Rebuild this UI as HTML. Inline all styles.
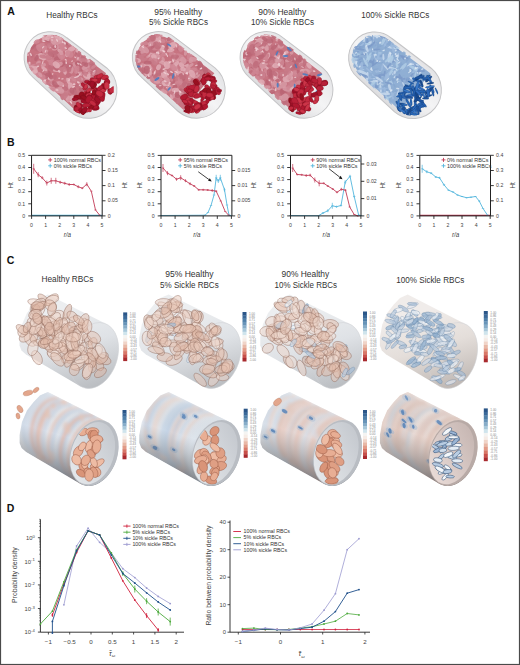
<!DOCTYPE html>
<html><head><meta charset="utf-8"><style>
html,body{margin:0;padding:0;background:#fff;}
body{width:520px;height:665px;overflow:hidden;}
svg{display:block;} text{font-family:'Liberation Sans',sans-serif;}
.k0{fill:#c57482;opacity:0.85}
.k1{fill:#d594a0;opacity:0.85}
.k2{fill:#cd808e;opacity:0.85}
.k3{fill:#b65c6c;opacity:0.85}
.k4{fill:#bd6676;opacity:0.85}
.k5{fill:#dea8b2;opacity:0.85}
.k6{fill:#f0d0d6;opacity:0.8}
.k7{fill:#b01830;stroke:#70101c;stroke-width:0.25}
.k8{fill:#981020;stroke:#70101c;stroke-width:0.25}
.k9{fill:#a01028;stroke:#70101c;stroke-width:0.25}
.ka{fill:#b82038;stroke:#70101c;stroke-width:0.25}
.kb{fill:#cc3448;stroke:#70101c;stroke-width:0.25}
.kc{fill:#c42a40;stroke:#70101c;stroke-width:0.25}
.kd{fill:#4a7cc0;opacity:0.9}
.ke{fill:#98b6da;opacity:0.85}
.kf{fill:#86a8d0;opacity:0.85}
.k10{fill:#7494c6;opacity:0.85}
.k11{fill:#c6d8ec;opacity:0.85}
.k12{fill:#80a2ce;opacity:0.85}
.k13{fill:#accae4;opacity:0.85}
.k14{fill:#dce8f4;opacity:0.8}
.k15{fill:#2660b0;stroke:#103a70;stroke-width:0.25}
.k16{fill:#2a68b8;stroke:#103a70;stroke-width:0.25}
.k17{fill:#3a78c8;stroke:#103a70;stroke-width:0.25}
.k18{fill:#1f54a0;stroke:#103a70;stroke-width:0.25}
.k19{fill:#2f6cc0;stroke:#103a70;stroke-width:0.25}
.k1a{fill:#1a4a90;stroke:#103a70;stroke-width:0.25}
.k1b{fill:#dcb4a2;fill-opacity:0.5;stroke:#8a6254;stroke-width:0.55;stroke-opacity:0.7}
.k1c{fill:#e4c2b2;fill-opacity:0.5;stroke:#8a6254;stroke-width:0.55;stroke-opacity:0.7}
.k1d{fill:#e9c8b8;fill-opacity:0.5;stroke:#8a6254;stroke-width:0.55;stroke-opacity:0.7}
.k1e{fill:#e2bcaa;fill-opacity:0.5;stroke:#8a6254;stroke-width:0.55;stroke-opacity:0.7}
.k1f{fill:#f0dcd2;fill-opacity:0.5;stroke:#8a6254;stroke-width:0.55;stroke-opacity:0.7}
.k20{fill:#eed4c8;fill-opacity:0.5;stroke:#8a6254;stroke-width:0.55;stroke-opacity:0.7}
.k21{fill:#dfe6ee;fill-opacity:0.7;stroke:#56789c;stroke-width:0.45;stroke-opacity:0.6}
.k22{fill:#a6bed6;fill-opacity:0.7;stroke:#56789c;stroke-width:0.45;stroke-opacity:0.6}
.k23{fill:#cdd9e6;fill-opacity:0.7;stroke:#56789c;stroke-width:0.45;stroke-opacity:0.6}
.k24{fill:#eef2f6;fill-opacity:0.7;stroke:#56789c;stroke-width:0.45;stroke-opacity:0.6}
.k25{fill:#b8cade;fill-opacity:0.7;stroke:#56789c;stroke-width:0.45;stroke-opacity:0.6}
.k26{fill:#94b2d0;fill-opacity:0.7;stroke:#56789c;stroke-width:0.45;stroke-opacity:0.6}
.k27{fill:#e9c6b8;opacity:0.6}
.k28{fill:#ecd0c4;opacity:0.6}
.k29{fill:#d2dcea;opacity:0.6}
.k2a{fill:#c6d3e4;opacity:0.6}
.k2b{fill:#e4bcae;opacity:0.6}
.k2c{fill:#df9f84;stroke:#9a5a44;stroke-width:0.45}
.k2d{fill:#e8ae94;stroke:#9a5a44;stroke-width:0.45}
.k2e{fill:#d99478;stroke:#9a5a44;stroke-width:0.45}
.k2f{fill:#eebca4;stroke:#9a5a44;stroke-width:0.45}
.k30{fill:#e3a68c;stroke:#b07860;stroke-width:0.3}
.k31{fill:#e8d4cc;opacity:0.6}
.k32{fill:#c4d4e6;opacity:0.6}
.k33{fill:#e4cfc8;opacity:0.6}
.k34{fill:#bccde2;opacity:0.6}
.k35{fill:#dfe6ee;opacity:0.6}
.k36{fill:#2f65a8;opacity:0.85}
.k37{fill:#8fb2d8;opacity:0.35}
.k38{fill:#e2c4b8;opacity:0.6}
.k39{fill:#e8cbc0;opacity:0.6}
.k3a{fill:#d8e0ea;opacity:0.6}
.k3b{fill:#cfd9e6;opacity:0.6}
.k3c{fill:#e6d2ca;opacity:0.6}
.k3d{fill:#e2ccc4;opacity:0.6}
.k3e{fill:#dec4ba;opacity:0.6}
.k3f{fill:#dcc6be;opacity:0.6}
.k40{fill:#f4f7fa;stroke:#2e4e74;stroke-width:0.5}
.k41{fill:#b8cce2;stroke:#2e4e74;stroke-width:0.5}
.k42{fill:#e4ecf4;stroke:#2e4e74;stroke-width:0.5}
.k43{fill:#9ab4d4;stroke:#2e4e74;stroke-width:0.5}
.k44{fill:#d0deec;stroke:#2e4e74;stroke-width:0.5}
</style></head><body>
<svg width="520" height="665" viewBox="0 0 520 665">
<defs><filter id="bl" x="-10%" y="-10%" width="120%" height="120%"><feGaussianBlur stdDeviation="1.6"/></filter></defs>
<rect x="0" y="0" width="520" height="665" fill="#fff"/>
<defs><clipPath id="capA1"><path d="M-25,-23 L25,-25.5 A25.5,25.5 0 0 1 25,25.5 L-25,23 A23,23 0 0 1 -25,-23 Z"/></clipPath><linearGradient id="capg1" x1="0" y1="0" x2="0" y2="1"><stop offset="0" stop-color="#e4e4e6"/><stop offset="0.5" stop-color="#f4f4f5"/><stop offset="1" stop-color="#dcdcde"/></linearGradient></defs>
<g transform="translate(69.25,73.75) rotate(40)">
<path d="M-25,-26 L25,-28.5 A28.5,28.5 0 0 1 25,28.5 L-25,26 A26,26 0 0 1 -25,-26 Z" fill="url(#capg1)" stroke="#c4c4c6" stroke-width="1"/>
<g clip-path="url(#capA1)">
<path d="M-25,-21.5 L28,-24.0 L28,24.0 L-25,21.5 A21.5,21.5 0 0 1 -25,-21.5 Z" fill="#c46c7a"/>
<ellipse class="k0" rx="3.8" ry="1.8" transform="translate(-24.6,-16.1)rotate(17)"/>
<ellipse class="k1" rx="2.9" ry="1.4" transform="translate(-7.5,18.8)rotate(13)"/>
<ellipse class="k2" rx="4.2" ry="2.0" transform="translate(-40.0,-3.5)rotate(114)"/>
<ellipse class="k2" rx="3.7" ry="1.7" transform="translate(-7.5,-20.2)rotate(8)"/>
<ellipse class="k3" rx="2.8" ry="1.4" transform="translate(10.7,-9.7)rotate(101)"/>
<ellipse class="k4" rx="3.6" ry="1.9" transform="translate(-1.0,-18.3)rotate(99)"/>
<ellipse class="k1" rx="2.9" ry="2.0" transform="translate(-41.9,-20.3)rotate(140)"/>
<ellipse class="k2" rx="3.2" ry="1.7" transform="translate(-15.3,19.5)rotate(126)"/>
<ellipse class="k5" rx="3.6" ry="2.7" transform="translate(-29.9,3.4)rotate(81)"/>
<ellipse class="k3" rx="3.5" ry="1.8" transform="translate(-5.8,-19.6)rotate(27)"/>
<ellipse class="k0" rx="3.8" ry="2.8" transform="translate(-13.7,-21.2)rotate(142)"/>
<ellipse class="k1" rx="3.2" ry="2.0" transform="translate(8.0,-7.4)rotate(12)"/>
<ellipse class="k5" rx="3.9" ry="1.8" transform="translate(-39.8,-10.6)rotate(126)"/>
<ellipse class="k1" rx="4.1" ry="2.3" transform="translate(-3.3,22.7)rotate(160)"/>
<ellipse class="k1" rx="3.2" ry="2.1" transform="translate(-23.1,20.3)rotate(11)"/>
<ellipse class="k1" rx="3.0" ry="1.8" transform="translate(4.7,-17.1)rotate(15)"/>
<ellipse class="k0" rx="4.3" ry="3.1" transform="translate(-16.4,2.3)rotate(50)"/>
<ellipse class="k2" rx="4.3" ry="3.4" transform="translate(-18.6,-6.5)rotate(15)"/>
<ellipse class="k2" rx="2.5" ry="1.9" transform="translate(-36.0,7.3)rotate(47)"/>
<ellipse class="k2" rx="3.2" ry="2.1" transform="translate(-45.7,-3.7)rotate(124)"/>
<ellipse class="k5" rx="3.9" ry="1.8" transform="translate(-12.0,5.4)rotate(144)"/>
<ellipse class="k4" rx="2.7" ry="1.8" transform="translate(-20.1,-4.6)rotate(34)"/>
<ellipse class="k4" rx="2.7" ry="1.8" transform="translate(19.0,-2.7)rotate(0)"/>
<ellipse class="k2" rx="3.2" ry="1.5" transform="translate(-36.0,-18.3)rotate(111)"/>
<ellipse class="k4" rx="3.2" ry="1.8" transform="translate(-36.2,-11.4)rotate(21)"/>
<ellipse class="k2" rx="3.5" ry="1.9" transform="translate(-13.8,22.0)rotate(18)"/>
<ellipse class="k4" rx="4.2" ry="2.1" transform="translate(-23.4,-10.8)rotate(37)"/>
<ellipse class="k0" rx="3.9" ry="3.0" transform="translate(16.8,-6.4)rotate(54)"/>
<ellipse class="k2" rx="4.2" ry="2.6" transform="translate(-3.6,-18.8)rotate(64)"/>
<ellipse class="k0" rx="3.5" ry="2.4" transform="translate(-31.3,1.9)rotate(146)"/>
<ellipse class="k5" rx="4.1" ry="3.0" transform="translate(19.0,16.2)rotate(145)"/>
<ellipse class="k3" rx="4.0" ry="3.2" transform="translate(-32.8,-0.3)rotate(85)"/>
<ellipse class="k5" rx="3.2" ry="2.3" transform="translate(-33.2,4.8)rotate(178)"/>
<ellipse class="k2" rx="2.9" ry="1.6" transform="translate(17.0,-6.2)rotate(61)"/>
<ellipse class="k5" rx="3.7" ry="1.7" transform="translate(-14.1,22.3)rotate(62)"/>
<ellipse class="k5" rx="2.7" ry="1.6" transform="translate(-3.6,15.4)rotate(135)"/>
<ellipse class="k5" rx="4.1" ry="2.3" transform="translate(-14.4,-14.8)rotate(71)"/>
<ellipse class="k2" rx="3.9" ry="2.0" transform="translate(-19.5,20.6)rotate(5)"/>
<ellipse class="k0" rx="3.8" ry="2.5" transform="translate(-7.0,-1.6)rotate(176)"/>
<ellipse class="k4" rx="3.6" ry="1.8" transform="translate(-2.6,-6.9)rotate(144)"/>
<ellipse class="k2" rx="4.0" ry="2.0" transform="translate(1.9,-18.3)rotate(149)"/>
<ellipse class="k0" rx="3.1" ry="1.6" transform="translate(-32.1,-11.4)rotate(59)"/>
<ellipse class="k1" rx="2.6" ry="1.9" transform="translate(-10.1,15.4)rotate(119)"/>
<ellipse class="k2" rx="4.2" ry="3.1" transform="translate(7.8,0.8)rotate(96)"/>
<ellipse class="k4" rx="3.4" ry="1.7" transform="translate(-11.4,-22.1)rotate(140)"/>
<ellipse class="k4" rx="3.7" ry="1.8" transform="translate(-36.1,-16.5)rotate(59)"/>
<ellipse class="k0" rx="4.1" ry="2.0" transform="translate(-11.8,2.6)rotate(10)"/>
<ellipse class="k4" rx="2.7" ry="1.6" transform="translate(-33.4,-21.1)rotate(137)"/>
<ellipse class="k0" rx="3.7" ry="2.3" transform="translate(14.2,-2.6)rotate(36)"/>
<ellipse class="k2" rx="4.1" ry="2.6" transform="translate(-27.7,0.4)rotate(126)"/>
<ellipse class="k2" rx="3.0" ry="1.9" transform="translate(11.9,20.3)rotate(151)"/>
<ellipse class="k2" rx="3.4" ry="1.6" transform="translate(-36.9,-17.4)rotate(77)"/>
<ellipse class="k5" rx="2.7" ry="2.0" transform="translate(-32.0,-9.1)rotate(116)"/>
<ellipse class="k5" rx="2.8" ry="1.7" transform="translate(-21.8,-11.4)rotate(171)"/>
<ellipse class="k2" rx="4.5" ry="3.3" transform="translate(-19.7,-0.6)rotate(127)"/>
<ellipse class="k4" rx="3.3" ry="1.9" transform="translate(19.6,-4.4)rotate(130)"/>
<ellipse class="k3" rx="3.4" ry="1.5" transform="translate(-44.7,2.5)rotate(93)"/>
<ellipse class="k2" rx="2.7" ry="2.1" transform="translate(-26.5,21.2)rotate(175)"/>
<ellipse class="k3" rx="2.6" ry="1.9" transform="translate(-39.1,-10.8)rotate(136)"/>
<ellipse class="k1" rx="3.9" ry="3.0" transform="translate(8.1,16.1)rotate(27)"/>
<ellipse class="k4" rx="3.9" ry="1.9" transform="translate(14.7,3.2)rotate(144)"/>
<ellipse class="k4" rx="3.0" ry="1.4" transform="translate(-33.9,18.2)rotate(144)"/>
<ellipse class="k1" rx="2.6" ry="2.0" transform="translate(-40.5,16.4)rotate(2)"/>
<ellipse class="k4" rx="4.3" ry="2.9" transform="translate(19.6,-3.8)rotate(95)"/>
<ellipse class="k2" rx="2.8" ry="1.3" transform="translate(-30.3,-18.0)rotate(168)"/>
<ellipse class="k5" rx="2.9" ry="1.8" transform="translate(-4.5,1.4)rotate(32)"/>
<ellipse class="k5" rx="3.0" ry="1.4" transform="translate(-23.1,-22.2)rotate(91)"/>
<ellipse class="k5" rx="3.0" ry="1.8" transform="translate(18.6,0.7)rotate(147)"/>
<ellipse class="k0" rx="4.2" ry="2.4" transform="translate(-17.5,-0.2)rotate(55)"/>
<ellipse class="k5" rx="2.9" ry="2.2" transform="translate(-31.8,-12.4)rotate(114)"/>
<ellipse class="k4" rx="2.6" ry="1.3" transform="translate(-19.3,-7.0)rotate(113)"/>
<ellipse class="k1" rx="2.6" ry="1.8" transform="translate(12.1,-3.2)rotate(157)"/>
<ellipse class="k1" rx="3.0" ry="1.6" transform="translate(-1.7,-10.0)rotate(33)"/>
<ellipse class="k0" rx="3.2" ry="1.8" transform="translate(-28.2,-22.8)rotate(58)"/>
<ellipse class="k3" rx="2.9" ry="1.5" transform="translate(-43.7,17.6)rotate(69)"/>
<ellipse class="k4" rx="2.9" ry="1.8" transform="translate(-14.7,0.1)rotate(16)"/>
<ellipse class="k3" rx="3.7" ry="2.2" transform="translate(7.9,-16.4)rotate(55)"/>
<ellipse class="k5" rx="3.6" ry="2.5" transform="translate(-30.6,3.9)rotate(161)"/>
<ellipse class="k1" rx="4.0" ry="2.8" transform="translate(5.7,4.4)rotate(27)"/>
<ellipse class="k0" rx="2.6" ry="1.9" transform="translate(1.8,6.6)rotate(113)"/>
<ellipse class="k0" rx="2.8" ry="1.8" transform="translate(2.4,14.4)rotate(102)"/>
<ellipse class="k5" rx="3.9" ry="2.8" transform="translate(7.7,-22.3)rotate(123)"/>
<ellipse class="k3" rx="2.6" ry="1.3" transform="translate(-0.2,-12.4)rotate(173)"/>
<ellipse class="k0" rx="2.6" ry="1.2" transform="translate(-21.1,-2.2)rotate(123)"/>
<ellipse class="k0" rx="4.1" ry="2.9" transform="translate(-13.7,-22.8)rotate(162)"/>
<ellipse class="k4" rx="4.0" ry="2.5" transform="translate(-39.9,1.2)rotate(152)"/>
<ellipse class="k1" rx="3.0" ry="2.0" transform="translate(-30.5,11.8)rotate(89)"/>
<ellipse class="k0" rx="3.9" ry="2.8" transform="translate(-20.8,-1.0)rotate(114)"/>
<ellipse class="k5" rx="3.2" ry="2.1" transform="translate(-32.9,4.6)rotate(55)"/>
<ellipse class="k5" rx="2.6" ry="1.4" transform="translate(-8.5,-22.4)rotate(18)"/>
<ellipse class="k1" rx="3.9" ry="2.2" transform="translate(-31.6,-0.5)rotate(84)"/>
<ellipse class="k1" rx="2.9" ry="2.3" transform="translate(-38.2,18.1)rotate(3)"/>
<ellipse class="k3" rx="4.4" ry="2.7" transform="translate(-15.7,14.7)rotate(70)"/>
<ellipse class="k5" rx="2.6" ry="1.3" transform="translate(14.5,19.8)rotate(94)"/>
<ellipse class="k4" rx="4.1" ry="2.6" transform="translate(16.9,-16.9)rotate(127)"/>
<ellipse class="k4" rx="3.5" ry="1.6" transform="translate(-30.7,18.3)rotate(171)"/>
<ellipse class="k1" rx="4.0" ry="2.4" transform="translate(-1.0,-4.4)rotate(57)"/>
<ellipse class="k4" rx="4.0" ry="3.0" transform="translate(9.5,-22.9)rotate(169)"/>
<ellipse class="k4" rx="4.0" ry="2.1" transform="translate(-33.1,-22.5)rotate(71)"/>
<ellipse class="k3" rx="3.2" ry="1.9" transform="translate(19.9,4.1)rotate(154)"/>
<ellipse class="k2" rx="3.8" ry="2.6" transform="translate(-27.5,-20.6)rotate(45)"/>
<ellipse class="k1" rx="2.9" ry="1.7" transform="translate(-28.5,0.5)rotate(159)"/>
<ellipse class="k0" rx="4.3" ry="3.4" transform="translate(7.6,6.0)rotate(37)"/>
<ellipse class="k2" rx="3.3" ry="2.2" transform="translate(-40.7,19.9)rotate(116)"/>
<ellipse class="k1" rx="4.4" ry="2.2" transform="translate(-27.1,-20.7)rotate(75)"/>
<ellipse class="k1" rx="4.0" ry="2.7" transform="translate(-27.4,-11.2)rotate(118)"/>
<ellipse class="k2" rx="3.3" ry="1.7" transform="translate(-26.1,2.6)rotate(14)"/>
<ellipse class="k3" rx="3.6" ry="2.2" transform="translate(-13.0,14.3)rotate(179)"/>
<ellipse class="k3" rx="2.9" ry="1.4" transform="translate(-16.3,-16.6)rotate(100)"/>
<ellipse class="k4" rx="4.1" ry="2.1" transform="translate(-24.9,-6.1)rotate(135)"/>
<ellipse class="k3" rx="3.5" ry="2.1" transform="translate(-18.8,-4.0)rotate(135)"/>
<ellipse class="k0" rx="3.2" ry="2.2" transform="translate(-13.1,3.4)rotate(113)"/>
<ellipse class="k1" rx="3.0" ry="1.6" transform="translate(10.9,-13.1)rotate(116)"/>
<ellipse class="k2" rx="4.1" ry="3.3" transform="translate(-17.5,-8.6)rotate(6)"/>
<ellipse class="k4" rx="3.4" ry="2.3" transform="translate(0.8,18.2)rotate(13)"/>
<ellipse class="k1" rx="3.6" ry="2.2" transform="translate(15.4,19.7)rotate(45)"/>
<ellipse class="k5" rx="3.5" ry="2.4" transform="translate(-38.8,-15.9)rotate(126)"/>
<ellipse class="k4" rx="2.7" ry="1.9" transform="translate(9.9,18.2)rotate(141)"/>
<ellipse class="k2" rx="3.8" ry="2.1" transform="translate(-30.6,19.3)rotate(113)"/>
<ellipse class="k3" rx="4.0" ry="2.0" transform="translate(-11.1,-2.9)rotate(94)"/>
<ellipse class="k4" rx="2.9" ry="1.9" transform="translate(-7.5,-5.1)rotate(97)"/>
<ellipse class="k2" rx="3.1" ry="2.3" transform="translate(19.8,-10.2)rotate(86)"/>
<ellipse class="k3" rx="4.4" ry="3.1" transform="translate(-30.5,-11.6)rotate(10)"/>
<ellipse class="k2" rx="3.8" ry="1.8" transform="translate(-33.2,17.7)rotate(120)"/>
<ellipse class="k1" rx="2.6" ry="1.5" transform="translate(15.1,-12.6)rotate(65)"/>
<ellipse class="k4" rx="3.1" ry="2.3" transform="translate(-19.8,-22.7)rotate(37)"/>
<ellipse class="k2" rx="4.1" ry="2.2" transform="translate(18.0,-8.7)rotate(48)"/>
<ellipse class="k2" rx="3.7" ry="2.5" transform="translate(12.7,-18.0)rotate(87)"/>
<ellipse class="k4" rx="3.7" ry="2.9" transform="translate(14.1,-20.4)rotate(38)"/>
<ellipse class="k1" rx="2.6" ry="1.2" transform="translate(18.3,-16.5)rotate(81)"/>
<ellipse class="k2" rx="2.7" ry="1.3" transform="translate(1.0,-8.5)rotate(59)"/>
<ellipse class="k5" rx="4.0" ry="1.8" transform="translate(-33.8,20.1)rotate(131)"/>
<ellipse class="k4" rx="3.4" ry="1.7" transform="translate(9.4,22.3)rotate(50)"/>
<ellipse class="k2" rx="2.7" ry="2.2" transform="translate(-22.8,21.0)rotate(68)"/>
<ellipse class="k5" rx="4.1" ry="2.0" transform="translate(4.7,-8.8)rotate(85)"/>
<ellipse class="k1" rx="2.9" ry="1.7" transform="translate(-21.4,19.3)rotate(5)"/>
<ellipse class="k4" rx="4.0" ry="1.9" transform="translate(-18.9,14.3)rotate(84)"/>
<ellipse class="k0" rx="2.9" ry="1.4" transform="translate(7.0,-20.1)rotate(61)"/>
<ellipse class="k5" rx="3.7" ry="2.0" transform="translate(-28.0,21.1)rotate(124)"/>
<ellipse class="k5" rx="3.9" ry="2.6" transform="translate(15.0,-9.3)rotate(170)"/>
<ellipse class="k1" rx="2.7" ry="1.9" transform="translate(-41.7,15.0)rotate(172)"/>
<ellipse class="k1" rx="3.4" ry="2.1" transform="translate(-20.5,-11.5)rotate(33)"/>
<ellipse class="k0" rx="4.1" ry="3.0" transform="translate(7.0,11.0)rotate(43)"/>
<ellipse class="k0" rx="4.1" ry="2.7" transform="translate(10.8,-1.8)rotate(36)"/>
<ellipse class="k0" rx="2.6" ry="1.2" transform="translate(3.7,-11.6)rotate(98)"/>
<ellipse class="k0" rx="2.7" ry="1.3" transform="translate(-35.4,-3.4)rotate(15)"/>
<ellipse class="k2" rx="3.9" ry="2.4" transform="translate(-39.6,-0.1)rotate(24)"/>
<ellipse class="k5" rx="3.0" ry="1.9" transform="translate(-15.6,18.0)rotate(137)"/>
<ellipse class="k3" rx="3.1" ry="1.7" transform="translate(5.5,-9.5)rotate(133)"/>
<ellipse class="k0" rx="3.0" ry="1.5" transform="translate(-32.9,-11.6)rotate(34)"/>
<ellipse class="k5" rx="3.0" ry="1.9" transform="translate(-41.7,-11.4)rotate(146)"/>
<ellipse class="k2" rx="2.7" ry="1.7" transform="translate(-2.9,22.6)rotate(151)"/>
<ellipse class="k2" rx="3.1" ry="1.5" transform="translate(14.3,-21.1)rotate(108)"/>
<ellipse class="k2" rx="2.7" ry="1.7" transform="translate(8.6,-14.1)rotate(81)"/>
<ellipse class="k0" rx="4.4" ry="2.1" transform="translate(-28.8,12.8)rotate(128)"/>
<ellipse class="k3" rx="3.2" ry="1.5" transform="translate(-22.9,-21.3)rotate(7)"/>
<ellipse class="k1" rx="4.1" ry="3.0" transform="translate(2.3,19.0)rotate(122)"/>
<ellipse class="k0" rx="2.9" ry="2.1" transform="translate(-33.8,-8.6)rotate(87)"/>
<ellipse class="k0" rx="3.8" ry="1.9" transform="translate(-19.1,13.6)rotate(16)"/>
<ellipse class="k3" rx="3.3" ry="1.8" transform="translate(-35.2,9.0)rotate(75)"/>
<ellipse class="k4" rx="4.3" ry="2.5" transform="translate(-42.6,11.3)rotate(156)"/>
<ellipse class="k2" rx="2.9" ry="2.0" transform="translate(19.8,-6.3)rotate(170)"/>
<ellipse class="k0" rx="2.7" ry="1.3" transform="translate(-17.3,-15.8)rotate(159)"/>
<ellipse class="k5" rx="2.5" ry="1.6" transform="translate(-15.6,-15.5)rotate(145)"/>
<ellipse class="k2" rx="4.4" ry="3.1" transform="translate(-19.8,3.4)rotate(26)"/>
<ellipse class="k1" rx="4.4" ry="2.1" transform="translate(-27.3,1.0)rotate(136)"/>
<ellipse class="k4" rx="3.1" ry="2.3" transform="translate(6.3,14.0)rotate(176)"/>
<ellipse class="k5" rx="4.4" ry="2.5" transform="translate(-14.1,-20.5)rotate(112)"/>
<ellipse class="k1" rx="4.1" ry="2.1" transform="translate(8.4,-15.6)rotate(111)"/>
<ellipse class="k0" rx="3.6" ry="1.7" transform="translate(-33.1,-1.2)rotate(28)"/>
<ellipse class="k2" rx="4.4" ry="3.3" transform="translate(-22.3,-16.1)rotate(7)"/>
<ellipse class="k4" rx="2.6" ry="1.9" transform="translate(-8.9,11.8)rotate(70)"/>
<ellipse class="k3" rx="4.1" ry="2.7" transform="translate(-15.9,16.1)rotate(105)"/>
<ellipse class="k4" rx="3.4" ry="2.0" transform="translate(-17.9,7.3)rotate(1)"/>
<ellipse class="k1" rx="3.4" ry="2.3" transform="translate(19.1,-1.6)rotate(151)"/>
<ellipse class="k3" rx="2.6" ry="1.5" transform="translate(7.5,-4.6)rotate(17)"/>
<ellipse class="k4" rx="2.6" ry="1.7" transform="translate(-16.8,0.5)rotate(166)"/>
<ellipse class="k1" rx="2.7" ry="1.9" transform="translate(-25.3,10.1)rotate(117)"/>
<ellipse class="k5" rx="2.6" ry="1.8" transform="translate(5.8,-21.8)rotate(147)"/>
<ellipse class="k2" rx="3.5" ry="2.7" transform="translate(-33.2,22.2)rotate(124)"/>
<ellipse class="k3" rx="4.2" ry="2.8" transform="translate(1.6,-12.8)rotate(29)"/>
<ellipse class="k0" rx="4.1" ry="2.1" transform="translate(13.2,-10.4)rotate(174)"/>
<ellipse class="k3" rx="3.7" ry="2.0" transform="translate(-14.3,4.2)rotate(7)"/>
<ellipse class="k1" rx="4.4" ry="3.0" transform="translate(-34.0,-15.6)rotate(30)"/>
<ellipse class="k3" rx="3.6" ry="2.4" transform="translate(5.8,-17.7)rotate(174)"/>
<ellipse class="k3" rx="3.9" ry="3.0" transform="translate(-16.1,1.0)rotate(179)"/>
<ellipse class="k3" rx="4.1" ry="2.2" transform="translate(-4.4,-4.9)rotate(104)"/>
<ellipse class="k5" rx="3.4" ry="1.7" transform="translate(-22.2,12.2)rotate(172)"/>
<ellipse class="k0" rx="3.1" ry="2.5" transform="translate(-26.4,0.7)rotate(167)"/>
<ellipse class="k3" rx="4.0" ry="2.1" transform="translate(13.1,10.7)rotate(111)"/>
<ellipse class="k2" rx="4.3" ry="2.1" transform="translate(-17.5,0.6)rotate(110)"/>
<ellipse class="k0" rx="3.6" ry="2.0" transform="translate(-43.0,-20.5)rotate(64)"/>
<ellipse class="k0" rx="3.7" ry="1.9" transform="translate(-31.2,3.8)rotate(149)"/>
<ellipse class="k1" rx="4.1" ry="2.9" transform="translate(-35.5,-22.4)rotate(17)"/>
<ellipse class="k3" rx="4.1" ry="2.4" transform="translate(-3.9,17.1)rotate(174)"/>
<ellipse class="k0" rx="4.3" ry="2.8" transform="translate(-42.3,14.8)rotate(80)"/>
<ellipse class="k4" rx="3.0" ry="2.3" transform="translate(15.9,10.7)rotate(11)"/>
<ellipse class="k4" rx="2.8" ry="2.2" transform="translate(-44.3,-14.5)rotate(2)"/>
<ellipse class="k0" rx="2.8" ry="1.4" transform="translate(-9.6,20.3)rotate(116)"/>
<ellipse class="k4" rx="3.7" ry="2.3" transform="translate(-3.3,-3.9)rotate(54)"/>
<ellipse class="k4" rx="4.1" ry="2.8" transform="translate(-42.8,17.9)rotate(68)"/>
<ellipse class="k2" rx="2.7" ry="1.8" transform="translate(-17.2,19.0)rotate(41)"/>
<ellipse class="k5" rx="2.6" ry="1.5" transform="translate(-39.1,-12.3)rotate(167)"/>
<ellipse class="k5" rx="2.6" ry="1.8" transform="translate(16.2,-10.9)rotate(78)"/>
<ellipse class="k2" rx="3.0" ry="2.0" transform="translate(6.0,1.1)rotate(15)"/>
<ellipse class="k2" rx="4.3" ry="3.2" transform="translate(-12.5,-15.2)rotate(170)"/>
<ellipse class="k2" rx="4.3" ry="2.4" transform="translate(3.2,-8.0)rotate(68)"/>
<ellipse class="k0" rx="4.5" ry="3.3" transform="translate(10.2,19.4)rotate(85)"/>
<ellipse class="k5" rx="4.2" ry="2.5" transform="translate(9.4,9.1)rotate(42)"/>
<ellipse class="k0" rx="3.3" ry="2.2" transform="translate(12.4,13.3)rotate(164)"/>
<ellipse class="k3" rx="2.7" ry="2.1" transform="translate(-36.5,-21.8)rotate(176)"/>
<ellipse class="k4" rx="2.8" ry="1.9" transform="translate(0.2,-21.6)rotate(125)"/>
<ellipse class="k0" rx="3.7" ry="2.1" transform="translate(2.6,-20.0)rotate(160)"/>
<ellipse class="k4" rx="4.3" ry="3.4" transform="translate(-41.6,16.9)rotate(44)"/>
<ellipse class="k5" rx="4.4" ry="3.4" transform="translate(-32.6,-21.4)rotate(16)"/>
<ellipse class="k5" rx="3.5" ry="1.7" transform="translate(3.6,6.1)rotate(37)"/>
<ellipse class="k3" rx="2.5" ry="1.4" transform="translate(-24.9,-3.5)rotate(9)"/>
<ellipse class="k1" rx="4.0" ry="2.7" transform="translate(4.2,18.9)rotate(153)"/>
<ellipse class="k4" rx="3.3" ry="2.0" transform="translate(-5.2,-21.6)rotate(62)"/>
<ellipse class="k4" rx="2.9" ry="2.2" transform="translate(0.5,1.7)rotate(103)"/>
<ellipse class="k4" rx="3.5" ry="2.0" transform="translate(-27.1,-2.9)rotate(1)"/>
<ellipse class="k1" rx="4.1" ry="2.1" transform="translate(-13.6,-0.4)rotate(107)"/>
<ellipse class="k2" rx="3.7" ry="1.8" transform="translate(17.2,0.7)rotate(169)"/>
<ellipse class="k1" rx="4.4" ry="3.1" transform="translate(-30.7,-15.4)rotate(142)"/>
<ellipse class="k1" rx="3.8" ry="2.2" transform="translate(0.0,13.2)rotate(167)"/>
<ellipse class="k3" rx="3.3" ry="2.3" transform="translate(12.9,11.3)rotate(37)"/>
<ellipse class="k5" rx="3.5" ry="2.0" transform="translate(-28.6,18.5)rotate(42)"/>
<ellipse class="k5" rx="4.0" ry="2.9" transform="translate(-15.6,1.5)rotate(6)"/>
<ellipse class="k0" rx="4.2" ry="2.6" transform="translate(-7.6,1.0)rotate(134)"/>
<ellipse class="k2" rx="4.0" ry="2.6" transform="translate(-34.8,-2.8)rotate(60)"/>
<ellipse class="k6" rx="1.3" ry="0.6" transform="translate(-1.9,8.3)rotate(136)"/>
<ellipse class="k6" rx="1.5" ry="1.0" transform="translate(10.4,4.9)rotate(130)"/>
<ellipse class="k6" rx="1.0" ry="1.0" transform="translate(-4.6,-6.4)rotate(47)"/>
<ellipse class="k6" rx="1.0" ry="0.8" transform="translate(19.0,20.8)rotate(35)"/>
<ellipse class="k6" rx="1.1" ry="0.6" transform="translate(-34.9,-14.8)rotate(49)"/>
<ellipse class="k6" rx="1.1" ry="0.9" transform="translate(-37.7,17.3)rotate(84)"/>
<ellipse class="k6" rx="1.2" ry="0.6" transform="translate(-44.2,14.9)rotate(177)"/>
<ellipse class="k6" rx="1.1" ry="0.9" transform="translate(-25.2,-20.1)rotate(1)"/>
<ellipse class="k6" rx="1.5" ry="0.8" transform="translate(-28.8,14.8)rotate(116)"/>
<ellipse class="k6" rx="1.5" ry="0.9" transform="translate(11.7,7.1)rotate(116)"/>
<ellipse class="k6" rx="1.0" ry="0.6" transform="translate(-5.9,-11.4)rotate(78)"/>
<ellipse class="k6" rx="1.7" ry="0.6" transform="translate(-27.6,8.4)rotate(72)"/>
<ellipse class="k6" rx="1.6" ry="0.7" transform="translate(2.7,-14.4)rotate(4)"/>
<ellipse class="k6" rx="1.5" ry="0.9" transform="translate(12.5,0.8)rotate(161)"/>
<ellipse class="k6" rx="1.6" ry="1.0" transform="translate(-23.0,-20.6)rotate(19)"/>
<ellipse class="k6" rx="1.5" ry="1.0" transform="translate(-28.2,-11.8)rotate(36)"/>
<ellipse class="k6" rx="1.3" ry="0.6" transform="translate(-21.7,14.6)rotate(86)"/>
<ellipse class="k6" rx="1.2" ry="0.7" transform="translate(-43.9,12.3)rotate(134)"/>
<ellipse class="k6" rx="1.0" ry="0.8" transform="translate(-14.4,20.6)rotate(168)"/>
<ellipse class="k6" rx="1.4" ry="0.6" transform="translate(3.9,4.8)rotate(69)"/>
<ellipse class="k6" rx="1.7" ry="0.8" transform="translate(-40.9,-17.8)rotate(121)"/>
<ellipse class="k6" rx="1.1" ry="0.7" transform="translate(-6.1,-16.4)rotate(172)"/>
<ellipse class="k6" rx="1.8" ry="0.7" transform="translate(20.1,20.8)rotate(30)"/>
<ellipse class="k6" rx="1.6" ry="0.6" transform="translate(17.3,-18.1)rotate(116)"/>
<ellipse class="k6" rx="0.9" ry="0.8" transform="translate(3.3,13.2)rotate(150)"/>
<ellipse class="k6" rx="1.8" ry="0.9" transform="translate(8.3,-3.6)rotate(117)"/>
<ellipse class="k6" rx="1.6" ry="0.6" transform="translate(7.2,-1.3)rotate(127)"/>
<ellipse class="k6" rx="1.5" ry="0.7" transform="translate(1.1,20.3)rotate(145)"/>
<ellipse class="k6" rx="1.5" ry="0.7" transform="translate(8.5,-6.0)rotate(87)"/>
<ellipse class="k6" rx="1.7" ry="0.6" transform="translate(-3.2,-17.4)rotate(55)"/>
<ellipse class="k6" rx="1.4" ry="0.7" transform="translate(-19.2,-17.4)rotate(170)"/>
<ellipse class="k6" rx="1.4" ry="0.8" transform="translate(-9.4,-6.5)rotate(38)"/>
<ellipse class="k6" rx="1.4" ry="0.8" transform="translate(-40.2,-8.7)rotate(154)"/>
<ellipse class="k6" rx="1.6" ry="0.6" transform="translate(-32.6,-2.0)rotate(72)"/>
<ellipse class="k6" rx="1.5" ry="1.0" transform="translate(-9.2,4.6)rotate(16)"/>
<ellipse class="k6" rx="1.4" ry="0.6" transform="translate(15.4,2.0)rotate(89)"/>
<ellipse class="k6" rx="1.6" ry="0.8" transform="translate(-30.7,-17.7)rotate(21)"/>
<ellipse class="k6" rx="1.6" ry="0.7" transform="translate(-37.1,-3.4)rotate(100)"/>
<ellipse class="k6" rx="1.5" ry="0.6" transform="translate(-12.5,17.0)rotate(30)"/>
<ellipse class="k6" rx="1.0" ry="0.7" transform="translate(-4.8,9.9)rotate(125)"/>
<ellipse class="k6" rx="1.3" ry="0.7" transform="translate(-11.7,-8.5)rotate(180)"/>
<ellipse class="k6" rx="1.2" ry="0.8" transform="translate(0.3,-13.4)rotate(4)"/>
<ellipse class="k6" rx="1.8" ry="0.9" transform="translate(-41.9,9.9)rotate(17)"/>
<ellipse class="k6" rx="0.9" ry="0.6" transform="translate(-12.6,10.8)rotate(75)"/>
<ellipse class="k6" rx="1.5" ry="0.7" transform="translate(-36.5,-17.0)rotate(140)"/>
<rect x="-51.0" y="-27.0" width="102" height="54" fill="#fff" opacity="0.06"/>
</g>
<g clip-path="url(#capA1)">
<ellipse class="k7" rx="3.1" ry="1.8" transform="translate(19.2,-5.3)rotate(149)"/>
<ellipse class="k8" rx="3.4" ry="1.9" transform="translate(27.1,22.2)rotate(62)"/>
<ellipse class="k7" rx="2.8" ry="2.1" transform="translate(34.3,10.5)rotate(141)"/>
<ellipse class="k9" rx="3.5" ry="1.8" transform="translate(39.9,6.9)rotate(20)"/>
<ellipse class="k8" rx="3.8" ry="2.0" transform="translate(40.4,8.0)rotate(164)"/>
<ellipse class="ka" rx="3.7" ry="2.4" transform="translate(22.8,-9.7)rotate(15)"/>
<ellipse class="k7" rx="2.9" ry="1.9" transform="translate(39.3,6.5)rotate(76)"/>
<ellipse class="k9" rx="3.1" ry="2.1" transform="translate(42.5,-12.5)rotate(33)"/>
<ellipse class="kb" rx="3.5" ry="2.6" transform="translate(31.7,2.7)rotate(102)"/>
<ellipse class="kb" rx="3.5" ry="2.6" transform="translate(34.0,3.9)rotate(12)"/>
<ellipse class="kb" rx="3.7" ry="2.0" transform="translate(26.1,-14.0)rotate(99)"/>
<ellipse class="k7" rx="3.6" ry="2.2" transform="translate(37.2,9.9)rotate(123)"/>
<ellipse class="kc" rx="2.6" ry="1.8" transform="translate(42.4,-12.8)rotate(81)"/>
<ellipse class="kc" rx="3.8" ry="2.6" transform="translate(29.6,-20.1)rotate(131)"/>
<ellipse class="k9" rx="3.3" ry="2.4" transform="translate(38.2,11.2)rotate(164)"/>
<ellipse class="k9" rx="3.6" ry="2.1" transform="translate(42.6,9.5)rotate(131)"/>
<ellipse class="k8" rx="2.7" ry="1.6" transform="translate(35.6,20.4)rotate(131)"/>
<ellipse class="kc" rx="2.8" ry="2.1" transform="translate(25.2,3.8)rotate(113)"/>
<ellipse class="k8" rx="4.1" ry="2.9" transform="translate(23.5,9.0)rotate(60)"/>
<ellipse class="k8" rx="3.9" ry="2.5" transform="translate(28.2,19.8)rotate(131)"/>
<ellipse class="kc" rx="3.5" ry="2.6" transform="translate(34.6,2.9)rotate(68)"/>
<ellipse class="k7" rx="3.9" ry="2.2" transform="translate(26.3,-14.4)rotate(58)"/>
<ellipse class="k9" rx="3.8" ry="2.7" transform="translate(29.5,11.1)rotate(150)"/>
<ellipse class="k8" rx="3.0" ry="2.2" transform="translate(34.2,-17.8)rotate(123)"/>
<ellipse class="kc" rx="2.9" ry="2.0" transform="translate(38.6,13.9)rotate(56)"/>
<ellipse class="k7" rx="4.1" ry="2.6" transform="translate(37.1,7.1)rotate(142)"/>
<ellipse class="k8" rx="3.8" ry="2.1" transform="translate(26.6,3.7)rotate(94)"/>
<ellipse class="kc" rx="3.4" ry="1.9" transform="translate(29.3,23.0)rotate(35)"/>
<ellipse class="k8" rx="3.5" ry="2.1" transform="translate(34.2,19.5)rotate(154)"/>
<ellipse class="kb" rx="4.0" ry="2.4" transform="translate(30.3,24.1)rotate(142)"/>
<ellipse class="k7" rx="3.4" ry="1.7" transform="translate(35.2,16.8)rotate(37)"/>
<ellipse class="k9" rx="2.9" ry="2.2" transform="translate(36.2,-10.6)rotate(77)"/>
<ellipse class="k7" rx="4.1" ry="2.3" transform="translate(39.9,-4.6)rotate(61)"/>
<ellipse class="k7" rx="3.7" ry="2.3" transform="translate(32.4,-3.2)rotate(155)"/>
<ellipse class="kc" rx="2.7" ry="1.6" transform="translate(22.6,-15.0)rotate(115)"/>
<ellipse class="kc" rx="3.3" ry="1.8" transform="translate(39.5,-3.1)rotate(179)"/>
<ellipse class="k7" rx="3.2" ry="2.3" transform="translate(30.4,6.4)rotate(151)"/>
<ellipse class="k7" rx="3.6" ry="2.7" transform="translate(40.2,7.9)rotate(18)"/>
<ellipse class="kb" rx="3.8" ry="2.5" transform="translate(29.6,3.6)rotate(136)"/>
<ellipse class="kc" rx="2.8" ry="1.7" transform="translate(35.4,10.1)rotate(79)"/>
<ellipse class="k7" rx="3.3" ry="2.4" transform="translate(34.1,-18.6)rotate(28)"/>
<ellipse class="kb" rx="3.2" ry="2.2" transform="translate(31.7,-3.6)rotate(172)"/>
<ellipse class="k7" rx="3.1" ry="1.7" transform="translate(32.9,20.9)rotate(113)"/>
<ellipse class="k9" rx="2.8" ry="2.0" transform="translate(40.6,4.1)rotate(75)"/>
<ellipse class="k9" rx="3.1" ry="2.2" transform="translate(30.0,5.7)rotate(88)"/>
<ellipse class="kc" rx="4.0" ry="2.7" transform="translate(43.7,-15.7)rotate(101)"/>
<ellipse class="k9" rx="4.2" ry="2.5" transform="translate(32.1,-4.8)rotate(180)"/>
<ellipse class="ka" rx="4.0" ry="2.1" transform="translate(33.3,-1.3)rotate(176)"/>
<ellipse class="kb" rx="3.4" ry="2.1" transform="translate(35.9,16.5)rotate(0)"/>
<ellipse class="kc" rx="3.3" ry="2.4" transform="translate(34.3,-12.5)rotate(50)"/>
<ellipse class="k8" rx="3.0" ry="1.6" transform="translate(34.6,21.2)rotate(14)"/>
<ellipse class="k8" rx="3.0" ry="1.7" transform="translate(38.0,11.4)rotate(121)"/>
<ellipse class="k8" rx="2.6" ry="1.8" transform="translate(26.4,-5.3)rotate(73)"/>
<ellipse class="kb" rx="3.1" ry="2.2" transform="translate(29.5,-3.3)rotate(16)"/>
<ellipse class="k8" rx="3.7" ry="2.1" transform="translate(21.2,12.8)rotate(150)"/>
<ellipse class="k8" rx="3.6" ry="1.8" transform="translate(26.7,8.9)rotate(168)"/>
<ellipse class="k9" rx="3.0" ry="2.1" transform="translate(33.1,0.8)rotate(140)"/>
<ellipse class="ka" rx="3.1" ry="1.6" transform="translate(36.2,-10.9)rotate(89)"/>
<ellipse class="kc" rx="2.6" ry="2.0" transform="translate(21.3,0.6)rotate(111)"/>
<ellipse class="ka" rx="4.1" ry="2.1" transform="translate(33.3,13.2)rotate(133)"/>
<ellipse class="kb" rx="3.3" ry="1.9" transform="translate(29.2,23.0)rotate(19)"/>
<ellipse class="k7" rx="3.4" ry="1.9" transform="translate(33.5,1.7)rotate(22)"/>
<ellipse class="kb" rx="3.0" ry="2.0" transform="translate(36.6,-9.2)rotate(134)"/>
<ellipse class="k8" rx="3.2" ry="1.9" transform="translate(35.6,19.9)rotate(95)"/>
<ellipse class="k9" rx="3.1" ry="1.8" transform="translate(20.8,15.6)rotate(129)"/>
<ellipse class="k8" rx="3.1" ry="1.9" transform="translate(35.0,-12.4)rotate(10)"/>
<ellipse class="ka" rx="3.0" ry="1.8" transform="translate(18.3,-0.5)rotate(2)"/>
<ellipse class="kc" rx="2.9" ry="1.9" transform="translate(34.0,8.3)rotate(25)"/>
<ellipse class="k7" rx="3.6" ry="2.5" transform="translate(40.4,-1.8)rotate(6)"/>
<ellipse class="k7" rx="3.0" ry="1.9" transform="translate(26.1,-7.2)rotate(112)"/>
<ellipse class="k9" rx="4.1" ry="2.4" transform="translate(30.0,18.6)rotate(63)"/>
<ellipse class="k7" rx="4.1" ry="3.0" transform="translate(31.5,6.9)rotate(84)"/>
<ellipse class="kb" rx="2.8" ry="1.6" transform="translate(25.5,0.1)rotate(104)"/>
<ellipse class="ka" rx="3.1" ry="1.9" transform="translate(28.4,21.5)rotate(103)"/>
<ellipse class="k8" rx="3.3" ry="2.1" transform="translate(26.8,-6.4)rotate(86)"/>
<ellipse class="k8" rx="2.9" ry="1.8" transform="translate(30.9,-1.7)rotate(71)"/>
<ellipse class="k9" rx="3.1" ry="1.8" transform="translate(34.3,-2.2)rotate(51)"/>
<ellipse class="k9" rx="2.9" ry="1.5" transform="translate(36.5,1.0)rotate(79)"/>
<ellipse class="kc" rx="3.8" ry="2.0" transform="translate(36.9,7.4)rotate(178)"/>
<ellipse class="kc" rx="3.7" ry="2.0" transform="translate(24.9,-18.0)rotate(111)"/>
<ellipse class="kb" rx="3.8" ry="2.6" transform="translate(36.4,-14.9)rotate(48)"/>
<ellipse class="kb" rx="3.3" ry="1.7" transform="translate(23.5,-11.4)rotate(138)"/>
<ellipse class="k9" rx="3.5" ry="2.1" transform="translate(22.7,-6.3)rotate(157)"/>
<ellipse class="k9" rx="3.3" ry="2.3" transform="translate(24.2,-6.8)rotate(64)"/>
<ellipse class="kb" rx="2.6" ry="1.8" transform="translate(20.9,-0.9)rotate(69)"/>
<ellipse class="kc" rx="3.3" ry="2.0" transform="translate(27.3,18.0)rotate(16)"/>
<ellipse class="kc" rx="3.9" ry="2.9" transform="translate(36.0,-4.3)rotate(175)"/>
<ellipse class="k9" rx="3.1" ry="2.0" transform="translate(35.1,17.8)rotate(97)"/>
<ellipse class="k9" rx="3.7" ry="2.2" transform="translate(38.6,1.8)rotate(7)"/>
<ellipse class="ka" rx="3.3" ry="2.0" transform="translate(32.8,-8.8)rotate(101)"/>
</g>
</g>
<defs><clipPath id="capA2"><path d="M-25,-23 L25,-25.5 A25.5,25.5 0 0 1 25,25.5 L-25,23 A23,23 0 0 1 -25,-23 Z"/></clipPath><linearGradient id="capg2" x1="0" y1="0" x2="0" y2="1"><stop offset="0" stop-color="#e4e4e6"/><stop offset="0.5" stop-color="#f4f4f5"/><stop offset="1" stop-color="#dcdcde"/></linearGradient></defs>
<g transform="translate(177.5,73.6) rotate(40)">
<path d="M-25,-26 L25,-28.5 A28.5,28.5 0 0 1 25,28.5 L-25,26 A26,26 0 0 1 -25,-26 Z" fill="url(#capg2)" stroke="#c4c4c6" stroke-width="1"/>
<g clip-path="url(#capA2)">
<path d="M-25,-21.5 L28,-24.0 L28,24.0 L-25,21.5 A21.5,21.5 0 0 1 -25,-21.5 Z" fill="#c46c7a"/>
<ellipse class="k1" rx="4.4" ry="2.7" transform="translate(-8.1,17.5)rotate(138)"/>
<ellipse class="k4" rx="3.9" ry="2.8" transform="translate(13.3,4.0)rotate(31)"/>
<ellipse class="k4" rx="4.2" ry="2.6" transform="translate(-25.0,22.0)rotate(118)"/>
<ellipse class="k1" rx="4.4" ry="2.7" transform="translate(-26.5,-7.2)rotate(114)"/>
<ellipse class="k1" rx="2.9" ry="2.2" transform="translate(-11.4,14.5)rotate(33)"/>
<ellipse class="k5" rx="3.2" ry="2.6" transform="translate(-4.4,4.7)rotate(130)"/>
<ellipse class="k0" rx="2.5" ry="1.8" transform="translate(-0.3,-22.5)rotate(1)"/>
<ellipse class="k2" rx="3.7" ry="2.5" transform="translate(-25.9,15.7)rotate(32)"/>
<ellipse class="k0" rx="4.2" ry="3.2" transform="translate(4.8,3.1)rotate(179)"/>
<ellipse class="k0" rx="2.7" ry="1.4" transform="translate(-8.1,-4.1)rotate(19)"/>
<ellipse class="k0" rx="3.5" ry="2.6" transform="translate(-39.4,-15.2)rotate(78)"/>
<ellipse class="k2" rx="3.9" ry="2.5" transform="translate(6.8,6.9)rotate(129)"/>
<ellipse class="k0" rx="3.0" ry="1.5" transform="translate(-22.6,-15.2)rotate(11)"/>
<ellipse class="k1" rx="2.5" ry="1.3" transform="translate(-33.4,5.7)rotate(105)"/>
<ellipse class="k4" rx="3.7" ry="2.0" transform="translate(17.3,-2.8)rotate(29)"/>
<ellipse class="k1" rx="2.5" ry="1.9" transform="translate(-7.3,-15.0)rotate(55)"/>
<ellipse class="k2" rx="3.5" ry="2.7" transform="translate(-6.2,21.2)rotate(122)"/>
<ellipse class="k5" rx="3.3" ry="2.0" transform="translate(-1.5,3.9)rotate(87)"/>
<ellipse class="k2" rx="2.8" ry="1.6" transform="translate(6.3,-11.8)rotate(1)"/>
<ellipse class="k1" rx="3.2" ry="1.8" transform="translate(12.2,-4.8)rotate(60)"/>
<ellipse class="k0" rx="3.3" ry="2.6" transform="translate(-3.0,21.2)rotate(44)"/>
<ellipse class="k5" rx="3.0" ry="1.4" transform="translate(-33.4,-10.0)rotate(5)"/>
<ellipse class="k0" rx="2.8" ry="1.4" transform="translate(7.1,-11.9)rotate(150)"/>
<ellipse class="k2" rx="4.2" ry="3.1" transform="translate(-37.6,-2.6)rotate(66)"/>
<ellipse class="k3" rx="3.8" ry="2.5" transform="translate(-31.7,-4.4)rotate(171)"/>
<ellipse class="k5" rx="3.4" ry="1.7" transform="translate(-12.7,-12.5)rotate(180)"/>
<ellipse class="k1" rx="4.5" ry="2.9" transform="translate(-6.7,-2.7)rotate(109)"/>
<ellipse class="k0" rx="2.7" ry="1.7" transform="translate(-32.0,17.1)rotate(153)"/>
<ellipse class="k2" rx="2.6" ry="1.8" transform="translate(2.6,12.2)rotate(56)"/>
<ellipse class="k3" rx="2.9" ry="2.1" transform="translate(-20.3,-19.0)rotate(34)"/>
<ellipse class="k3" rx="4.3" ry="3.2" transform="translate(12.8,-19.9)rotate(35)"/>
<ellipse class="k1" rx="3.1" ry="2.3" transform="translate(1.4,-19.0)rotate(51)"/>
<ellipse class="k2" rx="4.0" ry="3.1" transform="translate(-19.4,18.8)rotate(169)"/>
<ellipse class="k1" rx="4.1" ry="2.8" transform="translate(-34.4,-6.1)rotate(5)"/>
<ellipse class="k5" rx="4.5" ry="2.7" transform="translate(0.4,-1.7)rotate(18)"/>
<ellipse class="k5" rx="3.7" ry="2.0" transform="translate(-26.8,-10.5)rotate(7)"/>
<ellipse class="k1" rx="2.9" ry="1.6" transform="translate(-43.4,-15.5)rotate(133)"/>
<ellipse class="k2" rx="4.4" ry="2.8" transform="translate(-9.5,6.0)rotate(103)"/>
<ellipse class="k3" rx="3.4" ry="2.3" transform="translate(1.3,-11.3)rotate(168)"/>
<ellipse class="k0" rx="3.8" ry="2.9" transform="translate(-38.6,12.1)rotate(109)"/>
<ellipse class="k2" rx="2.7" ry="2.0" transform="translate(-42.9,-11.8)rotate(140)"/>
<ellipse class="k5" rx="3.3" ry="2.4" transform="translate(-23.2,19.0)rotate(111)"/>
<ellipse class="k1" rx="3.2" ry="2.5" transform="translate(-31.4,1.3)rotate(167)"/>
<ellipse class="k1" rx="4.2" ry="2.8" transform="translate(-0.4,11.0)rotate(92)"/>
<ellipse class="k2" rx="3.8" ry="2.9" transform="translate(-1.3,-13.5)rotate(88)"/>
<ellipse class="k2" rx="4.2" ry="2.7" transform="translate(-33.5,20.8)rotate(98)"/>
<ellipse class="k4" rx="3.6" ry="1.9" transform="translate(18.0,6.3)rotate(30)"/>
<ellipse class="k5" rx="3.8" ry="1.9" transform="translate(-23.1,-18.7)rotate(127)"/>
<ellipse class="k1" rx="3.0" ry="1.9" transform="translate(-1.8,-12.1)rotate(24)"/>
<ellipse class="k0" rx="2.8" ry="1.9" transform="translate(-3.7,9.1)rotate(101)"/>
<ellipse class="k2" rx="3.6" ry="2.6" transform="translate(-24.0,14.5)rotate(122)"/>
<ellipse class="k2" rx="4.2" ry="2.5" transform="translate(-35.8,22.0)rotate(21)"/>
<ellipse class="k3" rx="2.9" ry="1.4" transform="translate(-26.9,-6.4)rotate(55)"/>
<ellipse class="k1" rx="4.4" ry="2.2" transform="translate(-38.7,-8.8)rotate(84)"/>
<ellipse class="k1" rx="2.6" ry="1.2" transform="translate(-22.0,-15.3)rotate(15)"/>
<ellipse class="k1" rx="3.6" ry="1.8" transform="translate(1.3,22.1)rotate(172)"/>
<ellipse class="k4" rx="3.1" ry="1.8" transform="translate(-13.8,13.1)rotate(116)"/>
<ellipse class="k2" rx="3.8" ry="2.0" transform="translate(-4.6,20.0)rotate(14)"/>
<ellipse class="k3" rx="3.3" ry="1.6" transform="translate(3.3,-21.8)rotate(33)"/>
<ellipse class="k5" rx="4.4" ry="2.2" transform="translate(-3.9,15.9)rotate(149)"/>
<ellipse class="k3" rx="2.9" ry="2.1" transform="translate(3.0,-8.0)rotate(41)"/>
<ellipse class="k4" rx="4.2" ry="2.2" transform="translate(-37.0,19.3)rotate(7)"/>
<ellipse class="k4" rx="4.1" ry="2.9" transform="translate(-8.6,5.9)rotate(170)"/>
<ellipse class="k0" rx="2.8" ry="1.6" transform="translate(-13.4,-0.0)rotate(113)"/>
<ellipse class="k1" rx="2.8" ry="1.9" transform="translate(-36.6,-12.5)rotate(16)"/>
<ellipse class="k4" rx="2.9" ry="2.0" transform="translate(-43.4,-2.8)rotate(6)"/>
<ellipse class="k4" rx="3.5" ry="1.8" transform="translate(-5.7,15.3)rotate(119)"/>
<ellipse class="k5" rx="3.2" ry="1.9" transform="translate(-12.0,-3.6)rotate(172)"/>
<ellipse class="k0" rx="3.3" ry="1.5" transform="translate(-34.4,10.3)rotate(122)"/>
<ellipse class="k1" rx="3.6" ry="2.3" transform="translate(-8.5,-1.4)rotate(175)"/>
<ellipse class="k0" rx="4.4" ry="3.5" transform="translate(14.0,16.8)rotate(15)"/>
<ellipse class="k0" rx="3.2" ry="2.2" transform="translate(7.4,10.2)rotate(103)"/>
<ellipse class="k3" rx="3.8" ry="2.1" transform="translate(16.9,-0.9)rotate(95)"/>
<ellipse class="k5" rx="2.9" ry="2.1" transform="translate(-4.2,16.0)rotate(15)"/>
<ellipse class="k0" rx="3.7" ry="2.2" transform="translate(-2.4,-5.9)rotate(43)"/>
<ellipse class="k2" rx="3.0" ry="2.3" transform="translate(-16.9,-11.0)rotate(99)"/>
<ellipse class="k0" rx="3.0" ry="1.5" transform="translate(-38.6,16.7)rotate(121)"/>
<ellipse class="k5" rx="3.4" ry="2.2" transform="translate(0.8,-12.6)rotate(20)"/>
<ellipse class="k4" rx="2.7" ry="1.6" transform="translate(-12.1,4.1)rotate(144)"/>
<ellipse class="k4" rx="3.5" ry="2.6" transform="translate(-37.1,0.1)rotate(113)"/>
<ellipse class="k0" rx="3.4" ry="2.4" transform="translate(17.4,0.7)rotate(31)"/>
<ellipse class="k0" rx="4.0" ry="2.0" transform="translate(17.4,2.9)rotate(10)"/>
<ellipse class="k2" rx="2.5" ry="1.7" transform="translate(-30.4,-5.9)rotate(83)"/>
<ellipse class="k2" rx="4.3" ry="2.1" transform="translate(-38.0,-16.8)rotate(101)"/>
<ellipse class="k3" rx="2.8" ry="2.0" transform="translate(14.6,17.1)rotate(145)"/>
<ellipse class="k0" rx="3.0" ry="1.6" transform="translate(2.6,-22.5)rotate(133)"/>
<ellipse class="k4" rx="2.6" ry="1.7" transform="translate(16.6,10.2)rotate(64)"/>
<ellipse class="k2" rx="2.6" ry="2.0" transform="translate(-24.4,4.7)rotate(46)"/>
<ellipse class="k4" rx="4.2" ry="2.7" transform="translate(-33.3,-2.4)rotate(142)"/>
<ellipse class="k3" rx="3.0" ry="1.5" transform="translate(-13.8,-19.6)rotate(157)"/>
<ellipse class="k5" rx="3.7" ry="2.0" transform="translate(-1.8,15.5)rotate(137)"/>
<ellipse class="k1" rx="2.5" ry="2.0" transform="translate(-28.3,-2.6)rotate(90)"/>
<ellipse class="k5" rx="2.6" ry="1.3" transform="translate(11.6,13.8)rotate(122)"/>
<ellipse class="k1" rx="2.8" ry="2.1" transform="translate(-20.1,-1.1)rotate(41)"/>
<ellipse class="k3" rx="3.2" ry="2.0" transform="translate(17.2,0.8)rotate(161)"/>
<ellipse class="k1" rx="2.8" ry="1.6" transform="translate(-7.1,-21.0)rotate(60)"/>
<ellipse class="k1" rx="3.1" ry="1.8" transform="translate(-15.1,20.1)rotate(60)"/>
<ellipse class="k2" rx="4.5" ry="2.1" transform="translate(-44.6,-1.9)rotate(131)"/>
<ellipse class="k3" rx="2.6" ry="2.1" transform="translate(-36.5,-5.3)rotate(102)"/>
<ellipse class="k0" rx="4.5" ry="2.1" transform="translate(-11.1,21.0)rotate(162)"/>
<ellipse class="k4" rx="3.4" ry="2.2" transform="translate(-39.7,-13.8)rotate(65)"/>
<ellipse class="k5" rx="4.2" ry="3.3" transform="translate(-27.4,13.6)rotate(13)"/>
<ellipse class="k2" rx="3.2" ry="2.4" transform="translate(17.6,-7.3)rotate(63)"/>
<ellipse class="k3" rx="2.6" ry="1.5" transform="translate(-9.7,-4.3)rotate(159)"/>
<ellipse class="k3" rx="4.3" ry="3.1" transform="translate(5.6,0.2)rotate(27)"/>
<ellipse class="k1" rx="3.8" ry="2.3" transform="translate(-32.4,17.9)rotate(102)"/>
<ellipse class="k3" rx="2.6" ry="1.5" transform="translate(-26.0,-15.2)rotate(45)"/>
<ellipse class="k2" rx="4.4" ry="2.1" transform="translate(-8.3,7.3)rotate(105)"/>
<ellipse class="k3" rx="3.7" ry="2.9" transform="translate(-40.7,-14.8)rotate(175)"/>
<ellipse class="k3" rx="4.3" ry="3.2" transform="translate(-0.4,10.2)rotate(162)"/>
<ellipse class="k3" rx="2.5" ry="1.3" transform="translate(-27.8,-11.2)rotate(43)"/>
<ellipse class="k3" rx="3.4" ry="2.6" transform="translate(-44.7,-20.8)rotate(156)"/>
<ellipse class="k0" rx="4.0" ry="3.1" transform="translate(-3.2,-14.0)rotate(9)"/>
<ellipse class="k4" rx="3.7" ry="2.6" transform="translate(-41.2,14.6)rotate(34)"/>
<ellipse class="k2" rx="3.8" ry="2.9" transform="translate(-10.6,17.3)rotate(58)"/>
<ellipse class="k3" rx="3.5" ry="2.3" transform="translate(11.3,-21.8)rotate(31)"/>
<ellipse class="k1" rx="2.7" ry="1.8" transform="translate(11.0,13.6)rotate(178)"/>
<ellipse class="k3" rx="4.2" ry="1.9" transform="translate(-19.6,20.3)rotate(102)"/>
<ellipse class="k3" rx="3.7" ry="2.6" transform="translate(19.2,-20.4)rotate(28)"/>
<ellipse class="k3" rx="3.6" ry="2.6" transform="translate(-44.8,-13.3)rotate(147)"/>
<ellipse class="k5" rx="3.7" ry="2.4" transform="translate(-18.1,1.8)rotate(177)"/>
<ellipse class="k1" rx="3.7" ry="2.7" transform="translate(-8.1,-12.4)rotate(137)"/>
<ellipse class="k1" rx="4.0" ry="3.2" transform="translate(5.2,-8.8)rotate(101)"/>
<ellipse class="k0" rx="3.0" ry="1.6" transform="translate(-22.2,1.4)rotate(86)"/>
<ellipse class="k2" rx="3.2" ry="2.6" transform="translate(-2.7,12.6)rotate(72)"/>
<ellipse class="k0" rx="3.7" ry="1.8" transform="translate(18.6,20.1)rotate(90)"/>
<ellipse class="k2" rx="4.4" ry="2.5" transform="translate(-9.4,-14.6)rotate(163)"/>
<ellipse class="k3" rx="4.1" ry="2.6" transform="translate(11.5,16.4)rotate(140)"/>
<ellipse class="k3" rx="3.5" ry="2.4" transform="translate(-30.0,22.2)rotate(162)"/>
<ellipse class="k5" rx="4.1" ry="1.9" transform="translate(-20.3,-13.2)rotate(132)"/>
<ellipse class="k4" rx="3.3" ry="2.5" transform="translate(-41.7,6.7)rotate(41)"/>
<ellipse class="k2" rx="3.3" ry="2.2" transform="translate(-21.2,18.7)rotate(6)"/>
<ellipse class="k3" rx="3.0" ry="1.7" transform="translate(-44.6,9.6)rotate(137)"/>
<ellipse class="k0" rx="4.5" ry="2.4" transform="translate(-3.6,-9.3)rotate(142)"/>
<ellipse class="k2" rx="4.0" ry="3.2" transform="translate(-14.5,20.0)rotate(148)"/>
<ellipse class="k2" rx="3.5" ry="2.6" transform="translate(-27.4,-7.7)rotate(58)"/>
<ellipse class="k2" rx="2.9" ry="1.4" transform="translate(-5.7,21.0)rotate(153)"/>
<ellipse class="k1" rx="4.0" ry="2.4" transform="translate(2.5,-20.9)rotate(156)"/>
<ellipse class="k4" rx="2.5" ry="1.2" transform="translate(19.7,-9.3)rotate(24)"/>
<ellipse class="k1" rx="3.2" ry="2.3" transform="translate(-26.0,0.1)rotate(123)"/>
<ellipse class="k3" rx="4.3" ry="3.0" transform="translate(-40.0,-7.4)rotate(176)"/>
<ellipse class="k4" rx="4.1" ry="2.8" transform="translate(-43.8,-12.2)rotate(24)"/>
<ellipse class="k4" rx="3.9" ry="2.7" transform="translate(-6.7,3.4)rotate(178)"/>
<ellipse class="k2" rx="2.7" ry="1.7" transform="translate(-25.1,17.4)rotate(95)"/>
<ellipse class="k0" rx="3.6" ry="2.4" transform="translate(-45.8,-12.7)rotate(90)"/>
<ellipse class="k3" rx="3.5" ry="2.7" transform="translate(-38.6,-6.7)rotate(175)"/>
<ellipse class="k5" rx="2.9" ry="1.4" transform="translate(10.3,21.7)rotate(32)"/>
<ellipse class="k1" rx="2.6" ry="1.6" transform="translate(-28.5,-19.8)rotate(142)"/>
<ellipse class="k1" rx="3.2" ry="1.5" transform="translate(16.8,-10.7)rotate(98)"/>
<ellipse class="k5" rx="4.5" ry="3.4" transform="translate(-9.8,8.8)rotate(48)"/>
<ellipse class="k1" rx="3.3" ry="1.6" transform="translate(-18.2,1.8)rotate(159)"/>
<ellipse class="k0" rx="3.8" ry="2.0" transform="translate(7.0,18.3)rotate(167)"/>
<ellipse class="k2" rx="3.3" ry="1.7" transform="translate(-29.2,5.1)rotate(119)"/>
<ellipse class="k1" rx="2.6" ry="1.8" transform="translate(-40.3,5.6)rotate(125)"/>
<ellipse class="k0" rx="3.6" ry="2.0" transform="translate(-24.6,6.7)rotate(0)"/>
<ellipse class="k1" rx="3.5" ry="2.3" transform="translate(3.2,16.3)rotate(42)"/>
<ellipse class="k1" rx="3.3" ry="2.3" transform="translate(-4.5,11.2)rotate(176)"/>
<ellipse class="k0" rx="4.2" ry="2.0" transform="translate(-28.4,7.3)rotate(120)"/>
<ellipse class="k5" rx="3.0" ry="2.3" transform="translate(15.0,12.2)rotate(63)"/>
<ellipse class="k0" rx="4.5" ry="2.1" transform="translate(-7.1,3.3)rotate(66)"/>
<ellipse class="k2" rx="3.2" ry="2.2" transform="translate(-32.5,-15.2)rotate(148)"/>
<ellipse class="k4" rx="4.2" ry="3.2" transform="translate(-15.6,6.5)rotate(58)"/>
<ellipse class="k5" rx="3.4" ry="2.0" transform="translate(-22.1,16.7)rotate(45)"/>
<ellipse class="k1" rx="4.1" ry="2.6" transform="translate(-39.2,-6.6)rotate(119)"/>
<ellipse class="k5" rx="3.4" ry="1.7" transform="translate(-27.8,-9.6)rotate(86)"/>
<ellipse class="k3" rx="2.8" ry="1.9" transform="translate(6.7,11.9)rotate(88)"/>
<ellipse class="k3" rx="3.5" ry="2.6" transform="translate(-2.4,5.6)rotate(3)"/>
<ellipse class="k5" rx="2.6" ry="1.3" transform="translate(-32.7,3.2)rotate(98)"/>
<ellipse class="k0" rx="3.0" ry="1.8" transform="translate(14.5,-11.2)rotate(115)"/>
<ellipse class="k0" rx="3.3" ry="2.4" transform="translate(10.7,-13.7)rotate(141)"/>
<ellipse class="k3" rx="3.3" ry="1.5" transform="translate(14.8,10.0)rotate(175)"/>
<ellipse class="k0" rx="3.0" ry="1.6" transform="translate(-17.6,4.9)rotate(23)"/>
<ellipse class="k4" rx="4.2" ry="2.7" transform="translate(-5.2,22.0)rotate(120)"/>
<ellipse class="k0" rx="4.0" ry="2.3" transform="translate(-24.3,-19.7)rotate(75)"/>
<ellipse class="k0" rx="4.1" ry="2.0" transform="translate(15.8,6.6)rotate(83)"/>
<ellipse class="k4" rx="3.3" ry="2.1" transform="translate(-15.5,15.6)rotate(79)"/>
<ellipse class="k5" rx="4.1" ry="2.8" transform="translate(-13.6,0.5)rotate(36)"/>
<ellipse class="k1" rx="3.1" ry="1.7" transform="translate(-10.3,19.6)rotate(139)"/>
<ellipse class="k4" rx="2.7" ry="2.0" transform="translate(-38.2,-12.8)rotate(89)"/>
<ellipse class="k2" rx="3.4" ry="2.5" transform="translate(10.0,-13.1)rotate(128)"/>
<ellipse class="k0" rx="3.9" ry="2.3" transform="translate(-14.1,-20.5)rotate(25)"/>
<ellipse class="k2" rx="3.8" ry="2.1" transform="translate(-19.1,-20.7)rotate(93)"/>
<ellipse class="k3" rx="3.0" ry="1.7" transform="translate(-45.6,22.5)rotate(69)"/>
<ellipse class="k5" rx="3.3" ry="2.5" transform="translate(-2.2,-9.3)rotate(9)"/>
<ellipse class="k3" rx="4.1" ry="3.1" transform="translate(-25.9,16.9)rotate(55)"/>
<ellipse class="k5" rx="3.8" ry="3.0" transform="translate(-37.3,-13.5)rotate(88)"/>
<ellipse class="k5" rx="4.1" ry="2.1" transform="translate(-7.5,-6.2)rotate(100)"/>
<ellipse class="k0" rx="3.6" ry="2.1" transform="translate(-42.6,-8.5)rotate(148)"/>
<ellipse class="k2" rx="3.4" ry="1.8" transform="translate(-43.7,-12.9)rotate(144)"/>
<ellipse class="k2" rx="4.4" ry="2.6" transform="translate(-6.9,-2.1)rotate(10)"/>
<ellipse class="k4" rx="2.6" ry="2.0" transform="translate(-17.4,6.4)rotate(147)"/>
<ellipse class="k2" rx="3.9" ry="2.8" transform="translate(-13.2,-22.3)rotate(90)"/>
<ellipse class="k2" rx="3.1" ry="1.6" transform="translate(-1.5,8.0)rotate(26)"/>
<ellipse class="k4" rx="2.7" ry="1.3" transform="translate(14.6,-13.5)rotate(171)"/>
<ellipse class="k5" rx="3.0" ry="2.3" transform="translate(-18.6,7.3)rotate(76)"/>
<ellipse class="k1" rx="2.8" ry="1.4" transform="translate(11.3,19.5)rotate(53)"/>
<ellipse class="k2" rx="3.1" ry="2.0" transform="translate(-30.6,3.8)rotate(56)"/>
<ellipse class="k5" rx="2.9" ry="2.3" transform="translate(-29.0,2.2)rotate(176)"/>
<ellipse class="k2" rx="3.3" ry="2.2" transform="translate(-20.2,-21.5)rotate(118)"/>
<ellipse class="k3" rx="2.8" ry="1.4" transform="translate(-0.2,-13.9)rotate(122)"/>
<ellipse class="k5" rx="2.7" ry="2.1" transform="translate(-38.5,15.1)rotate(169)"/>
<ellipse class="k1" rx="3.2" ry="2.3" transform="translate(-11.3,-9.6)rotate(160)"/>
<ellipse class="k0" rx="3.1" ry="1.7" transform="translate(14.3,-13.8)rotate(97)"/>
<ellipse class="k2" rx="3.0" ry="2.3" transform="translate(-40.2,-16.6)rotate(104)"/>
<ellipse class="k2" rx="2.7" ry="1.2" transform="translate(-26.2,3.7)rotate(170)"/>
<ellipse class="k2" rx="3.2" ry="1.9" transform="translate(-2.7,-20.7)rotate(59)"/>
<ellipse class="k5" rx="4.2" ry="3.1" transform="translate(-22.0,-18.0)rotate(101)"/>
<ellipse class="k1" rx="4.1" ry="2.7" transform="translate(-39.7,2.4)rotate(6)"/>
<ellipse class="k1" rx="3.3" ry="2.3" transform="translate(-43.4,3.6)rotate(104)"/>
<ellipse class="k2" rx="3.8" ry="1.9" transform="translate(-22.7,-5.8)rotate(119)"/>
<ellipse class="k3" rx="3.8" ry="2.8" transform="translate(-40.1,-22.8)rotate(27)"/>
<ellipse class="k0" rx="2.7" ry="1.7" transform="translate(-39.8,17.4)rotate(97)"/>
<ellipse class="k3" rx="3.6" ry="1.7" transform="translate(-24.6,-11.7)rotate(66)"/>
<ellipse class="k2" rx="2.9" ry="1.4" transform="translate(-33.0,-4.4)rotate(131)"/>
<ellipse class="k4" rx="2.7" ry="1.3" transform="translate(-10.7,-12.0)rotate(88)"/>
<ellipse class="k2" rx="3.9" ry="2.1" transform="translate(6.2,3.2)rotate(28)"/>
<ellipse class="k3" rx="3.3" ry="2.1" transform="translate(-28.6,-21.6)rotate(103)"/>
<ellipse class="k0" rx="2.9" ry="1.6" transform="translate(-38.0,7.5)rotate(128)"/>
<ellipse class="k4" rx="3.7" ry="2.9" transform="translate(-41.9,-11.7)rotate(39)"/>
<ellipse class="k1" rx="3.1" ry="1.5" transform="translate(5.0,-15.0)rotate(107)"/>
<ellipse class="k4" rx="4.4" ry="3.2" transform="translate(-33.9,-8.4)rotate(16)"/>
<ellipse class="k3" rx="3.9" ry="1.9" transform="translate(-29.8,10.8)rotate(139)"/>
<ellipse class="k4" rx="3.9" ry="2.7" transform="translate(-32.6,19.5)rotate(180)"/>
<ellipse class="k4" rx="3.5" ry="2.5" transform="translate(6.2,-0.9)rotate(135)"/>
<ellipse class="k1" rx="3.8" ry="2.8" transform="translate(-4.0,-13.8)rotate(17)"/>
<ellipse class="k5" rx="2.8" ry="2.2" transform="translate(1.4,-6.9)rotate(139)"/>
<ellipse class="k4" rx="3.9" ry="2.2" transform="translate(-13.2,-11.1)rotate(134)"/>
<ellipse class="k5" rx="3.7" ry="2.2" transform="translate(8.9,13.9)rotate(141)"/>
<ellipse class="k5" rx="4.4" ry="2.8" transform="translate(11.5,-9.2)rotate(21)"/>
<ellipse class="k2" rx="3.0" ry="2.2" transform="translate(17.9,13.2)rotate(43)"/>
<ellipse class="k6" rx="1.7" ry="0.8" transform="translate(-5.6,2.6)rotate(168)"/>
<ellipse class="k6" rx="1.5" ry="0.7" transform="translate(14.6,-18.9)rotate(113)"/>
<ellipse class="k6" rx="1.2" ry="1.0" transform="translate(6.9,-6.6)rotate(41)"/>
<ellipse class="k6" rx="1.5" ry="1.0" transform="translate(0.0,12.3)rotate(77)"/>
<ellipse class="k6" rx="1.4" ry="1.0" transform="translate(-24.6,-8.4)rotate(158)"/>
<ellipse class="k6" rx="1.1" ry="0.6" transform="translate(-13.1,-3.7)rotate(98)"/>
<ellipse class="k6" rx="1.3" ry="0.5" transform="translate(-39.4,-4.5)rotate(60)"/>
<ellipse class="k6" rx="1.7" ry="0.7" transform="translate(21.5,-13.1)rotate(97)"/>
<ellipse class="k6" rx="1.4" ry="0.7" transform="translate(-28.8,-11.9)rotate(161)"/>
<ellipse class="k6" rx="1.0" ry="0.6" transform="translate(-18.9,-7.0)rotate(63)"/>
<ellipse class="k6" rx="1.8" ry="0.7" transform="translate(9.7,16.0)rotate(57)"/>
<ellipse class="k6" rx="1.4" ry="0.9" transform="translate(13.7,12.2)rotate(174)"/>
<ellipse class="k6" rx="1.7" ry="0.6" transform="translate(-18.8,-20.6)rotate(44)"/>
<ellipse class="k6" rx="1.5" ry="0.8" transform="translate(-7.1,6.6)rotate(177)"/>
<ellipse class="k6" rx="1.5" ry="0.6" transform="translate(4.2,10.6)rotate(136)"/>
<ellipse class="k6" rx="1.3" ry="0.7" transform="translate(-28.0,-3.5)rotate(48)"/>
<ellipse class="k6" rx="1.5" ry="0.8" transform="translate(-25.2,-8.2)rotate(169)"/>
<ellipse class="k6" rx="1.5" ry="0.7" transform="translate(9.2,-18.5)rotate(124)"/>
<ellipse class="k6" rx="1.7" ry="0.6" transform="translate(-43.8,15.8)rotate(68)"/>
<ellipse class="k6" rx="1.0" ry="0.8" transform="translate(-24.2,0.5)rotate(83)"/>
<ellipse class="k6" rx="0.8" ry="1.0" transform="translate(18.5,-0.7)rotate(49)"/>
<ellipse class="k6" rx="1.3" ry="1.0" transform="translate(-32.4,17.6)rotate(31)"/>
<ellipse class="k6" rx="1.4" ry="0.6" transform="translate(-5.5,20.3)rotate(139)"/>
<ellipse class="k6" rx="1.2" ry="0.5" transform="translate(-43.3,2.0)rotate(171)"/>
<ellipse class="k6" rx="1.8" ry="0.7" transform="translate(-2.2,-0.3)rotate(163)"/>
<ellipse class="k6" rx="1.3" ry="0.5" transform="translate(-23.3,14.0)rotate(96)"/>
<ellipse class="k6" rx="1.6" ry="0.5" transform="translate(14.9,-12.6)rotate(55)"/>
<ellipse class="k6" rx="1.7" ry="0.8" transform="translate(-10.1,7.6)rotate(175)"/>
<ellipse class="k6" rx="1.5" ry="0.6" transform="translate(7.1,-5.9)rotate(160)"/>
<ellipse class="k6" rx="1.7" ry="0.7" transform="translate(-13.2,5.1)rotate(123)"/>
<ellipse class="k6" rx="1.6" ry="0.7" transform="translate(-20.8,-7.6)rotate(20)"/>
<ellipse class="k6" rx="1.3" ry="0.7" transform="translate(17.0,5.2)rotate(29)"/>
<ellipse class="k6" rx="1.1" ry="0.8" transform="translate(14.8,-19.2)rotate(119)"/>
<ellipse class="k6" rx="0.9" ry="0.7" transform="translate(11.8,-3.7)rotate(129)"/>
<ellipse class="k6" rx="1.7" ry="0.6" transform="translate(-18.5,13.1)rotate(81)"/>
<ellipse class="k6" rx="1.5" ry="0.7" transform="translate(-44.2,1.4)rotate(108)"/>
<ellipse class="k6" rx="1.7" ry="0.9" transform="translate(-20.9,20.2)rotate(17)"/>
<ellipse class="k6" rx="1.6" ry="0.9" transform="translate(-4.6,13.8)rotate(167)"/>
<ellipse class="k6" rx="1.5" ry="0.9" transform="translate(-33.9,-13.6)rotate(21)"/>
<ellipse class="k6" rx="1.6" ry="0.9" transform="translate(-17.9,14.3)rotate(72)"/>
<ellipse class="k6" rx="1.7" ry="0.9" transform="translate(-11.5,-6.9)rotate(26)"/>
<ellipse class="k6" rx="1.7" ry="0.6" transform="translate(4.3,-3.6)rotate(38)"/>
<ellipse class="k6" rx="0.9" ry="0.5" transform="translate(0.7,17.8)rotate(103)"/>
<ellipse class="k6" rx="1.0" ry="0.9" transform="translate(-29.2,-2.8)rotate(141)"/>
<ellipse class="k6" rx="0.9" ry="0.6" transform="translate(0.5,14.8)rotate(153)"/>
<rect x="-51.0" y="-27.0" width="102" height="54" fill="#fff" opacity="0.06"/>
<ellipse class="kd" rx="2.5" ry="0.9" transform="translate(-24.7,-16.5)rotate(175)"/>
<ellipse class="kd" rx="2.5" ry="1.2" transform="translate(34.1,-5.2)rotate(158)"/>
<ellipse class="kd" rx="2.9" ry="1.2" transform="translate(-12.3,17.4)rotate(109)"/>
<ellipse class="kd" rx="3.1" ry="1.0" transform="translate(-1.7,4.7)rotate(65)"/>
<ellipse class="kd" rx="2.3" ry="0.9" transform="translate(3.4,17.1)rotate(93)"/>
<ellipse class="kd" rx="2.4" ry="1.1" transform="translate(-34.6,20.0)rotate(138)"/>
</g>
<g clip-path="url(#capA2)">
<ellipse class="k7" rx="3.5" ry="2.3" transform="translate(22.0,7.3)rotate(7)"/>
<ellipse class="k9" rx="3.6" ry="2.1" transform="translate(31.9,-4.8)rotate(96)"/>
<ellipse class="k8" rx="3.1" ry="2.3" transform="translate(31.1,19.0)rotate(97)"/>
<ellipse class="ka" rx="2.7" ry="1.8" transform="translate(38.1,-1.0)rotate(16)"/>
<ellipse class="k7" rx="3.3" ry="2.2" transform="translate(35.7,11.3)rotate(145)"/>
<ellipse class="kc" rx="2.7" ry="1.7" transform="translate(36.7,-1.2)rotate(78)"/>
<ellipse class="k7" rx="2.9" ry="1.9" transform="translate(41.0,-2.2)rotate(73)"/>
<ellipse class="kc" rx="3.4" ry="2.1" transform="translate(28.9,11.9)rotate(142)"/>
<ellipse class="k9" rx="3.8" ry="2.7" transform="translate(29.5,-18.2)rotate(135)"/>
<ellipse class="kc" rx="3.8" ry="1.9" transform="translate(40.9,-5.0)rotate(75)"/>
<ellipse class="ka" rx="3.5" ry="2.2" transform="translate(34.9,-13.8)rotate(29)"/>
<ellipse class="k9" rx="2.7" ry="1.5" transform="translate(21.9,-14.9)rotate(76)"/>
<ellipse class="k9" rx="3.1" ry="2.2" transform="translate(40.0,5.6)rotate(140)"/>
<ellipse class="kc" rx="3.9" ry="2.4" transform="translate(18.3,6.1)rotate(153)"/>
<ellipse class="kc" rx="3.2" ry="2.1" transform="translate(24.1,-0.0)rotate(128)"/>
<ellipse class="kb" rx="3.8" ry="2.2" transform="translate(41.2,-5.7)rotate(24)"/>
<ellipse class="k7" rx="3.2" ry="1.6" transform="translate(35.5,2.9)rotate(83)"/>
<ellipse class="k8" rx="2.7" ry="1.6" transform="translate(40.9,7.8)rotate(101)"/>
<ellipse class="k9" rx="2.6" ry="1.4" transform="translate(19.8,6.8)rotate(69)"/>
<ellipse class="k8" rx="2.9" ry="1.8" transform="translate(37.3,12.8)rotate(166)"/>
<ellipse class="kb" rx="3.5" ry="2.4" transform="translate(25.5,-18.2)rotate(30)"/>
<ellipse class="kb" rx="3.7" ry="2.3" transform="translate(23.6,-15.4)rotate(109)"/>
<ellipse class="kc" rx="3.7" ry="2.6" transform="translate(36.2,13.0)rotate(1)"/>
<ellipse class="kc" rx="3.8" ry="2.5" transform="translate(20.5,-6.0)rotate(17)"/>
<ellipse class="ka" rx="4.1" ry="2.3" transform="translate(32.6,-8.4)rotate(8)"/>
<ellipse class="kb" rx="2.7" ry="1.6" transform="translate(21.4,-4.0)rotate(136)"/>
<ellipse class="kc" rx="2.9" ry="2.0" transform="translate(39.4,15.8)rotate(111)"/>
<ellipse class="k7" rx="3.2" ry="2.3" transform="translate(26.2,16.7)rotate(153)"/>
<ellipse class="k8" rx="3.6" ry="2.3" transform="translate(19.8,-5.2)rotate(14)"/>
<ellipse class="ka" rx="3.2" ry="1.6" transform="translate(38.4,7.7)rotate(38)"/>
<ellipse class="ka" rx="2.9" ry="2.0" transform="translate(33.3,17.1)rotate(37)"/>
<ellipse class="k7" rx="3.5" ry="2.0" transform="translate(26.4,5.3)rotate(16)"/>
<ellipse class="k9" rx="2.7" ry="1.6" transform="translate(30.8,23.5)rotate(137)"/>
<ellipse class="k7" rx="3.8" ry="1.9" transform="translate(35.6,16.3)rotate(8)"/>
<ellipse class="k8" rx="3.2" ry="2.4" transform="translate(25.7,-16.4)rotate(103)"/>
<ellipse class="k7" rx="2.7" ry="1.4" transform="translate(32.5,21.4)rotate(129)"/>
<ellipse class="kc" rx="3.3" ry="2.4" transform="translate(39.7,5.6)rotate(111)"/>
<ellipse class="k7" rx="3.9" ry="2.7" transform="translate(28.4,13.2)rotate(58)"/>
<ellipse class="k8" rx="3.6" ry="2.7" transform="translate(36.6,10.6)rotate(151)"/>
<ellipse class="k7" rx="3.0" ry="1.8" transform="translate(40.4,1.3)rotate(61)"/>
<ellipse class="kc" rx="2.6" ry="1.8" transform="translate(23.1,-1.7)rotate(160)"/>
<ellipse class="k8" rx="3.6" ry="2.1" transform="translate(41.9,-5.5)rotate(22)"/>
<ellipse class="k8" rx="4.1" ry="3.0" transform="translate(40.0,-8.2)rotate(124)"/>
<ellipse class="k7" rx="3.1" ry="2.2" transform="translate(33.5,0.6)rotate(129)"/>
<ellipse class="kc" rx="3.6" ry="2.3" transform="translate(26.2,5.3)rotate(124)"/>
<ellipse class="ka" rx="3.0" ry="1.5" transform="translate(29.7,-18.0)rotate(156)"/>
<ellipse class="k7" rx="3.8" ry="2.0" transform="translate(24.0,-12.0)rotate(108)"/>
<ellipse class="k7" rx="3.2" ry="1.7" transform="translate(32.8,-17.4)rotate(130)"/>
<ellipse class="k7" rx="4.1" ry="2.5" transform="translate(24.9,-11.2)rotate(46)"/>
<ellipse class="kb" rx="4.2" ry="3.0" transform="translate(22.1,13.8)rotate(62)"/>
<ellipse class="k9" rx="3.0" ry="2.1" transform="translate(31.0,-1.5)rotate(121)"/>
<ellipse class="ka" rx="4.0" ry="2.2" transform="translate(29.8,4.2)rotate(119)"/>
<ellipse class="k7" rx="2.7" ry="1.5" transform="translate(37.8,15.5)rotate(103)"/>
<ellipse class="ka" rx="4.1" ry="2.4" transform="translate(42.2,-12.8)rotate(32)"/>
<ellipse class="kc" rx="2.9" ry="1.9" transform="translate(23.0,16.4)rotate(164)"/>
<ellipse class="kc" rx="2.6" ry="1.8" transform="translate(35.3,19.3)rotate(137)"/>
<ellipse class="k7" rx="3.0" ry="1.5" transform="translate(33.6,-7.0)rotate(119)"/>
<ellipse class="k7" rx="3.3" ry="2.3" transform="translate(37.3,-13.4)rotate(73)"/>
<ellipse class="kc" rx="3.3" ry="1.7" transform="translate(18.5,4.1)rotate(12)"/>
<ellipse class="kc" rx="3.5" ry="1.8" transform="translate(24.7,14.1)rotate(87)"/>
<ellipse class="k7" rx="4.1" ry="2.4" transform="translate(32.0,19.6)rotate(170)"/>
<ellipse class="k7" rx="4.0" ry="2.2" transform="translate(24.2,0.2)rotate(86)"/>
<ellipse class="ka" rx="2.8" ry="2.0" transform="translate(18.6,6.4)rotate(57)"/>
<ellipse class="kb" rx="2.8" ry="2.1" transform="translate(32.7,20.0)rotate(46)"/>
<ellipse class="ka" rx="4.0" ry="2.7" transform="translate(20.5,0.9)rotate(133)"/>
<ellipse class="kc" rx="3.6" ry="2.4" transform="translate(24.4,-0.6)rotate(70)"/>
<ellipse class="k7" rx="3.6" ry="2.5" transform="translate(42.3,8.3)rotate(108)"/>
<ellipse class="kc" rx="2.7" ry="1.6" transform="translate(32.8,-1.8)rotate(151)"/>
<ellipse class="kc" rx="2.7" ry="1.4" transform="translate(27.7,14.1)rotate(2)"/>
<ellipse class="kb" rx="3.4" ry="2.5" transform="translate(35.5,-1.5)rotate(121)"/>
<ellipse class="kb" rx="3.4" ry="1.9" transform="translate(32.7,23.3)rotate(49)"/>
<ellipse class="kc" rx="3.7" ry="2.4" transform="translate(34.1,-1.5)rotate(43)"/>
<ellipse class="k8" rx="3.6" ry="2.2" transform="translate(32.5,-5.7)rotate(128)"/>
<ellipse class="kc" rx="4.1" ry="2.2" transform="translate(33.8,10.6)rotate(180)"/>
<ellipse class="k7" rx="2.9" ry="1.7" transform="translate(34.5,11.8)rotate(105)"/>
<ellipse class="ka" rx="3.7" ry="2.6" transform="translate(22.7,6.3)rotate(48)"/>
<ellipse class="k9" rx="2.6" ry="1.5" transform="translate(43.0,-13.8)rotate(136)"/>
<ellipse class="k8" rx="3.7" ry="2.5" transform="translate(36.5,-6.0)rotate(21)"/>
<ellipse class="k8" rx="3.9" ry="2.8" transform="translate(30.4,20.6)rotate(35)"/>
<ellipse class="k9" rx="2.9" ry="1.9" transform="translate(40.1,12.0)rotate(116)"/>
<ellipse class="k7" rx="3.9" ry="2.6" transform="translate(20.0,13.8)rotate(112)"/>
<ellipse class="ka" rx="2.6" ry="1.6" transform="translate(20.3,5.3)rotate(137)"/>
<ellipse class="kb" rx="3.1" ry="2.3" transform="translate(40.9,-3.9)rotate(16)"/>
<ellipse class="k9" rx="2.8" ry="1.9" transform="translate(38.7,-1.1)rotate(132)"/>
<ellipse class="kc" rx="2.8" ry="1.6" transform="translate(23.8,16.5)rotate(158)"/>
<ellipse class="kb" rx="3.6" ry="2.4" transform="translate(36.5,12.7)rotate(105)"/>
<ellipse class="kc" rx="3.7" ry="2.3" transform="translate(38.5,-4.2)rotate(146)"/>
<ellipse class="ka" rx="3.2" ry="1.7" transform="translate(26.5,-15.7)rotate(138)"/>
<ellipse class="kc" rx="3.7" ry="2.8" transform="translate(34.9,-13.8)rotate(66)"/>
<ellipse class="ka" rx="2.7" ry="1.7" transform="translate(35.7,-13.0)rotate(158)"/>
</g>
</g>
<defs><clipPath id="capA3"><path d="M-25,-23 L25,-25.5 A25.5,25.5 0 0 1 25,25.5 L-25,23 A23,23 0 0 1 -25,-23 Z"/></clipPath><linearGradient id="capg3" x1="0" y1="0" x2="0" y2="1"><stop offset="0" stop-color="#e4e4e6"/><stop offset="0.5" stop-color="#f4f4f5"/><stop offset="1" stop-color="#dcdcde"/></linearGradient></defs>
<g transform="translate(285.25,73.6) rotate(40)">
<path d="M-25,-26 L25,-28.5 A28.5,28.5 0 0 1 25,28.5 L-25,26 A26,26 0 0 1 -25,-26 Z" fill="url(#capg3)" stroke="#c4c4c6" stroke-width="1"/>
<g clip-path="url(#capA3)">
<path d="M-25,-21.5 L28,-24.0 L28,24.0 L-25,21.5 A21.5,21.5 0 0 1 -25,-21.5 Z" fill="#c46c7a"/>
<ellipse class="k5" rx="2.5" ry="1.6" transform="translate(-7.1,-13.9)rotate(101)"/>
<ellipse class="k2" rx="4.2" ry="2.0" transform="translate(-44.1,13.7)rotate(1)"/>
<ellipse class="k4" rx="3.9" ry="3.1" transform="translate(-30.8,-10.8)rotate(4)"/>
<ellipse class="k4" rx="2.9" ry="1.8" transform="translate(-40.6,-18.9)rotate(94)"/>
<ellipse class="k4" rx="3.5" ry="1.9" transform="translate(-24.9,-3.8)rotate(167)"/>
<ellipse class="k3" rx="2.6" ry="1.2" transform="translate(-28.6,-10.8)rotate(24)"/>
<ellipse class="k0" rx="3.5" ry="1.7" transform="translate(11.3,-7.9)rotate(167)"/>
<ellipse class="k1" rx="2.8" ry="1.9" transform="translate(-9.0,-20.6)rotate(53)"/>
<ellipse class="k4" rx="2.6" ry="1.6" transform="translate(-44.9,-8.7)rotate(106)"/>
<ellipse class="k2" rx="4.1" ry="3.0" transform="translate(-33.4,9.6)rotate(112)"/>
<ellipse class="k0" rx="3.4" ry="1.5" transform="translate(8.4,-1.3)rotate(39)"/>
<ellipse class="k0" rx="4.0" ry="2.5" transform="translate(9.4,-2.0)rotate(96)"/>
<ellipse class="k3" rx="3.9" ry="2.1" transform="translate(1.8,-21.6)rotate(38)"/>
<ellipse class="k3" rx="2.9" ry="1.5" transform="translate(1.4,-2.1)rotate(179)"/>
<ellipse class="k3" rx="2.6" ry="1.6" transform="translate(13.3,-17.0)rotate(149)"/>
<ellipse class="k3" rx="4.1" ry="2.3" transform="translate(1.3,21.1)rotate(94)"/>
<ellipse class="k3" rx="3.1" ry="1.7" transform="translate(-25.8,12.6)rotate(92)"/>
<ellipse class="k2" rx="4.3" ry="2.6" transform="translate(-36.0,19.9)rotate(58)"/>
<ellipse class="k1" rx="4.2" ry="2.9" transform="translate(5.8,10.0)rotate(95)"/>
<ellipse class="k1" rx="2.6" ry="1.5" transform="translate(5.2,-18.1)rotate(12)"/>
<ellipse class="k5" rx="3.4" ry="2.5" transform="translate(7.0,0.6)rotate(75)"/>
<ellipse class="k3" rx="4.1" ry="2.9" transform="translate(0.5,1.6)rotate(111)"/>
<ellipse class="k4" rx="3.8" ry="2.1" transform="translate(-39.1,-2.0)rotate(154)"/>
<ellipse class="k4" rx="2.6" ry="1.8" transform="translate(16.3,2.6)rotate(54)"/>
<ellipse class="k4" rx="4.0" ry="2.4" transform="translate(-41.5,11.5)rotate(26)"/>
<ellipse class="k5" rx="4.0" ry="1.8" transform="translate(0.0,9.9)rotate(24)"/>
<ellipse class="k1" rx="2.8" ry="1.8" transform="translate(-39.0,-19.8)rotate(30)"/>
<ellipse class="k4" rx="3.4" ry="1.9" transform="translate(-34.5,12.2)rotate(160)"/>
<ellipse class="k5" rx="2.7" ry="2.1" transform="translate(-15.8,2.4)rotate(163)"/>
<ellipse class="k1" rx="3.7" ry="2.0" transform="translate(-14.8,21.0)rotate(71)"/>
<ellipse class="k1" rx="4.0" ry="3.1" transform="translate(-32.7,13.2)rotate(19)"/>
<ellipse class="k1" rx="3.0" ry="1.6" transform="translate(7.7,-7.4)rotate(147)"/>
<ellipse class="k5" rx="3.7" ry="2.1" transform="translate(-0.1,21.9)rotate(134)"/>
<ellipse class="k2" rx="3.3" ry="2.5" transform="translate(-23.5,-14.4)rotate(103)"/>
<ellipse class="k3" rx="3.7" ry="2.8" transform="translate(-45.3,12.1)rotate(41)"/>
<ellipse class="k0" rx="4.4" ry="2.4" transform="translate(-25.0,17.5)rotate(64)"/>
<ellipse class="k1" rx="3.0" ry="2.3" transform="translate(-21.0,-17.9)rotate(136)"/>
<ellipse class="k5" rx="4.3" ry="3.2" transform="translate(4.8,3.1)rotate(145)"/>
<ellipse class="k3" rx="4.0" ry="2.9" transform="translate(19.4,10.5)rotate(91)"/>
<ellipse class="k5" rx="3.1" ry="1.7" transform="translate(-24.5,-2.9)rotate(61)"/>
<ellipse class="k2" rx="4.2" ry="3.1" transform="translate(8.2,-7.1)rotate(154)"/>
<ellipse class="k0" rx="3.6" ry="2.8" transform="translate(17.0,17.2)rotate(176)"/>
<ellipse class="k2" rx="3.4" ry="2.4" transform="translate(16.4,-1.4)rotate(131)"/>
<ellipse class="k4" rx="2.7" ry="2.1" transform="translate(-22.2,-20.1)rotate(41)"/>
<ellipse class="k1" rx="4.0" ry="2.1" transform="translate(-41.3,-19.9)rotate(115)"/>
<ellipse class="k0" rx="3.3" ry="2.2" transform="translate(-25.5,-1.1)rotate(85)"/>
<ellipse class="k0" rx="3.1" ry="2.4" transform="translate(13.4,10.8)rotate(165)"/>
<ellipse class="k1" rx="4.3" ry="2.0" transform="translate(-6.4,22.9)rotate(75)"/>
<ellipse class="k3" rx="2.9" ry="1.7" transform="translate(12.1,7.6)rotate(167)"/>
<ellipse class="k1" rx="3.8" ry="2.5" transform="translate(-2.5,16.7)rotate(106)"/>
<ellipse class="k0" rx="3.4" ry="1.6" transform="translate(-17.5,10.0)rotate(52)"/>
<ellipse class="k0" rx="2.7" ry="2.0" transform="translate(-12.0,11.3)rotate(144)"/>
<ellipse class="k1" rx="4.5" ry="2.7" transform="translate(-31.5,17.6)rotate(115)"/>
<ellipse class="k0" rx="3.2" ry="2.5" transform="translate(-40.9,-3.8)rotate(132)"/>
<ellipse class="k2" rx="3.5" ry="2.4" transform="translate(-33.7,2.2)rotate(109)"/>
<ellipse class="k4" rx="4.3" ry="2.2" transform="translate(-21.1,15.3)rotate(164)"/>
<ellipse class="k4" rx="4.2" ry="2.4" transform="translate(-9.6,11.9)rotate(37)"/>
<ellipse class="k2" rx="4.3" ry="3.3" transform="translate(-44.5,0.1)rotate(92)"/>
<ellipse class="k4" rx="2.8" ry="1.9" transform="translate(15.6,2.8)rotate(76)"/>
<ellipse class="k0" rx="3.1" ry="1.8" transform="translate(-6.3,-11.1)rotate(113)"/>
<ellipse class="k2" rx="4.1" ry="3.1" transform="translate(-42.4,12.6)rotate(135)"/>
<ellipse class="k0" rx="3.5" ry="1.8" transform="translate(-30.4,-11.2)rotate(31)"/>
<ellipse class="k1" rx="3.9" ry="1.9" transform="translate(11.6,21.9)rotate(128)"/>
<ellipse class="k4" rx="4.2" ry="3.2" transform="translate(0.9,-10.5)rotate(88)"/>
<ellipse class="k0" rx="4.2" ry="3.2" transform="translate(-45.9,17.0)rotate(122)"/>
<ellipse class="k3" rx="3.8" ry="3.0" transform="translate(-36.6,-1.8)rotate(73)"/>
<ellipse class="k3" rx="3.0" ry="2.2" transform="translate(1.6,22.8)rotate(111)"/>
<ellipse class="k2" rx="2.9" ry="1.4" transform="translate(-26.0,-15.6)rotate(106)"/>
<ellipse class="k0" rx="3.3" ry="2.5" transform="translate(-37.8,-9.4)rotate(88)"/>
<ellipse class="k2" rx="2.9" ry="1.9" transform="translate(16.4,-1.3)rotate(90)"/>
<ellipse class="k4" rx="3.3" ry="1.5" transform="translate(-30.6,-6.8)rotate(64)"/>
<ellipse class="k2" rx="3.9" ry="2.3" transform="translate(-17.9,-6.8)rotate(84)"/>
<ellipse class="k1" rx="2.6" ry="1.9" transform="translate(9.1,2.2)rotate(64)"/>
<ellipse class="k3" rx="3.3" ry="2.0" transform="translate(-4.4,19.3)rotate(28)"/>
<ellipse class="k5" rx="2.5" ry="1.7" transform="translate(-2.9,11.3)rotate(66)"/>
<ellipse class="k3" rx="3.7" ry="2.5" transform="translate(10.2,13.4)rotate(144)"/>
<ellipse class="k2" rx="3.8" ry="2.1" transform="translate(-35.7,2.4)rotate(162)"/>
<ellipse class="k1" rx="3.1" ry="1.9" transform="translate(6.8,-21.8)rotate(49)"/>
<ellipse class="k3" rx="3.6" ry="2.6" transform="translate(-11.6,-22.1)rotate(115)"/>
<ellipse class="k3" rx="3.3" ry="2.2" transform="translate(-14.5,-7.7)rotate(3)"/>
<ellipse class="k4" rx="4.1" ry="2.8" transform="translate(6.8,-19.9)rotate(50)"/>
<ellipse class="k4" rx="2.8" ry="2.0" transform="translate(-24.1,14.8)rotate(14)"/>
<ellipse class="k2" rx="2.8" ry="1.6" transform="translate(-32.2,10.9)rotate(10)"/>
<ellipse class="k2" rx="3.9" ry="3.0" transform="translate(-28.6,10.7)rotate(99)"/>
<ellipse class="k2" rx="4.4" ry="2.6" transform="translate(14.8,-18.9)rotate(7)"/>
<ellipse class="k5" rx="3.3" ry="2.2" transform="translate(-13.2,10.6)rotate(136)"/>
<ellipse class="k4" rx="2.6" ry="1.2" transform="translate(-6.6,21.9)rotate(7)"/>
<ellipse class="k4" rx="2.8" ry="1.7" transform="translate(-24.4,8.9)rotate(33)"/>
<ellipse class="k1" rx="4.4" ry="2.6" transform="translate(-5.8,7.9)rotate(59)"/>
<ellipse class="k5" rx="3.5" ry="1.6" transform="translate(-19.0,-2.5)rotate(127)"/>
<ellipse class="k5" rx="2.8" ry="1.6" transform="translate(-34.4,-14.7)rotate(118)"/>
<ellipse class="k0" rx="4.3" ry="3.1" transform="translate(-16.6,5.6)rotate(142)"/>
<ellipse class="k3" rx="4.3" ry="2.8" transform="translate(-8.0,-2.2)rotate(119)"/>
<ellipse class="k0" rx="2.6" ry="1.9" transform="translate(-12.3,-16.2)rotate(26)"/>
<ellipse class="k5" rx="3.9" ry="1.8" transform="translate(-34.4,-5.4)rotate(93)"/>
<ellipse class="k0" rx="3.3" ry="2.3" transform="translate(-45.6,13.7)rotate(68)"/>
<ellipse class="k0" rx="3.5" ry="2.3" transform="translate(-2.3,-7.6)rotate(29)"/>
<ellipse class="k5" rx="4.5" ry="2.4" transform="translate(13.1,-14.2)rotate(142)"/>
<ellipse class="k0" rx="3.9" ry="2.2" transform="translate(8.2,22.6)rotate(47)"/>
<ellipse class="k3" rx="4.2" ry="2.6" transform="translate(-5.7,-15.7)rotate(155)"/>
<ellipse class="k1" rx="4.2" ry="1.9" transform="translate(19.3,-0.4)rotate(137)"/>
<ellipse class="k4" rx="3.7" ry="2.2" transform="translate(-8.2,18.7)rotate(16)"/>
<ellipse class="k1" rx="3.1" ry="1.5" transform="translate(5.3,-18.3)rotate(80)"/>
<ellipse class="k4" rx="4.0" ry="2.7" transform="translate(1.9,-11.2)rotate(6)"/>
<ellipse class="k3" rx="2.6" ry="1.4" transform="translate(9.1,-9.2)rotate(37)"/>
<ellipse class="k5" rx="3.6" ry="2.6" transform="translate(-12.5,0.0)rotate(146)"/>
<ellipse class="k5" rx="4.2" ry="2.5" transform="translate(4.1,-2.0)rotate(85)"/>
<ellipse class="k4" rx="2.8" ry="1.9" transform="translate(-38.2,11.5)rotate(108)"/>
<ellipse class="k1" rx="4.4" ry="2.5" transform="translate(11.1,10.9)rotate(154)"/>
<ellipse class="k4" rx="3.4" ry="1.6" transform="translate(-28.9,0.3)rotate(153)"/>
<ellipse class="k5" rx="3.4" ry="2.1" transform="translate(13.0,-21.4)rotate(14)"/>
<ellipse class="k5" rx="3.7" ry="2.9" transform="translate(-26.8,15.6)rotate(147)"/>
<ellipse class="k2" rx="3.5" ry="2.0" transform="translate(-38.1,-14.4)rotate(163)"/>
<ellipse class="k4" rx="2.9" ry="1.6" transform="translate(-31.3,16.4)rotate(40)"/>
<ellipse class="k5" rx="4.4" ry="3.2" transform="translate(13.8,5.2)rotate(69)"/>
<ellipse class="k1" rx="2.9" ry="1.7" transform="translate(-4.8,21.5)rotate(145)"/>
<ellipse class="k0" rx="3.0" ry="1.8" transform="translate(-1.0,11.3)rotate(173)"/>
<ellipse class="k1" rx="3.9" ry="2.5" transform="translate(14.9,-15.6)rotate(160)"/>
<ellipse class="k0" rx="3.4" ry="2.7" transform="translate(14.4,18.3)rotate(66)"/>
<ellipse class="k4" rx="3.7" ry="1.9" transform="translate(-9.4,12.0)rotate(66)"/>
<ellipse class="k3" rx="2.8" ry="1.8" transform="translate(17.3,22.2)rotate(69)"/>
<ellipse class="k4" rx="2.6" ry="1.3" transform="translate(-9.9,-8.6)rotate(172)"/>
<ellipse class="k5" rx="4.1" ry="3.2" transform="translate(-16.0,-6.0)rotate(65)"/>
<ellipse class="k5" rx="3.6" ry="2.7" transform="translate(16.7,6.2)rotate(31)"/>
<ellipse class="k5" rx="3.1" ry="2.2" transform="translate(-33.6,-14.2)rotate(175)"/>
<ellipse class="k0" rx="3.6" ry="1.9" transform="translate(-41.8,-22.5)rotate(119)"/>
<ellipse class="k4" rx="2.7" ry="1.5" transform="translate(3.7,-12.1)rotate(179)"/>
<ellipse class="k1" rx="2.5" ry="1.2" transform="translate(-1.2,9.8)rotate(16)"/>
<ellipse class="k3" rx="3.9" ry="2.4" transform="translate(-27.5,18.2)rotate(162)"/>
<ellipse class="k2" rx="2.5" ry="1.3" transform="translate(-7.1,14.9)rotate(163)"/>
<ellipse class="k5" rx="2.7" ry="1.8" transform="translate(-31.2,-13.3)rotate(93)"/>
<ellipse class="k4" rx="3.3" ry="2.3" transform="translate(-24.6,21.5)rotate(107)"/>
<ellipse class="k0" rx="4.2" ry="3.2" transform="translate(0.0,-3.5)rotate(27)"/>
<ellipse class="k1" rx="4.4" ry="3.5" transform="translate(-22.0,7.4)rotate(112)"/>
<ellipse class="k3" rx="4.0" ry="2.5" transform="translate(-2.9,-15.6)rotate(165)"/>
<ellipse class="k4" rx="2.8" ry="1.4" transform="translate(-21.6,2.0)rotate(106)"/>
<ellipse class="k0" rx="3.5" ry="2.3" transform="translate(6.9,-15.6)rotate(89)"/>
<ellipse class="k2" rx="4.0" ry="2.1" transform="translate(-15.4,11.5)rotate(43)"/>
<ellipse class="k4" rx="4.1" ry="2.2" transform="translate(4.0,-11.9)rotate(150)"/>
<ellipse class="k5" rx="3.5" ry="1.6" transform="translate(-7.1,-3.2)rotate(179)"/>
<ellipse class="k2" rx="3.0" ry="1.4" transform="translate(-42.8,22.4)rotate(36)"/>
<ellipse class="k4" rx="4.0" ry="2.3" transform="translate(-28.9,12.6)rotate(76)"/>
<ellipse class="k2" rx="4.4" ry="2.3" transform="translate(-25.6,0.6)rotate(31)"/>
<ellipse class="k2" rx="2.7" ry="1.7" transform="translate(-17.5,19.8)rotate(106)"/>
<ellipse class="k5" rx="4.0" ry="2.8" transform="translate(-13.1,22.5)rotate(142)"/>
<ellipse class="k5" rx="2.6" ry="1.6" transform="translate(-27.2,-21.2)rotate(129)"/>
<ellipse class="k5" rx="3.8" ry="2.3" transform="translate(-12.3,-15.3)rotate(82)"/>
<ellipse class="k4" rx="3.9" ry="2.7" transform="translate(-30.1,-1.5)rotate(36)"/>
<ellipse class="k3" rx="4.5" ry="2.5" transform="translate(-40.2,8.6)rotate(119)"/>
<ellipse class="k4" rx="3.3" ry="2.5" transform="translate(-24.2,-21.3)rotate(28)"/>
<ellipse class="k4" rx="4.5" ry="3.5" transform="translate(-41.3,2.0)rotate(69)"/>
<ellipse class="k0" rx="2.7" ry="2.1" transform="translate(-1.1,-11.4)rotate(146)"/>
<ellipse class="k2" rx="4.1" ry="2.5" transform="translate(-26.7,20.0)rotate(12)"/>
<ellipse class="k5" rx="2.6" ry="1.3" transform="translate(-17.1,7.4)rotate(8)"/>
<ellipse class="k4" rx="2.7" ry="1.5" transform="translate(1.2,13.8)rotate(40)"/>
<ellipse class="k1" rx="2.8" ry="2.1" transform="translate(16.6,-10.7)rotate(128)"/>
<ellipse class="k4" rx="3.4" ry="1.5" transform="translate(-27.7,22.0)rotate(98)"/>
<ellipse class="k3" rx="4.3" ry="2.9" transform="translate(-17.6,-12.2)rotate(129)"/>
<ellipse class="k4" rx="3.8" ry="1.7" transform="translate(-38.4,-5.5)rotate(157)"/>
<ellipse class="k5" rx="3.7" ry="2.7" transform="translate(-40.4,-8.9)rotate(141)"/>
<ellipse class="k0" rx="4.4" ry="3.0" transform="translate(11.1,4.1)rotate(96)"/>
<ellipse class="k3" rx="4.0" ry="2.0" transform="translate(-25.5,-13.6)rotate(92)"/>
<ellipse class="k0" rx="3.1" ry="1.9" transform="translate(-7.2,-12.8)rotate(4)"/>
<ellipse class="k4" rx="2.6" ry="1.4" transform="translate(-17.6,4.5)rotate(139)"/>
<ellipse class="k0" rx="3.5" ry="1.9" transform="translate(0.4,12.9)rotate(98)"/>
<ellipse class="k3" rx="4.2" ry="1.9" transform="translate(-10.1,-9.5)rotate(87)"/>
<ellipse class="k3" rx="3.4" ry="2.0" transform="translate(2.3,-13.2)rotate(82)"/>
<ellipse class="k1" rx="3.8" ry="2.8" transform="translate(-40.3,-6.4)rotate(118)"/>
<ellipse class="k4" rx="3.9" ry="2.1" transform="translate(-1.4,6.2)rotate(62)"/>
<ellipse class="k3" rx="3.7" ry="2.8" transform="translate(-19.0,-2.9)rotate(145)"/>
<ellipse class="k5" rx="2.7" ry="2.0" transform="translate(-30.9,-7.5)rotate(33)"/>
<ellipse class="k2" rx="4.3" ry="2.0" transform="translate(-39.3,-13.9)rotate(161)"/>
<ellipse class="k3" rx="3.4" ry="2.0" transform="translate(10.0,16.9)rotate(28)"/>
<ellipse class="k5" rx="3.2" ry="1.5" transform="translate(-3.7,9.8)rotate(153)"/>
<ellipse class="k2" rx="4.3" ry="2.6" transform="translate(-24.1,16.2)rotate(27)"/>
<ellipse class="k0" rx="2.7" ry="1.5" transform="translate(5.8,0.4)rotate(72)"/>
<ellipse class="k1" rx="2.5" ry="1.5" transform="translate(-6.7,-11.3)rotate(141)"/>
<ellipse class="k4" rx="3.1" ry="1.6" transform="translate(2.6,-17.8)rotate(112)"/>
<ellipse class="k3" rx="3.8" ry="2.6" transform="translate(-33.6,-22.1)rotate(18)"/>
<ellipse class="k0" rx="3.0" ry="1.8" transform="translate(0.7,16.1)rotate(159)"/>
<ellipse class="k4" rx="3.5" ry="2.6" transform="translate(-38.0,3.3)rotate(92)"/>
<ellipse class="k3" rx="3.1" ry="1.9" transform="translate(-37.9,-13.2)rotate(3)"/>
<ellipse class="k1" rx="3.3" ry="2.2" transform="translate(-30.9,-7.7)rotate(44)"/>
<ellipse class="k3" rx="2.6" ry="1.9" transform="translate(-7.2,-5.6)rotate(48)"/>
<ellipse class="k1" rx="4.5" ry="2.1" transform="translate(5.2,-1.0)rotate(83)"/>
<ellipse class="k1" rx="3.7" ry="2.3" transform="translate(-6.5,-14.9)rotate(29)"/>
<ellipse class="k4" rx="4.0" ry="2.9" transform="translate(17.1,22.0)rotate(56)"/>
<ellipse class="k2" rx="2.6" ry="2.0" transform="translate(11.5,8.9)rotate(66)"/>
<ellipse class="k0" rx="3.1" ry="2.1" transform="translate(-17.4,0.4)rotate(66)"/>
<ellipse class="k3" rx="3.6" ry="1.7" transform="translate(1.1,-18.4)rotate(155)"/>
<ellipse class="k0" rx="3.2" ry="1.8" transform="translate(-32.2,17.4)rotate(101)"/>
<ellipse class="k4" rx="3.7" ry="2.6" transform="translate(-27.9,12.0)rotate(66)"/>
<ellipse class="k4" rx="2.8" ry="1.9" transform="translate(19.0,6.5)rotate(61)"/>
<ellipse class="k2" rx="3.2" ry="1.9" transform="translate(-18.5,21.0)rotate(180)"/>
<ellipse class="k2" rx="3.2" ry="1.7" transform="translate(-33.0,1.5)rotate(142)"/>
<ellipse class="k4" rx="3.2" ry="2.3" transform="translate(-15.8,15.3)rotate(68)"/>
<ellipse class="k0" rx="3.3" ry="1.5" transform="translate(12.6,-8.2)rotate(85)"/>
<ellipse class="k3" rx="3.8" ry="2.6" transform="translate(-33.0,-15.0)rotate(146)"/>
<ellipse class="k3" rx="4.0" ry="2.7" transform="translate(-12.9,9.3)rotate(52)"/>
<ellipse class="k3" rx="4.0" ry="1.9" transform="translate(-10.7,10.0)rotate(56)"/>
<ellipse class="k0" rx="3.7" ry="2.7" transform="translate(-1.2,2.1)rotate(150)"/>
<ellipse class="k3" rx="3.1" ry="1.6" transform="translate(-1.7,11.2)rotate(89)"/>
<ellipse class="k4" rx="2.6" ry="2.0" transform="translate(-9.7,-15.4)rotate(110)"/>
<ellipse class="k3" rx="4.4" ry="3.1" transform="translate(-43.8,20.0)rotate(145)"/>
<ellipse class="k0" rx="4.4" ry="2.0" transform="translate(-41.4,18.7)rotate(160)"/>
<ellipse class="k2" rx="3.9" ry="2.5" transform="translate(-17.0,15.2)rotate(37)"/>
<ellipse class="k4" rx="2.6" ry="1.4" transform="translate(13.3,-7.4)rotate(164)"/>
<ellipse class="k5" rx="2.6" ry="1.8" transform="translate(-44.5,10.1)rotate(50)"/>
<ellipse class="k1" rx="4.2" ry="3.4" transform="translate(14.7,18.6)rotate(109)"/>
<ellipse class="k3" rx="2.5" ry="1.2" transform="translate(18.1,2.4)rotate(41)"/>
<ellipse class="k2" rx="3.6" ry="2.4" transform="translate(-40.0,19.6)rotate(69)"/>
<ellipse class="k2" rx="4.1" ry="3.0" transform="translate(-10.2,-5.7)rotate(51)"/>
<ellipse class="k1" rx="3.0" ry="2.1" transform="translate(3.2,15.2)rotate(8)"/>
<ellipse class="k3" rx="4.1" ry="2.5" transform="translate(-39.7,-2.8)rotate(90)"/>
<ellipse class="k3" rx="4.0" ry="3.0" transform="translate(-44.2,11.7)rotate(72)"/>
<ellipse class="k2" rx="4.3" ry="3.4" transform="translate(-35.4,-0.2)rotate(94)"/>
<ellipse class="k2" rx="3.4" ry="2.2" transform="translate(-35.8,19.3)rotate(118)"/>
<ellipse class="k3" rx="4.3" ry="2.3" transform="translate(-29.6,3.3)rotate(114)"/>
<ellipse class="k1" rx="3.7" ry="1.9" transform="translate(-14.2,-5.7)rotate(145)"/>
<ellipse class="k0" rx="4.1" ry="2.0" transform="translate(11.6,-9.1)rotate(108)"/>
<ellipse class="k4" rx="4.1" ry="2.2" transform="translate(-4.7,-17.2)rotate(142)"/>
<ellipse class="k1" rx="3.4" ry="2.3" transform="translate(-1.2,14.5)rotate(34)"/>
<ellipse class="k2" rx="3.5" ry="1.8" transform="translate(-39.4,-4.1)rotate(116)"/>
<ellipse class="k2" rx="2.7" ry="1.9" transform="translate(-17.4,-10.2)rotate(29)"/>
<ellipse class="k4" rx="3.8" ry="2.4" transform="translate(-7.3,-14.1)rotate(3)"/>
<ellipse class="k0" rx="2.6" ry="1.9" transform="translate(15.4,-13.8)rotate(18)"/>
<ellipse class="k0" rx="4.5" ry="3.0" transform="translate(-17.3,16.1)rotate(41)"/>
<ellipse class="k4" rx="3.2" ry="2.0" transform="translate(-8.2,6.8)rotate(177)"/>
<ellipse class="k4" rx="3.0" ry="2.2" transform="translate(-35.6,-8.9)rotate(11)"/>
<ellipse class="k3" rx="2.9" ry="1.5" transform="translate(-8.2,18.3)rotate(45)"/>
<ellipse class="k6" rx="1.1" ry="0.7" transform="translate(-39.2,-0.4)rotate(83)"/>
<ellipse class="k6" rx="1.5" ry="0.6" transform="translate(-20.1,12.1)rotate(40)"/>
<ellipse class="k6" rx="0.9" ry="0.8" transform="translate(-44.4,-7.2)rotate(140)"/>
<ellipse class="k6" rx="0.8" ry="0.9" transform="translate(21.7,-12.2)rotate(74)"/>
<ellipse class="k6" rx="1.1" ry="0.5" transform="translate(17.4,-4.5)rotate(171)"/>
<ellipse class="k6" rx="1.2" ry="0.9" transform="translate(-10.7,-2.5)rotate(150)"/>
<ellipse class="k6" rx="1.2" ry="0.9" transform="translate(-13.1,-13.5)rotate(73)"/>
<ellipse class="k6" rx="1.3" ry="0.8" transform="translate(-0.7,2.5)rotate(44)"/>
<ellipse class="k6" rx="0.9" ry="0.7" transform="translate(-7.7,15.3)rotate(159)"/>
<ellipse class="k6" rx="1.4" ry="0.8" transform="translate(20.5,-20.4)rotate(152)"/>
<ellipse class="k6" rx="1.1" ry="0.9" transform="translate(-13.5,-15.5)rotate(131)"/>
<ellipse class="k6" rx="1.5" ry="0.8" transform="translate(-31.3,6.0)rotate(4)"/>
<ellipse class="k6" rx="1.4" ry="0.7" transform="translate(-15.4,-7.4)rotate(23)"/>
<ellipse class="k6" rx="1.6" ry="0.7" transform="translate(-0.1,-8.9)rotate(98)"/>
<ellipse class="k6" rx="1.5" ry="0.5" transform="translate(9.1,-16.1)rotate(169)"/>
<ellipse class="k6" rx="1.2" ry="0.6" transform="translate(-43.3,9.4)rotate(71)"/>
<ellipse class="k6" rx="0.9" ry="0.8" transform="translate(-11.4,-3.6)rotate(54)"/>
<ellipse class="k6" rx="1.2" ry="0.6" transform="translate(19.8,-4.9)rotate(174)"/>
<ellipse class="k6" rx="1.6" ry="0.7" transform="translate(-23.4,6.1)rotate(136)"/>
<ellipse class="k6" rx="0.8" ry="0.7" transform="translate(-26.3,-16.4)rotate(157)"/>
<ellipse class="k6" rx="1.6" ry="0.6" transform="translate(-31.4,-2.5)rotate(27)"/>
<ellipse class="k6" rx="1.7" ry="0.9" transform="translate(-10.2,-3.1)rotate(43)"/>
<ellipse class="k6" rx="0.8" ry="0.7" transform="translate(-7.4,-3.5)rotate(165)"/>
<ellipse class="k6" rx="1.5" ry="0.5" transform="translate(-24.7,3.6)rotate(166)"/>
<ellipse class="k6" rx="1.5" ry="0.5" transform="translate(-37.7,-8.3)rotate(68)"/>
<ellipse class="k6" rx="0.8" ry="0.6" transform="translate(-36.5,-1.1)rotate(40)"/>
<ellipse class="k6" rx="1.0" ry="0.8" transform="translate(-39.5,-17.2)rotate(25)"/>
<ellipse class="k6" rx="1.1" ry="0.6" transform="translate(10.0,-3.5)rotate(151)"/>
<ellipse class="k6" rx="0.9" ry="1.0" transform="translate(-41.9,10.2)rotate(73)"/>
<ellipse class="k6" rx="0.9" ry="0.5" transform="translate(-5.0,15.3)rotate(125)"/>
<ellipse class="k6" rx="1.1" ry="0.7" transform="translate(-5.6,9.3)rotate(34)"/>
<ellipse class="k6" rx="1.4" ry="0.6" transform="translate(-15.7,-9.2)rotate(49)"/>
<ellipse class="k6" rx="1.6" ry="0.7" transform="translate(-2.0,-17.4)rotate(41)"/>
<ellipse class="k6" rx="1.3" ry="0.9" transform="translate(-37.3,0.4)rotate(67)"/>
<ellipse class="k6" rx="1.1" ry="1.0" transform="translate(-17.4,16.5)rotate(161)"/>
<ellipse class="k6" rx="1.1" ry="0.9" transform="translate(21.3,18.6)rotate(110)"/>
<ellipse class="k6" rx="1.4" ry="0.9" transform="translate(-31.3,20.9)rotate(100)"/>
<ellipse class="k6" rx="1.0" ry="0.6" transform="translate(-39.7,15.3)rotate(111)"/>
<ellipse class="k6" rx="1.5" ry="0.5" transform="translate(-32.0,-1.6)rotate(119)"/>
<ellipse class="k6" rx="1.4" ry="0.8" transform="translate(-38.0,-1.0)rotate(8)"/>
<ellipse class="k6" rx="1.2" ry="0.7" transform="translate(-32.2,19.3)rotate(67)"/>
<ellipse class="k6" rx="1.5" ry="0.7" transform="translate(1.6,10.1)rotate(103)"/>
<ellipse class="k6" rx="1.7" ry="1.0" transform="translate(-10.5,-13.1)rotate(140)"/>
<ellipse class="k6" rx="1.6" ry="0.6" transform="translate(21.5,-1.4)rotate(134)"/>
<ellipse class="k6" rx="1.6" ry="0.9" transform="translate(2.9,18.4)rotate(48)"/>
<rect x="-51.0" y="-27.0" width="102" height="54" fill="#fff" opacity="0.06"/>
<ellipse class="kd" rx="2.5" ry="1.0" transform="translate(21.9,-1.1)rotate(144)"/>
<ellipse class="kd" rx="2.9" ry="1.0" transform="translate(26.6,15.2)rotate(28)"/>
<ellipse class="kd" rx="2.5" ry="0.9" transform="translate(3.3,-12.7)rotate(28)"/>
<ellipse class="kd" rx="3.0" ry="1.0" transform="translate(15.9,-12.2)rotate(153)"/>
<ellipse class="kd" rx="2.6" ry="0.9" transform="translate(-19.3,-10.2)rotate(78)"/>
<ellipse class="kd" rx="3.1" ry="1.1" transform="translate(-12.7,-21.4)rotate(0)"/>
<ellipse class="kd" rx="2.5" ry="0.9" transform="translate(36.6,-11.9)rotate(18)"/>
<ellipse class="kd" rx="2.7" ry="1.0" transform="translate(15.3,3.6)rotate(52)"/>
<ellipse class="kd" rx="3.2" ry="1.3" transform="translate(37.5,-5.6)rotate(22)"/>
<ellipse class="kd" rx="2.9" ry="1.2" transform="translate(27.1,-21.1)rotate(125)"/>
<ellipse class="kd" rx="2.4" ry="1.1" transform="translate(1.7,13.8)rotate(48)"/>
<ellipse class="kd" rx="2.9" ry="1.1" transform="translate(-11.1,-13.6)rotate(140)"/>
</g>
<g clip-path="url(#capA3)">
<ellipse class="k9" rx="3.9" ry="2.5" transform="translate(23.6,-10.8)rotate(9)"/>
<ellipse class="k9" rx="4.1" ry="2.3" transform="translate(35.1,11.7)rotate(169)"/>
<ellipse class="k7" rx="3.8" ry="2.2" transform="translate(31.4,-13.1)rotate(124)"/>
<ellipse class="kc" rx="3.7" ry="2.5" transform="translate(31.8,8.9)rotate(24)"/>
<ellipse class="k7" rx="4.2" ry="2.6" transform="translate(23.1,2.6)rotate(114)"/>
<ellipse class="k7" rx="2.7" ry="1.7" transform="translate(35.5,22.1)rotate(159)"/>
<ellipse class="k9" rx="2.7" ry="1.6" transform="translate(34.8,-12.5)rotate(55)"/>
<ellipse class="k8" rx="3.4" ry="2.0" transform="translate(22.5,2.8)rotate(142)"/>
<ellipse class="kb" rx="2.6" ry="1.9" transform="translate(24.9,6.5)rotate(155)"/>
<ellipse class="k9" rx="2.8" ry="1.6" transform="translate(21.6,3.0)rotate(2)"/>
<ellipse class="kb" rx="2.7" ry="1.7" transform="translate(25.4,9.9)rotate(19)"/>
<ellipse class="k7" rx="3.3" ry="2.1" transform="translate(38.0,12.8)rotate(21)"/>
<ellipse class="kb" rx="3.8" ry="2.0" transform="translate(20.9,-10.5)rotate(120)"/>
<ellipse class="k8" rx="4.0" ry="2.3" transform="translate(28.1,23.8)rotate(84)"/>
<ellipse class="kc" rx="2.7" ry="1.5" transform="translate(37.6,13.0)rotate(167)"/>
<ellipse class="kb" rx="4.2" ry="2.1" transform="translate(19.5,-6.9)rotate(159)"/>
<ellipse class="k8" rx="3.8" ry="2.2" transform="translate(23.9,-11.1)rotate(8)"/>
<ellipse class="kc" rx="3.7" ry="2.5" transform="translate(27.6,20.2)rotate(6)"/>
<ellipse class="ka" rx="3.2" ry="1.8" transform="translate(23.6,-14.5)rotate(129)"/>
<ellipse class="k7" rx="2.8" ry="2.0" transform="translate(40.4,-0.6)rotate(44)"/>
<ellipse class="k8" rx="3.9" ry="2.1" transform="translate(22.6,0.6)rotate(173)"/>
<ellipse class="k7" rx="3.9" ry="2.0" transform="translate(28.2,15.6)rotate(29)"/>
<ellipse class="k9" rx="4.1" ry="2.1" transform="translate(34.1,-10.2)rotate(13)"/>
<ellipse class="kb" rx="2.7" ry="1.9" transform="translate(21.6,17.2)rotate(91)"/>
<ellipse class="k9" rx="2.9" ry="2.2" transform="translate(36.8,18.3)rotate(41)"/>
<ellipse class="kb" rx="2.8" ry="1.9" transform="translate(41.2,2.1)rotate(114)"/>
<ellipse class="k9" rx="3.9" ry="2.9" transform="translate(35.9,-17.8)rotate(127)"/>
<ellipse class="k8" rx="3.3" ry="2.3" transform="translate(26.4,7.5)rotate(98)"/>
<ellipse class="ka" rx="3.0" ry="2.0" transform="translate(37.3,18.0)rotate(157)"/>
<ellipse class="k8" rx="4.1" ry="2.7" transform="translate(35.9,11.6)rotate(29)"/>
<ellipse class="k7" rx="2.9" ry="1.5" transform="translate(35.6,10.4)rotate(16)"/>
<ellipse class="kb" rx="3.7" ry="2.6" transform="translate(28.3,-3.8)rotate(113)"/>
<ellipse class="k9" rx="3.5" ry="2.2" transform="translate(35.6,11.7)rotate(141)"/>
<ellipse class="k9" rx="3.2" ry="1.8" transform="translate(20.2,-1.8)rotate(53)"/>
<ellipse class="kb" rx="2.9" ry="2.1" transform="translate(35.9,12.2)rotate(55)"/>
<ellipse class="kb" rx="3.3" ry="2.0" transform="translate(32.8,-0.2)rotate(19)"/>
<ellipse class="kb" rx="3.3" ry="2.5" transform="translate(19.5,1.7)rotate(158)"/>
<ellipse class="ka" rx="3.6" ry="2.3" transform="translate(36.1,-17.4)rotate(133)"/>
<ellipse class="kb" rx="3.4" ry="2.0" transform="translate(38.6,-6.7)rotate(149)"/>
<ellipse class="k8" rx="3.5" ry="2.3" transform="translate(27.4,22.9)rotate(25)"/>
<ellipse class="k7" rx="3.3" ry="2.4" transform="translate(38.4,-6.8)rotate(49)"/>
<ellipse class="k7" rx="4.0" ry="2.4" transform="translate(21.8,-1.7)rotate(84)"/>
<ellipse class="kc" rx="3.8" ry="2.0" transform="translate(25.5,7.4)rotate(56)"/>
<ellipse class="kb" rx="3.7" ry="2.3" transform="translate(32.1,15.4)rotate(66)"/>
<ellipse class="kb" rx="3.5" ry="2.2" transform="translate(32.5,5.8)rotate(119)"/>
<ellipse class="kb" rx="3.6" ry="2.3" transform="translate(21.4,-5.8)rotate(59)"/>
<ellipse class="k8" rx="2.7" ry="1.7" transform="translate(21.0,17.2)rotate(37)"/>
<ellipse class="kc" rx="3.9" ry="2.8" transform="translate(34.5,5.0)rotate(90)"/>
<ellipse class="kc" rx="2.7" ry="1.9" transform="translate(26.6,22.8)rotate(120)"/>
<ellipse class="k7" rx="3.9" ry="2.3" transform="translate(27.2,-11.2)rotate(25)"/>
<ellipse class="ka" rx="2.7" ry="1.6" transform="translate(26.4,15.4)rotate(73)"/>
<ellipse class="kc" rx="3.0" ry="1.9" transform="translate(28.9,-11.9)rotate(147)"/>
<ellipse class="ka" rx="3.9" ry="2.5" transform="translate(20.3,7.6)rotate(146)"/>
<ellipse class="kc" rx="3.2" ry="1.8" transform="translate(30.2,-3.9)rotate(115)"/>
<ellipse class="kb" rx="3.9" ry="2.0" transform="translate(35.6,9.8)rotate(124)"/>
<ellipse class="kc" rx="3.4" ry="2.2" transform="translate(21.3,9.7)rotate(54)"/>
<ellipse class="kb" rx="3.5" ry="2.5" transform="translate(28.8,-11.4)rotate(15)"/>
<ellipse class="ka" rx="3.5" ry="2.4" transform="translate(36.0,-11.1)rotate(139)"/>
<ellipse class="kb" rx="3.5" ry="2.4" transform="translate(27.8,11.6)rotate(177)"/>
<ellipse class="k9" rx="3.8" ry="2.6" transform="translate(18.9,6.1)rotate(120)"/>
<ellipse class="kc" rx="3.8" ry="2.5" transform="translate(30.9,-16.3)rotate(51)"/>
<ellipse class="k7" rx="4.2" ry="2.5" transform="translate(24.9,2.5)rotate(17)"/>
<ellipse class="k7" rx="2.9" ry="2.0" transform="translate(24.1,18.0)rotate(67)"/>
<ellipse class="ka" rx="3.8" ry="2.3" transform="translate(20.0,-10.0)rotate(159)"/>
<ellipse class="k9" rx="3.7" ry="2.4" transform="translate(35.9,-2.6)rotate(119)"/>
<ellipse class="kb" rx="3.0" ry="2.1" transform="translate(40.1,-1.5)rotate(47)"/>
<ellipse class="k9" rx="3.1" ry="1.9" transform="translate(24.4,18.4)rotate(25)"/>
<ellipse class="k7" rx="3.4" ry="2.1" transform="translate(23.6,15.8)rotate(104)"/>
<ellipse class="k9" rx="3.8" ry="2.6" transform="translate(23.7,6.2)rotate(76)"/>
<ellipse class="kc" rx="3.4" ry="2.5" transform="translate(25.6,-6.2)rotate(159)"/>
<ellipse class="ka" rx="4.0" ry="2.0" transform="translate(27.1,-2.5)rotate(94)"/>
<ellipse class="k7" rx="4.0" ry="2.4" transform="translate(36.7,15.9)rotate(35)"/>
<ellipse class="k7" rx="2.9" ry="2.0" transform="translate(24.5,-8.7)rotate(15)"/>
<ellipse class="ka" rx="4.0" ry="3.0" transform="translate(25.1,15.0)rotate(17)"/>
<ellipse class="kb" rx="2.9" ry="2.0" transform="translate(22.0,-12.9)rotate(14)"/>
<ellipse class="kb" rx="3.8" ry="1.9" transform="translate(19.5,4.7)rotate(160)"/>
<ellipse class="ka" rx="2.8" ry="2.0" transform="translate(32.7,18.2)rotate(40)"/>
<ellipse class="ka" rx="2.9" ry="1.9" transform="translate(30.6,-11.3)rotate(57)"/>
<ellipse class="kb" rx="2.7" ry="2.0" transform="translate(26.9,-11.5)rotate(145)"/>
<ellipse class="kc" rx="3.9" ry="2.8" transform="translate(23.9,4.8)rotate(88)"/>
<ellipse class="k7" rx="3.3" ry="2.4" transform="translate(39.8,12.2)rotate(172)"/>
<ellipse class="kb" rx="3.6" ry="1.8" transform="translate(38.7,11.6)rotate(79)"/>
<ellipse class="k9" rx="2.6" ry="1.9" transform="translate(21.0,-9.7)rotate(95)"/>
<ellipse class="k7" rx="4.0" ry="2.2" transform="translate(28.9,17.5)rotate(162)"/>
<ellipse class="k7" rx="3.3" ry="2.4" transform="translate(25.3,-13.1)rotate(78)"/>
<ellipse class="ka" rx="3.4" ry="2.2" transform="translate(27.2,-13.5)rotate(157)"/>
<ellipse class="kb" rx="2.9" ry="2.0" transform="translate(26.3,6.8)rotate(144)"/>
<ellipse class="kb" rx="3.0" ry="1.7" transform="translate(37.6,17.8)rotate(167)"/>
<ellipse class="k8" rx="3.5" ry="1.9" transform="translate(27.5,7.4)rotate(39)"/>
<ellipse class="k7" rx="2.8" ry="1.7" transform="translate(36.8,3.4)rotate(17)"/>
</g>
</g>
<defs><clipPath id="capA4"><path d="M-25,-23 L25,-25.5 A25.5,25.5 0 0 1 25,25.5 L-25,23 A23,23 0 0 1 -25,-23 Z"/></clipPath><linearGradient id="capg4" x1="0" y1="0" x2="0" y2="1"><stop offset="0" stop-color="#e4e4e6"/><stop offset="0.5" stop-color="#f4f4f5"/><stop offset="1" stop-color="#dcdcde"/></linearGradient></defs>
<g transform="translate(393.75,74) rotate(40)">
<path d="M-25,-26 L25,-28.5 A28.5,28.5 0 0 1 25,28.5 L-25,26 A26,26 0 0 1 -25,-26 Z" fill="url(#capg4)" stroke="#c4c4c6" stroke-width="1"/>
<g clip-path="url(#capA4)">
<path d="M-25,-21.5 L28,-24.0 L28,24.0 L-25,21.5 A21.5,21.5 0 0 1 -25,-21.5 Z" fill="#8aaad2"/>
<ellipse class="ke" rx="4.8" ry="1.4" transform="translate(-14.5,17.0)rotate(137)"/>
<ellipse class="kf" rx="3.6" ry="0.9" transform="translate(-26.1,10.5)rotate(83)"/>
<ellipse class="k10" rx="4.5" ry="0.9" transform="translate(-15.0,-21.0)rotate(176)"/>
<ellipse class="k11" rx="3.4" ry="1.0" transform="translate(-38.2,-13.3)rotate(60)"/>
<ellipse class="k11" rx="4.6" ry="0.9" transform="translate(-11.7,20.4)rotate(117)"/>
<ellipse class="kf" rx="4.4" ry="1.2" transform="translate(-2.7,4.1)rotate(10)"/>
<ellipse class="kf" rx="3.3" ry="0.7" transform="translate(-24.2,5.9)rotate(65)"/>
<ellipse class="k12" rx="4.1" ry="1.3" transform="translate(-20.2,-3.4)rotate(79)"/>
<ellipse class="k12" rx="4.4" ry="0.9" transform="translate(-24.7,-17.8)rotate(66)"/>
<ellipse class="k10" rx="5.3" ry="1.7" transform="translate(-30.2,-22.3)rotate(157)"/>
<ellipse class="k11" rx="5.4" ry="1.1" transform="translate(-1.5,18.9)rotate(43)"/>
<ellipse class="k13" rx="5.1" ry="1.3" transform="translate(-29.2,9.1)rotate(21)"/>
<ellipse class="k10" rx="5.1" ry="1.2" transform="translate(-33.7,14.2)rotate(107)"/>
<ellipse class="k12" rx="4.3" ry="0.9" transform="translate(19.0,9.9)rotate(76)"/>
<ellipse class="kf" rx="4.2" ry="1.1" transform="translate(-31.8,10.3)rotate(23)"/>
<ellipse class="k11" rx="4.1" ry="1.0" transform="translate(-0.1,-22.6)rotate(131)"/>
<ellipse class="k10" rx="4.0" ry="1.0" transform="translate(-38.0,-12.5)rotate(16)"/>
<ellipse class="k11" rx="4.9" ry="1.2" transform="translate(-5.6,15.9)rotate(171)"/>
<ellipse class="kf" rx="3.4" ry="0.8" transform="translate(-24.4,4.9)rotate(32)"/>
<ellipse class="ke" rx="4.2" ry="1.0" transform="translate(-13.0,15.8)rotate(31)"/>
<ellipse class="k10" rx="5.4" ry="1.4" transform="translate(-25.8,5.4)rotate(164)"/>
<ellipse class="k11" rx="4.9" ry="1.1" transform="translate(-0.9,-2.5)rotate(79)"/>
<ellipse class="ke" rx="3.6" ry="0.7" transform="translate(13.9,-15.4)rotate(131)"/>
<ellipse class="k13" rx="3.9" ry="1.2" transform="translate(-34.6,14.7)rotate(28)"/>
<ellipse class="ke" rx="5.2" ry="1.4" transform="translate(-21.9,-20.8)rotate(176)"/>
<ellipse class="ke" rx="4.1" ry="0.9" transform="translate(-11.3,8.4)rotate(23)"/>
<ellipse class="kf" rx="5.2" ry="1.3" transform="translate(14.3,22.9)rotate(37)"/>
<ellipse class="k12" rx="4.8" ry="1.2" transform="translate(-34.3,-7.5)rotate(121)"/>
<ellipse class="k12" rx="5.5" ry="1.1" transform="translate(3.3,-14.4)rotate(148)"/>
<ellipse class="k10" rx="3.7" ry="0.8" transform="translate(-9.7,-8.0)rotate(142)"/>
<ellipse class="kf" rx="3.3" ry="0.9" transform="translate(-1.3,9.1)rotate(118)"/>
<ellipse class="kf" rx="3.5" ry="0.8" transform="translate(-38.5,-21.0)rotate(14)"/>
<ellipse class="kf" rx="3.6" ry="0.9" transform="translate(-4.5,16.8)rotate(136)"/>
<ellipse class="k12" rx="5.6" ry="1.2" transform="translate(-23.5,-20.9)rotate(72)"/>
<ellipse class="k11" rx="4.5" ry="1.3" transform="translate(5.5,13.0)rotate(36)"/>
<ellipse class="k10" rx="4.7" ry="1.3" transform="translate(7.2,22.0)rotate(49)"/>
<ellipse class="k13" rx="5.1" ry="1.0" transform="translate(-5.7,-12.2)rotate(63)"/>
<ellipse class="ke" rx="5.5" ry="1.2" transform="translate(-33.7,-2.9)rotate(156)"/>
<ellipse class="k12" rx="3.9" ry="1.0" transform="translate(17.4,0.7)rotate(100)"/>
<ellipse class="k11" rx="4.4" ry="0.9" transform="translate(-44.0,-6.1)rotate(75)"/>
<ellipse class="k11" rx="4.1" ry="0.8" transform="translate(-7.7,-15.4)rotate(57)"/>
<ellipse class="k10" rx="5.1" ry="1.0" transform="translate(-36.6,4.7)rotate(148)"/>
<ellipse class="k13" rx="4.4" ry="0.9" transform="translate(11.2,21.4)rotate(117)"/>
<ellipse class="k13" rx="3.6" ry="0.9" transform="translate(-10.2,-9.4)rotate(72)"/>
<ellipse class="k13" rx="4.5" ry="1.2" transform="translate(-37.6,-5.3)rotate(67)"/>
<ellipse class="k11" rx="4.6" ry="1.1" transform="translate(6.1,1.3)rotate(166)"/>
<ellipse class="k12" rx="5.1" ry="1.3" transform="translate(4.5,1.6)rotate(102)"/>
<ellipse class="k12" rx="3.9" ry="1.2" transform="translate(-5.8,-16.0)rotate(97)"/>
<ellipse class="k10" rx="5.1" ry="1.5" transform="translate(-39.3,9.5)rotate(57)"/>
<ellipse class="k10" rx="4.9" ry="1.1" transform="translate(-36.4,12.0)rotate(117)"/>
<ellipse class="k10" rx="4.8" ry="0.9" transform="translate(15.0,-2.0)rotate(58)"/>
<ellipse class="k11" rx="5.3" ry="1.2" transform="translate(-12.1,11.3)rotate(96)"/>
<ellipse class="k13" rx="4.5" ry="1.2" transform="translate(-0.9,-6.6)rotate(49)"/>
<ellipse class="ke" rx="3.9" ry="0.7" transform="translate(12.4,13.8)rotate(118)"/>
<ellipse class="kf" rx="5.4" ry="1.2" transform="translate(-17.6,-21.1)rotate(33)"/>
<ellipse class="k11" rx="3.5" ry="0.7" transform="translate(14.3,1.8)rotate(25)"/>
<ellipse class="ke" rx="5.1" ry="1.4" transform="translate(-1.6,6.5)rotate(9)"/>
<ellipse class="kf" rx="5.1" ry="1.0" transform="translate(-45.3,-12.1)rotate(158)"/>
<ellipse class="kf" rx="5.3" ry="1.5" transform="translate(-36.2,16.2)rotate(72)"/>
<ellipse class="k11" rx="5.5" ry="1.6" transform="translate(-14.4,-10.2)rotate(57)"/>
<ellipse class="k13" rx="5.4" ry="1.0" transform="translate(-9.1,13.0)rotate(159)"/>
<ellipse class="kf" rx="4.5" ry="1.3" transform="translate(-0.8,-2.3)rotate(60)"/>
<ellipse class="kf" rx="5.6" ry="1.5" transform="translate(-3.0,9.7)rotate(153)"/>
<ellipse class="k10" rx="4.9" ry="1.4" transform="translate(-36.2,-7.5)rotate(102)"/>
<ellipse class="k12" rx="5.4" ry="1.3" transform="translate(-44.2,-0.3)rotate(103)"/>
<ellipse class="kf" rx="4.2" ry="0.8" transform="translate(-24.8,-11.0)rotate(151)"/>
<ellipse class="k10" rx="3.9" ry="1.0" transform="translate(-9.1,-2.6)rotate(88)"/>
<ellipse class="k13" rx="3.7" ry="0.9" transform="translate(10.0,22.4)rotate(22)"/>
<ellipse class="ke" rx="4.2" ry="1.3" transform="translate(-23.2,-17.2)rotate(173)"/>
<ellipse class="k12" rx="3.2" ry="0.7" transform="translate(-31.4,-12.8)rotate(3)"/>
<ellipse class="k11" rx="5.1" ry="1.2" transform="translate(-18.4,19.3)rotate(54)"/>
<ellipse class="k13" rx="4.9" ry="1.2" transform="translate(2.5,8.7)rotate(154)"/>
<ellipse class="k11" rx="5.5" ry="1.2" transform="translate(-19.5,-18.5)rotate(155)"/>
<ellipse class="ke" rx="5.2" ry="1.3" transform="translate(12.0,16.3)rotate(42)"/>
<ellipse class="kf" rx="4.6" ry="1.0" transform="translate(-21.6,5.1)rotate(64)"/>
<ellipse class="k10" rx="3.4" ry="1.0" transform="translate(-22.9,4.5)rotate(59)"/>
<ellipse class="k12" rx="3.5" ry="1.0" transform="translate(1.4,14.5)rotate(106)"/>
<ellipse class="ke" rx="4.5" ry="1.3" transform="translate(8.5,-20.1)rotate(169)"/>
<ellipse class="k10" rx="5.6" ry="1.4" transform="translate(-39.1,-5.8)rotate(46)"/>
<ellipse class="k10" rx="3.8" ry="1.0" transform="translate(-44.3,20.5)rotate(13)"/>
<ellipse class="k12" rx="4.1" ry="1.1" transform="translate(-9.3,9.7)rotate(62)"/>
<ellipse class="k12" rx="3.2" ry="0.6" transform="translate(-44.4,-9.4)rotate(43)"/>
<ellipse class="k12" rx="3.4" ry="1.0" transform="translate(0.8,7.0)rotate(96)"/>
<ellipse class="k13" rx="5.5" ry="1.6" transform="translate(-29.2,-18.5)rotate(81)"/>
<ellipse class="kf" rx="4.9" ry="1.4" transform="translate(-30.4,-14.8)rotate(61)"/>
<ellipse class="kf" rx="5.1" ry="1.1" transform="translate(8.1,-1.2)rotate(101)"/>
<ellipse class="kf" rx="5.3" ry="1.0" transform="translate(10.0,-13.8)rotate(154)"/>
<ellipse class="k13" rx="5.2" ry="1.2" transform="translate(-42.2,13.7)rotate(74)"/>
<ellipse class="k11" rx="3.1" ry="0.6" transform="translate(-7.0,-3.3)rotate(98)"/>
<ellipse class="k11" rx="4.6" ry="1.3" transform="translate(-37.6,-2.6)rotate(31)"/>
<ellipse class="k12" rx="4.6" ry="1.1" transform="translate(-45.7,11.7)rotate(11)"/>
<ellipse class="k12" rx="3.4" ry="0.8" transform="translate(-28.6,-11.9)rotate(115)"/>
<ellipse class="k12" rx="3.4" ry="0.9" transform="translate(-30.9,-12.4)rotate(58)"/>
<ellipse class="k11" rx="3.5" ry="0.8" transform="translate(-25.2,-1.1)rotate(28)"/>
<ellipse class="k12" rx="4.5" ry="1.2" transform="translate(-20.9,-2.4)rotate(82)"/>
<ellipse class="k10" rx="5.0" ry="1.4" transform="translate(14.6,-18.2)rotate(154)"/>
<ellipse class="k13" rx="4.2" ry="1.3" transform="translate(-40.5,8.1)rotate(123)"/>
<ellipse class="kf" rx="3.6" ry="0.9" transform="translate(-5.8,-3.5)rotate(17)"/>
<ellipse class="kf" rx="3.5" ry="0.8" transform="translate(-6.4,18.3)rotate(113)"/>
<ellipse class="k13" rx="4.9" ry="1.6" transform="translate(2.7,-11.6)rotate(91)"/>
<ellipse class="ke" rx="5.1" ry="1.0" transform="translate(-13.4,1.8)rotate(62)"/>
<ellipse class="k11" rx="3.9" ry="1.0" transform="translate(19.0,-20.0)rotate(83)"/>
<ellipse class="kf" rx="4.3" ry="1.0" transform="translate(17.9,17.5)rotate(7)"/>
<ellipse class="ke" rx="4.4" ry="1.2" transform="translate(-17.5,-21.8)rotate(136)"/>
<ellipse class="ke" rx="3.6" ry="1.0" transform="translate(-23.3,-8.0)rotate(98)"/>
<ellipse class="k10" rx="3.1" ry="0.7" transform="translate(-28.6,12.9)rotate(134)"/>
<ellipse class="k11" rx="4.8" ry="0.9" transform="translate(9.8,-20.3)rotate(146)"/>
<ellipse class="k13" rx="4.1" ry="1.0" transform="translate(-38.8,12.8)rotate(134)"/>
<ellipse class="kf" rx="3.2" ry="0.9" transform="translate(-22.5,15.6)rotate(126)"/>
<ellipse class="k11" rx="5.2" ry="1.4" transform="translate(-36.7,-21.4)rotate(84)"/>
<ellipse class="k10" rx="5.3" ry="1.3" transform="translate(-8.3,12.2)rotate(61)"/>
<ellipse class="k12" rx="5.6" ry="1.7" transform="translate(-23.0,-19.9)rotate(94)"/>
<ellipse class="k12" rx="4.3" ry="1.3" transform="translate(10.6,13.3)rotate(143)"/>
<ellipse class="k11" rx="3.4" ry="1.0" transform="translate(-38.0,-22.4)rotate(93)"/>
<ellipse class="k12" rx="3.4" ry="0.8" transform="translate(-30.5,16.4)rotate(124)"/>
<ellipse class="ke" rx="5.5" ry="1.4" transform="translate(-11.7,8.9)rotate(178)"/>
<ellipse class="ke" rx="5.5" ry="1.1" transform="translate(5.1,19.6)rotate(41)"/>
<ellipse class="k13" rx="5.6" ry="1.1" transform="translate(-24.6,-7.3)rotate(120)"/>
<ellipse class="k12" rx="3.6" ry="0.8" transform="translate(-13.0,15.0)rotate(138)"/>
<ellipse class="ke" rx="5.0" ry="1.4" transform="translate(-23.8,-4.0)rotate(56)"/>
<ellipse class="kf" rx="4.6" ry="1.1" transform="translate(10.0,10.9)rotate(69)"/>
<ellipse class="k11" rx="4.5" ry="1.1" transform="translate(-40.0,-18.1)rotate(16)"/>
<ellipse class="kf" rx="3.2" ry="0.6" transform="translate(-0.2,-21.5)rotate(95)"/>
<ellipse class="k11" rx="3.7" ry="0.9" transform="translate(-5.0,-3.6)rotate(156)"/>
<ellipse class="kf" rx="3.6" ry="0.8" transform="translate(-4.3,19.9)rotate(84)"/>
<ellipse class="kf" rx="3.7" ry="0.8" transform="translate(10.5,-13.0)rotate(120)"/>
<ellipse class="k11" rx="4.5" ry="1.2" transform="translate(-7.7,13.4)rotate(176)"/>
<ellipse class="k11" rx="3.4" ry="0.7" transform="translate(6.3,-17.2)rotate(115)"/>
<ellipse class="k10" rx="3.5" ry="0.9" transform="translate(9.8,-15.6)rotate(69)"/>
<ellipse class="k10" rx="3.8" ry="0.8" transform="translate(-32.5,-22.9)rotate(24)"/>
<ellipse class="k10" rx="3.5" ry="0.9" transform="translate(-28.6,-8.0)rotate(133)"/>
<ellipse class="k13" rx="3.7" ry="1.1" transform="translate(-13.5,-22.9)rotate(118)"/>
<ellipse class="k13" rx="3.5" ry="1.1" transform="translate(9.0,-0.7)rotate(101)"/>
<ellipse class="k11" rx="4.7" ry="1.3" transform="translate(-38.3,-8.3)rotate(108)"/>
<ellipse class="kf" rx="4.8" ry="1.0" transform="translate(7.4,1.4)rotate(156)"/>
<ellipse class="k10" rx="5.0" ry="1.0" transform="translate(13.7,-19.5)rotate(21)"/>
<ellipse class="k10" rx="5.5" ry="1.7" transform="translate(-8.8,21.6)rotate(168)"/>
<ellipse class="k13" rx="4.8" ry="1.0" transform="translate(-28.8,3.4)rotate(74)"/>
<ellipse class="ke" rx="3.5" ry="1.1" transform="translate(-18.0,1.4)rotate(115)"/>
<ellipse class="ke" rx="5.3" ry="1.5" transform="translate(-3.9,1.1)rotate(89)"/>
<ellipse class="k13" rx="3.6" ry="0.8" transform="translate(16.9,-13.5)rotate(63)"/>
<ellipse class="kf" rx="3.3" ry="0.7" transform="translate(12.5,7.2)rotate(167)"/>
<ellipse class="k12" rx="4.6" ry="1.4" transform="translate(-44.8,8.0)rotate(19)"/>
<ellipse class="k10" rx="4.2" ry="1.3" transform="translate(-21.6,20.0)rotate(170)"/>
<ellipse class="ke" rx="4.5" ry="1.3" transform="translate(-19.9,-3.5)rotate(139)"/>
<ellipse class="k10" rx="4.7" ry="1.5" transform="translate(-10.4,10.0)rotate(137)"/>
<ellipse class="k13" rx="4.2" ry="0.9" transform="translate(-31.7,3.2)rotate(40)"/>
<ellipse class="k11" rx="4.2" ry="1.2" transform="translate(0.8,-0.5)rotate(54)"/>
<ellipse class="k13" rx="5.0" ry="1.4" transform="translate(17.9,-2.9)rotate(125)"/>
<ellipse class="ke" rx="4.4" ry="1.2" transform="translate(-43.2,-0.1)rotate(96)"/>
<ellipse class="ke" rx="4.3" ry="0.8" transform="translate(-25.7,-18.2)rotate(79)"/>
<ellipse class="kf" rx="3.8" ry="0.9" transform="translate(18.0,-1.0)rotate(24)"/>
<ellipse class="k10" rx="5.6" ry="1.2" transform="translate(-44.8,2.7)rotate(140)"/>
<ellipse class="ke" rx="4.6" ry="1.4" transform="translate(-24.8,-4.0)rotate(24)"/>
<ellipse class="kf" rx="4.1" ry="1.0" transform="translate(-32.4,-6.0)rotate(79)"/>
<ellipse class="ke" rx="4.7" ry="1.2" transform="translate(-8.0,21.3)rotate(60)"/>
<ellipse class="k12" rx="4.5" ry="1.2" transform="translate(-43.6,21.1)rotate(162)"/>
<ellipse class="kf" rx="4.3" ry="1.0" transform="translate(-25.6,-3.8)rotate(66)"/>
<ellipse class="k13" rx="3.7" ry="0.8" transform="translate(-27.8,18.1)rotate(134)"/>
<ellipse class="k13" rx="4.3" ry="1.3" transform="translate(-9.9,20.6)rotate(91)"/>
<ellipse class="k12" rx="3.3" ry="0.9" transform="translate(-0.5,-11.2)rotate(64)"/>
<ellipse class="k10" rx="5.4" ry="1.3" transform="translate(7.7,-1.3)rotate(153)"/>
<ellipse class="ke" rx="5.2" ry="1.4" transform="translate(14.2,-17.2)rotate(103)"/>
<ellipse class="k12" rx="4.3" ry="1.1" transform="translate(11.0,-16.1)rotate(72)"/>
<ellipse class="k10" rx="3.7" ry="1.1" transform="translate(1.7,10.4)rotate(155)"/>
<ellipse class="ke" rx="3.3" ry="1.0" transform="translate(17.0,4.4)rotate(164)"/>
<ellipse class="ke" rx="5.4" ry="1.7" transform="translate(-3.5,5.3)rotate(85)"/>
<ellipse class="k12" rx="4.5" ry="1.0" transform="translate(-36.7,10.0)rotate(166)"/>
<ellipse class="k10" rx="4.1" ry="1.0" transform="translate(19.0,-19.8)rotate(140)"/>
<ellipse class="ke" rx="3.7" ry="1.2" transform="translate(11.7,-17.8)rotate(160)"/>
<ellipse class="ke" rx="4.3" ry="1.1" transform="translate(-16.2,-18.2)rotate(33)"/>
<ellipse class="k12" rx="3.2" ry="0.8" transform="translate(-27.6,22.3)rotate(12)"/>
<ellipse class="k12" rx="3.5" ry="1.0" transform="translate(-40.5,22.8)rotate(41)"/>
<ellipse class="kf" rx="3.3" ry="0.8" transform="translate(-42.9,-19.0)rotate(64)"/>
<ellipse class="k12" rx="4.4" ry="1.1" transform="translate(1.3,-21.4)rotate(85)"/>
<ellipse class="k12" rx="3.4" ry="0.8" transform="translate(3.3,15.5)rotate(22)"/>
<ellipse class="k12" rx="3.8" ry="1.0" transform="translate(-39.0,-20.6)rotate(174)"/>
<ellipse class="k13" rx="5.1" ry="1.5" transform="translate(11.1,-17.3)rotate(172)"/>
<ellipse class="k12" rx="3.7" ry="1.0" transform="translate(-29.9,-0.5)rotate(110)"/>
<ellipse class="ke" rx="3.2" ry="0.6" transform="translate(-4.8,16.5)rotate(47)"/>
<ellipse class="ke" rx="3.4" ry="1.0" transform="translate(-28.6,16.9)rotate(101)"/>
<ellipse class="kf" rx="4.6" ry="1.2" transform="translate(-5.8,-22.7)rotate(93)"/>
<ellipse class="k12" rx="4.8" ry="0.9" transform="translate(-38.5,-12.8)rotate(52)"/>
<ellipse class="k12" rx="4.1" ry="1.0" transform="translate(2.3,-5.6)rotate(105)"/>
<ellipse class="k13" rx="5.3" ry="1.2" transform="translate(-30.3,3.0)rotate(83)"/>
<ellipse class="k10" rx="4.2" ry="0.8" transform="translate(-20.9,4.7)rotate(105)"/>
<ellipse class="kf" rx="5.3" ry="1.1" transform="translate(-45.2,-16.1)rotate(108)"/>
<ellipse class="k10" rx="4.7" ry="1.0" transform="translate(8.2,-1.5)rotate(24)"/>
<ellipse class="ke" rx="4.1" ry="1.2" transform="translate(-44.1,16.9)rotate(64)"/>
<ellipse class="ke" rx="5.4" ry="1.7" transform="translate(-29.3,15.5)rotate(56)"/>
<ellipse class="k10" rx="3.2" ry="1.0" transform="translate(-7.3,5.6)rotate(61)"/>
<ellipse class="k12" rx="3.5" ry="0.8" transform="translate(-16.9,8.4)rotate(123)"/>
<ellipse class="k12" rx="3.7" ry="0.8" transform="translate(-7.4,-18.3)rotate(54)"/>
<ellipse class="k13" rx="4.3" ry="1.2" transform="translate(-3.3,-0.5)rotate(84)"/>
<ellipse class="k13" rx="4.3" ry="1.3" transform="translate(-11.8,-10.1)rotate(71)"/>
<ellipse class="kf" rx="3.3" ry="0.6" transform="translate(-24.8,21.2)rotate(86)"/>
<ellipse class="k11" rx="3.3" ry="0.6" transform="translate(15.2,12.1)rotate(69)"/>
<ellipse class="kf" rx="3.2" ry="0.8" transform="translate(-39.3,5.5)rotate(150)"/>
<ellipse class="kf" rx="3.4" ry="1.1" transform="translate(-6.3,-21.0)rotate(140)"/>
<ellipse class="k12" rx="5.6" ry="1.7" transform="translate(-33.3,15.6)rotate(48)"/>
<ellipse class="kf" rx="4.8" ry="1.0" transform="translate(17.4,-4.0)rotate(127)"/>
<ellipse class="kf" rx="4.5" ry="1.4" transform="translate(-45.5,-20.1)rotate(79)"/>
<ellipse class="ke" rx="3.9" ry="1.1" transform="translate(16.1,5.0)rotate(162)"/>
<ellipse class="ke" rx="5.2" ry="1.1" transform="translate(0.9,18.2)rotate(138)"/>
<ellipse class="k13" rx="4.5" ry="1.4" transform="translate(-41.0,17.0)rotate(178)"/>
<ellipse class="k11" rx="5.1" ry="1.5" transform="translate(-24.8,18.7)rotate(162)"/>
<ellipse class="k13" rx="4.8" ry="1.3" transform="translate(-13.5,-8.0)rotate(101)"/>
<ellipse class="k10" rx="4.5" ry="0.9" transform="translate(14.6,-8.9)rotate(87)"/>
<ellipse class="k10" rx="3.8" ry="1.2" transform="translate(-2.6,-19.9)rotate(158)"/>
<ellipse class="k10" rx="3.4" ry="0.7" transform="translate(-4.0,-18.1)rotate(9)"/>
<ellipse class="kf" rx="4.3" ry="1.2" transform="translate(0.4,5.6)rotate(105)"/>
<ellipse class="k12" rx="4.8" ry="1.1" transform="translate(-41.2,-1.3)rotate(102)"/>
<ellipse class="kf" rx="4.4" ry="1.0" transform="translate(-12.3,9.7)rotate(118)"/>
<ellipse class="k12" rx="3.8" ry="0.9" transform="translate(-1.4,-5.4)rotate(118)"/>
<ellipse class="k11" rx="3.8" ry="1.1" transform="translate(-35.6,16.3)rotate(28)"/>
<ellipse class="ke" rx="3.9" ry="1.1" transform="translate(19.0,7.1)rotate(46)"/>
<ellipse class="k11" rx="3.3" ry="1.0" transform="translate(-18.9,-6.4)rotate(48)"/>
<ellipse class="k12" rx="4.2" ry="0.8" transform="translate(-17.3,0.5)rotate(124)"/>
<ellipse class="k11" rx="3.8" ry="0.8" transform="translate(-10.7,-0.1)rotate(11)"/>
<ellipse class="kf" rx="4.9" ry="1.1" transform="translate(-44.5,5.7)rotate(93)"/>
<ellipse class="k13" rx="3.3" ry="0.8" transform="translate(-39.1,-6.5)rotate(137)"/>
<ellipse class="kf" rx="5.5" ry="1.0" transform="translate(-22.0,-10.3)rotate(154)"/>
<ellipse class="k13" rx="4.7" ry="1.1" transform="translate(-41.5,20.7)rotate(56)"/>
<ellipse class="ke" rx="4.0" ry="1.0" transform="translate(-21.6,13.2)rotate(2)"/>
<ellipse class="k12" rx="4.8" ry="0.9" transform="translate(5.4,6.8)rotate(34)"/>
<ellipse class="kf" rx="5.6" ry="1.0" transform="translate(1.5,0.0)rotate(114)"/>
<ellipse class="k10" rx="5.0" ry="1.0" transform="translate(-41.9,2.8)rotate(149)"/>
<ellipse class="k11" rx="4.9" ry="1.3" transform="translate(6.2,20.6)rotate(142)"/>
<ellipse class="k11" rx="3.3" ry="0.8" transform="translate(-9.2,16.9)rotate(141)"/>
<ellipse class="k10" rx="3.3" ry="0.6" transform="translate(-26.8,22.7)rotate(131)"/>
<ellipse class="k14" rx="1.8" ry="0.7" transform="translate(-6.2,-13.6)rotate(12)"/>
<ellipse class="k14" rx="1.3" ry="0.9" transform="translate(-30.9,16.3)rotate(100)"/>
<ellipse class="k14" rx="1.8" ry="0.6" transform="translate(-1.2,8.0)rotate(95)"/>
<ellipse class="k14" rx="0.8" ry="0.7" transform="translate(-39.3,-3.9)rotate(163)"/>
<ellipse class="k14" rx="1.8" ry="0.8" transform="translate(12.4,8.6)rotate(154)"/>
<ellipse class="k14" rx="1.3" ry="0.9" transform="translate(-11.3,-16.4)rotate(59)"/>
<ellipse class="k14" rx="0.9" ry="0.8" transform="translate(8.7,14.8)rotate(127)"/>
<ellipse class="k14" rx="1.0" ry="0.7" transform="translate(7.3,17.8)rotate(62)"/>
<ellipse class="k14" rx="1.7" ry="1.0" transform="translate(10.4,-13.4)rotate(39)"/>
<ellipse class="k14" rx="1.7" ry="0.7" transform="translate(-9.1,-15.9)rotate(114)"/>
<ellipse class="k14" rx="1.4" ry="0.7" transform="translate(-22.9,-11.6)rotate(111)"/>
<ellipse class="k14" rx="1.1" ry="0.7" transform="translate(20.3,-3.3)rotate(63)"/>
<ellipse class="k14" rx="1.6" ry="0.6" transform="translate(-3.9,16.2)rotate(152)"/>
<ellipse class="k14" rx="1.3" ry="0.9" transform="translate(8.6,14.0)rotate(134)"/>
<ellipse class="k14" rx="0.9" ry="0.7" transform="translate(5.6,-17.5)rotate(156)"/>
<ellipse class="k14" rx="1.5" ry="0.9" transform="translate(6.3,1.8)rotate(86)"/>
<ellipse class="k14" rx="0.9" ry="0.7" transform="translate(17.5,-16.1)rotate(11)"/>
<ellipse class="k14" rx="1.8" ry="1.0" transform="translate(15.6,-7.9)rotate(4)"/>
<ellipse class="k14" rx="1.7" ry="0.6" transform="translate(12.8,-18.3)rotate(67)"/>
<ellipse class="k14" rx="1.0" ry="0.7" transform="translate(19.8,-1.9)rotate(154)"/>
<ellipse class="k14" rx="1.1" ry="0.6" transform="translate(-32.1,-5.3)rotate(56)"/>
<ellipse class="k14" rx="1.5" ry="0.7" transform="translate(-35.8,3.4)rotate(36)"/>
<ellipse class="k14" rx="1.4" ry="0.9" transform="translate(-26.2,-3.0)rotate(149)"/>
<ellipse class="k14" rx="0.9" ry="0.9" transform="translate(-1.3,-19.2)rotate(28)"/>
<ellipse class="k14" rx="1.0" ry="1.0" transform="translate(6.6,-18.6)rotate(137)"/>
<ellipse class="k14" rx="1.3" ry="0.6" transform="translate(-1.3,-5.2)rotate(9)"/>
<ellipse class="k14" rx="1.3" ry="1.0" transform="translate(-30.5,-15.2)rotate(98)"/>
<ellipse class="k14" rx="1.1" ry="1.0" transform="translate(-21.0,0.6)rotate(127)"/>
<ellipse class="k14" rx="1.4" ry="0.7" transform="translate(-42.5,8.1)rotate(128)"/>
<ellipse class="k14" rx="1.7" ry="0.9" transform="translate(13.7,-19.1)rotate(118)"/>
<ellipse class="k14" rx="0.9" ry="0.8" transform="translate(6.1,18.1)rotate(97)"/>
<ellipse class="k14" rx="1.8" ry="0.8" transform="translate(-36.0,15.0)rotate(70)"/>
<ellipse class="k14" rx="1.8" ry="0.6" transform="translate(10.8,-11.6)rotate(101)"/>
<ellipse class="k14" rx="1.2" ry="0.9" transform="translate(-15.8,-13.6)rotate(157)"/>
<ellipse class="k14" rx="1.7" ry="0.5" transform="translate(20.8,-12.0)rotate(22)"/>
<ellipse class="k14" rx="1.3" ry="0.5" transform="translate(8.1,3.6)rotate(82)"/>
<ellipse class="k14" rx="0.9" ry="0.7" transform="translate(-18.8,-0.8)rotate(104)"/>
<ellipse class="k14" rx="1.2" ry="0.8" transform="translate(-13.6,-19.2)rotate(106)"/>
<ellipse class="k14" rx="1.3" ry="0.5" transform="translate(-7.8,-11.0)rotate(21)"/>
<ellipse class="k14" rx="0.8" ry="0.7" transform="translate(-35.2,1.3)rotate(112)"/>
<ellipse class="k14" rx="1.1" ry="0.7" transform="translate(-5.9,18.1)rotate(151)"/>
<ellipse class="k14" rx="1.8" ry="0.6" transform="translate(-3.4,-11.9)rotate(109)"/>
<ellipse class="k14" rx="0.8" ry="0.8" transform="translate(-9.5,-15.6)rotate(17)"/>
<ellipse class="k14" rx="1.7" ry="0.9" transform="translate(-19.9,11.0)rotate(5)"/>
<ellipse class="k14" rx="0.9" ry="0.7" transform="translate(-20.9,9.8)rotate(34)"/>
<rect x="-51.0" y="-27.0" width="102" height="54" fill="#fff" opacity="0.06"/>
</g>
<g clip-path="url(#capA4)">
<ellipse class="k15" rx="4.1" ry="1.1" transform="translate(34.1,19.8)rotate(98)"/>
<ellipse class="k16" rx="5.0" ry="1.1" transform="translate(38.5,17.2)rotate(84)"/>
<ellipse class="k16" rx="3.7" ry="1.0" transform="translate(31.4,10.4)rotate(44)"/>
<ellipse class="k17" rx="3.3" ry="0.8" transform="translate(20.6,12.7)rotate(78)"/>
<ellipse class="k18" rx="4.8" ry="1.1" transform="translate(19.1,5.9)rotate(52)"/>
<ellipse class="k19" rx="3.4" ry="0.7" transform="translate(18.7,-4.4)rotate(167)"/>
<ellipse class="k16" rx="5.1" ry="1.2" transform="translate(33.8,6.7)rotate(55)"/>
<ellipse class="k1a" rx="4.4" ry="0.9" transform="translate(36.6,-6.7)rotate(2)"/>
<ellipse class="k19" rx="4.4" ry="1.3" transform="translate(21.2,-10.0)rotate(164)"/>
<ellipse class="k15" rx="4.7" ry="1.3" transform="translate(26.0,-4.1)rotate(95)"/>
<ellipse class="k15" rx="4.3" ry="1.2" transform="translate(41.5,7.4)rotate(138)"/>
<ellipse class="k16" rx="4.2" ry="1.1" transform="translate(28.4,19.8)rotate(27)"/>
<ellipse class="k1a" rx="4.5" ry="1.3" transform="translate(40.8,10.9)rotate(7)"/>
<ellipse class="k15" rx="4.8" ry="1.0" transform="translate(41.1,-11.5)rotate(38)"/>
<ellipse class="k1a" rx="4.1" ry="0.9" transform="translate(26.7,17.1)rotate(152)"/>
<ellipse class="k19" rx="4.4" ry="1.1" transform="translate(35.5,21.4)rotate(39)"/>
<ellipse class="k18" rx="3.3" ry="0.7" transform="translate(37.3,15.7)rotate(103)"/>
<ellipse class="k19" rx="4.3" ry="1.1" transform="translate(31.7,-4.0)rotate(166)"/>
<ellipse class="k15" rx="3.8" ry="0.8" transform="translate(38.6,-4.4)rotate(27)"/>
<ellipse class="k1a" rx="4.4" ry="1.2" transform="translate(32.1,2.6)rotate(28)"/>
<ellipse class="k1a" rx="3.6" ry="0.9" transform="translate(38.5,-8.3)rotate(65)"/>
<ellipse class="k16" rx="4.4" ry="0.9" transform="translate(37.5,-11.5)rotate(114)"/>
<ellipse class="k1a" rx="4.6" ry="1.1" transform="translate(36.6,12.8)rotate(112)"/>
<ellipse class="k17" rx="3.9" ry="1.0" transform="translate(39.7,11.2)rotate(159)"/>
<ellipse class="k17" rx="4.9" ry="1.3" transform="translate(39.9,11.0)rotate(71)"/>
<ellipse class="k1a" rx="3.9" ry="0.8" transform="translate(40.8,-5.4)rotate(121)"/>
<ellipse class="k19" rx="3.7" ry="0.8" transform="translate(23.1,11.5)rotate(152)"/>
<ellipse class="k15" rx="4.4" ry="1.2" transform="translate(26.8,-16.1)rotate(165)"/>
<ellipse class="k17" rx="3.4" ry="0.8" transform="translate(27.7,16.6)rotate(148)"/>
<ellipse class="k17" rx="5.0" ry="1.1" transform="translate(40.5,6.2)rotate(67)"/>
<ellipse class="k15" rx="4.6" ry="1.0" transform="translate(18.9,8.9)rotate(130)"/>
<ellipse class="k19" rx="4.4" ry="1.2" transform="translate(27.1,5.3)rotate(136)"/>
<ellipse class="k15" rx="4.7" ry="1.0" transform="translate(27.4,-18.4)rotate(105)"/>
<ellipse class="k1a" rx="3.9" ry="1.1" transform="translate(27.5,-10.5)rotate(32)"/>
<ellipse class="k16" rx="4.6" ry="1.0" transform="translate(38.7,-13.3)rotate(23)"/>
<ellipse class="k1a" rx="4.3" ry="1.3" transform="translate(30.0,-18.5)rotate(96)"/>
<ellipse class="k18" rx="5.2" ry="1.4" transform="translate(20.7,0.7)rotate(175)"/>
<ellipse class="k1a" rx="4.6" ry="1.4" transform="translate(38.1,-10.7)rotate(91)"/>
<ellipse class="k16" rx="4.8" ry="1.3" transform="translate(32.3,-4.1)rotate(139)"/>
<ellipse class="k19" rx="5.2" ry="1.2" transform="translate(38.9,15.3)rotate(97)"/>
<ellipse class="k15" rx="3.8" ry="0.8" transform="translate(20.4,-9.4)rotate(97)"/>
<ellipse class="k1a" rx="3.3" ry="0.9" transform="translate(35.8,4.0)rotate(176)"/>
<ellipse class="k17" rx="3.3" ry="0.7" transform="translate(35.0,2.1)rotate(102)"/>
<ellipse class="k16" rx="5.1" ry="1.1" transform="translate(30.8,-18.8)rotate(19)"/>
<ellipse class="k17" rx="4.6" ry="1.0" transform="translate(41.7,15.7)rotate(15)"/>
<ellipse class="k15" rx="5.1" ry="1.4" transform="translate(41.2,8.5)rotate(105)"/>
<ellipse class="k17" rx="3.8" ry="1.0" transform="translate(20.5,11.4)rotate(86)"/>
<ellipse class="k15" rx="4.6" ry="1.2" transform="translate(32.7,22.9)rotate(60)"/>
<ellipse class="k1a" rx="4.4" ry="1.2" transform="translate(21.4,-13.5)rotate(96)"/>
<ellipse class="k16" rx="3.3" ry="0.8" transform="translate(28.5,18.3)rotate(27)"/>
<ellipse class="k16" rx="3.4" ry="1.0" transform="translate(20.1,-1.4)rotate(82)"/>
<ellipse class="k19" rx="4.1" ry="0.9" transform="translate(37.1,11.8)rotate(88)"/>
<ellipse class="k18" rx="4.0" ry="1.1" transform="translate(26.7,24.1)rotate(29)"/>
<ellipse class="k18" rx="5.0" ry="1.4" transform="translate(21.9,-14.3)rotate(125)"/>
<ellipse class="k17" rx="4.0" ry="1.1" transform="translate(20.8,4.9)rotate(161)"/>
<ellipse class="k19" rx="4.0" ry="0.8" transform="translate(39.1,-8.1)rotate(57)"/>
<ellipse class="k19" rx="4.7" ry="1.2" transform="translate(38.4,-7.6)rotate(44)"/>
<ellipse class="k18" rx="5.0" ry="1.1" transform="translate(42.1,12.2)rotate(45)"/>
<ellipse class="k15" rx="3.3" ry="0.7" transform="translate(29.6,2.5)rotate(51)"/>
<ellipse class="k19" rx="4.4" ry="0.9" transform="translate(19.5,12.5)rotate(134)"/>
<ellipse class="k1a" rx="3.7" ry="0.8" transform="translate(34.0,-16.4)rotate(130)"/>
<ellipse class="k16" rx="3.6" ry="0.7" transform="translate(43.9,-14.5)rotate(25)"/>
<ellipse class="k15" rx="4.8" ry="1.1" transform="translate(41.5,3.8)rotate(7)"/>
<ellipse class="k16" rx="5.2" ry="1.2" transform="translate(25.9,-0.5)rotate(38)"/>
<ellipse class="k17" rx="4.7" ry="1.0" transform="translate(36.0,-13.5)rotate(131)"/>
<ellipse class="k17" rx="3.3" ry="0.7" transform="translate(34.8,16.2)rotate(115)"/>
<ellipse class="k1a" rx="5.0" ry="1.2" transform="translate(29.6,-0.1)rotate(23)"/>
<ellipse class="k15" rx="4.2" ry="1.2" transform="translate(19.7,13.3)rotate(34)"/>
<ellipse class="k16" rx="3.3" ry="0.9" transform="translate(24.5,2.2)rotate(39)"/>
<ellipse class="k15" rx="3.4" ry="0.8" transform="translate(27.5,-7.8)rotate(141)"/>
<ellipse class="k18" rx="4.5" ry="1.2" transform="translate(26.3,8.1)rotate(152)"/>
<ellipse class="k1a" rx="3.9" ry="0.8" transform="translate(35.0,3.9)rotate(103)"/>
<ellipse class="k19" rx="4.4" ry="1.1" transform="translate(30.1,-6.4)rotate(168)"/>
<ellipse class="k18" rx="4.4" ry="1.3" transform="translate(29.0,22.2)rotate(115)"/>
<ellipse class="k1a" rx="3.3" ry="0.9" transform="translate(33.0,-1.7)rotate(163)"/>
<ellipse class="k16" rx="4.4" ry="1.3" transform="translate(41.8,17.9)rotate(161)"/>
<ellipse class="k17" rx="3.5" ry="0.8" transform="translate(36.5,-3.0)rotate(26)"/>
<ellipse class="k15" rx="4.0" ry="1.1" transform="translate(23.0,20.3)rotate(14)"/>
<ellipse class="k1a" rx="3.6" ry="1.1" transform="translate(33.8,4.9)rotate(95)"/>
<ellipse class="k18" rx="3.4" ry="0.9" transform="translate(40.1,-1.8)rotate(143)"/>
<ellipse class="k19" rx="3.3" ry="0.8" transform="translate(39.1,4.1)rotate(97)"/>
<ellipse class="k17" rx="4.5" ry="1.0" transform="translate(22.6,19.7)rotate(54)"/>
<ellipse class="k15" rx="4.9" ry="1.0" transform="translate(27.3,0.2)rotate(72)"/>
<ellipse class="k16" rx="4.7" ry="1.1" transform="translate(19.6,1.3)rotate(132)"/>
<ellipse class="k16" rx="5.2" ry="1.2" transform="translate(30.2,13.0)rotate(21)"/>
<ellipse class="k1a" rx="5.2" ry="1.1" transform="translate(36.2,20.1)rotate(81)"/>
<ellipse class="k19" rx="4.5" ry="1.3" transform="translate(31.4,-1.4)rotate(2)"/>
<ellipse class="k18" rx="4.1" ry="1.2" transform="translate(37.5,3.1)rotate(174)"/>
<ellipse class="k17" rx="4.6" ry="1.1" transform="translate(29.8,22.8)rotate(171)"/>
<ellipse class="k17" rx="4.8" ry="1.4" transform="translate(25.8,-5.8)rotate(65)"/>
</g>
</g>
<g style="font-family:'Liberation Sans',sans-serif">
<text x="11" y="14.8" font-size="10.5" text-anchor="middle" fill="#111" font-weight="bold" >A</text>
<text x="72" y="18.3" font-size="8.5" text-anchor="middle" fill="#333" font-weight="normal" lengthAdjust="spacingAndGlyphs" textLength="51.4">Healthy RBCs</text>
<text x="178.2" y="14.85" font-size="8.5" text-anchor="middle" fill="#333" font-weight="normal" lengthAdjust="spacingAndGlyphs" textLength="48">95% Healthy</text>
<text x="178.5" y="24.9" font-size="8.5" text-anchor="middle" fill="#333" font-weight="normal" lengthAdjust="spacingAndGlyphs" textLength="59">5% Sickle RBCs</text>
<text x="282.2" y="14.85" font-size="8.5" text-anchor="middle" fill="#333" font-weight="normal" lengthAdjust="spacingAndGlyphs" textLength="48">90% Healthy</text>
<text x="282.5" y="24.9" font-size="8.5" text-anchor="middle" fill="#333" font-weight="normal" lengthAdjust="spacingAndGlyphs" textLength="63">10% Sickle RBCs</text>
<text x="395.3" y="18.3" font-size="8.5" text-anchor="middle" fill="#333" font-weight="normal" lengthAdjust="spacingAndGlyphs" textLength="68">100% Sickle RBCs</text>
</g>
<g style="font-family:'Liberation Sans',sans-serif">
<line x1="31.55" y1="215.4" x2="102.2" y2="215.4" stroke="#52b6dc" stroke-width="1.2"/>
<polyline points="33.7,168.8 38.2,174.8 42.2,177.8 46.8,183.0 51.2,180.8 55.8,180.8 60.2,182.2 64.8,183.3 69.2,184.5 73.8,184.5 78.2,186.8 82.3,188.2 86.8,184.2 91.3,191.2 95.5,210.0 99.7,215.2" fill="none" stroke="#c23a56" stroke-width="0.9"/><line x1="32.5" y1="168.8" x2="34.9" y2="168.8" stroke="#c23a56" stroke-width="0.6"/><line x1="37.0" y1="174.8" x2="39.4" y2="174.8" stroke="#c23a56" stroke-width="0.6"/><line x1="41.0" y1="177.8" x2="43.5" y2="177.8" stroke="#c23a56" stroke-width="0.6"/><line x1="45.5" y1="183.0" x2="48.0" y2="183.0" stroke="#c23a56" stroke-width="0.6"/><line x1="50.0" y1="180.8" x2="52.5" y2="180.8" stroke="#c23a56" stroke-width="0.6"/><line x1="54.5" y1="180.8" x2="57.0" y2="180.8" stroke="#c23a56" stroke-width="0.6"/><line x1="59.0" y1="182.2" x2="61.5" y2="182.2" stroke="#c23a56" stroke-width="0.6"/><line x1="63.5" y1="183.3" x2="66.0" y2="183.3" stroke="#c23a56" stroke-width="0.6"/><line x1="68.0" y1="184.5" x2="70.5" y2="184.5" stroke="#c23a56" stroke-width="0.6"/><line x1="72.5" y1="184.5" x2="75.0" y2="184.5" stroke="#c23a56" stroke-width="0.6"/><line x1="77.0" y1="186.8" x2="79.5" y2="186.8" stroke="#c23a56" stroke-width="0.6"/><line x1="81.1" y1="188.2" x2="83.5" y2="188.2" stroke="#c23a56" stroke-width="0.6"/><line x1="85.6" y1="184.2" x2="88.0" y2="184.2" stroke="#c23a56" stroke-width="0.6"/><line x1="90.1" y1="191.2" x2="92.5" y2="191.2" stroke="#c23a56" stroke-width="0.6"/><line x1="94.3" y1="210.0" x2="96.7" y2="210.0" stroke="#c23a56" stroke-width="0.6"/><line x1="98.5" y1="215.2" x2="100.9" y2="215.2" stroke="#c23a56" stroke-width="0.6"/><line x1="33.7" y1="163.8" x2="33.7" y2="173.8" stroke="#c23a56" stroke-width="0.7"/><line x1="38.2" y1="172.2" x2="38.2" y2="177.2" stroke="#c23a56" stroke-width="0.7"/><line x1="42.2" y1="176.2" x2="42.2" y2="179.2" stroke="#c23a56" stroke-width="0.7"/><line x1="46.8" y1="180.5" x2="46.8" y2="185.5" stroke="#c23a56" stroke-width="0.7"/><line x1="51.2" y1="177.8" x2="51.2" y2="183.8" stroke="#c23a56" stroke-width="0.7"/><line x1="55.8" y1="177.8" x2="55.8" y2="183.8" stroke="#c23a56" stroke-width="0.7"/><line x1="60.2" y1="180.8" x2="60.2" y2="183.8" stroke="#c23a56" stroke-width="0.7"/><line x1="64.8" y1="181.8" x2="64.8" y2="184.8" stroke="#c23a56" stroke-width="0.7"/><line x1="69.2" y1="183.0" x2="69.2" y2="186.0" stroke="#c23a56" stroke-width="0.7"/><line x1="73.8" y1="183.5" x2="73.8" y2="185.5" stroke="#c23a56" stroke-width="0.7"/><line x1="78.2" y1="185.2" x2="78.2" y2="188.2" stroke="#c23a56" stroke-width="0.7"/><line x1="82.3" y1="187.2" x2="82.3" y2="189.2" stroke="#c23a56" stroke-width="0.7"/><line x1="86.8" y1="182.2" x2="86.8" y2="186.2" stroke="#c23a56" stroke-width="0.7"/>
<path d="M31.55,155.3 H102.2 V215.9 H31.55 Z" fill="none" stroke="#222" stroke-width="1"/>
<line x1="28.25" y1="215.9" x2="31.55" y2="215.9" stroke="#222" stroke-width="0.9"/>
<text x="25.25" y="217.6" font-size="5.2" text-anchor="end" fill="#444" font-weight="normal" >0</text>
<line x1="28.25" y1="203.8" x2="31.55" y2="203.8" stroke="#222" stroke-width="0.9"/>
<text x="25.25" y="205.5" font-size="5.2" text-anchor="end" fill="#444" font-weight="normal" >0.1</text>
<line x1="28.25" y1="191.7" x2="31.55" y2="191.7" stroke="#222" stroke-width="0.9"/>
<text x="25.25" y="193.4" font-size="5.2" text-anchor="end" fill="#444" font-weight="normal" >0.2</text>
<line x1="28.25" y1="179.6" x2="31.55" y2="179.6" stroke="#222" stroke-width="0.9"/>
<text x="25.25" y="181.3" font-size="5.2" text-anchor="end" fill="#444" font-weight="normal" >0.3</text>
<line x1="28.25" y1="167.5" x2="31.55" y2="167.5" stroke="#222" stroke-width="0.9"/>
<text x="25.25" y="169.2" font-size="5.2" text-anchor="end" fill="#444" font-weight="normal" >0.4</text>
<line x1="28.25" y1="155.4" x2="31.55" y2="155.4" stroke="#222" stroke-width="0.9"/>
<text x="25.25" y="157.1" font-size="5.2" text-anchor="end" fill="#444" font-weight="normal" >0.5</text>
<line x1="102.2" y1="215.9" x2="105.5" y2="215.9" stroke="#222" stroke-width="0.9"/>
<text x="107.8" y="217.6" font-size="5.2" text-anchor="start" fill="#444" font-weight="normal" >0</text>
<line x1="102.2" y1="200.8" x2="105.5" y2="200.8" stroke="#222" stroke-width="0.9"/>
<text x="107.8" y="202.45" font-size="5.2" text-anchor="start" fill="#444" font-weight="normal" >0.05</text>
<line x1="102.2" y1="185.6" x2="105.5" y2="185.6" stroke="#222" stroke-width="0.9"/>
<text x="107.8" y="187.3" font-size="5.2" text-anchor="start" fill="#444" font-weight="normal" >0.1</text>
<line x1="102.2" y1="170.5" x2="105.5" y2="170.5" stroke="#222" stroke-width="0.9"/>
<text x="107.8" y="172.15" font-size="5.2" text-anchor="start" fill="#444" font-weight="normal" >0.15</text>
<line x1="102.2" y1="155.3" x2="105.5" y2="155.3" stroke="#222" stroke-width="0.9"/>
<text x="107.8" y="157.0" font-size="5.2" text-anchor="start" fill="#444" font-weight="normal" >0.2</text>
<line x1="31.6" y1="215.9" x2="31.6" y2="218.9" stroke="#222" stroke-width="0.9"/>
<text x="31.55" y="226.7" font-size="5.2" text-anchor="middle" fill="#444" font-weight="normal" >0</text>
<line x1="45.6" y1="215.9" x2="45.6" y2="218.9" stroke="#222" stroke-width="0.9"/>
<text x="45.63" y="226.7" font-size="5.2" text-anchor="middle" fill="#444" font-weight="normal" >1</text>
<line x1="59.7" y1="215.9" x2="59.7" y2="218.9" stroke="#222" stroke-width="0.9"/>
<text x="59.71" y="226.7" font-size="5.2" text-anchor="middle" fill="#444" font-weight="normal" >2</text>
<line x1="73.8" y1="215.9" x2="73.8" y2="218.9" stroke="#222" stroke-width="0.9"/>
<text x="73.79" y="226.7" font-size="5.2" text-anchor="middle" fill="#444" font-weight="normal" >3</text>
<line x1="87.9" y1="215.9" x2="87.9" y2="218.9" stroke="#222" stroke-width="0.9"/>
<text x="87.87" y="226.7" font-size="5.2" text-anchor="middle" fill="#444" font-weight="normal" >4</text>
<line x1="102.0" y1="215.9" x2="102.0" y2="218.9" stroke="#222" stroke-width="0.9"/>
<text x="101.95" y="226.7" font-size="5.2" text-anchor="middle" fill="#444" font-weight="normal" >5</text>
<text x="67.375" y="236.8" font-size="6.3" text-anchor="middle" fill="#444" font-weight="normal" font-style="italic">r/a</text>
<text x="12.75" y="185.4" font-size="6.3" text-anchor="middle" fill="#444" font-weight="normal" transform="rotate(-90 12.75 185.4)">Ht</text>
<text x="126.7" y="185.4" font-size="6.3" text-anchor="middle" fill="#444" font-weight="normal" transform="rotate(-90 126.7 185.4)">Ht</text>
<line x1="48.2" y1="159.9" x2="52.2" y2="159.9" stroke="#c23a56" stroke-width="0.9"/><line x1="50.2" y1="157.9" x2="50.2" y2="161.9" stroke="#c23a56" stroke-width="0.9"/>
<line x1="48.2" y1="165.8" x2="52.2" y2="165.8" stroke="#52b6dc" stroke-width="0.9"/><line x1="50.2" y1="163.8" x2="50.2" y2="167.8" stroke="#52b6dc" stroke-width="0.9"/>
<text x="53.7" y="161.8" font-size="5.4" text-anchor="start" fill="#333" font-weight="normal" >100% normal RBCs</text>
<text x="53.7" y="167.7" font-size="5.4" text-anchor="start" fill="#333" font-weight="normal" >0% sickle RBCs</text>
</g>
<g style="font-family:'Liberation Sans',sans-serif">
<polyline points="160.5,215.5 205.0,215.2 208.0,212.5 211.0,205.5 214.0,195.0 216.2,177.8 218.3,181.0 220.3,177.8 224.5,189.8 227.0,205.0 229.0,215.2 231.0,215.5" fill="none" stroke="#52b6dc" stroke-width="0.9"/><line x1="159.3" y1="215.5" x2="161.7" y2="215.5" stroke="#52b6dc" stroke-width="0.6"/><line x1="203.8" y1="215.2" x2="206.2" y2="215.2" stroke="#52b6dc" stroke-width="0.6"/><line x1="206.8" y1="212.5" x2="209.2" y2="212.5" stroke="#52b6dc" stroke-width="0.6"/><line x1="209.8" y1="205.5" x2="212.2" y2="205.5" stroke="#52b6dc" stroke-width="0.6"/><line x1="212.8" y1="195.0" x2="215.2" y2="195.0" stroke="#52b6dc" stroke-width="0.6"/><line x1="215.1" y1="177.8" x2="217.4" y2="177.8" stroke="#52b6dc" stroke-width="0.6"/><line x1="217.1" y1="181.0" x2="219.5" y2="181.0" stroke="#52b6dc" stroke-width="0.6"/><line x1="219.1" y1="177.8" x2="221.5" y2="177.8" stroke="#52b6dc" stroke-width="0.6"/><line x1="223.3" y1="189.8" x2="225.7" y2="189.8" stroke="#52b6dc" stroke-width="0.6"/><line x1="225.8" y1="205.0" x2="228.2" y2="205.0" stroke="#52b6dc" stroke-width="0.6"/><line x1="227.8" y1="215.2" x2="230.2" y2="215.2" stroke="#52b6dc" stroke-width="0.6"/><line x1="229.8" y1="215.5" x2="232.2" y2="215.5" stroke="#52b6dc" stroke-width="0.6"/><line x1="216.2" y1="174.8" x2="216.2" y2="180.8" stroke="#52b6dc" stroke-width="0.7"/><line x1="218.3" y1="179.0" x2="218.3" y2="183.0" stroke="#52b6dc" stroke-width="0.7"/><line x1="220.3" y1="174.8" x2="220.3" y2="180.8" stroke="#52b6dc" stroke-width="0.7"/><line x1="224.5" y1="187.8" x2="224.5" y2="191.8" stroke="#52b6dc" stroke-width="0.7"/>
<polyline points="163.0,168.0 167.5,173.2 172.0,175.5 176.5,179.2 180.7,177.8 185.5,180.8 190.0,183.8 194.2,186.0 198.7,189.8 203.2,189.8 207.7,190.0 212.2,190.5 216.2,191.2 220.8,201.0 225.2,211.5 228.7,215.2" fill="none" stroke="#c23a56" stroke-width="0.9"/><line x1="161.8" y1="168.0" x2="164.2" y2="168.0" stroke="#c23a56" stroke-width="0.6"/><line x1="166.3" y1="173.2" x2="168.7" y2="173.2" stroke="#c23a56" stroke-width="0.6"/><line x1="170.8" y1="175.5" x2="173.2" y2="175.5" stroke="#c23a56" stroke-width="0.6"/><line x1="175.3" y1="179.2" x2="177.7" y2="179.2" stroke="#c23a56" stroke-width="0.6"/><line x1="179.5" y1="177.8" x2="181.9" y2="177.8" stroke="#c23a56" stroke-width="0.6"/><line x1="184.3" y1="180.8" x2="186.7" y2="180.8" stroke="#c23a56" stroke-width="0.6"/><line x1="188.8" y1="183.8" x2="191.2" y2="183.8" stroke="#c23a56" stroke-width="0.6"/><line x1="193.0" y1="186.0" x2="195.4" y2="186.0" stroke="#c23a56" stroke-width="0.6"/><line x1="197.5" y1="189.8" x2="199.9" y2="189.8" stroke="#c23a56" stroke-width="0.6"/><line x1="202.0" y1="189.8" x2="204.4" y2="189.8" stroke="#c23a56" stroke-width="0.6"/><line x1="206.5" y1="190.0" x2="208.9" y2="190.0" stroke="#c23a56" stroke-width="0.6"/><line x1="211.0" y1="190.5" x2="213.4" y2="190.5" stroke="#c23a56" stroke-width="0.6"/><line x1="215.1" y1="191.2" x2="217.4" y2="191.2" stroke="#c23a56" stroke-width="0.6"/><line x1="219.6" y1="201.0" x2="221.9" y2="201.0" stroke="#c23a56" stroke-width="0.6"/><line x1="224.1" y1="211.5" x2="226.4" y2="211.5" stroke="#c23a56" stroke-width="0.6"/><line x1="227.5" y1="215.2" x2="229.9" y2="215.2" stroke="#c23a56" stroke-width="0.6"/><line x1="163.0" y1="164.0" x2="163.0" y2="172.0" stroke="#c23a56" stroke-width="0.7"/><line x1="167.5" y1="171.2" x2="167.5" y2="175.2" stroke="#c23a56" stroke-width="0.7"/><line x1="172.0" y1="174.5" x2="172.0" y2="176.5" stroke="#c23a56" stroke-width="0.7"/><line x1="176.5" y1="177.8" x2="176.5" y2="180.8" stroke="#c23a56" stroke-width="0.7"/><line x1="180.7" y1="175.2" x2="180.7" y2="180.2" stroke="#c23a56" stroke-width="0.7"/><line x1="185.5" y1="179.2" x2="185.5" y2="182.2" stroke="#c23a56" stroke-width="0.7"/><line x1="190.0" y1="182.2" x2="190.0" y2="185.2" stroke="#c23a56" stroke-width="0.7"/><line x1="194.2" y1="185.0" x2="194.2" y2="187.0" stroke="#c23a56" stroke-width="0.7"/><line x1="198.7" y1="188.8" x2="198.7" y2="190.8" stroke="#c23a56" stroke-width="0.7"/><line x1="203.2" y1="188.8" x2="203.2" y2="190.8" stroke="#c23a56" stroke-width="0.7"/><line x1="207.7" y1="189.0" x2="207.7" y2="191.0" stroke="#c23a56" stroke-width="0.7"/><line x1="212.2" y1="189.0" x2="212.2" y2="192.0" stroke="#c23a56" stroke-width="0.7"/><line x1="216.2" y1="190.2" x2="216.2" y2="192.2" stroke="#c23a56" stroke-width="0.7"/>
<path d="M161,155.3 H231.9 V215.9 H161 Z" fill="none" stroke="#222" stroke-width="1"/>
<line x1="157.7" y1="215.9" x2="161" y2="215.9" stroke="#222" stroke-width="0.9"/>
<text x="154.7" y="217.6" font-size="5.2" text-anchor="end" fill="#444" font-weight="normal" >0</text>
<line x1="157.7" y1="203.8" x2="161" y2="203.8" stroke="#222" stroke-width="0.9"/>
<text x="154.7" y="205.5" font-size="5.2" text-anchor="end" fill="#444" font-weight="normal" >0.1</text>
<line x1="157.7" y1="191.7" x2="161" y2="191.7" stroke="#222" stroke-width="0.9"/>
<text x="154.7" y="193.4" font-size="5.2" text-anchor="end" fill="#444" font-weight="normal" >0.2</text>
<line x1="157.7" y1="179.6" x2="161" y2="179.6" stroke="#222" stroke-width="0.9"/>
<text x="154.7" y="181.3" font-size="5.2" text-anchor="end" fill="#444" font-weight="normal" >0.3</text>
<line x1="157.7" y1="167.5" x2="161" y2="167.5" stroke="#222" stroke-width="0.9"/>
<text x="154.7" y="169.2" font-size="5.2" text-anchor="end" fill="#444" font-weight="normal" >0.4</text>
<line x1="157.7" y1="155.4" x2="161" y2="155.4" stroke="#222" stroke-width="0.9"/>
<text x="154.7" y="157.1" font-size="5.2" text-anchor="end" fill="#444" font-weight="normal" >0.5</text>
<line x1="231.9" y1="215.9" x2="235.20000000000002" y2="215.9" stroke="#222" stroke-width="0.9"/>
<text x="237.5" y="217.6" font-size="5.2" text-anchor="start" fill="#444" font-weight="normal" >0</text>
<line x1="231.9" y1="200.8" x2="235.20000000000002" y2="200.8" stroke="#222" stroke-width="0.9"/>
<text x="237.5" y="202.45" font-size="5.2" text-anchor="start" fill="#444" font-weight="normal" >0.005</text>
<line x1="231.9" y1="185.6" x2="235.20000000000002" y2="185.6" stroke="#222" stroke-width="0.9"/>
<text x="237.5" y="187.3" font-size="5.2" text-anchor="start" fill="#444" font-weight="normal" >0.01</text>
<line x1="231.9" y1="170.5" x2="235.20000000000002" y2="170.5" stroke="#222" stroke-width="0.9"/>
<text x="237.5" y="172.15" font-size="5.2" text-anchor="start" fill="#444" font-weight="normal" >0.015</text>
<line x1="161.0" y1="215.9" x2="161.0" y2="218.9" stroke="#222" stroke-width="0.9"/>
<text x="161.0" y="226.7" font-size="5.2" text-anchor="middle" fill="#444" font-weight="normal" >0</text>
<line x1="175.1" y1="215.9" x2="175.1" y2="218.9" stroke="#222" stroke-width="0.9"/>
<text x="175.08" y="226.7" font-size="5.2" text-anchor="middle" fill="#444" font-weight="normal" >1</text>
<line x1="189.2" y1="215.9" x2="189.2" y2="218.9" stroke="#222" stroke-width="0.9"/>
<text x="189.16" y="226.7" font-size="5.2" text-anchor="middle" fill="#444" font-weight="normal" >2</text>
<line x1="203.2" y1="215.9" x2="203.2" y2="218.9" stroke="#222" stroke-width="0.9"/>
<text x="203.24" y="226.7" font-size="5.2" text-anchor="middle" fill="#444" font-weight="normal" >3</text>
<line x1="217.3" y1="215.9" x2="217.3" y2="218.9" stroke="#222" stroke-width="0.9"/>
<text x="217.32" y="226.7" font-size="5.2" text-anchor="middle" fill="#444" font-weight="normal" >4</text>
<line x1="231.4" y1="215.9" x2="231.4" y2="218.9" stroke="#222" stroke-width="0.9"/>
<text x="231.4" y="226.7" font-size="5.2" text-anchor="middle" fill="#444" font-weight="normal" >5</text>
<text x="196.95" y="236.8" font-size="6.3" text-anchor="middle" fill="#444" font-weight="normal" font-style="italic">r/a</text>
<text x="142.2" y="185.4" font-size="6.3" text-anchor="middle" fill="#444" font-weight="normal" transform="rotate(-90 142.2 185.4)">Ht</text>
<text x="256.4" y="185.4" font-size="6.3" text-anchor="middle" fill="#444" font-weight="normal" transform="rotate(-90 256.4 185.4)">Ht</text>
<line x1="178.2" y1="159.9" x2="182.2" y2="159.9" stroke="#c23a56" stroke-width="0.9"/><line x1="180.2" y1="157.9" x2="180.2" y2="161.9" stroke="#c23a56" stroke-width="0.9"/>
<line x1="178.2" y1="165.8" x2="182.2" y2="165.8" stroke="#52b6dc" stroke-width="0.9"/><line x1="180.2" y1="163.8" x2="180.2" y2="167.8" stroke="#52b6dc" stroke-width="0.9"/>
<text x="183.7" y="161.8" font-size="5.4" text-anchor="start" fill="#333" font-weight="normal" >95% normal RBCs</text>
<text x="183.7" y="167.7" font-size="5.4" text-anchor="start" fill="#333" font-weight="normal" >5% sickle RBCs</text>
<line x1="198.25" y1="171.75" x2="208.9" y2="179.5" stroke="#111" stroke-width="0.8"/>
<polygon points="211.75,181.5 208.0,180.7 209.8,178.2" fill="#111"/>
</g>
<g style="font-family:'Liberation Sans',sans-serif">
<polyline points="290.5,215.5 318.5,215.7 323.0,213.0 327.8,210.8 332.3,205.8 336.5,206.7 341.0,205.5 345.2,182.2 350.0,176.2 354.2,196.5 358.7,215.2 361.0,215.5" fill="none" stroke="#52b6dc" stroke-width="0.9"/><line x1="289.3" y1="215.5" x2="291.7" y2="215.5" stroke="#52b6dc" stroke-width="0.6"/><line x1="317.3" y1="215.7" x2="319.7" y2="215.7" stroke="#52b6dc" stroke-width="0.6"/><line x1="321.8" y1="213.0" x2="324.2" y2="213.0" stroke="#52b6dc" stroke-width="0.6"/><line x1="326.6" y1="210.8" x2="329.0" y2="210.8" stroke="#52b6dc" stroke-width="0.6"/><line x1="331.1" y1="205.8" x2="333.5" y2="205.8" stroke="#52b6dc" stroke-width="0.6"/><line x1="335.3" y1="206.7" x2="337.7" y2="206.7" stroke="#52b6dc" stroke-width="0.6"/><line x1="339.8" y1="205.5" x2="342.2" y2="205.5" stroke="#52b6dc" stroke-width="0.6"/><line x1="344.0" y1="182.2" x2="346.4" y2="182.2" stroke="#52b6dc" stroke-width="0.6"/><line x1="348.8" y1="176.2" x2="351.2" y2="176.2" stroke="#52b6dc" stroke-width="0.6"/><line x1="353.0" y1="196.5" x2="355.4" y2="196.5" stroke="#52b6dc" stroke-width="0.6"/><line x1="357.5" y1="215.2" x2="359.9" y2="215.2" stroke="#52b6dc" stroke-width="0.6"/><line x1="359.8" y1="215.5" x2="362.2" y2="215.5" stroke="#52b6dc" stroke-width="0.6"/><line x1="323.0" y1="212.0" x2="323.0" y2="214.0" stroke="#52b6dc" stroke-width="0.7"/><line x1="327.8" y1="209.2" x2="327.8" y2="212.2" stroke="#52b6dc" stroke-width="0.7"/><line x1="332.3" y1="202.8" x2="332.3" y2="208.8" stroke="#52b6dc" stroke-width="0.7"/><line x1="336.5" y1="205.7" x2="336.5" y2="207.7" stroke="#52b6dc" stroke-width="0.7"/><line x1="341.0" y1="204.5" x2="341.0" y2="206.5" stroke="#52b6dc" stroke-width="0.7"/><line x1="345.2" y1="180.2" x2="345.2" y2="184.2" stroke="#52b6dc" stroke-width="0.7"/><line x1="350.0" y1="174.8" x2="350.0" y2="177.8" stroke="#52b6dc" stroke-width="0.7"/><line x1="354.2" y1="195.5" x2="354.2" y2="197.5" stroke="#52b6dc" stroke-width="0.7"/>
<polyline points="292.7,168.0 297.2,174.5 301.7,174.8 306.2,175.5 310.2,175.2 314.8,180.0 319.2,183.3 323.8,183.3 327.8,186.0 332.8,189.0 337.0,192.3 341.3,189.3 345.5,190.2 349.7,207.0 354.2,214.5 358.0,216.0" fill="none" stroke="#c23a56" stroke-width="0.9"/><line x1="291.5" y1="168.0" x2="293.9" y2="168.0" stroke="#c23a56" stroke-width="0.6"/><line x1="296.0" y1="174.5" x2="298.4" y2="174.5" stroke="#c23a56" stroke-width="0.6"/><line x1="300.5" y1="174.8" x2="302.9" y2="174.8" stroke="#c23a56" stroke-width="0.6"/><line x1="305.0" y1="175.5" x2="307.4" y2="175.5" stroke="#c23a56" stroke-width="0.6"/><line x1="309.1" y1="175.2" x2="311.4" y2="175.2" stroke="#c23a56" stroke-width="0.6"/><line x1="313.6" y1="180.0" x2="315.9" y2="180.0" stroke="#c23a56" stroke-width="0.6"/><line x1="318.1" y1="183.3" x2="320.4" y2="183.3" stroke="#c23a56" stroke-width="0.6"/><line x1="322.6" y1="183.3" x2="324.9" y2="183.3" stroke="#c23a56" stroke-width="0.6"/><line x1="326.6" y1="186.0" x2="329.0" y2="186.0" stroke="#c23a56" stroke-width="0.6"/><line x1="331.6" y1="189.0" x2="333.9" y2="189.0" stroke="#c23a56" stroke-width="0.6"/><line x1="335.8" y1="192.3" x2="338.2" y2="192.3" stroke="#c23a56" stroke-width="0.6"/><line x1="340.1" y1="189.3" x2="342.5" y2="189.3" stroke="#c23a56" stroke-width="0.6"/><line x1="344.3" y1="190.2" x2="346.7" y2="190.2" stroke="#c23a56" stroke-width="0.6"/><line x1="348.5" y1="207.0" x2="350.9" y2="207.0" stroke="#c23a56" stroke-width="0.6"/><line x1="353.0" y1="214.5" x2="355.4" y2="214.5" stroke="#c23a56" stroke-width="0.6"/><line x1="356.8" y1="216.0" x2="359.2" y2="216.0" stroke="#c23a56" stroke-width="0.6"/><line x1="292.7" y1="164.0" x2="292.7" y2="172.0" stroke="#c23a56" stroke-width="0.7"/><line x1="297.2" y1="173.5" x2="297.2" y2="175.5" stroke="#c23a56" stroke-width="0.7"/><line x1="301.7" y1="173.8" x2="301.7" y2="175.8" stroke="#c23a56" stroke-width="0.7"/><line x1="306.2" y1="174.0" x2="306.2" y2="177.0" stroke="#c23a56" stroke-width="0.7"/><line x1="310.2" y1="173.7" x2="310.2" y2="176.7" stroke="#c23a56" stroke-width="0.7"/><line x1="314.8" y1="177.5" x2="314.8" y2="182.5" stroke="#c23a56" stroke-width="0.7"/><line x1="319.2" y1="180.3" x2="319.2" y2="186.3" stroke="#c23a56" stroke-width="0.7"/><line x1="323.8" y1="182.3" x2="323.8" y2="184.3" stroke="#c23a56" stroke-width="0.7"/><line x1="327.8" y1="185.0" x2="327.8" y2="187.0" stroke="#c23a56" stroke-width="0.7"/><line x1="332.8" y1="188.0" x2="332.8" y2="190.0" stroke="#c23a56" stroke-width="0.7"/><line x1="337.0" y1="191.3" x2="337.0" y2="193.3" stroke="#c23a56" stroke-width="0.7"/><line x1="341.3" y1="187.8" x2="341.3" y2="190.8" stroke="#c23a56" stroke-width="0.7"/><line x1="345.5" y1="189.2" x2="345.5" y2="191.2" stroke="#c23a56" stroke-width="0.7"/>
<path d="M290.5,155.3 H361 V215.9 H290.5 Z" fill="none" stroke="#222" stroke-width="1"/>
<line x1="287.2" y1="215.9" x2="290.5" y2="215.9" stroke="#222" stroke-width="0.9"/>
<text x="284.2" y="217.6" font-size="5.2" text-anchor="end" fill="#444" font-weight="normal" >0</text>
<line x1="287.2" y1="203.8" x2="290.5" y2="203.8" stroke="#222" stroke-width="0.9"/>
<text x="284.2" y="205.5" font-size="5.2" text-anchor="end" fill="#444" font-weight="normal" >0.1</text>
<line x1="287.2" y1="191.7" x2="290.5" y2="191.7" stroke="#222" stroke-width="0.9"/>
<text x="284.2" y="193.4" font-size="5.2" text-anchor="end" fill="#444" font-weight="normal" >0.2</text>
<line x1="287.2" y1="179.6" x2="290.5" y2="179.6" stroke="#222" stroke-width="0.9"/>
<text x="284.2" y="181.3" font-size="5.2" text-anchor="end" fill="#444" font-weight="normal" >0.3</text>
<line x1="287.2" y1="167.5" x2="290.5" y2="167.5" stroke="#222" stroke-width="0.9"/>
<text x="284.2" y="169.2" font-size="5.2" text-anchor="end" fill="#444" font-weight="normal" >0.4</text>
<line x1="287.2" y1="155.4" x2="290.5" y2="155.4" stroke="#222" stroke-width="0.9"/>
<text x="284.2" y="157.1" font-size="5.2" text-anchor="end" fill="#444" font-weight="normal" >0.5</text>
<line x1="361" y1="215.9" x2="364.3" y2="215.9" stroke="#222" stroke-width="0.9"/>
<text x="366.6" y="217.6" font-size="5.2" text-anchor="start" fill="#444" font-weight="normal" >0</text>
<line x1="361" y1="198.6" x2="364.3" y2="198.6" stroke="#222" stroke-width="0.9"/>
<text x="366.6" y="200.28571428571428" font-size="5.2" text-anchor="start" fill="#444" font-weight="normal" >0.01</text>
<line x1="361" y1="181.3" x2="364.3" y2="181.3" stroke="#222" stroke-width="0.9"/>
<text x="366.6" y="182.97142857142856" font-size="5.2" text-anchor="start" fill="#444" font-weight="normal" >0.02</text>
<line x1="361" y1="164.0" x2="364.3" y2="164.0" stroke="#222" stroke-width="0.9"/>
<text x="366.6" y="165.65714285714287" font-size="5.2" text-anchor="start" fill="#444" font-weight="normal" >0.03</text>
<line x1="290.5" y1="215.9" x2="290.5" y2="218.9" stroke="#222" stroke-width="0.9"/>
<text x="290.5" y="226.7" font-size="5.2" text-anchor="middle" fill="#444" font-weight="normal" >0</text>
<line x1="304.6" y1="215.9" x2="304.6" y2="218.9" stroke="#222" stroke-width="0.9"/>
<text x="304.58" y="226.7" font-size="5.2" text-anchor="middle" fill="#444" font-weight="normal" >1</text>
<line x1="318.7" y1="215.9" x2="318.7" y2="218.9" stroke="#222" stroke-width="0.9"/>
<text x="318.66" y="226.7" font-size="5.2" text-anchor="middle" fill="#444" font-weight="normal" >2</text>
<line x1="332.7" y1="215.9" x2="332.7" y2="218.9" stroke="#222" stroke-width="0.9"/>
<text x="332.74" y="226.7" font-size="5.2" text-anchor="middle" fill="#444" font-weight="normal" >3</text>
<line x1="346.8" y1="215.9" x2="346.8" y2="218.9" stroke="#222" stroke-width="0.9"/>
<text x="346.82" y="226.7" font-size="5.2" text-anchor="middle" fill="#444" font-weight="normal" >4</text>
<line x1="360.9" y1="215.9" x2="360.9" y2="218.9" stroke="#222" stroke-width="0.9"/>
<text x="360.9" y="226.7" font-size="5.2" text-anchor="middle" fill="#444" font-weight="normal" >5</text>
<text x="326.25" y="236.8" font-size="6.3" text-anchor="middle" fill="#444" font-weight="normal" font-style="italic">r/a</text>
<text x="271.7" y="185.4" font-size="6.3" text-anchor="middle" fill="#444" font-weight="normal" transform="rotate(-90 271.7 185.4)">Ht</text>
<text x="385.5" y="185.4" font-size="6.3" text-anchor="middle" fill="#444" font-weight="normal" transform="rotate(-90 385.5 185.4)">Ht</text>
<line x1="310.7" y1="159.9" x2="314.7" y2="159.9" stroke="#c23a56" stroke-width="0.9"/><line x1="312.7" y1="157.9" x2="312.7" y2="161.9" stroke="#c23a56" stroke-width="0.9"/>
<line x1="310.7" y1="165.8" x2="314.7" y2="165.8" stroke="#52b6dc" stroke-width="0.9"/><line x1="312.7" y1="163.8" x2="312.7" y2="167.8" stroke="#52b6dc" stroke-width="0.9"/>
<text x="316.2" y="161.8" font-size="5.4" text-anchor="start" fill="#333" font-weight="normal" >90% normal RBCs</text>
<text x="316.2" y="167.7" font-size="5.4" text-anchor="start" fill="#333" font-weight="normal" >10% sickle RBCs</text>
<line x1="329" y1="168.75" x2="339.7" y2="177.1" stroke="#111" stroke-width="0.8"/>
<polygon points="342.5,179.25 338.8,178.4 340.7,175.8" fill="#111"/>
</g>
<g style="font-family:'Liberation Sans',sans-serif">
<line x1="419.8" y1="215.4" x2="490.5" y2="215.4" stroke="#c23a56" stroke-width="1.2"/>
<polyline points="422.2,168.8 426.8,171.8 431.2,173.2 435.8,177.0 439.5,177.8 444.0,184.8 448.5,190.2 453.0,192.0 457.5,195.0 462.0,196.5 466.5,197.7 471.0,197.2 475.5,196.5 479.2,201.0 483.0,208.5 487.5,215.2" fill="none" stroke="#52b6dc" stroke-width="0.9"/><line x1="421.1" y1="168.8" x2="423.4" y2="168.8" stroke="#52b6dc" stroke-width="0.6"/><line x1="425.6" y1="171.8" x2="427.9" y2="171.8" stroke="#52b6dc" stroke-width="0.6"/><line x1="430.1" y1="173.2" x2="432.4" y2="173.2" stroke="#52b6dc" stroke-width="0.6"/><line x1="434.6" y1="177.0" x2="436.9" y2="177.0" stroke="#52b6dc" stroke-width="0.6"/><line x1="438.3" y1="177.8" x2="440.7" y2="177.8" stroke="#52b6dc" stroke-width="0.6"/><line x1="442.8" y1="184.8" x2="445.2" y2="184.8" stroke="#52b6dc" stroke-width="0.6"/><line x1="447.3" y1="190.2" x2="449.7" y2="190.2" stroke="#52b6dc" stroke-width="0.6"/><line x1="451.8" y1="192.0" x2="454.2" y2="192.0" stroke="#52b6dc" stroke-width="0.6"/><line x1="456.3" y1="195.0" x2="458.7" y2="195.0" stroke="#52b6dc" stroke-width="0.6"/><line x1="460.8" y1="196.5" x2="463.2" y2="196.5" stroke="#52b6dc" stroke-width="0.6"/><line x1="465.3" y1="197.7" x2="467.7" y2="197.7" stroke="#52b6dc" stroke-width="0.6"/><line x1="469.8" y1="197.2" x2="472.2" y2="197.2" stroke="#52b6dc" stroke-width="0.6"/><line x1="474.3" y1="196.5" x2="476.7" y2="196.5" stroke="#52b6dc" stroke-width="0.6"/><line x1="478.1" y1="201.0" x2="480.4" y2="201.0" stroke="#52b6dc" stroke-width="0.6"/><line x1="481.8" y1="208.5" x2="484.2" y2="208.5" stroke="#52b6dc" stroke-width="0.6"/><line x1="486.3" y1="215.2" x2="488.7" y2="215.2" stroke="#52b6dc" stroke-width="0.6"/><line x1="422.2" y1="164.8" x2="422.2" y2="172.8" stroke="#52b6dc" stroke-width="0.7"/><line x1="426.8" y1="170.2" x2="426.8" y2="173.2" stroke="#52b6dc" stroke-width="0.7"/><line x1="431.2" y1="172.2" x2="431.2" y2="174.2" stroke="#52b6dc" stroke-width="0.7"/><line x1="435.8" y1="176.0" x2="435.8" y2="178.0" stroke="#52b6dc" stroke-width="0.7"/><line x1="439.5" y1="176.8" x2="439.5" y2="178.8" stroke="#52b6dc" stroke-width="0.7"/><line x1="444.0" y1="183.8" x2="444.0" y2="185.8" stroke="#52b6dc" stroke-width="0.7"/><line x1="448.5" y1="189.7" x2="448.5" y2="190.7" stroke="#52b6dc" stroke-width="0.7"/><line x1="453.0" y1="191.5" x2="453.0" y2="192.5" stroke="#52b6dc" stroke-width="0.7"/><line x1="457.5" y1="194.5" x2="457.5" y2="195.5" stroke="#52b6dc" stroke-width="0.7"/><line x1="462.0" y1="196.0" x2="462.0" y2="197.0" stroke="#52b6dc" stroke-width="0.7"/><line x1="466.5" y1="197.2" x2="466.5" y2="198.2" stroke="#52b6dc" stroke-width="0.7"/><line x1="471.0" y1="196.8" x2="471.0" y2="197.8" stroke="#52b6dc" stroke-width="0.7"/><line x1="475.5" y1="196.0" x2="475.5" y2="197.0" stroke="#52b6dc" stroke-width="0.7"/><line x1="479.2" y1="200.5" x2="479.2" y2="201.5" stroke="#52b6dc" stroke-width="0.7"/>
<path d="M419.8,155.3 H490.5 V215.9 H419.8 Z" fill="none" stroke="#222" stroke-width="1"/>
<line x1="416.5" y1="215.9" x2="419.8" y2="215.9" stroke="#222" stroke-width="0.9"/>
<text x="413.5" y="217.6" font-size="5.2" text-anchor="end" fill="#444" font-weight="normal" >0</text>
<line x1="416.5" y1="203.8" x2="419.8" y2="203.8" stroke="#222" stroke-width="0.9"/>
<text x="413.5" y="205.5" font-size="5.2" text-anchor="end" fill="#444" font-weight="normal" >0.1</text>
<line x1="416.5" y1="191.7" x2="419.8" y2="191.7" stroke="#222" stroke-width="0.9"/>
<text x="413.5" y="193.4" font-size="5.2" text-anchor="end" fill="#444" font-weight="normal" >0.2</text>
<line x1="416.5" y1="179.6" x2="419.8" y2="179.6" stroke="#222" stroke-width="0.9"/>
<text x="413.5" y="181.3" font-size="5.2" text-anchor="end" fill="#444" font-weight="normal" >0.3</text>
<line x1="416.5" y1="167.5" x2="419.8" y2="167.5" stroke="#222" stroke-width="0.9"/>
<text x="413.5" y="169.2" font-size="5.2" text-anchor="end" fill="#444" font-weight="normal" >0.4</text>
<line x1="416.5" y1="155.4" x2="419.8" y2="155.4" stroke="#222" stroke-width="0.9"/>
<text x="413.5" y="157.1" font-size="5.2" text-anchor="end" fill="#444" font-weight="normal" >0.5</text>
<line x1="490.5" y1="215.9" x2="493.8" y2="215.9" stroke="#222" stroke-width="0.9"/>
<text x="496.1" y="217.6" font-size="5.2" text-anchor="start" fill="#444" font-weight="normal" >0</text>
<line x1="490.5" y1="200.8" x2="493.8" y2="200.8" stroke="#222" stroke-width="0.9"/>
<text x="496.1" y="202.45" font-size="5.2" text-anchor="start" fill="#444" font-weight="normal" >0.1</text>
<line x1="490.5" y1="185.6" x2="493.8" y2="185.6" stroke="#222" stroke-width="0.9"/>
<text x="496.1" y="187.3" font-size="5.2" text-anchor="start" fill="#444" font-weight="normal" >0.2</text>
<line x1="490.5" y1="170.5" x2="493.8" y2="170.5" stroke="#222" stroke-width="0.9"/>
<text x="496.1" y="172.15" font-size="5.2" text-anchor="start" fill="#444" font-weight="normal" >0.3</text>
<line x1="490.5" y1="155.3" x2="493.8" y2="155.3" stroke="#222" stroke-width="0.9"/>
<text x="496.1" y="157.0" font-size="5.2" text-anchor="start" fill="#444" font-weight="normal" >0.4</text>
<line x1="419.8" y1="215.9" x2="419.8" y2="218.9" stroke="#222" stroke-width="0.9"/>
<text x="419.8" y="226.7" font-size="5.2" text-anchor="middle" fill="#444" font-weight="normal" >0</text>
<line x1="433.9" y1="215.9" x2="433.9" y2="218.9" stroke="#222" stroke-width="0.9"/>
<text x="433.88" y="226.7" font-size="5.2" text-anchor="middle" fill="#444" font-weight="normal" >1</text>
<line x1="448.0" y1="215.9" x2="448.0" y2="218.9" stroke="#222" stroke-width="0.9"/>
<text x="447.96000000000004" y="226.7" font-size="5.2" text-anchor="middle" fill="#444" font-weight="normal" >2</text>
<line x1="462.0" y1="215.9" x2="462.0" y2="218.9" stroke="#222" stroke-width="0.9"/>
<text x="462.04" y="226.7" font-size="5.2" text-anchor="middle" fill="#444" font-weight="normal" >3</text>
<line x1="476.1" y1="215.9" x2="476.1" y2="218.9" stroke="#222" stroke-width="0.9"/>
<text x="476.12" y="226.7" font-size="5.2" text-anchor="middle" fill="#444" font-weight="normal" >4</text>
<line x1="490.2" y1="215.9" x2="490.2" y2="218.9" stroke="#222" stroke-width="0.9"/>
<text x="490.20000000000005" y="226.7" font-size="5.2" text-anchor="middle" fill="#444" font-weight="normal" >5</text>
<text x="455.65" y="236.8" font-size="6.3" text-anchor="middle" fill="#444" font-weight="normal" font-style="italic">r/a</text>
<text x="401.0" y="185.4" font-size="6.3" text-anchor="middle" fill="#444" font-weight="normal" transform="rotate(-90 401.0 185.4)">Ht</text>
<text x="515.0" y="185.4" font-size="6.3" text-anchor="middle" fill="#444" font-weight="normal" transform="rotate(-90 515.0 185.4)">Ht</text>
<line x1="441.5" y1="159.9" x2="445.5" y2="159.9" stroke="#c23a56" stroke-width="0.9"/><line x1="443.5" y1="157.9" x2="443.5" y2="161.9" stroke="#c23a56" stroke-width="0.9"/>
<line x1="441.5" y1="165.8" x2="445.5" y2="165.8" stroke="#52b6dc" stroke-width="0.9"/><line x1="443.5" y1="163.8" x2="443.5" y2="167.8" stroke="#52b6dc" stroke-width="0.9"/>
<text x="447" y="161.8" font-size="5.4" text-anchor="start" fill="#333" font-weight="normal" >0% normal RBCs</text>
<text x="447" y="167.7" font-size="5.4" text-anchor="start" fill="#333" font-weight="normal" >100% sickle RBCs</text>
</g>
<g style="font-family:'Liberation Sans',sans-serif"><text x="10.8" y="146.3" font-size="10.5" text-anchor="middle" fill="#111" font-weight="bold" >B</text><text x="10.5" y="264.3" font-size="10.5" text-anchor="middle" fill="#111" font-weight="bold" >C</text><text x="10.6" y="511.7" font-size="10.5" text-anchor="middle" fill="#111" font-weight="bold" >D</text></g>
<g style="font-family:'Liberation Sans',sans-serif">
<text x="67.5" y="282.4" font-size="8.5" text-anchor="middle" fill="#333" font-weight="normal" lengthAdjust="spacingAndGlyphs" textLength="52">Healthy RBCs</text>
<text x="189.4" y="277.3" font-size="8.5" text-anchor="middle" fill="#333" font-weight="normal" lengthAdjust="spacingAndGlyphs" textLength="48.5">95% Healthy</text>
<text x="189.4" y="287.6" font-size="8.5" text-anchor="middle" fill="#333" font-weight="normal" lengthAdjust="spacingAndGlyphs" textLength="58.6">5% Sickle RBCs</text>
<text x="305.4" y="277.3" font-size="8.5" text-anchor="middle" fill="#333" font-weight="normal" lengthAdjust="spacingAndGlyphs" textLength="47.7">90% Healthy</text>
<text x="305.8" y="287.6" font-size="8.5" text-anchor="middle" fill="#333" font-weight="normal" lengthAdjust="spacingAndGlyphs" textLength="62.4">10% Sickle RBCs</text>
<text x="430.3" y="282.7" font-size="8.5" text-anchor="middle" fill="#333" font-weight="normal" lengthAdjust="spacingAndGlyphs" textLength="68">100% Sickle RBCs</text>
</g>
<defs><linearGradient id="cg1" gradientUnits="userSpaceOnUse" x1="64" y1="310.5" x2="89" y2="390.5"><stop offset="0" stop-color="#eceef0"/><stop offset="0.45" stop-color="#dfe2e6"/><stop offset="1" stop-color="#b9bcc0"/></linearGradient><linearGradient id="sh1" gradientUnits="userSpaceOnUse" x1="74" y1="295.5" x2="49" y2="380.5"><stop offset="0" stop-color="#fff" stop-opacity="0.3"/><stop offset="0.5" stop-color="#888" stop-opacity="0"/><stop offset="1" stop-color="#44484e" stop-opacity="0.7"/></linearGradient><linearGradient id="fi1" gradientUnits="userSpaceOnUse" x1="114" y1="335.5" x2="74" y2="375.5"><stop offset="0" stop-color="#c4c8ce"/><stop offset="1" stop-color="#e4e7ea"/></linearGradient><clipPath id="cc1"><path d="M19.5,337.5 L22.0,324.5 L27.0,313.0 L33.7,304.5 L40.0,298.0 L47.9,294.5 L106.3,324.1 L108.2,325.1 L109.8,326.3 L111.4,327.8 L112.9,329.4 L114.2,331.3 L115.3,333.3 L116.3,335.5 L117.1,337.9 L117.8,340.4 L118.2,343.0 L118.5,345.7 L118.6,348.5 L118.5,351.3 L118.2,354.2 L117.7,357.0 L117.1,359.9 L116.3,362.7 L115.3,365.5 L114.1,368.2 L112.8,370.8 L111.3,373.3 L109.8,375.6 L108.1,377.8 L106.2,379.9 L104.3,381.7 L102.4,383.3 L100.3,384.8 L98.2,386.0 L96.1,387.0 L93.9,387.7 L91.8,388.2 L89.7,388.4 L87.6,388.4 L85.5,388.2 L83.6,387.6 L81.7,386.9 L79.8,385.9 L26.0,354.5 L21.5,350.5 L19.5,345.5 Z"/></clipPath><clipPath id="cf1"><ellipse cx="94" cy="355.5" rx="21.9" ry="32.3" transform="rotate(18 94 355.5)"/></clipPath></defs>
<path d="M19.5,337.5 L22.0,324.5 L27.0,313.0 L33.7,304.5 L40.0,298.0 L47.9,294.5 L106.3,324.1 L108.2,325.1 L109.8,326.3 L111.4,327.8 L112.9,329.4 L114.2,331.3 L115.3,333.3 L116.3,335.5 L117.1,337.9 L117.8,340.4 L118.2,343.0 L118.5,345.7 L118.6,348.5 L118.5,351.3 L118.2,354.2 L117.7,357.0 L117.1,359.9 L116.3,362.7 L115.3,365.5 L114.1,368.2 L112.8,370.8 L111.3,373.3 L109.8,375.6 L108.1,377.8 L106.2,379.9 L104.3,381.7 L102.4,383.3 L100.3,384.8 L98.2,386.0 L96.1,387.0 L93.9,387.7 L91.8,388.2 L89.7,388.4 L87.6,388.4 L85.5,388.2 L83.6,387.6 L81.7,386.9 L79.8,385.9 L26.0,354.5 L21.5,350.5 L19.5,345.5 Z" fill="url(#cg1)"/>
<ellipse cx="94" cy="355.5" rx="23.4" ry="33.8" transform="rotate(18 94 355.5)" fill="none" stroke="#d0d2d5" stroke-width="0.5"/>
<g>
<ellipse class="k1b" rx="6.9" ry="5.0" transform="translate(62.7,345.8)rotate(34)"/>
<ellipse class="k1c" rx="7.3" ry="3.6" transform="translate(77.3,329.9)rotate(3)"/>
<ellipse class="k1b" rx="6.5" ry="4.5" transform="translate(35.9,314.9)rotate(35)"/>
<ellipse class="k1d" rx="6.9" ry="3.9" transform="translate(40.4,320.0)rotate(180)"/>
<ellipse class="k1d" rx="6.7" ry="5.0" transform="translate(39.9,319.5)rotate(70)"/>
<ellipse class="k1b" rx="7.8" ry="3.5" transform="translate(44.0,299.9)rotate(44)"/>
<ellipse class="k1c" rx="7.8" ry="4.1" transform="translate(73.6,334.9)rotate(69)"/>
<ellipse class="k1e" rx="6.1" ry="3.8" transform="translate(78.0,347.4)rotate(139)"/>
<ellipse class="k1d" rx="6.1" ry="4.6" transform="translate(50.1,320.2)rotate(3)"/>
<ellipse class="k1f" rx="7.0" ry="4.4" transform="translate(54.1,351.8)rotate(156)"/>
<ellipse class="k1f" rx="6.2" ry="3.7" transform="translate(35.2,306.4)rotate(133)"/>
<ellipse class="k1d" rx="7.0" ry="3.8" transform="translate(78.1,332.3)rotate(133)"/>
<ellipse class="k1b" rx="6.4" ry="3.7" transform="translate(56.5,332.3)rotate(130)"/>
<ellipse class="k1e" rx="6.3" ry="4.4" transform="translate(44.0,334.7)rotate(175)"/>
<ellipse class="k1f" rx="7.3" ry="3.6" transform="translate(62.5,323.6)rotate(6)"/>
<ellipse class="k20" rx="5.9" ry="3.4" transform="translate(81.4,338.2)rotate(82)"/>
<ellipse class="k1d" rx="8.1" ry="4.1" transform="translate(51.4,299.7)rotate(142)"/>
<ellipse class="k1f" rx="5.7" ry="3.5" transform="translate(80.3,328.6)rotate(21)"/>
<ellipse class="k1c" rx="7.6" ry="4.2" transform="translate(42.8,331.8)rotate(83)"/>
<ellipse class="k20" rx="7.3" ry="4.3" transform="translate(71.8,341.8)rotate(41)"/>
<ellipse class="k1b" rx="6.3" ry="3.3" transform="translate(87.8,339.7)rotate(54)"/>
<ellipse class="k20" rx="6.7" ry="3.8" transform="translate(83.9,334.3)rotate(114)"/>
<ellipse class="k1e" rx="6.7" ry="4.5" transform="translate(98.5,364.6)rotate(57)"/>
<ellipse class="k1d" rx="7.6" ry="5.2" transform="translate(30.4,339.6)rotate(50)"/>
<ellipse class="k1e" rx="8.0" ry="4.1" transform="translate(33.8,335.2)rotate(94)"/>
<ellipse class="k1f" rx="6.9" ry="3.4" transform="translate(85.1,360.9)rotate(6)"/>
<ellipse class="k1f" rx="5.6" ry="3.6" transform="translate(88.8,346.8)rotate(82)"/>
<ellipse class="k1c" rx="5.8" ry="3.5" transform="translate(40.7,305.2)rotate(96)"/>
<ellipse class="k1e" rx="6.1" ry="4.3" transform="translate(81.8,327.2)rotate(32)"/>
<ellipse class="k1f" rx="7.0" ry="5.3" transform="translate(44.3,325.0)rotate(29)"/>
<ellipse class="k1b" rx="8.3" ry="4.7" transform="translate(103.1,359.3)rotate(23)"/>
<ellipse class="k1b" rx="7.2" ry="4.6" transform="translate(62.8,352.1)rotate(90)"/>
<ellipse class="k20" rx="7.1" ry="4.9" transform="translate(41.2,329.3)rotate(58)"/>
<ellipse class="k1f" rx="6.8" ry="3.9" transform="translate(52.1,299.5)rotate(166)"/>
<ellipse class="k1b" rx="5.9" ry="4.3" transform="translate(70.9,358.0)rotate(130)"/>
<ellipse class="k1b" rx="7.2" ry="4.7" transform="translate(102.2,358.3)rotate(136)"/>
<ellipse class="k1f" rx="7.4" ry="4.3" transform="translate(61.4,345.7)rotate(152)"/>
<ellipse class="k1f" rx="6.1" ry="5.0" transform="translate(73.7,321.7)rotate(174)"/>
<ellipse class="k1f" rx="5.8" ry="3.3" transform="translate(70.0,347.0)rotate(68)"/>
<ellipse class="k20" rx="6.8" ry="4.9" transform="translate(57.8,315.4)rotate(162)"/>
<ellipse class="k1f" rx="5.6" ry="3.8" transform="translate(65.1,322.2)rotate(126)"/>
<ellipse class="k1f" rx="7.4" ry="4.7" transform="translate(67.4,339.9)rotate(126)"/>
<ellipse class="k1f" rx="8.1" ry="3.8" transform="translate(38.8,312.5)rotate(133)"/>
<ellipse class="k1d" rx="7.6" ry="4.6" transform="translate(37.0,357.6)rotate(62)"/>
<ellipse class="k20" rx="8.3" ry="3.5" transform="translate(35.9,302.6)rotate(11)"/>
<ellipse class="k1f" rx="6.6" ry="4.6" transform="translate(64.2,341.4)rotate(7)"/>
<ellipse class="k20" rx="6.7" ry="3.7" transform="translate(36.9,331.0)rotate(30)"/>
<ellipse class="k20" rx="7.9" ry="3.8" transform="translate(57.8,349.6)rotate(164)"/>
<ellipse class="k1b" rx="5.9" ry="4.0" transform="translate(92.5,366.9)rotate(97)"/>
<ellipse class="k1e" rx="7.7" ry="3.4" transform="translate(54.3,333.3)rotate(62)"/>
<ellipse class="k1f" rx="6.0" ry="3.5" transform="translate(84.5,324.2)rotate(93)"/>
<ellipse class="k1b" rx="8.4" ry="3.3" transform="translate(67.3,312.2)rotate(111)"/>
<ellipse class="k20" rx="6.3" ry="4.0" transform="translate(36.5,327.9)rotate(97)"/>
<ellipse class="k1d" rx="7.4" ry="4.9" transform="translate(58.9,342.0)rotate(14)"/>
<ellipse class="k1e" rx="6.7" ry="5.2" transform="translate(77.5,365.1)rotate(154)"/>
<ellipse class="k1b" rx="6.8" ry="4.4" transform="translate(71.8,349.3)rotate(108)"/>
<ellipse class="k1f" rx="8.3" ry="4.6" transform="translate(53.8,319.2)rotate(135)"/>
<ellipse class="k1c" rx="6.7" ry="5.1" transform="translate(76.3,352.9)rotate(135)"/>
<ellipse class="k1c" rx="8.2" ry="3.6" transform="translate(41.4,342.2)rotate(173)"/>
<ellipse class="k1b" rx="6.9" ry="3.8" transform="translate(32.3,326.7)rotate(105)"/>
<ellipse class="k20" rx="7.3" ry="4.8" transform="translate(96.6,352.1)rotate(126)"/>
<ellipse class="k1e" rx="7.0" ry="4.6" transform="translate(35.9,318.5)rotate(35)"/>
<ellipse class="k20" rx="6.8" ry="4.5" transform="translate(86.2,352.4)rotate(18)"/>
<ellipse class="k1b" rx="6.6" ry="4.0" transform="translate(72.7,352.7)rotate(89)"/>
<ellipse class="k1b" rx="6.8" ry="3.8" transform="translate(100.4,372.7)rotate(146)"/>
<ellipse class="k1f" rx="7.8" ry="5.0" transform="translate(54.2,354.9)rotate(33)"/>
<ellipse class="k20" rx="5.7" ry="3.5" transform="translate(83.2,347.8)rotate(102)"/>
<ellipse class="k1d" rx="5.7" ry="3.7" transform="translate(66.0,357.9)rotate(119)"/>
<ellipse class="k20" rx="8.2" ry="3.9" transform="translate(31.1,326.2)rotate(79)"/>
<ellipse class="k1b" rx="6.5" ry="4.1" transform="translate(45.0,342.9)rotate(168)"/>
<ellipse class="k1b" rx="7.3" ry="4.9" transform="translate(53.4,326.9)rotate(133)"/>
<ellipse class="k1f" rx="7.2" ry="3.7" transform="translate(54.1,329.3)rotate(137)"/>
<ellipse class="k1c" rx="8.0" ry="4.1" transform="translate(72.0,346.5)rotate(105)"/>
<ellipse class="k20" rx="7.7" ry="5.1" transform="translate(47.7,344.4)rotate(15)"/>
<ellipse class="k1e" rx="7.0" ry="5.1" transform="translate(92.6,354.4)rotate(61)"/>
<ellipse class="k20" rx="7.5" ry="4.3" transform="translate(63.4,325.5)rotate(97)"/>
<ellipse class="k1b" rx="7.8" ry="5.3" transform="translate(90.1,360.1)rotate(63)"/>
<ellipse class="k1d" rx="7.1" ry="4.7" transform="translate(25.6,336.5)rotate(144)"/>
<ellipse class="k1c" rx="6.0" ry="4.6" transform="translate(59.5,332.3)rotate(123)"/>
<ellipse class="k20" rx="8.4" ry="3.4" transform="translate(49.3,329.2)rotate(56)"/>
<ellipse class="k1d" rx="6.4" ry="3.7" transform="translate(63.3,348.1)rotate(65)"/>
<ellipse class="k1f" rx="6.2" ry="3.7" transform="translate(76.6,349.7)rotate(51)"/>
<ellipse class="k1b" rx="8.1" ry="4.3" transform="translate(48.3,344.6)rotate(72)"/>
<ellipse class="k1f" rx="7.9" ry="4.8" transform="translate(38.7,304.5)rotate(142)"/>
<ellipse class="k1b" rx="6.0" ry="3.9" transform="translate(41.7,332.3)rotate(47)"/>
<ellipse class="k1e" rx="5.5" ry="4.9" transform="translate(43.7,343.3)rotate(152)"/>
<ellipse class="k1f" rx="7.1" ry="4.3" transform="translate(65.5,336.9)rotate(3)"/>
<ellipse class="k1b" rx="6.1" ry="4.4" transform="translate(35.7,310.2)rotate(95)"/>
<ellipse class="k20" rx="8.5" ry="4.6" transform="translate(48.3,321.6)rotate(12)"/>
<ellipse class="k1d" rx="7.5" ry="3.3" transform="translate(84.7,357.0)rotate(68)"/>
<ellipse class="k1c" rx="6.1" ry="4.5" transform="translate(74.1,335.9)rotate(52)"/>
<ellipse class="k20" rx="7.8" ry="4.4" transform="translate(54.9,343.8)rotate(16)"/>
<ellipse class="k20" rx="8.3" ry="4.4" transform="translate(35.8,328.0)rotate(130)"/>
<ellipse class="k1b" rx="7.8" ry="4.0" transform="translate(39.6,306.7)rotate(148)"/>
<ellipse class="k1b" rx="6.5" ry="4.1" transform="translate(37.5,305.8)rotate(3)"/>
<ellipse class="k1c" rx="8.5" ry="4.4" transform="translate(57.4,359.3)rotate(47)"/>
<ellipse class="k1f" rx="6.6" ry="4.3" transform="translate(35.8,321.2)rotate(142)"/>
<ellipse class="k1f" rx="8.2" ry="4.4" transform="translate(100.7,350.8)rotate(63)"/>
<ellipse class="k1e" rx="7.2" ry="3.4" transform="translate(69.2,360.8)rotate(119)"/>
<ellipse class="k1d" rx="8.3" ry="4.0" transform="translate(65.3,332.0)rotate(83)"/>
<ellipse class="k20" rx="6.0" ry="4.8" transform="translate(72.0,345.8)rotate(161)"/>
<ellipse class="k1d" rx="6.4" ry="5.1" transform="translate(50.7,305.6)rotate(43)"/>
<ellipse class="k1c" rx="8.2" ry="4.5" transform="translate(83.7,321.3)rotate(115)"/>
<ellipse class="k1e" rx="7.2" ry="4.0" transform="translate(57.9,324.1)rotate(116)"/>
<ellipse class="k1f" rx="8.2" ry="4.4" transform="translate(77.8,337.0)rotate(73)"/>
<ellipse class="k1d" rx="8.2" ry="4.4" transform="translate(87.0,371.5)rotate(95)"/>
<ellipse class="k1f" rx="8.1" ry="3.8" transform="translate(77.5,364.4)rotate(152)"/>
<ellipse class="k1d" rx="8.5" ry="4.8" transform="translate(72.1,355.2)rotate(157)"/>
<ellipse class="k1e" rx="6.2" ry="4.8" transform="translate(54.1,344.4)rotate(102)"/>
<ellipse class="k1b" rx="7.9" ry="4.1" transform="translate(47.1,323.0)rotate(64)"/>
<ellipse class="k1b" rx="8.1" ry="3.7" transform="translate(47.9,339.8)rotate(155)"/>
<ellipse class="k1f" rx="7.4" ry="3.7" transform="translate(81.4,359.1)rotate(158)"/>
<ellipse class="k20" rx="6.6" ry="4.6" transform="translate(35.0,314.3)rotate(159)"/>
<ellipse class="k1f" rx="7.3" ry="4.4" transform="translate(70.4,342.9)rotate(76)"/>
<ellipse class="k1e" rx="5.8" ry="4.2" transform="translate(92.5,343.0)rotate(120)"/>
<ellipse class="k1c" rx="6.2" ry="4.3" transform="translate(72.4,316.3)rotate(40)"/>
<ellipse class="k1f" rx="8.4" ry="3.4" transform="translate(75.7,339.9)rotate(81)"/>
<ellipse class="k1f" rx="6.8" ry="3.8" transform="translate(78.6,350.5)rotate(144)"/>
<ellipse class="k1e" rx="7.4" ry="3.4" transform="translate(74.6,344.2)rotate(77)"/>
<ellipse class="k20" rx="7.8" ry="4.3" transform="translate(87.5,370.9)rotate(117)"/>
<ellipse class="k1b" rx="7.6" ry="5.0" transform="translate(68.6,328.2)rotate(142)"/>
<ellipse class="k1d" rx="5.9" ry="4.8" transform="translate(22.7,331.3)rotate(108)"/>
<ellipse class="k1d" rx="7.5" ry="4.7" transform="translate(73.3,337.2)rotate(176)"/>
<ellipse class="k1e" rx="6.8" ry="3.5" transform="translate(79.0,320.2)rotate(41)"/>
<ellipse class="k1f" rx="7.6" ry="5.0" transform="translate(32.9,348.2)rotate(106)"/>
<ellipse class="k1e" rx="6.9" ry="4.1" transform="translate(52.0,309.3)rotate(107)"/>
<ellipse class="k1c" rx="7.5" ry="5.0" transform="translate(94.0,337.3)rotate(37)"/>
<ellipse class="k1d" rx="7.1" ry="4.8" transform="translate(87.1,326.7)rotate(92)"/>
<ellipse class="k1d" rx="6.6" ry="3.6" transform="translate(74.4,354.4)rotate(169)"/>
<ellipse class="k1b" rx="6.5" ry="4.8" transform="translate(49.4,328.8)rotate(93)"/>
<ellipse class="k1e" rx="7.0" ry="3.6" transform="translate(22.1,329.7)rotate(38)"/>
<ellipse class="k1f" rx="7.6" ry="3.8" transform="translate(58.4,337.9)rotate(131)"/>
<ellipse class="k1b" rx="5.9" ry="4.3" transform="translate(37.4,318.7)rotate(64)"/>
<ellipse class="k1e" rx="5.6" ry="3.3" transform="translate(27.0,327.4)rotate(113)"/>
<ellipse class="k1c" rx="5.7" ry="5.0" transform="translate(74.3,369.9)rotate(100)"/>
</g>
<defs><linearGradient id="cg2" gradientUnits="userSpaceOnUse" x1="186.4" y1="310.5" x2="211.4" y2="390.5"><stop offset="0" stop-color="#eceef0"/><stop offset="0.45" stop-color="#dfe2e6"/><stop offset="1" stop-color="#b9bcc0"/></linearGradient><linearGradient id="sh2" gradientUnits="userSpaceOnUse" x1="196.4" y1="295.5" x2="171.4" y2="380.5"><stop offset="0" stop-color="#fff" stop-opacity="0.3"/><stop offset="0.5" stop-color="#888" stop-opacity="0"/><stop offset="1" stop-color="#44484e" stop-opacity="0.7"/></linearGradient><linearGradient id="fi2" gradientUnits="userSpaceOnUse" x1="236.4" y1="335.5" x2="196.4" y2="375.5"><stop offset="0" stop-color="#c4c8ce"/><stop offset="1" stop-color="#e4e7ea"/></linearGradient><clipPath id="cc2"><path d="M139.2,337.5 L141.8,324.5 L147.0,313.0 L153.9,304.5 L160.4,298.0 L168.6,294.5 L228.7,324.1 L230.6,325.1 L232.2,326.3 L233.8,327.8 L235.3,329.4 L236.6,331.3 L237.7,333.3 L238.7,335.5 L239.5,337.9 L240.2,340.4 L240.6,343.0 L240.9,345.7 L241.0,348.5 L240.9,351.3 L240.6,354.2 L240.1,357.0 L239.5,359.9 L238.7,362.7 L237.7,365.5 L236.5,368.2 L235.2,370.8 L233.7,373.3 L232.2,375.6 L230.5,377.8 L228.6,379.9 L226.7,381.7 L224.8,383.3 L222.7,384.8 L220.6,386.0 L218.5,387.0 L216.3,387.7 L214.2,388.2 L212.1,388.4 L210.0,388.4 L207.9,388.2 L206.0,387.6 L204.1,386.9 L202.2,385.9 L145.9,354.5 L141.3,350.5 L139.2,345.5 Z"/></clipPath><clipPath id="cf2"><ellipse cx="216.4" cy="355.5" rx="21.9" ry="32.3" transform="rotate(18 216.4 355.5)"/></clipPath></defs>
<path d="M139.2,337.5 L141.8,324.5 L147.0,313.0 L153.9,304.5 L160.4,298.0 L168.6,294.5 L228.7,324.1 L230.6,325.1 L232.2,326.3 L233.8,327.8 L235.3,329.4 L236.6,331.3 L237.7,333.3 L238.7,335.5 L239.5,337.9 L240.2,340.4 L240.6,343.0 L240.9,345.7 L241.0,348.5 L240.9,351.3 L240.6,354.2 L240.1,357.0 L239.5,359.9 L238.7,362.7 L237.7,365.5 L236.5,368.2 L235.2,370.8 L233.7,373.3 L232.2,375.6 L230.5,377.8 L228.6,379.9 L226.7,381.7 L224.8,383.3 L222.7,384.8 L220.6,386.0 L218.5,387.0 L216.3,387.7 L214.2,388.2 L212.1,388.4 L210.0,388.4 L207.9,388.2 L206.0,387.6 L204.1,386.9 L202.2,385.9 L145.9,354.5 L141.3,350.5 L139.2,345.5 Z" fill="url(#cg2)"/>
<ellipse cx="216.4" cy="355.5" rx="23.4" ry="33.8" transform="rotate(18 216.4 355.5)" fill="none" stroke="#d0d2d5" stroke-width="0.5"/>
<g>
<ellipse class="k20" rx="6.2" ry="4.6" transform="translate(173.2,303.3)rotate(16)"/>
<ellipse class="k1b" rx="8.3" ry="3.9" transform="translate(181.0,329.5)rotate(127)"/>
<ellipse class="k20" rx="7.6" ry="4.4" transform="translate(214.0,379.5)rotate(126)"/>
<ellipse class="k20" rx="8.2" ry="3.4" transform="translate(188.1,348.3)rotate(6)"/>
<ellipse class="k1c" rx="8.2" ry="4.6" transform="translate(170.1,327.7)rotate(69)"/>
<ellipse class="k21" rx="4.4" ry="1.7" transform="translate(188.1,337.3)rotate(12)"/>
<ellipse class="k1b" rx="8.0" ry="4.8" transform="translate(193.2,329.7)rotate(14)"/>
<ellipse class="k20" rx="6.3" ry="3.5" transform="translate(222.5,377.2)rotate(3)"/>
<ellipse class="k1e" rx="6.0" ry="4.5" transform="translate(177.7,306.7)rotate(88)"/>
<ellipse class="k1c" rx="7.5" ry="4.3" transform="translate(195.3,327.3)rotate(116)"/>
<ellipse class="k1d" rx="8.5" ry="4.9" transform="translate(174.1,359.9)rotate(159)"/>
<ellipse class="k21" rx="5.7" ry="2.1" transform="translate(189.9,357.3)rotate(-64)"/>
<ellipse class="k1b" rx="6.3" ry="4.6" transform="translate(162.8,340.7)rotate(66)"/>
<ellipse class="k1f" rx="7.5" ry="3.8" transform="translate(164.4,307.1)rotate(33)"/>
<ellipse class="k1c" rx="8.5" ry="3.4" transform="translate(180.1,352.7)rotate(128)"/>
<ellipse class="k20" rx="6.8" ry="5.0" transform="translate(193.0,338.3)rotate(117)"/>
<ellipse class="k20" rx="7.9" ry="3.6" transform="translate(196.6,356.9)rotate(32)"/>
<ellipse class="k20" rx="8.2" ry="3.8" transform="translate(162.5,338.8)rotate(102)"/>
<ellipse class="k1d" rx="6.9" ry="4.0" transform="translate(164.9,330.3)rotate(47)"/>
<ellipse class="k1b" rx="7.2" ry="3.7" transform="translate(186.9,331.7)rotate(111)"/>
<ellipse class="k1b" rx="7.2" ry="5.2" transform="translate(156.0,319.7)rotate(8)"/>
<ellipse class="k1d" rx="7.8" ry="3.9" transform="translate(192.7,356.9)rotate(93)"/>
<ellipse class="k1c" rx="7.8" ry="5.3" transform="translate(213.3,330.2)rotate(18)"/>
<ellipse class="k20" rx="7.4" ry="4.2" transform="translate(176.9,327.3)rotate(56)"/>
<ellipse class="k1e" rx="6.1" ry="4.8" transform="translate(198.5,317.1)rotate(98)"/>
<ellipse class="k21" rx="4.1" ry="1.6" transform="translate(172.9,333.2)rotate(44)"/>
<ellipse class="k22" rx="4.6" ry="2.0" transform="translate(224.2,365.3)rotate(-57)"/>
<ellipse class="k1e" rx="7.8" ry="4.4" transform="translate(164.8,357.1)rotate(2)"/>
<ellipse class="k1d" rx="6.1" ry="4.5" transform="translate(212.7,355.7)rotate(160)"/>
<ellipse class="k1c" rx="7.6" ry="4.2" transform="translate(189.1,346.5)rotate(120)"/>
<ellipse class="k1f" rx="7.1" ry="3.4" transform="translate(180.1,328.8)rotate(166)"/>
<ellipse class="k1d" rx="7.3" ry="5.2" transform="translate(191.5,335.3)rotate(27)"/>
<ellipse class="k1c" rx="7.9" ry="3.6" transform="translate(187.7,314.2)rotate(21)"/>
<ellipse class="k23" rx="4.5" ry="2.1" transform="translate(163.6,309.4)rotate(-16)"/>
<ellipse class="k1d" rx="7.9" ry="3.6" transform="translate(225.8,366.2)rotate(66)"/>
<ellipse class="k1f" rx="6.9" ry="4.3" transform="translate(155.2,329.2)rotate(16)"/>
<ellipse class="k1c" rx="8.4" ry="4.4" transform="translate(204.2,343.1)rotate(179)"/>
<ellipse class="k1e" rx="7.6" ry="3.7" transform="translate(209.5,373.4)rotate(23)"/>
<ellipse class="k1d" rx="6.3" ry="4.0" transform="translate(208.9,336.7)rotate(112)"/>
<ellipse class="k20" rx="6.9" ry="4.3" transform="translate(164.0,327.8)rotate(169)"/>
<ellipse class="k20" rx="8.4" ry="3.5" transform="translate(196.9,319.1)rotate(117)"/>
<ellipse class="k1b" rx="7.3" ry="4.2" transform="translate(159.8,337.8)rotate(12)"/>
<ellipse class="k20" rx="6.4" ry="4.7" transform="translate(180.1,318.8)rotate(121)"/>
<ellipse class="k20" rx="6.7" ry="3.9" transform="translate(161.8,331.4)rotate(18)"/>
<ellipse class="k1c" rx="5.8" ry="5.1" transform="translate(228.4,366.0)rotate(16)"/>
<ellipse class="k1c" rx="7.6" ry="5.3" transform="translate(174.3,327.8)rotate(147)"/>
<ellipse class="k1c" rx="7.3" ry="5.2" transform="translate(154.0,340.5)rotate(176)"/>
<ellipse class="k1d" rx="5.7" ry="4.2" transform="translate(223.0,354.5)rotate(72)"/>
<ellipse class="k1c" rx="7.9" ry="3.3" transform="translate(175.0,305.4)rotate(173)"/>
<ellipse class="k1c" rx="7.9" ry="4.8" transform="translate(209.1,367.7)rotate(140)"/>
<ellipse class="k23" rx="5.9" ry="2.1" transform="translate(148.7,336.9)rotate(-67)"/>
<ellipse class="k1d" rx="7.8" ry="3.5" transform="translate(173.0,343.4)rotate(180)"/>
<ellipse class="k1f" rx="6.7" ry="3.4" transform="translate(168.5,325.7)rotate(39)"/>
<ellipse class="k1d" rx="7.9" ry="4.3" transform="translate(183.5,345.6)rotate(26)"/>
<ellipse class="k1f" rx="5.6" ry="3.5" transform="translate(213.5,328.0)rotate(54)"/>
<ellipse class="k20" rx="8.2" ry="3.7" transform="translate(163.5,302.3)rotate(179)"/>
<ellipse class="k1e" rx="7.1" ry="4.4" transform="translate(148.4,321.7)rotate(72)"/>
<ellipse class="k1e" rx="7.1" ry="4.4" transform="translate(175.2,322.0)rotate(132)"/>
<ellipse class="k1c" rx="7.3" ry="5.2" transform="translate(175.3,349.0)rotate(66)"/>
<ellipse class="k1f" rx="7.8" ry="3.4" transform="translate(198.9,327.3)rotate(33)"/>
<ellipse class="k1c" rx="8.1" ry="4.1" transform="translate(158.5,348.6)rotate(51)"/>
<ellipse class="k20" rx="7.4" ry="3.4" transform="translate(170.6,322.3)rotate(137)"/>
<ellipse class="k1d" rx="6.0" ry="3.5" transform="translate(213.4,332.0)rotate(123)"/>
<ellipse class="k1c" rx="7.7" ry="5.0" transform="translate(207.2,369.2)rotate(172)"/>
<ellipse class="k1c" rx="8.4" ry="4.4" transform="translate(210.8,359.6)rotate(166)"/>
<ellipse class="k1d" rx="6.0" ry="3.8" transform="translate(158.3,331.7)rotate(73)"/>
<ellipse class="k1f" rx="7.8" ry="3.5" transform="translate(188.0,333.8)rotate(134)"/>
<ellipse class="k1f" rx="7.9" ry="4.7" transform="translate(172.5,307.4)rotate(82)"/>
<ellipse class="k1e" rx="6.9" ry="5.3" transform="translate(197.9,336.3)rotate(59)"/>
<ellipse class="k20" rx="6.6" ry="4.7" transform="translate(196.4,316.4)rotate(78)"/>
<ellipse class="k1f" rx="6.9" ry="4.3" transform="translate(200.9,345.7)rotate(42)"/>
<ellipse class="k1e" rx="6.8" ry="5.2" transform="translate(195.7,345.0)rotate(64)"/>
<ellipse class="k1e" rx="8.1" ry="4.8" transform="translate(167.9,315.4)rotate(62)"/>
<ellipse class="k1c" rx="7.9" ry="4.5" transform="translate(174.8,322.9)rotate(150)"/>
<ellipse class="k1c" rx="6.4" ry="3.8" transform="translate(173.7,308.2)rotate(24)"/>
<ellipse class="k20" rx="8.3" ry="3.6" transform="translate(187.0,317.9)rotate(70)"/>
<ellipse class="k1c" rx="6.3" ry="3.4" transform="translate(214.8,359.6)rotate(169)"/>
<ellipse class="k1c" rx="6.1" ry="4.6" transform="translate(160.7,335.4)rotate(49)"/>
<ellipse class="k1c" rx="5.7" ry="5.1" transform="translate(193.8,347.2)rotate(18)"/>
<ellipse class="k1d" rx="6.8" ry="4.7" transform="translate(225.8,367.6)rotate(15)"/>
<ellipse class="k1c" rx="5.8" ry="3.6" transform="translate(209.0,350.9)rotate(35)"/>
<ellipse class="k1e" rx="8.4" ry="5.2" transform="translate(163.0,312.8)rotate(167)"/>
<ellipse class="k1f" rx="6.4" ry="3.6" transform="translate(198.1,358.0)rotate(138)"/>
<ellipse class="k1c" rx="7.9" ry="3.3" transform="translate(155.7,350.1)rotate(12)"/>
<ellipse class="k22" rx="4.5" ry="1.9" transform="translate(171.4,325.1)rotate(-7)"/>
<ellipse class="k20" rx="6.1" ry="4.7" transform="translate(162.7,337.9)rotate(110)"/>
<ellipse class="k1d" rx="6.1" ry="3.8" transform="translate(198.6,347.2)rotate(54)"/>
<ellipse class="k1f" rx="6.2" ry="3.7" transform="translate(219.0,343.8)rotate(75)"/>
<ellipse class="k1e" rx="5.9" ry="3.7" transform="translate(188.5,328.4)rotate(158)"/>
<ellipse class="k1d" rx="8.5" ry="4.8" transform="translate(175.2,303.1)rotate(122)"/>
<ellipse class="k20" rx="7.1" ry="4.4" transform="translate(149.1,322.6)rotate(102)"/>
<ellipse class="k1d" rx="7.5" ry="3.3" transform="translate(216.1,342.6)rotate(166)"/>
<ellipse class="k20" rx="7.3" ry="5.0" transform="translate(147.2,338.4)rotate(84)"/>
<ellipse class="k1e" rx="5.6" ry="4.1" transform="translate(216.1,330.3)rotate(148)"/>
<ellipse class="k1c" rx="6.5" ry="4.0" transform="translate(195.1,358.2)rotate(159)"/>
<ellipse class="k1b" rx="6.3" ry="5.2" transform="translate(197.1,331.9)rotate(88)"/>
<ellipse class="k1c" rx="6.0" ry="4.3" transform="translate(207.2,351.8)rotate(177)"/>
<ellipse class="k1e" rx="7.2" ry="4.1" transform="translate(166.4,308.1)rotate(126)"/>
<ellipse class="k1c" rx="7.0" ry="3.8" transform="translate(220.1,354.6)rotate(103)"/>
<ellipse class="k1b" rx="7.4" ry="3.4" transform="translate(202.4,336.3)rotate(26)"/>
<ellipse class="k1f" rx="6.5" ry="3.7" transform="translate(152.1,322.1)rotate(39)"/>
<ellipse class="k1e" rx="7.6" ry="4.9" transform="translate(223.6,369.4)rotate(128)"/>
<ellipse class="k1b" rx="6.4" ry="3.8" transform="translate(221.0,369.2)rotate(166)"/>
<ellipse class="k1d" rx="8.4" ry="3.6" transform="translate(200.2,379.8)rotate(47)"/>
<ellipse class="k1f" rx="7.6" ry="4.8" transform="translate(166.4,329.3)rotate(177)"/>
<ellipse class="k1d" rx="7.2" ry="5.2" transform="translate(227.1,366.0)rotate(115)"/>
<ellipse class="k1d" rx="8.2" ry="4.3" transform="translate(187.7,328.8)rotate(176)"/>
<ellipse class="k1c" rx="6.1" ry="4.6" transform="translate(152.3,333.3)rotate(124)"/>
<ellipse class="k1d" rx="5.8" ry="4.7" transform="translate(165.5,342.1)rotate(9)"/>
<ellipse class="k1f" rx="6.6" ry="4.2" transform="translate(215.5,342.5)rotate(72)"/>
<ellipse class="k1c" rx="7.2" ry="4.6" transform="translate(181.2,337.6)rotate(169)"/>
<ellipse class="k1c" rx="5.6" ry="3.4" transform="translate(211.6,361.9)rotate(11)"/>
<ellipse class="k1f" rx="5.7" ry="3.8" transform="translate(156.5,316.0)rotate(125)"/>
<ellipse class="k1b" rx="7.9" ry="3.8" transform="translate(180.8,347.1)rotate(155)"/>
<ellipse class="k1b" rx="5.6" ry="3.4" transform="translate(195.3,315.3)rotate(70)"/>
</g>
<defs><linearGradient id="cg3" gradientUnits="userSpaceOnUse" x1="307.5" y1="310.5" x2="332.5" y2="390.5"><stop offset="0" stop-color="#eceef0"/><stop offset="0.45" stop-color="#dfe2e6"/><stop offset="1" stop-color="#b9bcc0"/></linearGradient><linearGradient id="sh3" gradientUnits="userSpaceOnUse" x1="317.5" y1="295.5" x2="292.5" y2="380.5"><stop offset="0" stop-color="#fff" stop-opacity="0.3"/><stop offset="0.5" stop-color="#888" stop-opacity="0"/><stop offset="1" stop-color="#44484e" stop-opacity="0.7"/></linearGradient><linearGradient id="fi3" gradientUnits="userSpaceOnUse" x1="357.5" y1="335.5" x2="317.5" y2="375.5"><stop offset="0" stop-color="#c4c8ce"/><stop offset="1" stop-color="#e4e7ea"/></linearGradient><clipPath id="cc3"><path d="M260.3,337.5 L262.9,324.5 L268.1,313.0 L275.0,304.5 L281.5,298.0 L289.7,294.5 L349.8,324.1 L351.7,325.1 L353.3,326.3 L354.9,327.8 L356.4,329.4 L357.7,331.3 L358.8,333.3 L359.8,335.5 L360.6,337.9 L361.3,340.4 L361.7,343.0 L362.0,345.7 L362.1,348.5 L362.0,351.3 L361.7,354.2 L361.2,357.0 L360.6,359.9 L359.8,362.7 L358.8,365.5 L357.6,368.2 L356.3,370.8 L354.8,373.3 L353.3,375.6 L351.6,377.8 L349.7,379.9 L347.8,381.7 L345.9,383.3 L343.8,384.8 L341.7,386.0 L339.6,387.0 L337.4,387.7 L335.3,388.2 L333.2,388.4 L331.1,388.4 L329.0,388.2 L327.1,387.6 L325.2,386.9 L323.3,385.9 L267.0,354.5 L262.4,350.5 L260.3,345.5 Z"/></clipPath><clipPath id="cf3"><ellipse cx="337.5" cy="355.5" rx="21.9" ry="32.3" transform="rotate(18 337.5 355.5)"/></clipPath></defs>
<path d="M260.3,337.5 L262.9,324.5 L268.1,313.0 L275.0,304.5 L281.5,298.0 L289.7,294.5 L349.8,324.1 L351.7,325.1 L353.3,326.3 L354.9,327.8 L356.4,329.4 L357.7,331.3 L358.8,333.3 L359.8,335.5 L360.6,337.9 L361.3,340.4 L361.7,343.0 L362.0,345.7 L362.1,348.5 L362.0,351.3 L361.7,354.2 L361.2,357.0 L360.6,359.9 L359.8,362.7 L358.8,365.5 L357.6,368.2 L356.3,370.8 L354.8,373.3 L353.3,375.6 L351.6,377.8 L349.7,379.9 L347.8,381.7 L345.9,383.3 L343.8,384.8 L341.7,386.0 L339.6,387.0 L337.4,387.7 L335.3,388.2 L333.2,388.4 L331.1,388.4 L329.0,388.2 L327.1,387.6 L325.2,386.9 L323.3,385.9 L267.0,354.5 L262.4,350.5 L260.3,345.5 Z" fill="url(#cg3)"/>
<ellipse cx="337.5" cy="355.5" rx="23.4" ry="33.8" transform="rotate(18 337.5 355.5)" fill="none" stroke="#d0d2d5" stroke-width="0.5"/>
<g>
<ellipse class="k1c" rx="5.9" ry="3.9" transform="translate(308.3,348.5)rotate(40)"/>
<ellipse class="k20" rx="5.6" ry="3.5" transform="translate(300.3,330.2)rotate(48)"/>
<ellipse class="k23" rx="5.2" ry="1.6" transform="translate(302.9,312.0)rotate(18)"/>
<ellipse class="k1c" rx="8.2" ry="5.3" transform="translate(322.8,344.8)rotate(141)"/>
<ellipse class="k1c" rx="6.9" ry="3.7" transform="translate(288.3,361.7)rotate(54)"/>
<ellipse class="k1b" rx="5.6" ry="4.1" transform="translate(318.8,362.0)rotate(138)"/>
<ellipse class="k1f" rx="8.4" ry="4.7" transform="translate(343.4,372.7)rotate(61)"/>
<ellipse class="k1c" rx="7.2" ry="4.4" transform="translate(295.5,337.8)rotate(178)"/>
<ellipse class="k1f" rx="6.5" ry="5.2" transform="translate(291.3,361.9)rotate(59)"/>
<ellipse class="k1b" rx="7.5" ry="3.5" transform="translate(309.1,338.7)rotate(9)"/>
<ellipse class="k1d" rx="8.4" ry="4.0" transform="translate(305.8,345.5)rotate(137)"/>
<ellipse class="k1b" rx="7.6" ry="3.6" transform="translate(329.8,358.4)rotate(104)"/>
<ellipse class="k1b" rx="5.9" ry="3.9" transform="translate(311.1,343.8)rotate(157)"/>
<ellipse class="k23" rx="5.7" ry="1.6" transform="translate(308.5,358.9)rotate(14)"/>
<ellipse class="k1e" rx="8.0" ry="4.7" transform="translate(330.6,324.2)rotate(5)"/>
<ellipse class="k1f" rx="6.2" ry="4.5" transform="translate(286.8,340.5)rotate(27)"/>
<ellipse class="k1f" rx="7.5" ry="3.6" transform="translate(303.4,333.3)rotate(64)"/>
<ellipse class="k1c" rx="7.5" ry="5.0" transform="translate(281.0,326.8)rotate(134)"/>
<ellipse class="k1d" rx="5.8" ry="3.4" transform="translate(337.6,357.4)rotate(64)"/>
<ellipse class="k1f" rx="5.6" ry="3.8" transform="translate(291.1,336.8)rotate(1)"/>
<ellipse class="k1e" rx="8.0" ry="4.2" transform="translate(300.9,308.2)rotate(92)"/>
<ellipse class="k1c" rx="7.7" ry="3.8" transform="translate(336.3,351.8)rotate(147)"/>
<ellipse class="k1f" rx="7.1" ry="4.9" transform="translate(295.3,317.2)rotate(161)"/>
<ellipse class="k1e" rx="6.6" ry="5.1" transform="translate(340.7,351.6)rotate(100)"/>
<ellipse class="k1d" rx="6.7" ry="4.4" transform="translate(305.8,327.5)rotate(158)"/>
<ellipse class="k20" rx="7.1" ry="5.3" transform="translate(314.2,341.4)rotate(14)"/>
<ellipse class="k1d" rx="6.8" ry="5.3" transform="translate(272.8,329.3)rotate(161)"/>
<ellipse class="k24" rx="4.3" ry="1.8" transform="translate(319.3,344.5)rotate(38)"/>
<ellipse class="k1f" rx="8.3" ry="4.5" transform="translate(304.1,344.2)rotate(2)"/>
<ellipse class="k1f" rx="7.1" ry="5.3" transform="translate(282.7,321.7)rotate(33)"/>
<ellipse class="k1c" rx="7.9" ry="3.6" transform="translate(280.7,307.5)rotate(36)"/>
<ellipse class="k1e" rx="6.5" ry="3.5" transform="translate(291.0,316.6)rotate(1)"/>
<ellipse class="k1d" rx="5.7" ry="3.7" transform="translate(319.2,317.7)rotate(43)"/>
<ellipse class="k1c" rx="6.5" ry="3.3" transform="translate(327.5,352.4)rotate(74)"/>
<ellipse class="k1f" rx="6.6" ry="4.0" transform="translate(283.8,302.8)rotate(27)"/>
<ellipse class="k1c" rx="7.2" ry="3.8" transform="translate(276.2,340.0)rotate(34)"/>
<ellipse class="k1f" rx="6.6" ry="3.6" transform="translate(277.1,336.8)rotate(66)"/>
<ellipse class="k1e" rx="6.1" ry="3.5" transform="translate(341.5,348.9)rotate(36)"/>
<ellipse class="k21" rx="4.1" ry="2.1" transform="translate(298.0,337.5)rotate(42)"/>
<ellipse class="k20" rx="8.3" ry="3.6" transform="translate(301.6,367.9)rotate(69)"/>
<ellipse class="k1c" rx="5.6" ry="3.9" transform="translate(331.5,327.6)rotate(53)"/>
<ellipse class="k1c" rx="6.1" ry="4.1" transform="translate(335.9,367.5)rotate(154)"/>
<ellipse class="k1e" rx="6.3" ry="4.3" transform="translate(345.2,355.1)rotate(16)"/>
<ellipse class="k1f" rx="6.3" ry="3.9" transform="translate(338.7,355.0)rotate(109)"/>
<ellipse class="k1d" rx="6.3" ry="4.0" transform="translate(277.4,334.9)rotate(125)"/>
<ellipse class="k1b" rx="6.3" ry="4.4" transform="translate(307.8,361.5)rotate(43)"/>
<ellipse class="k1f" rx="6.0" ry="4.9" transform="translate(333.1,367.2)rotate(174)"/>
<ellipse class="k1d" rx="6.6" ry="5.2" transform="translate(317.3,356.9)rotate(25)"/>
<ellipse class="k1d" rx="5.7" ry="4.6" transform="translate(284.1,335.7)rotate(86)"/>
<ellipse class="k20" rx="5.9" ry="4.5" transform="translate(267.9,348.3)rotate(148)"/>
<ellipse class="k1c" rx="6.6" ry="4.2" transform="translate(293.4,303.2)rotate(115)"/>
<ellipse class="k20" rx="7.4" ry="4.2" transform="translate(313.8,323.2)rotate(2)"/>
<ellipse class="k1f" rx="6.0" ry="3.8" transform="translate(307.2,317.0)rotate(97)"/>
<ellipse class="k24" rx="4.6" ry="1.8" transform="translate(295.0,326.9)rotate(-9)"/>
<ellipse class="k1d" rx="5.6" ry="4.1" transform="translate(299.0,338.0)rotate(14)"/>
<ellipse class="k1e" rx="6.8" ry="3.9" transform="translate(272.9,332.5)rotate(66)"/>
<ellipse class="k25" rx="4.7" ry="1.6" transform="translate(304.0,350.1)rotate(24)"/>
<ellipse class="k1e" rx="8.0" ry="5.1" transform="translate(325.6,337.1)rotate(32)"/>
<ellipse class="k1c" rx="8.4" ry="4.1" transform="translate(309.1,321.2)rotate(28)"/>
<ellipse class="k26" rx="5.8" ry="2.1" transform="translate(305.3,309.0)rotate(-65)"/>
<ellipse class="k1c" rx="6.3" ry="3.8" transform="translate(315.1,322.3)rotate(121)"/>
<ellipse class="k1b" rx="7.0" ry="4.6" transform="translate(310.7,313.9)rotate(66)"/>
<ellipse class="k1f" rx="6.2" ry="3.5" transform="translate(296.0,308.6)rotate(91)"/>
<ellipse class="k1b" rx="6.7" ry="4.6" transform="translate(344.3,368.4)rotate(67)"/>
<ellipse class="k20" rx="6.9" ry="4.4" transform="translate(300.3,327.0)rotate(48)"/>
<ellipse class="k1e" rx="8.3" ry="3.9" transform="translate(297.6,346.6)rotate(68)"/>
<ellipse class="k20" rx="8.3" ry="4.9" transform="translate(294.3,337.4)rotate(55)"/>
<ellipse class="k20" rx="7.0" ry="3.3" transform="translate(307.6,311.8)rotate(75)"/>
<ellipse class="k1b" rx="6.5" ry="3.4" transform="translate(315.4,315.0)rotate(76)"/>
<ellipse class="k20" rx="7.2" ry="5.1" transform="translate(267.0,331.3)rotate(172)"/>
<ellipse class="k20" rx="7.5" ry="3.6" transform="translate(336.7,354.1)rotate(95)"/>
<ellipse class="k1c" rx="7.3" ry="4.9" transform="translate(300.6,341.5)rotate(138)"/>
<ellipse class="k1d" rx="6.8" ry="4.2" transform="translate(335.4,375.0)rotate(102)"/>
<ellipse class="k1f" rx="7.5" ry="4.2" transform="translate(319.2,356.1)rotate(7)"/>
<ellipse class="k1f" rx="7.2" ry="3.3" transform="translate(314.7,349.3)rotate(178)"/>
<ellipse class="k1e" rx="7.4" ry="4.0" transform="translate(336.5,370.8)rotate(77)"/>
<ellipse class="k1d" rx="6.9" ry="4.0" transform="translate(313.6,325.2)rotate(82)"/>
<ellipse class="k1f" rx="7.6" ry="3.6" transform="translate(329.1,360.4)rotate(95)"/>
<ellipse class="k1e" rx="5.8" ry="3.3" transform="translate(329.2,351.4)rotate(138)"/>
<ellipse class="k1c" rx="8.0" ry="3.4" transform="translate(277.1,322.1)rotate(88)"/>
<ellipse class="k23" rx="4.4" ry="2.1" transform="translate(293.3,342.9)rotate(-55)"/>
<ellipse class="k1c" rx="6.5" ry="3.5" transform="translate(289.0,334.4)rotate(75)"/>
<ellipse class="k1f" rx="6.5" ry="3.8" transform="translate(300.8,331.4)rotate(11)"/>
<ellipse class="k20" rx="6.6" ry="4.2" transform="translate(314.5,330.3)rotate(8)"/>
<ellipse class="k25" rx="4.9" ry="1.9" transform="translate(319.6,362.6)rotate(-67)"/>
<ellipse class="k20" rx="7.0" ry="4.9" transform="translate(315.6,339.3)rotate(150)"/>
<ellipse class="k1f" rx="8.0" ry="4.3" transform="translate(327.9,336.2)rotate(178)"/>
<ellipse class="k26" rx="5.0" ry="1.7" transform="translate(319.0,359.4)rotate(-57)"/>
<ellipse class="k1c" rx="7.0" ry="3.7" transform="translate(270.3,334.7)rotate(69)"/>
<ellipse class="k23" rx="5.9" ry="2.2" transform="translate(311.3,342.4)rotate(39)"/>
<ellipse class="k1f" rx="7.6" ry="4.6" transform="translate(282.9,336.1)rotate(53)"/>
<ellipse class="k1f" rx="6.9" ry="4.8" transform="translate(303.9,318.4)rotate(138)"/>
<ellipse class="k1c" rx="7.6" ry="4.8" transform="translate(310.7,317.8)rotate(25)"/>
<ellipse class="k20" rx="7.2" ry="3.4" transform="translate(330.8,331.2)rotate(132)"/>
<ellipse class="k25" rx="5.0" ry="2.0" transform="translate(344.9,372.7)rotate(-64)"/>
<ellipse class="k1e" rx="7.5" ry="4.7" transform="translate(318.6,358.1)rotate(66)"/>
<ellipse class="k1f" rx="7.6" ry="3.6" transform="translate(278.8,335.2)rotate(178)"/>
<ellipse class="k25" rx="5.3" ry="2.0" transform="translate(343.2,348.8)rotate(-49)"/>
<ellipse class="k24" rx="4.1" ry="2.0" transform="translate(289.4,308.5)rotate(-64)"/>
<ellipse class="k1b" rx="6.9" ry="3.3" transform="translate(320.8,369.8)rotate(111)"/>
<ellipse class="k1f" rx="6.1" ry="3.4" transform="translate(344.3,352.0)rotate(108)"/>
<ellipse class="k20" rx="5.7" ry="4.4" transform="translate(323.7,360.2)rotate(57)"/>
<ellipse class="k1d" rx="7.3" ry="4.1" transform="translate(317.6,363.6)rotate(144)"/>
<ellipse class="k1f" rx="6.6" ry="4.1" transform="translate(308.5,342.3)rotate(161)"/>
<ellipse class="k20" rx="5.9" ry="4.8" transform="translate(271.3,321.6)rotate(151)"/>
<ellipse class="k20" rx="8.0" ry="5.3" transform="translate(280.2,320.8)rotate(101)"/>
<ellipse class="k1c" rx="7.1" ry="3.3" transform="translate(311.0,358.2)rotate(143)"/>
<ellipse class="k1f" rx="5.9" ry="4.3" transform="translate(332.9,359.5)rotate(150)"/>
<ellipse class="k1e" rx="6.1" ry="3.3" transform="translate(288.0,299.8)rotate(173)"/>
<ellipse class="k20" rx="6.3" ry="3.5" transform="translate(321.5,351.8)rotate(3)"/>
<ellipse class="k20" rx="6.4" ry="3.7" transform="translate(318.2,331.6)rotate(77)"/>
<ellipse class="k1f" rx="5.7" ry="4.7" transform="translate(305.8,326.0)rotate(42)"/>
<ellipse class="k1d" rx="8.3" ry="4.4" transform="translate(282.9,306.6)rotate(9)"/>
<ellipse class="k1f" rx="8.1" ry="3.8" transform="translate(294.6,311.2)rotate(65)"/>
<ellipse class="k24" rx="4.5" ry="2.1" transform="translate(288.6,303.6)rotate(-41)"/>
<ellipse class="k1c" rx="7.0" ry="5.3" transform="translate(313.5,360.8)rotate(22)"/>
<ellipse class="k1e" rx="6.0" ry="4.8" transform="translate(323.4,336.3)rotate(170)"/>
<ellipse class="k1d" rx="8.4" ry="3.3" transform="translate(341.5,350.2)rotate(51)"/>
<ellipse class="k1b" rx="7.0" ry="3.4" transform="translate(319.9,348.2)rotate(156)"/>
<ellipse class="k1e" rx="8.0" ry="5.0" transform="translate(328.7,369.9)rotate(145)"/>
<ellipse class="k26" rx="4.9" ry="2.2" transform="translate(279.9,325.0)rotate(-35)"/>
<ellipse class="k1e" rx="7.5" ry="4.7" transform="translate(340.0,346.7)rotate(25)"/>
<ellipse class="k25" rx="5.7" ry="1.9" transform="translate(310.6,354.9)rotate(34)"/>
<ellipse class="k1d" rx="5.6" ry="4.0" transform="translate(318.6,354.1)rotate(17)"/>
<ellipse class="k1f" rx="6.1" ry="3.7" transform="translate(280.1,324.9)rotate(3)"/>
<ellipse class="k20" rx="7.7" ry="4.4" transform="translate(283.1,351.1)rotate(47)"/>
<ellipse class="k1e" rx="6.2" ry="3.5" transform="translate(334.2,366.2)rotate(140)"/>
<ellipse class="k1c" rx="8.0" ry="5.3" transform="translate(285.9,326.7)rotate(109)"/>
<ellipse class="k1f" rx="6.4" ry="5.3" transform="translate(318.3,322.9)rotate(71)"/>
<ellipse class="k22" rx="5.1" ry="1.9" transform="translate(350.6,371.0)rotate(-42)"/>
</g>
<defs><linearGradient id="cg4" gradientUnits="userSpaceOnUse" x1="423" y1="310.5" x2="448" y2="390.5"><stop offset="0" stop-color="#f0ecea"/><stop offset="0.45" stop-color="#e4deda"/><stop offset="1" stop-color="#bdb6b2"/></linearGradient><linearGradient id="sh4" gradientUnits="userSpaceOnUse" x1="433" y1="295.5" x2="408" y2="380.5"><stop offset="0" stop-color="#fff" stop-opacity="0.3"/><stop offset="0.5" stop-color="#888" stop-opacity="0"/><stop offset="1" stop-color="#44484e" stop-opacity="0.7"/></linearGradient><linearGradient id="fi4" gradientUnits="userSpaceOnUse" x1="473" y1="335.5" x2="433" y2="375.5"><stop offset="0" stop-color="#c6b6b2"/><stop offset="1" stop-color="#e8dad6"/></linearGradient><clipPath id="cc4"><path d="M379.9,337.5 L382.3,324.5 L387.2,313.0 L393.8,304.5 L400.0,298.0 L407.7,294.5 L465.3,324.1 L467.2,325.1 L468.8,326.3 L470.4,327.8 L471.9,329.4 L473.2,331.3 L474.3,333.3 L475.3,335.5 L476.1,337.9 L476.8,340.4 L477.2,343.0 L477.5,345.7 L477.6,348.5 L477.5,351.3 L477.2,354.2 L476.7,357.0 L476.1,359.9 L475.3,362.7 L474.3,365.5 L473.1,368.2 L471.8,370.8 L470.3,373.3 L468.8,375.6 L467.1,377.8 L465.2,379.9 L463.3,381.7 L461.4,383.3 L459.3,384.8 L457.2,386.0 L455.1,387.0 L452.9,387.7 L450.8,388.2 L448.7,388.4 L446.6,388.4 L444.5,388.2 L442.6,387.6 L440.7,386.9 L438.8,385.9 L386.2,354.5 L381.8,350.5 L379.9,345.5 Z"/></clipPath><clipPath id="cf4"><ellipse cx="453" cy="355.5" rx="21.9" ry="32.3" transform="rotate(18 453 355.5)"/></clipPath></defs>
<path d="M379.9,337.5 L382.3,324.5 L387.2,313.0 L393.8,304.5 L400.0,298.0 L407.7,294.5 L465.3,324.1 L467.2,325.1 L468.8,326.3 L470.4,327.8 L471.9,329.4 L473.2,331.3 L474.3,333.3 L475.3,335.5 L476.1,337.9 L476.8,340.4 L477.2,343.0 L477.5,345.7 L477.6,348.5 L477.5,351.3 L477.2,354.2 L476.7,357.0 L476.1,359.9 L475.3,362.7 L474.3,365.5 L473.1,368.2 L471.8,370.8 L470.3,373.3 L468.8,375.6 L467.1,377.8 L465.2,379.9 L463.3,381.7 L461.4,383.3 L459.3,384.8 L457.2,386.0 L455.1,387.0 L452.9,387.7 L450.8,388.2 L448.7,388.4 L446.6,388.4 L444.5,388.2 L442.6,387.6 L440.7,386.9 L438.8,385.9 L386.2,354.5 L381.8,350.5 L379.9,345.5 Z" fill="url(#cg4)"/>
<ellipse cx="453" cy="355.5" rx="23.4" ry="33.8" transform="rotate(18 453 355.5)" fill="none" stroke="#d0d2d5" stroke-width="0.5"/>
<g>
<ellipse class="k23" rx="4.0" ry="1.8" transform="translate(389.3,334.1)rotate(41)"/>
<ellipse class="k22" rx="4.0" ry="2.0" transform="translate(438.5,358.8)rotate(-49)"/>
<ellipse class="k21" rx="5.6" ry="1.8" transform="translate(449.0,348.2)rotate(-53)"/>
<ellipse class="k23" rx="5.5" ry="1.9" transform="translate(427.9,342.4)rotate(47)"/>
<ellipse class="k23" rx="4.6" ry="2.0" transform="translate(438.9,344.7)rotate(-11)"/>
<ellipse class="k21" rx="6.0" ry="1.9" transform="translate(412.7,305.7)rotate(-24)"/>
<ellipse class="k26" rx="6.0" ry="1.8" transform="translate(436.4,361.1)rotate(31)"/>
<ellipse class="k23" rx="4.2" ry="2.0" transform="translate(444.5,326.5)rotate(14)"/>
<ellipse class="k22" rx="4.4" ry="2.0" transform="translate(428.4,326.2)rotate(-50)"/>
<ellipse class="k23" rx="4.7" ry="1.7" transform="translate(441.1,336.1)rotate(24)"/>
<ellipse class="k21" rx="5.4" ry="1.7" transform="translate(433.7,332.7)rotate(-8)"/>
<ellipse class="k26" rx="4.5" ry="1.8" transform="translate(400.8,324.9)rotate(-19)"/>
<ellipse class="k26" rx="5.3" ry="2.2" transform="translate(437.4,317.7)rotate(-49)"/>
<ellipse class="k23" rx="4.5" ry="2.0" transform="translate(439.2,357.6)rotate(-18)"/>
<ellipse class="k21" rx="4.9" ry="1.7" transform="translate(417.2,347.5)rotate(-52)"/>
<ellipse class="k21" rx="4.1" ry="2.1" transform="translate(396.4,326.0)rotate(-37)"/>
<ellipse class="k25" rx="4.8" ry="1.8" transform="translate(401.0,327.6)rotate(-43)"/>
<ellipse class="k21" rx="4.5" ry="1.6" transform="translate(425.8,314.0)rotate(-9)"/>
<ellipse class="k25" rx="4.7" ry="2.2" transform="translate(446.2,348.3)rotate(-15)"/>
<ellipse class="k24" rx="5.5" ry="1.8" transform="translate(439.5,334.6)rotate(-7)"/>
<ellipse class="k23" rx="5.4" ry="1.7" transform="translate(403.4,330.8)rotate(-7)"/>
<ellipse class="k25" rx="5.6" ry="1.7" transform="translate(412.8,329.4)rotate(29)"/>
<ellipse class="k25" rx="4.5" ry="1.9" transform="translate(423.0,348.0)rotate(-18)"/>
<ellipse class="k21" rx="5.4" ry="1.8" transform="translate(445.7,332.7)rotate(3)"/>
<ellipse class="k26" rx="4.4" ry="1.6" transform="translate(412.6,347.1)rotate(-67)"/>
<ellipse class="k26" rx="4.1" ry="1.7" transform="translate(450.8,355.7)rotate(23)"/>
<ellipse class="k22" rx="4.4" ry="2.0" transform="translate(428.1,369.1)rotate(-36)"/>
<ellipse class="k26" rx="4.8" ry="2.1" transform="translate(418.9,353.1)rotate(-6)"/>
<ellipse class="k21" rx="5.1" ry="1.9" transform="translate(460.2,366.3)rotate(-62)"/>
<ellipse class="k22" rx="4.6" ry="2.0" transform="translate(420.8,325.7)rotate(36)"/>
<ellipse class="k26" rx="5.1" ry="2.1" transform="translate(409.0,321.9)rotate(-67)"/>
<ellipse class="k21" rx="5.3" ry="1.7" transform="translate(435.7,331.0)rotate(30)"/>
<ellipse class="k23" rx="4.6" ry="2.1" transform="translate(418.9,345.5)rotate(8)"/>
<ellipse class="k22" rx="4.1" ry="1.7" transform="translate(445.5,368.6)rotate(43)"/>
<ellipse class="k22" rx="5.8" ry="2.1" transform="translate(444.7,371.3)rotate(21)"/>
<ellipse class="k24" rx="5.3" ry="1.6" transform="translate(399.5,323.8)rotate(-39)"/>
<ellipse class="k26" rx="5.4" ry="1.9" transform="translate(435.9,360.6)rotate(35)"/>
<ellipse class="k21" rx="5.7" ry="1.8" transform="translate(395.0,319.8)rotate(-11)"/>
<ellipse class="k22" rx="4.9" ry="1.7" transform="translate(437.1,317.4)rotate(-0)"/>
<ellipse class="k25" rx="5.3" ry="1.8" transform="translate(391.9,316.0)rotate(14)"/>
<ellipse class="k23" rx="5.5" ry="2.0" transform="translate(414.6,323.2)rotate(-47)"/>
<ellipse class="k25" rx="4.3" ry="1.8" transform="translate(420.5,330.5)rotate(-25)"/>
<ellipse class="k26" rx="5.3" ry="1.7" transform="translate(410.6,326.6)rotate(24)"/>
<ellipse class="k22" rx="5.8" ry="2.0" transform="translate(403.4,308.6)rotate(31)"/>
<ellipse class="k23" rx="5.1" ry="1.8" transform="translate(418.5,349.0)rotate(-27)"/>
<ellipse class="k21" rx="4.6" ry="2.2" transform="translate(435.0,363.8)rotate(-28)"/>
<ellipse class="k25" rx="5.6" ry="1.9" transform="translate(401.3,343.4)rotate(24)"/>
<ellipse class="k26" rx="4.6" ry="1.6" transform="translate(440.0,328.0)rotate(-67)"/>
<ellipse class="k21" rx="5.4" ry="1.7" transform="translate(426.3,320.3)rotate(-36)"/>
<ellipse class="k24" rx="4.1" ry="2.2" transform="translate(442.8,342.7)rotate(43)"/>
<ellipse class="k22" rx="5.9" ry="1.8" transform="translate(450.7,349.8)rotate(50)"/>
<ellipse class="k23" rx="4.7" ry="1.8" transform="translate(409.4,314.8)rotate(-26)"/>
<ellipse class="k23" rx="5.1" ry="2.2" transform="translate(447.5,328.9)rotate(-5)"/>
<ellipse class="k24" rx="5.8" ry="1.8" transform="translate(420.8,350.7)rotate(11)"/>
<ellipse class="k26" rx="5.9" ry="2.0" transform="translate(447.8,363.3)rotate(-30)"/>
<ellipse class="k26" rx="4.8" ry="2.0" transform="translate(428.6,341.1)rotate(-67)"/>
<ellipse class="k24" rx="4.3" ry="1.6" transform="translate(424.1,317.8)rotate(4)"/>
<ellipse class="k22" rx="4.6" ry="2.1" transform="translate(398.1,335.8)rotate(-63)"/>
<ellipse class="k23" rx="5.9" ry="1.7" transform="translate(388.9,344.1)rotate(-60)"/>
<ellipse class="k24" rx="5.2" ry="1.9" transform="translate(395.3,320.3)rotate(-61)"/>
<ellipse class="k22" rx="4.8" ry="1.8" transform="translate(461.2,373.2)rotate(30)"/>
<ellipse class="k22" rx="4.2" ry="2.1" transform="translate(414.7,313.1)rotate(46)"/>
<ellipse class="k25" rx="4.9" ry="1.8" transform="translate(442.3,372.1)rotate(6)"/>
<ellipse class="k21" rx="5.9" ry="1.9" transform="translate(437.4,351.6)rotate(-44)"/>
<ellipse class="k22" rx="4.1" ry="1.9" transform="translate(440.4,326.3)rotate(3)"/>
<ellipse class="k22" rx="5.1" ry="1.9" transform="translate(433.3,342.2)rotate(-38)"/>
<ellipse class="k21" rx="5.0" ry="1.8" transform="translate(420.6,327.8)rotate(6)"/>
<ellipse class="k23" rx="4.7" ry="1.7" transform="translate(438.5,365.5)rotate(5)"/>
<ellipse class="k25" rx="4.8" ry="1.7" transform="translate(411.2,322.6)rotate(-1)"/>
<ellipse class="k22" rx="4.9" ry="2.2" transform="translate(420.3,321.2)rotate(-60)"/>
<ellipse class="k23" rx="4.2" ry="1.9" transform="translate(424.5,354.2)rotate(5)"/>
<ellipse class="k24" rx="5.8" ry="1.9" transform="translate(451.0,336.6)rotate(-59)"/>
<ellipse class="k22" rx="5.2" ry="1.9" transform="translate(455.7,353.0)rotate(-23)"/>
<ellipse class="k25" rx="4.2" ry="1.6" transform="translate(417.1,361.4)rotate(41)"/>
<ellipse class="k24" rx="5.9" ry="1.5" transform="translate(417.1,325.4)rotate(-12)"/>
<ellipse class="k22" rx="4.0" ry="1.9" transform="translate(436.1,334.2)rotate(-62)"/>
<ellipse class="k22" rx="5.0" ry="2.0" transform="translate(390.8,340.8)rotate(-23)"/>
<ellipse class="k24" rx="4.9" ry="2.2" transform="translate(420.3,359.0)rotate(-48)"/>
<ellipse class="k22" rx="5.1" ry="1.5" transform="translate(394.8,344.5)rotate(-47)"/>
<ellipse class="k23" rx="5.6" ry="2.1" transform="translate(437.1,344.1)rotate(-44)"/>
<ellipse class="k24" rx="4.5" ry="2.2" transform="translate(408.1,349.7)rotate(-22)"/>
<ellipse class="k26" rx="4.2" ry="2.1" transform="translate(425.7,316.1)rotate(45)"/>
<ellipse class="k25" rx="5.7" ry="1.8" transform="translate(415.5,326.5)rotate(-69)"/>
<ellipse class="k26" rx="5.8" ry="1.8" transform="translate(438.3,322.4)rotate(26)"/>
<ellipse class="k24" rx="4.3" ry="2.1" transform="translate(412.4,364.5)rotate(28)"/>
<ellipse class="k26" rx="5.0" ry="2.1" transform="translate(419.9,319.8)rotate(2)"/>
<ellipse class="k21" rx="5.6" ry="2.1" transform="translate(446.6,363.3)rotate(-15)"/>
<ellipse class="k25" rx="5.0" ry="1.7" transform="translate(413.8,342.6)rotate(16)"/>
<ellipse class="k24" rx="4.8" ry="1.7" transform="translate(445.3,337.0)rotate(-5)"/>
<ellipse class="k21" rx="5.0" ry="2.1" transform="translate(414.9,348.9)rotate(17)"/>
<ellipse class="k25" rx="4.6" ry="1.9" transform="translate(436.0,378.1)rotate(20)"/>
<ellipse class="k22" rx="6.0" ry="1.6" transform="translate(406.4,321.2)rotate(5)"/>
<ellipse class="k22" rx="4.1" ry="1.8" transform="translate(402.9,346.8)rotate(-15)"/>
<ellipse class="k22" rx="5.0" ry="2.2" transform="translate(430.5,350.0)rotate(-63)"/>
<ellipse class="k21" rx="4.6" ry="1.9" transform="translate(395.8,336.1)rotate(2)"/>
<ellipse class="k25" rx="5.9" ry="1.9" transform="translate(434.7,348.2)rotate(40)"/>
<ellipse class="k26" rx="4.4" ry="2.2" transform="translate(438.7,380.1)rotate(45)"/>
<ellipse class="k25" rx="4.5" ry="1.9" transform="translate(442.0,332.2)rotate(-63)"/>
<ellipse class="k21" rx="4.8" ry="1.6" transform="translate(454.6,360.9)rotate(-7)"/>
<ellipse class="k26" rx="4.7" ry="1.7" transform="translate(429.8,334.8)rotate(-45)"/>
<ellipse class="k24" rx="4.9" ry="2.1" transform="translate(398.2,310.1)rotate(-13)"/>
<ellipse class="k24" rx="4.5" ry="2.0" transform="translate(435.4,316.3)rotate(-45)"/>
<ellipse class="k24" rx="4.4" ry="2.1" transform="translate(415.5,312.6)rotate(12)"/>
<ellipse class="k22" rx="5.7" ry="2.1" transform="translate(395.8,321.9)rotate(-68)"/>
<ellipse class="k22" rx="4.8" ry="1.5" transform="translate(412.1,303.9)rotate(3)"/>
<ellipse class="k22" rx="4.2" ry="1.6" transform="translate(410.7,320.6)rotate(-32)"/>
<ellipse class="k25" rx="5.0" ry="2.1" transform="translate(452.9,342.7)rotate(50)"/>
<ellipse class="k24" rx="4.6" ry="2.0" transform="translate(451.4,355.7)rotate(-5)"/>
<ellipse class="k25" rx="4.8" ry="2.1" transform="translate(426.0,342.5)rotate(-49)"/>
<ellipse class="k26" rx="5.3" ry="2.0" transform="translate(412.0,322.6)rotate(-19)"/>
<ellipse class="k23" rx="5.5" ry="1.8" transform="translate(439.5,340.2)rotate(49)"/>
<ellipse class="k24" rx="5.9" ry="1.7" transform="translate(458.9,377.1)rotate(25)"/>
<ellipse class="k23" rx="4.7" ry="1.8" transform="translate(449.4,346.4)rotate(-43)"/>
<ellipse class="k25" rx="5.8" ry="2.0" transform="translate(390.6,321.7)rotate(16)"/>
<ellipse class="k25" rx="4.2" ry="1.8" transform="translate(410.4,334.0)rotate(-24)"/>
<ellipse class="k25" rx="4.6" ry="1.8" transform="translate(386.2,339.7)rotate(20)"/>
<ellipse class="k26" rx="4.1" ry="2.0" transform="translate(450.7,362.9)rotate(40)"/>
<ellipse class="k22" rx="4.9" ry="1.6" transform="translate(397.6,326.0)rotate(-64)"/>
<ellipse class="k21" rx="4.5" ry="1.7" transform="translate(446.2,350.8)rotate(-0)"/>
<ellipse class="k23" rx="4.2" ry="2.0" transform="translate(448.4,335.8)rotate(-9)"/>
<ellipse class="k22" rx="5.1" ry="1.9" transform="translate(449.6,342.5)rotate(-14)"/>
<ellipse class="k24" rx="5.7" ry="1.7" transform="translate(439.8,377.0)rotate(-24)"/>
<ellipse class="k25" rx="5.9" ry="1.5" transform="translate(441.4,352.6)rotate(2)"/>
<ellipse class="k22" rx="5.6" ry="1.7" transform="translate(442.4,357.7)rotate(18)"/>
<ellipse class="k23" rx="4.1" ry="1.9" transform="translate(437.2,355.0)rotate(44)"/>
<ellipse class="k25" rx="5.0" ry="1.9" transform="translate(433.0,360.8)rotate(-23)"/>
<ellipse class="k24" rx="4.7" ry="1.8" transform="translate(404.5,319.7)rotate(36)"/>
<ellipse class="k26" rx="4.2" ry="1.7" transform="translate(457.2,369.5)rotate(-13)"/>
<ellipse class="k21" rx="5.6" ry="2.0" transform="translate(450.7,382.3)rotate(-19)"/>
<ellipse class="k22" rx="5.5" ry="2.2" transform="translate(448.3,338.3)rotate(37)"/>
<ellipse class="k21" rx="5.6" ry="2.0" transform="translate(446.3,368.7)rotate(49)"/>
<ellipse class="k24" rx="4.1" ry="2.2" transform="translate(451.3,370.8)rotate(-29)"/>
<ellipse class="k22" rx="5.0" ry="2.2" transform="translate(412.3,361.7)rotate(-11)"/>
<ellipse class="k25" rx="4.9" ry="1.8" transform="translate(419.9,343.2)rotate(-42)"/>
<ellipse class="k26" rx="5.0" ry="2.1" transform="translate(436.4,331.6)rotate(-66)"/>
<ellipse class="k25" rx="4.7" ry="1.8" transform="translate(393.3,313.8)rotate(-56)"/>
<ellipse class="k24" rx="4.1" ry="1.8" transform="translate(434.9,331.1)rotate(-19)"/>
<ellipse class="k26" rx="6.0" ry="1.8" transform="translate(423.1,345.3)rotate(-63)"/>
<ellipse class="k22" rx="5.9" ry="1.8" transform="translate(416.0,334.0)rotate(36)"/>
<ellipse class="k22" rx="5.7" ry="1.6" transform="translate(441.0,357.9)rotate(-5)"/>
<ellipse class="k21" rx="5.9" ry="1.8" transform="translate(435.6,378.3)rotate(-16)"/>
<ellipse class="k26" rx="4.1" ry="2.0" transform="translate(389.6,327.6)rotate(-22)"/>
<ellipse class="k26" rx="5.9" ry="1.9" transform="translate(410.9,360.7)rotate(-40)"/>
<ellipse class="k24" rx="5.2" ry="1.9" transform="translate(451.0,343.4)rotate(-56)"/>
<ellipse class="k21" rx="5.1" ry="2.2" transform="translate(415.1,348.1)rotate(-67)"/>
<ellipse class="k24" rx="5.8" ry="1.8" transform="translate(423.6,322.8)rotate(21)"/>
<ellipse class="k22" rx="4.7" ry="1.8" transform="translate(440.1,353.6)rotate(15)"/>
<ellipse class="k21" rx="4.6" ry="1.9" transform="translate(409.9,321.8)rotate(-28)"/>
<ellipse class="k24" rx="5.0" ry="1.9" transform="translate(454.2,364.4)rotate(-40)"/>
<ellipse class="k23" rx="5.0" ry="1.8" transform="translate(430.7,330.4)rotate(16)"/>
<ellipse class="k22" rx="5.1" ry="2.1" transform="translate(428.2,318.6)rotate(-52)"/>
<ellipse class="k25" rx="4.4" ry="2.0" transform="translate(394.4,330.0)rotate(41)"/>
<ellipse class="k24" rx="4.8" ry="1.9" transform="translate(430.9,341.1)rotate(-10)"/>
<ellipse class="k25" rx="4.9" ry="2.0" transform="translate(407.3,317.9)rotate(-42)"/>
<ellipse class="k22" rx="4.7" ry="2.1" transform="translate(426.3,336.9)rotate(-4)"/>
<ellipse class="k24" rx="4.9" ry="1.9" transform="translate(392.9,336.9)rotate(-41)"/>
<ellipse class="k26" rx="5.3" ry="2.0" transform="translate(430.4,323.0)rotate(31)"/>
<ellipse class="k23" rx="4.5" ry="1.8" transform="translate(426.0,329.2)rotate(-7)"/>
<ellipse class="k26" rx="4.1" ry="1.7" transform="translate(415.3,321.0)rotate(-56)"/>
<ellipse class="k26" rx="4.1" ry="1.8" transform="translate(435.9,335.4)rotate(14)"/>
<ellipse class="k21" rx="4.1" ry="1.8" transform="translate(461.9,378.0)rotate(-34)"/>
<ellipse class="k26" rx="5.5" ry="1.6" transform="translate(427.8,328.6)rotate(19)"/>
<ellipse class="k26" rx="4.5" ry="1.6" transform="translate(410.2,336.3)rotate(-6)"/>
<ellipse class="k26" rx="5.2" ry="1.9" transform="translate(416.1,364.6)rotate(-24)"/>
<ellipse class="k22" rx="4.2" ry="2.1" transform="translate(451.3,325.8)rotate(18)"/>
<ellipse class="k24" rx="4.4" ry="1.9" transform="translate(443.1,339.1)rotate(43)"/>
<ellipse class="k24" rx="4.4" ry="1.9" transform="translate(407.9,316.2)rotate(-69)"/>
<ellipse class="k23" rx="5.5" ry="1.9" transform="translate(426.3,361.8)rotate(-34)"/>
<ellipse class="k23" rx="4.2" ry="1.7" transform="translate(429.3,332.9)rotate(32)"/>
<ellipse class="k21" rx="4.7" ry="1.9" transform="translate(398.5,333.3)rotate(-64)"/>
<ellipse class="k25" rx="4.5" ry="1.8" transform="translate(446.3,368.3)rotate(-38)"/>
<ellipse class="k23" rx="4.6" ry="1.5" transform="translate(408.8,317.8)rotate(-12)"/>
<ellipse class="k22" rx="5.4" ry="1.7" transform="translate(430.4,314.1)rotate(7)"/>
<ellipse class="k21" rx="4.7" ry="1.7" transform="translate(413.2,340.8)rotate(-61)"/>
<ellipse class="k21" rx="5.6" ry="1.9" transform="translate(442.3,343.5)rotate(-8)"/>
</g>
<defs><linearGradient id="cg5" gradientUnits="userSpaceOnUse" x1="64" y1="408" x2="89" y2="488"><stop offset="0" stop-color="#eaedf1"/><stop offset="0.5" stop-color="#dde1e7"/><stop offset="1" stop-color="#b4b8be"/></linearGradient><linearGradient id="sh5" gradientUnits="userSpaceOnUse" x1="74" y1="393" x2="49" y2="478"><stop offset="0" stop-color="#fff" stop-opacity="0.3"/><stop offset="0.5" stop-color="#888" stop-opacity="0"/><stop offset="1" stop-color="#44484e" stop-opacity="0.7"/></linearGradient><linearGradient id="fi5" gradientUnits="userSpaceOnUse" x1="114" y1="433" x2="74" y2="473"><stop offset="0" stop-color="#c4c8ce"/><stop offset="1" stop-color="#e4e7ea"/></linearGradient><clipPath id="cc5"><path d="M19.5,435.0 L22.0,422.0 L27.0,410.5 L33.7,402.0 L40.0,395.5 L47.9,392.0 L106.3,421.6 L108.2,422.6 L109.8,423.8 L111.4,425.3 L112.9,426.9 L114.2,428.8 L115.3,430.8 L116.3,433.0 L117.1,435.4 L117.8,437.9 L118.2,440.5 L118.5,443.2 L118.6,446.0 L118.5,448.8 L118.2,451.7 L117.7,454.5 L117.1,457.4 L116.3,460.2 L115.3,463.0 L114.1,465.7 L112.8,468.3 L111.3,470.8 L109.8,473.1 L108.1,475.3 L106.2,477.4 L104.3,479.2 L102.4,480.8 L100.3,482.3 L98.2,483.5 L96.1,484.5 L93.9,485.2 L91.8,485.7 L89.7,485.9 L87.6,485.9 L85.5,485.7 L83.6,485.1 L81.7,484.4 L79.8,483.4 L26.0,452.0 L21.5,448.0 L19.5,443.0 Z"/></clipPath><clipPath id="cf5"><ellipse cx="94" cy="453" rx="21.9" ry="32.3" transform="rotate(18 94 453)"/></clipPath></defs>
<path d="M19.5,435.0 L22.0,422.0 L27.0,410.5 L33.7,402.0 L40.0,395.5 L47.9,392.0 L106.3,421.6 L108.2,422.6 L109.8,423.8 L111.4,425.3 L112.9,426.9 L114.2,428.8 L115.3,430.8 L116.3,433.0 L117.1,435.4 L117.8,437.9 L118.2,440.5 L118.5,443.2 L118.6,446.0 L118.5,448.8 L118.2,451.7 L117.7,454.5 L117.1,457.4 L116.3,460.2 L115.3,463.0 L114.1,465.7 L112.8,468.3 L111.3,470.8 L109.8,473.1 L108.1,475.3 L106.2,477.4 L104.3,479.2 L102.4,480.8 L100.3,482.3 L98.2,483.5 L96.1,484.5 L93.9,485.2 L91.8,485.7 L89.7,485.9 L87.6,485.9 L85.5,485.7 L83.6,485.1 L81.7,484.4 L79.8,483.4 L26.0,452.0 L21.5,448.0 L19.5,443.0 Z" fill="url(#cg5)"/>
<g clip-path="url(#cc5)"><g filter="url(#bl)">
<path d="M50.6,461.9 L47.3,460.7 L44.2,458.6 L41.6,455.6 L39.4,452.0 L37.8,447.7 L36.7,442.9 L36.3,437.8 L36.6,432.5 L37.5,427.2 L38.9,422.1 L41.0,417.2 L43.5,412.7 L46.5,408.9 L49.8,405.7 L53.3,403.3 L57.0,401.8 L60.7,401.2 L64.2,401.5" fill="none" stroke="#ecd0c4" stroke-width="2.1" stroke-opacity="0.8"/>
<path d="M47.0,459.3 L43.7,458.2 L40.7,456.1 L38.0,453.2 L35.8,449.6 L34.2,445.4 L33.2,440.7 L32.7,435.7 L32.9,430.4 L33.7,425.2 L35.1,420.0 L37.1,415.2 L39.6,410.8 L42.5,406.9 L45.7,403.7 L49.1,401.3 L52.7,399.8 L56.3,399.2 L59.8,399.4" fill="none" stroke="#c6d3e4" stroke-width="4.5" stroke-opacity="0.8"/>
<path d="M46.8,459.2 L43.5,458.0 L40.5,456.0 L37.8,453.1 L35.7,449.5 L34.0,445.3 L33.0,440.6 L32.5,435.6 L32.7,430.3 L33.5,425.1 L34.9,419.9 L36.9,415.1 L39.4,410.7 L42.3,406.8 L45.5,403.6 L48.9,401.2 L52.5,399.7 L56.1,399.1 L59.6,399.3" fill="none" stroke="#e9c6b8" stroke-width="4.3" stroke-opacity="0.8"/>
<path d="M75.3,479.4 L71.7,477.7 L68.5,475.2 L65.8,471.9 L63.6,467.8 L62.1,463.1 L61.3,457.9 L61.2,452.4 L61.8,446.8 L63.1,441.2 L65.1,435.8 L67.7,430.7 L70.8,426.2 L74.3,422.3 L78.1,419.2 L82.2,417.0 L86.3,415.7 L90.4,415.3 L94.3,416.0" fill="none" stroke="#e9c6b8" stroke-width="3.2" stroke-opacity="0.8"/>
<path d="M36.9,452.2 L33.7,451.1 L30.7,449.2 L28.2,446.5 L26.0,443.1 L24.3,439.1 L23.2,434.5 L22.7,429.6 L22.7,424.6 L23.4,419.4 L24.6,414.4 L26.4,409.6 L28.6,405.3 L31.3,401.4 L34.3,398.3 L37.5,395.8 L40.9,394.2 L44.4,393.5 L47.7,393.7" fill="none" stroke="#c6d3e4" stroke-width="3.7" stroke-opacity="0.8"/>
<path d="M47.4,459.6 L44.1,458.5 L41.1,456.4 L38.4,453.5 L36.3,449.9 L34.6,445.7 L33.6,441.0 L33.1,435.9 L33.3,430.7 L34.2,425.4 L35.6,420.3 L37.6,415.4 L40.0,411.0 L42.9,407.1 L46.2,404.0 L49.6,401.6 L53.2,400.0 L56.8,399.4 L60.4,399.7" fill="none" stroke="#d2dcea" stroke-width="2.1" stroke-opacity="0.8"/>
<path d="M56.9,466.3 L53.5,465.0 L50.4,462.8 L47.7,459.8 L45.5,456.0 L43.9,451.6 L42.9,446.7 L42.6,441.5 L42.9,436.2 L43.9,430.8 L45.5,425.5 L47.7,420.6 L50.4,416.1 L53.5,412.3 L56.9,409.1 L60.6,406.8 L64.4,405.3 L68.1,404.8 L71.8,405.2" fill="none" stroke="#c6d3e4" stroke-width="4.4" stroke-opacity="0.8"/>
<path d="M66.9,473.4 L63.3,471.9 L60.2,469.5 L57.4,466.3 L55.3,462.4 L53.7,457.8 L52.8,452.8 L52.6,447.4 L53.1,441.9 L54.3,436.4 L56.1,431.1 L58.5,426.1 L61.4,421.6 L64.7,417.7 L68.3,414.6 L72.2,412.3 L76.2,410.9 L80.1,410.4 L83.9,411.0" fill="none" stroke="#d2dcea" stroke-width="2.0" stroke-opacity="0.8"/>
<path d="M63.4,471.0 L59.9,469.5 L56.8,467.2 L54.1,464.0 L51.9,460.2 L50.3,455.7 L49.4,450.7 L49.2,445.4 L49.6,439.9 L50.7,434.5 L52.4,429.2 L54.7,424.2 L57.6,419.7 L60.8,415.8 L64.4,412.7 L68.2,410.4 L72.1,409.0 L76.0,408.5 L79.7,409.0" fill="none" stroke="#e9c6b8" stroke-width="4.2" stroke-opacity="0.8"/>
<path d="M55.0,465.0 L51.6,463.7 L48.5,461.5 L45.8,458.5 L43.6,454.7 L42.0,450.4 L41.0,445.6 L40.7,440.4 L41.0,435.0 L41.9,429.7 L43.5,424.5 L45.6,419.6 L48.3,415.1 L51.3,411.2 L54.7,408.1 L58.3,405.7 L62.1,404.2 L65.8,403.7 L69.5,404.0" fill="none" stroke="#e9c6b8" stroke-width="4.2" stroke-opacity="0.8"/>
<path d="M82.5,484.4 L78.8,482.6 L75.5,480.0 L72.7,476.5 L70.6,472.3 L69.2,467.4 L68.4,462.2 L68.4,456.6 L69.1,450.8 L70.6,445.2 L72.7,439.7 L75.5,434.6 L78.7,430.1 L82.4,426.2 L86.4,423.1 L90.6,420.9 L94.9,419.7 L99.1,419.4 L103.1,420.2" fill="none" stroke="#e4bcae" stroke-width="2.8" stroke-opacity="0.8"/>
<path d="M51.0,462.2 L47.6,460.9 L44.6,458.8 L41.9,455.9 L39.7,452.2 L38.1,447.9 L37.1,443.1 L36.7,438.0 L36.9,432.7 L37.8,427.4 L39.3,422.3 L41.4,417.4 L43.9,412.9 L46.9,409.1 L50.2,405.9 L53.7,403.5 L57.4,402.0 L61.1,401.4 L64.7,401.7" fill="none" stroke="#c6d3e4" stroke-width="3.7" stroke-opacity="0.8"/>
<path d="M77.0,480.5 L73.3,478.9 L70.1,476.3 L67.4,472.9 L65.2,468.8 L63.7,464.1 L62.9,458.9 L62.8,453.4 L63.5,447.7 L64.8,442.1 L66.8,436.7 L69.5,431.6 L72.6,427.1 L76.2,423.2 L80.0,420.1 L84.1,417.9 L88.3,416.6 L92.4,416.3 L96.3,416.9" fill="none" stroke="#c6d3e4" stroke-width="4.0" stroke-opacity="0.8"/>
<path d="M43.0,456.5 L39.7,455.4 L36.7,453.4 L34.1,450.5 L31.9,447.0 L30.3,442.9 L29.2,438.2 L28.7,433.3 L28.8,428.1 L29.6,422.9 L30.9,417.8 L32.8,413.0 L35.2,408.6 L38.0,404.7 L41.1,401.6 L44.5,399.1 L48.0,397.6 L51.5,396.9 L55.0,397.1" fill="none" stroke="#d2dcea" stroke-width="4.6" stroke-opacity="0.8"/>
<path d="M66.3,473.0 L62.8,471.5 L59.6,469.1 L56.9,465.9 L54.7,462.0 L53.2,457.5 L52.3,452.4 L52.0,447.1 L52.5,441.6 L53.7,436.1 L55.5,430.8 L57.8,425.8 L60.7,421.3 L64.1,417.4 L67.7,414.3 L71.6,412.0 L75.5,410.6 L79.4,410.1 L83.2,410.6" fill="none" stroke="#c6d3e4" stroke-width="3.8" stroke-opacity="0.8"/>
<path d="M52.3,463.1 L48.9,461.8 L45.8,459.7 L43.2,456.7 L41.0,453.0 L39.4,448.7 L38.4,443.9 L38.0,438.8 L38.2,433.5 L39.1,428.2 L40.7,423.0 L42.7,418.1 L45.3,413.6 L48.3,409.8 L51.7,406.6 L55.2,404.2 L58.9,402.7 L62.6,402.1 L66.2,402.5" fill="none" stroke="#e4bcae" stroke-width="4.4" stroke-opacity="0.8"/>
<path d="M64.9,472.0 L61.4,470.5 L58.2,468.2 L55.5,465.0 L53.3,461.1 L51.8,456.6 L50.9,451.6 L50.6,446.3 L51.1,440.8 L52.2,435.3 L54.0,430.0 L56.3,425.0 L59.2,420.5 L62.5,416.6 L66.1,413.5 L69.9,411.2 L73.8,409.8 L77.8,409.3 L81.5,409.8" fill="none" stroke="#d2dcea" stroke-width="2.5" stroke-opacity="0.8"/>
<path d="M56.1,465.7 L52.6,464.4 L49.5,462.2 L46.9,459.2 L44.7,455.4 L43.1,451.1 L42.1,446.2 L41.8,441.0 L42.1,435.7 L43.1,430.3 L44.6,425.1 L46.8,420.2 L49.5,415.7 L52.6,411.8 L56.0,408.7 L59.6,406.3 L63.4,404.8 L67.1,404.3 L70.8,404.7" fill="none" stroke="#d2dcea" stroke-width="3.9" stroke-opacity="0.8"/>
<path d="M74.5,478.8 L70.9,477.2 L67.7,474.7 L65.0,471.3 L62.8,467.3 L61.3,462.6 L60.5,457.4 L60.4,451.9 L61.0,446.3 L62.3,440.7 L64.2,435.3 L66.8,430.3 L69.9,425.8 L73.4,421.9 L77.2,418.8 L81.3,416.5 L85.4,415.2 L89.4,414.9 L93.3,415.5" fill="none" stroke="#e9c6b8" stroke-width="3.0" stroke-opacity="0.8"/>
<path d="M52.9,463.5 L49.5,462.2 L46.4,460.1 L43.8,457.1 L41.6,453.4 L40.0,449.1 L39.0,444.3 L38.6,439.2 L38.9,433.9 L39.8,428.5 L41.3,423.3 L43.4,418.4 L46.0,414.0 L49.0,410.1 L52.4,406.9 L55.9,404.6 L59.6,403.1 L63.4,402.5 L67.0,402.8" fill="none" stroke="#e9c6b8" stroke-width="2.8" stroke-opacity="0.8"/>
<path d="M76.1,479.9 L72.5,478.3 L69.3,475.8 L66.5,472.4 L64.4,468.3 L62.9,463.6 L62.1,458.4 L62.0,452.9 L62.6,447.2 L64.0,441.6 L65.9,436.2 L68.5,431.2 L71.7,426.6 L75.2,422.7 L79.1,419.6 L83.1,417.4 L87.3,416.1 L91.4,415.8 L95.3,416.4" fill="none" stroke="#c6d3e4" stroke-width="2.9" stroke-opacity="0.8"/>
<path d="M74.5,478.7 L70.8,477.1 L67.6,474.6 L64.9,471.3 L62.7,467.2 L61.2,462.5 L60.4,457.4 L60.3,451.9 L60.9,446.3 L62.2,440.7 L64.2,435.3 L66.7,430.2 L69.8,425.7 L73.3,421.8 L77.1,418.7 L81.2,416.5 L85.3,415.2 L89.3,414.8 L93.2,415.5" fill="none" stroke="#e4bcae" stroke-width="3.4" stroke-opacity="0.8"/>
<path d="M72.0,477.0 L68.4,475.5 L65.2,473.0 L62.5,469.7 L60.3,465.7 L58.8,461.0 L58.0,455.9 L57.8,450.4 L58.4,444.9 L59.6,439.3 L61.5,433.9 L64.1,428.9 L67.1,424.4 L70.5,420.5 L74.3,417.4 L78.3,415.1 L82.3,413.8 L86.4,413.4 L90.2,414.0" fill="none" stroke="#c6d3e4" stroke-width="2.4" stroke-opacity="0.8"/>
<path d="M39.5,454.0 L36.3,452.9 L33.3,451.0 L30.7,448.2 L28.5,444.8 L26.9,440.7 L25.8,436.1 L25.2,431.2 L25.3,426.1 L26.0,420.9 L27.3,415.8 L29.1,411.1 L31.4,406.7 L34.2,402.8 L37.2,399.7 L40.5,397.3 L44.0,395.7 L47.4,395.0 L50.8,395.1" fill="none" stroke="#d2dcea" stroke-width="4.2" stroke-opacity="0.8"/>
<path d="M46.7,459.1 L43.4,457.9 L40.3,455.9 L37.7,453.0 L35.5,449.4 L33.9,445.2 L32.8,440.5 L32.4,435.5 L32.6,430.2 L33.4,425.0 L34.8,419.8 L36.8,415.0 L39.2,410.6 L42.1,406.7 L45.3,403.6 L48.8,401.2 L52.3,399.6 L55.9,399.0 L59.4,399.3" fill="none" stroke="#d2dcea" stroke-width="3.7" stroke-opacity="0.8"/>
<path d="M45.7,458.4 L42.4,457.3 L39.4,455.2 L36.8,452.4 L34.6,448.8 L32.9,444.6 L31.9,439.9 L31.4,434.9 L31.6,429.7 L32.4,424.4 L33.8,419.3 L35.7,414.5 L38.2,410.1 L41.0,406.2 L44.2,403.0 L47.7,400.6 L51.2,399.1 L54.8,398.4 L58.3,398.7" fill="none" stroke="#e4bcae" stroke-width="3.3" stroke-opacity="0.8"/>
<ellipse class="k27" rx="4.5" ry="2.2" transform="translate(81.7,417.8)rotate(70)"/>
<ellipse class="k27" rx="6.3" ry="4.0" transform="translate(67.2,428.0)rotate(70)"/>
<ellipse class="k27" rx="6.9" ry="2.2" transform="translate(89.6,396.6)rotate(70)"/>
<ellipse class="k27" rx="5.4" ry="2.7" transform="translate(47.7,413.9)rotate(70)"/>
<ellipse class="k27" rx="5.0" ry="3.3" transform="translate(73.1,466.8)rotate(70)"/>
<ellipse class="k28" rx="4.4" ry="3.0" transform="translate(39.2,458.4)rotate(70)"/>
<ellipse class="k28" rx="6.4" ry="2.4" transform="translate(96.6,455.4)rotate(70)"/>
<ellipse class="k28" rx="6.3" ry="3.1" transform="translate(91.7,431.4)rotate(70)"/>
<ellipse class="k29" rx="6.2" ry="2.3" transform="translate(52.2,412.1)rotate(70)"/>
<ellipse class="k29" rx="5.9" ry="3.4" transform="translate(26.3,465.2)rotate(70)"/>
<ellipse class="k29" rx="6.1" ry="2.3" transform="translate(51.6,468.3)rotate(70)"/>
<ellipse class="k28" rx="5.8" ry="3.0" transform="translate(51.6,455.9)rotate(70)"/>
<ellipse class="k2a" rx="5.1" ry="3.5" transform="translate(57.7,403.2)rotate(70)"/>
<ellipse class="k2b" rx="5.9" ry="2.6" transform="translate(91.7,401.7)rotate(70)"/>
</g>
<path d="M19.5,435.0 L22.0,422.0 L27.0,410.5 L33.7,402.0 L40.0,395.5 L47.9,392.0 L106.3,421.6 L108.2,422.6 L109.8,423.8 L111.4,425.3 L112.9,426.9 L114.2,428.8 L115.3,430.8 L116.3,433.0 L117.1,435.4 L117.8,437.9 L118.2,440.5 L118.5,443.2 L118.6,446.0 L118.5,448.8 L118.2,451.7 L117.7,454.5 L117.1,457.4 L116.3,460.2 L115.3,463.0 L114.1,465.7 L112.8,468.3 L111.3,470.8 L109.8,473.1 L108.1,475.3 L106.2,477.4 L104.3,479.2 L102.4,480.8 L100.3,482.3 L98.2,483.5 L96.1,484.5 L93.9,485.2 L91.8,485.7 L89.7,485.9 L87.6,485.9 L85.5,485.7 L83.6,485.1 L81.7,484.4 L79.8,483.4 L26.0,452.0 L21.5,448.0 L19.5,443.0 Z" fill="url(#sh5)"/>
</g>
<ellipse cx="94" cy="453" rx="23.4" ry="33.8" transform="rotate(18 94 453)" fill="#b9bdc3"/>
<ellipse cx="92.8" cy="453.5" rx="21.2" ry="31.999999999999996" transform="rotate(18 94 453)" fill="url(#fi5)"/>
<g clip-path="url(#cf5)">
<ellipse class="k2c" rx="6.1" ry="3.9" transform="translate(83.7,467.6)rotate(52)"/>
<ellipse class="k2d" rx="6.7" ry="3.0" transform="translate(96.4,441.0)rotate(166)"/>
<ellipse class="k2d" rx="4.9" ry="3.2" transform="translate(83.6,432.1)rotate(152)"/>
<ellipse class="k2d" rx="6.6" ry="4.0" transform="translate(92.3,431.7)rotate(176)"/>
<ellipse class="k2d" rx="6.1" ry="3.4" transform="translate(95.0,469.3)rotate(48)"/>
<ellipse class="k2e" rx="5.2" ry="3.3" transform="translate(81.1,473.3)rotate(32)"/>
<ellipse class="k2c" rx="5.3" ry="3.6" transform="translate(93.2,442.9)rotate(159)"/>
<ellipse class="k2d" rx="4.9" ry="4.1" transform="translate(96.6,471.9)rotate(64)"/>
<ellipse class="k2e" rx="4.8" ry="3.4" transform="translate(91.3,435.3)rotate(90)"/>
<ellipse class="k2f" rx="6.2" ry="3.0" transform="translate(98.8,463.1)rotate(146)"/>
<ellipse class="k2c" rx="5.0" ry="3.6" transform="translate(92.5,450.8)rotate(58)"/>
<ellipse class="k2f" rx="5.0" ry="3.9" transform="translate(94.4,442.3)rotate(155)"/>
<ellipse class="k2f" rx="6.0" ry="3.2" transform="translate(88.8,446.3)rotate(108)"/>
<ellipse class="k2f" rx="6.0" ry="3.4" transform="translate(84.9,462.9)rotate(92)"/>
<ellipse class="k2d" rx="6.2" ry="4.2" transform="translate(78.3,451.6)rotate(125)"/>
<ellipse class="k2f" rx="5.5" ry="4.4" transform="translate(76.5,459.8)rotate(57)"/>
<ellipse class="k2e" rx="4.9" ry="4.1" transform="translate(94.1,435.1)rotate(95)"/>
<ellipse class="k2d" rx="6.3" ry="4.2" transform="translate(96.5,439.3)rotate(177)"/>
<ellipse class="k2f" rx="5.3" ry="3.1" transform="translate(93.9,462.3)rotate(68)"/>
<ellipse class="k2f" rx="4.8" ry="3.1" transform="translate(82.3,446.4)rotate(122)"/>
<ellipse class="k2c" rx="5.3" ry="3.7" transform="translate(88.9,472.3)rotate(32)"/>
<ellipse class="k2d" rx="6.7" ry="4.2" transform="translate(96.7,446.6)rotate(97)"/>
<ellipse class="k2d" rx="5.5" ry="4.2" transform="translate(85.8,460.3)rotate(121)"/>
<ellipse class="k2c" rx="5.5" ry="3.6" transform="translate(94.1,472.3)rotate(68)"/>
<ellipse class="k2d" rx="6.1" ry="4.3" transform="translate(89.1,475.2)rotate(91)"/>
<ellipse class="k2c" rx="4.8" ry="3.2" transform="translate(91.1,453.9)rotate(55)"/>
</g>
<ellipse class="k30" rx="5.0" ry="2.5" transform="translate(28.0,393.0)rotate(-15)"/>
<ellipse class="k30" rx="3.5" ry="2.0" transform="translate(36.0,390.0)rotate(-40)"/>
<ellipse class="k30" rx="4.0" ry="2.5" transform="translate(20.0,409.0)rotate(60)"/>
<ellipse class="k30" rx="3.0" ry="2.0" transform="translate(18.0,416.0)rotate(80)"/>
<defs><linearGradient id="cg6" gradientUnits="userSpaceOnUse" x1="186.4" y1="408" x2="211.4" y2="488"><stop offset="0" stop-color="#e8ecf2"/><stop offset="0.5" stop-color="#d8dee6"/><stop offset="1" stop-color="#b0b5bc"/></linearGradient><linearGradient id="sh6" gradientUnits="userSpaceOnUse" x1="196.4" y1="393" x2="171.4" y2="478"><stop offset="0" stop-color="#fff" stop-opacity="0.3"/><stop offset="0.5" stop-color="#888" stop-opacity="0"/><stop offset="1" stop-color="#44484e" stop-opacity="0.7"/></linearGradient><linearGradient id="fi6" gradientUnits="userSpaceOnUse" x1="236.4" y1="433" x2="196.4" y2="473"><stop offset="0" stop-color="#c4c8ce"/><stop offset="1" stop-color="#e4e7ea"/></linearGradient><clipPath id="cc6"><path d="M139.2,435.0 L141.8,422.0 L147.0,410.5 L153.9,402.0 L160.4,395.5 L168.6,392.0 L228.7,421.6 L230.6,422.6 L232.2,423.8 L233.8,425.3 L235.3,426.9 L236.6,428.8 L237.7,430.8 L238.7,433.0 L239.5,435.4 L240.2,437.9 L240.6,440.5 L240.9,443.2 L241.0,446.0 L240.9,448.8 L240.6,451.7 L240.1,454.5 L239.5,457.4 L238.7,460.2 L237.7,463.0 L236.5,465.7 L235.2,468.3 L233.7,470.8 L232.2,473.1 L230.5,475.3 L228.6,477.4 L226.7,479.2 L224.8,480.8 L222.7,482.3 L220.6,483.5 L218.5,484.5 L216.3,485.2 L214.2,485.7 L212.1,485.9 L210.0,485.9 L207.9,485.7 L206.0,485.1 L204.1,484.4 L202.2,483.4 L145.9,452.0 L141.3,448.0 L139.2,443.0 Z"/></clipPath><clipPath id="cf6"><ellipse cx="216.4" cy="453" rx="21.9" ry="32.3" transform="rotate(18 216.4 453)"/></clipPath></defs>
<path d="M139.2,435.0 L141.8,422.0 L147.0,410.5 L153.9,402.0 L160.4,395.5 L168.6,392.0 L228.7,421.6 L230.6,422.6 L232.2,423.8 L233.8,425.3 L235.3,426.9 L236.6,428.8 L237.7,430.8 L238.7,433.0 L239.5,435.4 L240.2,437.9 L240.6,440.5 L240.9,443.2 L241.0,446.0 L240.9,448.8 L240.6,451.7 L240.1,454.5 L239.5,457.4 L238.7,460.2 L237.7,463.0 L236.5,465.7 L235.2,468.3 L233.7,470.8 L232.2,473.1 L230.5,475.3 L228.6,477.4 L226.7,479.2 L224.8,480.8 L222.7,482.3 L220.6,483.5 L218.5,484.5 L216.3,485.2 L214.2,485.7 L212.1,485.9 L210.0,485.9 L207.9,485.7 L206.0,485.1 L204.1,484.4 L202.2,483.4 L145.9,452.0 L141.3,448.0 L139.2,443.0 Z" fill="url(#cg6)"/>
<g clip-path="url(#cc6)"><g filter="url(#bl)">
<path d="M195.5,478.1 L191.9,476.5 L188.7,474.0 L185.9,470.7 L183.8,466.6 L182.3,461.9 L181.4,456.8 L181.3,451.3 L181.9,445.7 L183.2,440.1 L185.1,434.7 L187.7,429.7 L190.7,425.2 L194.2,421.3 L198.0,418.2 L202.0,415.9 L206.1,414.6 L210.2,414.3 L214.1,414.9" fill="none" stroke="#e8d4cc" stroke-width="3.1" stroke-opacity="0.8"/>
<path d="M180.8,468.1 L177.3,466.7 L174.2,464.4 L171.5,461.4 L169.3,457.6 L167.7,453.1 L166.8,448.2 L166.5,443.0 L166.8,437.6 L167.9,432.2 L169.5,426.9 L171.8,422.0 L174.5,417.5 L177.6,413.6 L181.1,410.5 L184.9,408.1 L188.7,406.7 L192.5,406.2 L196.2,406.6" fill="none" stroke="#c4d4e6" stroke-width="2.5" stroke-opacity="0.8"/>
<path d="M179.7,467.3 L176.2,466.0 L173.1,463.7 L170.4,460.7 L168.3,456.9 L166.7,452.5 L165.7,447.6 L165.4,442.4 L165.7,437.0 L166.7,431.6 L168.4,426.3 L170.6,421.4 L173.3,416.9 L176.4,413.0 L179.9,409.9 L183.6,407.5 L187.4,406.1 L191.2,405.6 L194.9,406.0" fill="none" stroke="#e4cfc8" stroke-width="4.2" stroke-opacity="0.8"/>
<path d="M160.6,454.3 L157.3,453.2 L154.4,451.3 L151.8,448.5 L149.6,445.1 L147.9,441.0 L146.8,436.4 L146.3,431.5 L146.4,426.3 L147.1,421.2 L148.4,416.1 L150.2,411.3 L152.5,406.9 L155.3,403.1 L158.3,399.9 L161.7,397.5 L165.1,395.9 L168.6,395.2 L172.0,395.4" fill="none" stroke="#bccde2" stroke-width="3.2" stroke-opacity="0.8"/>
<path d="M179.2,467.0 L175.8,465.7 L172.6,463.4 L170.0,460.4 L167.8,456.6 L166.2,452.2 L165.2,447.3 L164.9,442.1 L165.2,436.7 L166.2,431.3 L167.9,426.1 L170.1,421.1 L172.8,416.7 L175.9,412.8 L179.4,409.6 L183.0,407.3 L186.8,405.8 L190.6,405.3 L194.3,405.7" fill="none" stroke="#dfe6ee" stroke-width="3.5" stroke-opacity="0.8"/>
<path d="M179.8,467.4 L176.4,466.1 L173.3,463.8 L170.6,460.8 L168.4,457.0 L166.8,452.6 L165.9,447.7 L165.5,442.5 L165.9,437.1 L166.9,431.7 L168.5,426.4 L170.8,421.5 L173.5,417.0 L176.6,413.1 L180.1,410.0 L183.8,407.6 L187.6,406.2 L191.4,405.6 L195.1,406.1" fill="none" stroke="#c4d4e6" stroke-width="4.1" stroke-opacity="0.8"/>
<path d="M159.9,453.9 L156.6,452.8 L153.7,450.8 L151.1,448.1 L148.9,444.6 L147.2,440.5 L146.1,436.0 L145.6,431.1 L145.7,425.9 L146.4,420.8 L147.7,415.7 L149.5,410.9 L151.8,406.5 L154.5,402.7 L157.6,399.5 L160.8,397.1 L164.3,395.5 L167.8,394.8 L171.2,395.0" fill="none" stroke="#bccde2" stroke-width="4.0" stroke-opacity="0.8"/>
<path d="M164.5,457.0 L161.2,455.9 L158.2,453.8 L155.6,451.0 L153.4,447.5 L151.8,443.3 L150.7,438.7 L150.2,433.7 L150.4,428.5 L151.1,423.3 L152.5,418.2 L154.4,413.4 L156.8,409.0 L159.6,405.1 L162.7,401.9 L166.1,399.5 L169.6,398.0 L173.2,397.3 L176.7,397.6" fill="none" stroke="#c4d4e6" stroke-width="2.5" stroke-opacity="0.8"/>
<path d="M187.5,472.6 L183.9,471.2 L180.8,468.8 L178.1,465.6 L175.9,461.7 L174.3,457.1 L173.4,452.1 L173.2,446.8 L173.7,441.3 L174.8,435.8 L176.6,430.5 L179.0,425.5 L181.9,421.0 L185.2,417.1 L188.8,414.0 L192.6,411.7 L196.6,410.3 L200.5,409.8 L204.3,410.3" fill="none" stroke="#e4cfc8" stroke-width="3.3" stroke-opacity="0.8"/>
<path d="M203.9,483.8 L200.2,482.0 L196.9,479.4 L194.2,475.9 L192.1,471.7 L190.6,466.9 L189.8,461.6 L189.8,456.0 L190.5,450.3 L192.0,444.7 L194.1,439.2 L196.8,434.1 L200.1,429.6 L203.7,425.7 L207.7,422.6 L211.9,420.4 L216.1,419.2 L220.3,418.9 L224.3,419.7" fill="none" stroke="#dfe6ee" stroke-width="2.4" stroke-opacity="0.8"/>
<path d="M191.2,475.2 L187.7,473.7 L184.5,471.2 L181.8,468.0 L179.6,464.0 L178.1,459.4 L177.2,454.3 L177.0,448.9 L177.5,443.4 L178.7,437.8 L180.6,432.5 L183.0,427.5 L186.0,423.0 L189.4,419.1 L193.1,416.0 L197.0,413.7 L201.0,412.3 L205.0,411.9 L208.9,412.5" fill="none" stroke="#c4d4e6" stroke-width="2.2" stroke-opacity="0.8"/>
<path d="M164.0,456.7 L160.8,455.6 L157.8,453.5 L155.1,450.7 L153.0,447.2 L151.3,443.1 L150.2,438.4 L149.8,433.4 L149.9,428.3 L150.7,423.0 L152.0,417.9 L153.9,413.1 L156.3,408.7 L159.1,404.9 L162.2,401.7 L165.6,399.3 L169.1,397.7 L172.7,397.1 L176.1,397.3" fill="none" stroke="#bccde2" stroke-width="4.4" stroke-opacity="0.8"/>
<path d="M185.7,471.4 L182.2,470.0 L179.1,467.7 L176.4,464.5 L174.2,460.6 L172.6,456.1 L171.7,451.1 L171.5,445.8 L171.9,440.3 L173.0,434.8 L174.8,429.5 L177.1,424.6 L179.9,420.1 L183.2,416.2 L186.8,413.1 L190.6,410.7 L194.5,409.3 L198.4,408.9 L202.2,409.4" fill="none" stroke="#bccde2" stroke-width="3.1" stroke-opacity="0.8"/>
<path d="M180.7,468.0 L177.2,466.6 L174.1,464.4 L171.4,461.3 L169.2,457.5 L167.6,453.1 L166.7,448.2 L166.4,442.9 L166.8,437.5 L167.8,432.1 L169.4,426.8 L171.7,421.9 L174.4,417.4 L177.5,413.6 L181.0,410.4 L184.7,408.1 L188.6,406.6 L192.4,406.1 L196.1,406.5" fill="none" stroke="#bccde2" stroke-width="2.6" stroke-opacity="0.8"/>
<path d="M171.0,461.5 L167.7,460.2 L164.6,458.1 L162.0,455.2 L159.8,451.5 L158.2,447.3 L157.1,442.5 L156.7,437.4 L157.0,432.2 L157.8,426.9 L159.3,421.7 L161.3,416.8 L163.9,412.4 L166.8,408.5 L170.1,405.4 L173.6,403.0 L177.3,401.5 L180.9,400.9 L184.5,401.2" fill="none" stroke="#c4d4e6" stroke-width="2.4" stroke-opacity="0.8"/>
<path d="M169.7,460.6 L166.4,459.3 L163.3,457.2 L160.7,454.3 L158.5,450.7 L156.9,446.5 L155.8,441.8 L155.4,436.7 L155.6,431.4 L156.5,426.1 L157.9,421.0 L159.9,416.1 L162.4,411.7 L165.3,407.8 L168.6,404.7 L172.1,402.3 L175.7,400.8 L179.4,400.1 L182.9,400.4" fill="none" stroke="#e8d4cc" stroke-width="2.5" stroke-opacity="0.8"/>
<path d="M184.1,470.3 L180.6,468.9 L177.4,466.6 L174.7,463.5 L172.6,459.6 L171.0,455.1 L170.1,450.1 L169.8,444.9 L170.2,439.4 L171.3,434.0 L173.0,428.7 L175.3,423.7 L178.1,419.2 L181.4,415.3 L184.9,412.2 L188.7,409.9 L192.6,408.4 L196.4,408.0 L200.2,408.4" fill="none" stroke="#e4cfc8" stroke-width="3.2" stroke-opacity="0.8"/>
<path d="M164.8,457.2 L161.5,456.0 L158.5,454.0 L155.8,451.2 L153.7,447.7 L152.0,443.5 L150.9,438.8 L150.5,433.9 L150.6,428.7 L151.4,423.4 L152.8,418.3 L154.7,413.5 L157.1,409.1 L159.9,405.3 L163.0,402.1 L166.4,399.7 L170.0,398.1 L173.5,397.5 L177.0,397.7" fill="none" stroke="#dfe6ee" stroke-width="2.6" stroke-opacity="0.8"/>
<path d="M171.7,461.9 L168.4,460.7 L165.3,458.6 L162.6,455.6 L160.5,452.0 L158.8,447.7 L157.8,442.9 L157.4,437.8 L157.7,432.5 L158.5,427.2 L160.0,422.1 L162.1,417.2 L164.6,412.7 L167.6,408.9 L170.9,405.7 L174.4,403.3 L178.1,401.8 L181.7,401.2 L185.3,401.5" fill="none" stroke="#e8d4cc" stroke-width="3.5" stroke-opacity="0.8"/>
<path d="M203.3,483.4 L199.6,481.7 L196.4,479.0 L193.6,475.6 L191.5,471.4 L190.0,466.6 L189.3,461.3 L189.2,455.7 L189.9,450.0 L191.4,444.3 L193.5,438.9 L196.2,433.8 L199.4,429.3 L203.1,425.4 L207.0,422.3 L211.2,420.1 L215.4,418.9 L219.6,418.6 L223.6,419.3" fill="none" stroke="#dfe6ee" stroke-width="3.3" stroke-opacity="0.8"/>
<path d="M181.4,468.5 L178.0,467.1 L174.8,464.9 L172.1,461.8 L170.0,458.0 L168.4,453.5 L167.4,448.6 L167.1,443.4 L167.5,437.9 L168.6,432.5 L170.2,427.2 L172.5,422.3 L175.2,417.8 L178.4,414.0 L181.9,410.8 L185.6,408.5 L189.5,407.0 L193.3,406.5 L197.0,407.0" fill="none" stroke="#c4d4e6" stroke-width="2.1" stroke-opacity="0.8"/>
<path d="M203.0,483.1 L199.3,481.4 L196.1,478.8 L193.3,475.4 L191.2,471.2 L189.7,466.4 L188.9,461.1 L188.9,455.5 L189.6,449.8 L191.0,444.2 L193.1,438.7 L195.8,433.7 L199.1,429.1 L202.7,425.2 L206.7,422.2 L210.8,420.0 L215.1,418.7 L219.2,418.4 L223.2,419.2" fill="none" stroke="#dfe6ee" stroke-width="4.2" stroke-opacity="0.8"/>
<path d="M172.0,462.1 L168.6,460.9 L165.6,458.7 L162.9,455.8 L160.7,452.1 L159.1,447.9 L158.1,443.1 L157.7,438.0 L158.0,432.7 L158.8,427.4 L160.3,422.2 L162.4,417.3 L164.9,412.9 L167.9,409.0 L171.2,405.9 L174.7,403.5 L178.4,402.0 L182.1,401.4 L185.6,401.7" fill="none" stroke="#dfe6ee" stroke-width="3.8" stroke-opacity="0.8"/>
<path d="M159.8,453.8 L156.5,452.7 L153.6,450.8 L151.0,448.0 L148.8,444.5 L147.1,440.5 L146.0,435.9 L145.5,431.0 L145.6,425.9 L146.3,420.7 L147.5,415.6 L149.4,410.9 L151.7,406.5 L154.4,402.6 L157.4,399.5 L160.7,397.1 L164.1,395.5 L167.6,394.8 L171.0,394.9" fill="none" stroke="#e8d4cc" stroke-width="3.6" stroke-opacity="0.8"/>
<path d="M176.2,465.0 L172.8,463.7 L169.7,461.5 L167.0,458.5 L164.8,454.7 L163.2,450.4 L162.2,445.6 L161.9,440.4 L162.2,435.0 L163.2,429.7 L164.7,424.5 L166.9,419.5 L169.5,415.1 L172.6,411.2 L175.9,408.1 L179.6,405.7 L183.3,404.2 L187.1,403.7 L190.7,404.0" fill="none" stroke="#c4d4e6" stroke-width="4.7" stroke-opacity="0.8"/>
<path d="M167.1,458.8 L163.8,457.6 L160.8,455.5 L158.1,452.7 L155.9,449.1 L154.3,444.9 L153.2,440.2 L152.8,435.2 L153.0,430.0 L153.8,424.7 L155.2,419.6 L157.1,414.7 L159.6,410.3 L162.5,406.5 L165.7,403.3 L169.1,400.9 L172.7,399.4 L176.3,398.7 L179.8,399.0" fill="none" stroke="#e8d4cc" stroke-width="2.8" stroke-opacity="0.8"/>
<ellipse class="k31" rx="3.4" ry="2.1" transform="translate(194.7,407.9)rotate(70)"/>
<ellipse class="k32" rx="4.4" ry="3.3" transform="translate(184.3,394.7)rotate(70)"/>
<ellipse class="k33" rx="6.4" ry="3.6" transform="translate(143.9,408.2)rotate(70)"/>
<ellipse class="k33" rx="5.2" ry="2.3" transform="translate(156.5,476.9)rotate(70)"/>
<ellipse class="k33" rx="6.3" ry="3.3" transform="translate(143.7,451.0)rotate(70)"/>
<ellipse class="k32" rx="5.1" ry="2.5" transform="translate(146.2,425.7)rotate(70)"/>
<ellipse class="k32" rx="3.1" ry="2.6" transform="translate(150.0,468.2)rotate(70)"/>
<ellipse class="k33" rx="3.8" ry="2.8" transform="translate(215.1,462.0)rotate(70)"/>
<ellipse class="k34" rx="4.4" ry="3.8" transform="translate(158.2,451.0)rotate(70)"/>
<ellipse class="k32" rx="3.4" ry="3.4" transform="translate(149.1,471.7)rotate(70)"/>
<ellipse class="k34" rx="6.0" ry="2.3" transform="translate(170.6,476.7)rotate(70)"/>
<ellipse class="k35" rx="3.7" ry="2.7" transform="translate(178.5,456.0)rotate(70)"/>
<ellipse class="k35" rx="3.0" ry="3.9" transform="translate(178.9,438.2)rotate(70)"/>
<ellipse class="k33" rx="6.0" ry="3.3" transform="translate(181.0,471.2)rotate(70)"/>
</g>
<ellipse class="k36" rx="1.9" ry="1.1" transform="translate(183.7,414.9)rotate(30)"/>
<ellipse class="k37" rx="4.3" ry="2.6" transform="translate(183.7,414.9)rotate(30)"/>
<ellipse class="k36" rx="2.0" ry="1.3" transform="translate(195.7,416.4)rotate(30)"/>
<ellipse class="k37" rx="3.7" ry="2.3" transform="translate(195.7,416.4)rotate(30)"/>
<ellipse class="k36" rx="1.9" ry="1.1" transform="translate(173.7,449.8)rotate(30)"/>
<ellipse class="k37" rx="4.2" ry="2.5" transform="translate(173.7,449.8)rotate(30)"/>
<ellipse class="k36" rx="2.6" ry="1.8" transform="translate(155.0,447.8)rotate(30)"/>
<ellipse class="k37" rx="4.9" ry="2.6" transform="translate(155.0,447.8)rotate(30)"/>
<ellipse class="k36" rx="2.2" ry="1.2" transform="translate(149.7,436.8)rotate(30)"/>
<ellipse class="k37" rx="3.6" ry="2.7" transform="translate(149.7,436.8)rotate(30)"/>
<ellipse class="k36" rx="2.1" ry="1.8" transform="translate(183.8,417.0)rotate(30)"/>
<ellipse class="k37" rx="4.3" ry="2.7" transform="translate(183.8,417.0)rotate(30)"/>
<path d="M139.2,435.0 L141.8,422.0 L147.0,410.5 L153.9,402.0 L160.4,395.5 L168.6,392.0 L228.7,421.6 L230.6,422.6 L232.2,423.8 L233.8,425.3 L235.3,426.9 L236.6,428.8 L237.7,430.8 L238.7,433.0 L239.5,435.4 L240.2,437.9 L240.6,440.5 L240.9,443.2 L241.0,446.0 L240.9,448.8 L240.6,451.7 L240.1,454.5 L239.5,457.4 L238.7,460.2 L237.7,463.0 L236.5,465.7 L235.2,468.3 L233.7,470.8 L232.2,473.1 L230.5,475.3 L228.6,477.4 L226.7,479.2 L224.8,480.8 L222.7,482.3 L220.6,483.5 L218.5,484.5 L216.3,485.2 L214.2,485.7 L212.1,485.9 L210.0,485.9 L207.9,485.7 L206.0,485.1 L204.1,484.4 L202.2,483.4 L145.9,452.0 L141.3,448.0 L139.2,443.0 Z" fill="url(#sh6)"/>
</g>
<ellipse cx="216.4" cy="453" rx="23.4" ry="33.8" transform="rotate(18 216.4 453)" fill="#b9bdc3"/>
<ellipse cx="215.20000000000002" cy="453.5" rx="21.2" ry="31.999999999999996" transform="rotate(18 216.4 453)" fill="url(#fi6)"/>
<g clip-path="url(#cf6)">
<ellipse class="k2e" rx="6.2" ry="3.8" transform="translate(210.7,480.2)rotate(20)"/>
<ellipse class="k2d" rx="6.6" ry="3.3" transform="translate(202.0,463.3)rotate(49)"/>
<ellipse class="k2d" rx="4.9" ry="3.6" transform="translate(204.0,476.5)rotate(96)"/>
<ellipse class="k2d" rx="5.5" ry="3.3" transform="translate(198.8,454.0)rotate(132)"/>
<ellipse class="k2f" rx="5.3" ry="3.5" transform="translate(204.3,460.4)rotate(29)"/>
<ellipse class="k2f" rx="5.5" ry="4.2" transform="translate(202.7,461.6)rotate(42)"/>
<ellipse class="k2d" rx="4.7" ry="4.1" transform="translate(204.3,452.8)rotate(44)"/>
<ellipse class="k2c" rx="6.4" ry="3.7" transform="translate(216.8,456.5)rotate(32)"/>
<ellipse class="k2f" rx="5.1" ry="3.7" transform="translate(207.0,440.5)rotate(126)"/>
<ellipse class="k2f" rx="6.0" ry="4.4" transform="translate(215.9,456.5)rotate(21)"/>
<ellipse class="k2d" rx="5.2" ry="3.6" transform="translate(221.6,459.6)rotate(143)"/>
<ellipse class="k2c" rx="5.2" ry="4.5" transform="translate(220.4,453.0)rotate(82)"/>
<ellipse class="k2d" rx="6.4" ry="4.1" transform="translate(203.1,434.7)rotate(65)"/>
<ellipse class="k2c" rx="6.2" ry="4.3" transform="translate(206.5,456.8)rotate(60)"/>
<ellipse class="k2f" rx="4.5" ry="3.2" transform="translate(205.2,459.0)rotate(65)"/>
<ellipse class="k2c" rx="6.8" ry="4.5" transform="translate(219.9,466.1)rotate(168)"/>
<ellipse class="k2c" rx="5.7" ry="3.5" transform="translate(214.6,470.2)rotate(141)"/>
<ellipse class="k2d" rx="6.5" ry="3.7" transform="translate(200.7,459.7)rotate(160)"/>
<ellipse class="k2e" rx="5.1" ry="4.0" transform="translate(214.5,431.1)rotate(136)"/>
<ellipse class="k2c" rx="4.6" ry="4.0" transform="translate(214.0,463.9)rotate(64)"/>
<ellipse class="k2c" rx="5.1" ry="3.7" transform="translate(215.3,472.9)rotate(106)"/>
<ellipse class="k2d" rx="4.6" ry="3.3" transform="translate(214.2,476.5)rotate(125)"/>
<ellipse class="k2e" rx="5.1" ry="3.8" transform="translate(215.0,440.2)rotate(94)"/>
<ellipse class="k2f" rx="5.9" ry="3.1" transform="translate(215.0,447.4)rotate(39)"/>
<ellipse class="k2d" rx="6.2" ry="3.3" transform="translate(201.2,468.1)rotate(119)"/>
<ellipse class="k2e" rx="6.0" ry="4.1" transform="translate(203.1,466.4)rotate(70)"/>
</g>
<defs><linearGradient id="cg7" gradientUnits="userSpaceOnUse" x1="307.5" y1="408" x2="332.5" y2="488"><stop offset="0" stop-color="#eaecf0"/><stop offset="0.5" stop-color="#dcdfe4"/><stop offset="1" stop-color="#b4b6ba"/></linearGradient><linearGradient id="sh7" gradientUnits="userSpaceOnUse" x1="317.5" y1="393" x2="292.5" y2="478"><stop offset="0" stop-color="#fff" stop-opacity="0.3"/><stop offset="0.5" stop-color="#888" stop-opacity="0"/><stop offset="1" stop-color="#44484e" stop-opacity="0.7"/></linearGradient><linearGradient id="fi7" gradientUnits="userSpaceOnUse" x1="357.5" y1="433" x2="317.5" y2="473"><stop offset="0" stop-color="#c4c8ce"/><stop offset="1" stop-color="#e4e7ea"/></linearGradient><clipPath id="cc7"><path d="M260.3,435.0 L262.9,422.0 L268.1,410.5 L275.0,402.0 L281.5,395.5 L289.7,392.0 L349.8,421.6 L351.7,422.6 L353.3,423.8 L354.9,425.3 L356.4,426.9 L357.7,428.8 L358.8,430.8 L359.8,433.0 L360.6,435.4 L361.3,437.9 L361.7,440.5 L362.0,443.2 L362.1,446.0 L362.0,448.8 L361.7,451.7 L361.2,454.5 L360.6,457.4 L359.8,460.2 L358.8,463.0 L357.6,465.7 L356.3,468.3 L354.8,470.8 L353.3,473.1 L351.6,475.3 L349.7,477.4 L347.8,479.2 L345.9,480.8 L343.8,482.3 L341.7,483.5 L339.6,484.5 L337.4,485.2 L335.3,485.7 L333.2,485.9 L331.1,485.9 L329.0,485.7 L327.1,485.1 L325.2,484.4 L323.3,483.4 L267.0,452.0 L262.4,448.0 L260.3,443.0 Z"/></clipPath><clipPath id="cf7"><ellipse cx="337.5" cy="453" rx="21.9" ry="32.3" transform="rotate(18 337.5 453)"/></clipPath></defs>
<path d="M260.3,435.0 L262.9,422.0 L268.1,410.5 L275.0,402.0 L281.5,395.5 L289.7,392.0 L349.8,421.6 L351.7,422.6 L353.3,423.8 L354.9,425.3 L356.4,426.9 L357.7,428.8 L358.8,430.8 L359.8,433.0 L360.6,435.4 L361.3,437.9 L361.7,440.5 L362.0,443.2 L362.1,446.0 L362.0,448.8 L361.7,451.7 L361.2,454.5 L360.6,457.4 L359.8,460.2 L358.8,463.0 L357.6,465.7 L356.3,468.3 L354.8,470.8 L353.3,473.1 L351.6,475.3 L349.7,477.4 L347.8,479.2 L345.9,480.8 L343.8,482.3 L341.7,483.5 L339.6,484.5 L337.4,485.2 L335.3,485.7 L333.2,485.9 L331.1,485.9 L329.0,485.7 L327.1,485.1 L325.2,484.4 L323.3,483.4 L267.0,452.0 L262.4,448.0 L260.3,443.0 Z" fill="url(#cg7)"/>
<g clip-path="url(#cc7)"><g filter="url(#bl)">
<path d="M293.6,462.4 L290.2,461.2 L287.1,459.0 L284.5,456.1 L282.3,452.4 L280.7,448.1 L279.6,443.4 L279.2,438.2 L279.5,433.0 L280.4,427.6 L281.9,422.5 L283.9,417.6 L286.5,413.1 L289.5,409.3 L292.8,406.1 L296.3,403.7 L300.0,402.2 L303.7,401.6 L307.3,401.9" fill="none" stroke="#e8cbc0" stroke-width="3.9" stroke-opacity="0.8"/>
<path d="M309.4,473.2 L305.9,471.7 L302.7,469.3 L300.0,466.1 L297.8,462.2 L296.3,457.6 L295.4,452.6 L295.2,447.3 L295.6,441.8 L296.8,436.2 L298.6,430.9 L301.0,425.9 L303.9,421.4 L307.2,417.6 L310.9,414.4 L314.7,412.1 L318.7,410.7 L322.6,410.3 L326.4,410.8" fill="none" stroke="#cfd9e6" stroke-width="2.1" stroke-opacity="0.8"/>
<path d="M287.7,458.4 L284.3,457.2 L281.3,455.2 L278.7,452.3 L276.5,448.8 L274.9,444.6 L273.8,439.9 L273.4,434.9 L273.5,429.7 L274.3,424.4 L275.7,419.3 L277.7,414.5 L280.1,410.0 L283.0,406.2 L286.1,403.0 L289.6,400.6 L293.1,399.1 L296.7,398.4 L300.2,398.7" fill="none" stroke="#cfd9e6" stroke-width="3.1" stroke-opacity="0.8"/>
<path d="M283.7,455.7 L280.4,454.6 L277.4,452.6 L274.8,449.8 L272.6,446.3 L271.0,442.2 L269.9,437.6 L269.4,432.6 L269.5,427.4 L270.3,422.2 L271.6,417.2 L273.4,412.4 L275.8,408.0 L278.6,404.1 L281.7,400.9 L285.0,398.5 L288.5,397.0 L292.0,396.3 L295.5,396.5" fill="none" stroke="#e6d2ca" stroke-width="3.2" stroke-opacity="0.8"/>
<path d="M317.0,478.3 L313.4,476.7 L310.1,474.2 L307.4,470.9 L305.2,466.8 L303.7,462.1 L302.9,457.0 L302.8,451.5 L303.4,445.9 L304.7,440.3 L306.6,434.9 L309.2,429.9 L312.2,425.4 L315.7,421.5 L319.5,418.4 L323.5,416.1 L327.6,414.8 L331.7,414.5 L335.6,415.1" fill="none" stroke="#cfd9e6" stroke-width="3.2" stroke-opacity="0.8"/>
<path d="M325.6,484.1 L321.9,482.4 L318.6,479.8 L315.9,476.3 L313.7,472.1 L312.3,467.3 L311.5,462.0 L311.5,456.4 L312.2,450.7 L313.7,445.0 L315.8,439.5 L318.5,434.4 L321.8,429.9 L325.5,426.0 L329.5,422.9 L333.7,420.8 L337.9,419.5 L342.1,419.3 L346.1,420.0" fill="none" stroke="#d8e0ea" stroke-width="2.1" stroke-opacity="0.8"/>
<path d="M325.6,484.2 L321.9,482.4 L318.6,479.8 L315.9,476.3 L313.8,472.1 L312.3,467.3 L311.5,462.0 L311.5,456.4 L312.3,450.7 L313.7,445.0 L315.8,439.5 L318.6,434.4 L321.8,429.9 L325.5,426.0 L329.5,423.0 L333.7,420.8 L338.0,419.5 L342.2,419.3 L346.2,420.0" fill="none" stroke="#e2c4b8" stroke-width="3.8" stroke-opacity="0.8"/>
<path d="M301.4,467.7 L297.9,466.4 L294.8,464.1 L292.1,461.1 L289.9,457.3 L288.4,452.8 L287.4,447.9 L287.1,442.7 L287.4,437.3 L288.5,431.9 L290.1,426.6 L292.3,421.7 L295.1,417.2 L298.2,413.4 L301.7,410.2 L305.4,407.9 L309.2,406.4 L313.0,405.9 L316.7,406.3" fill="none" stroke="#cfd9e6" stroke-width="2.4" stroke-opacity="0.8"/>
<path d="M277.0,451.1 L273.8,450.1 L270.9,448.2 L268.3,445.5 L266.1,442.1 L264.4,438.1 L263.3,433.6 L262.8,428.8 L262.8,423.7 L263.4,418.6 L264.6,413.6 L266.4,408.8 L268.6,404.5 L271.2,400.6 L274.2,397.5 L277.4,395.0 L280.8,393.4 L284.2,392.7 L287.5,392.8" fill="none" stroke="#d8e0ea" stroke-width="4.4" stroke-opacity="0.8"/>
<path d="M280.3,453.4 L277.1,452.3 L274.1,450.4 L271.5,447.7 L269.4,444.2 L267.7,440.1 L266.6,435.6 L266.1,430.7 L266.1,425.6 L266.8,420.4 L268.1,415.4 L269.9,410.6 L272.2,406.2 L274.9,402.4 L277.9,399.2 L281.2,396.8 L284.6,395.2 L288.1,394.5 L291.5,394.7" fill="none" stroke="#cfd9e6" stroke-width="3.7" stroke-opacity="0.8"/>
<path d="M301.8,468.1 L298.4,466.7 L295.3,464.4 L292.6,461.4 L290.4,457.5 L288.8,453.1 L287.9,448.2 L287.6,443.0 L287.9,437.6 L289.0,432.1 L290.6,426.9 L292.8,421.9 L295.6,417.5 L298.7,413.6 L302.2,410.4 L305.9,408.1 L309.8,406.7 L313.6,406.1 L317.3,406.6" fill="none" stroke="#e8cbc0" stroke-width="3.6" stroke-opacity="0.8"/>
<path d="M313.1,475.7 L309.5,474.1 L306.3,471.7 L303.6,468.4 L301.4,464.4 L299.9,459.8 L299.0,454.7 L298.8,449.3 L299.4,443.8 L300.6,438.2 L302.5,432.9 L304.9,427.8 L307.9,423.3 L311.3,419.5 L315.0,416.3 L319.0,414.1 L323.0,412.7 L327.0,412.3 L330.8,412.9" fill="none" stroke="#e6d2ca" stroke-width="3.6" stroke-opacity="0.8"/>
<path d="M317.9,479.0 L314.3,477.4 L311.1,474.9 L308.4,471.5 L306.2,467.4 L304.7,462.7 L303.9,457.6 L303.8,452.1 L304.4,446.5 L305.7,440.9 L307.7,435.5 L310.2,430.4 L313.3,425.9 L316.8,422.0 L320.6,418.9 L324.7,416.7 L328.8,415.3 L332.9,415.0 L336.8,415.6" fill="none" stroke="#e8cbc0" stroke-width="3.3" stroke-opacity="0.8"/>
<path d="M303.2,469.0 L299.8,467.6 L296.6,465.3 L293.9,462.2 L291.8,458.4 L290.2,454.0 L289.2,449.0 L289.0,443.8 L289.3,438.3 L290.4,432.9 L292.1,427.6 L294.3,422.7 L297.1,418.2 L300.3,414.3 L303.8,411.2 L307.5,408.8 L311.4,407.4 L315.2,406.9 L319.0,407.4" fill="none" stroke="#cfd9e6" stroke-width="3.3" stroke-opacity="0.8"/>
<path d="M290.4,460.2 L287.0,459.0 L284.0,457.0 L281.3,454.1 L279.2,450.4 L277.5,446.2 L276.5,441.5 L276.1,436.4 L276.3,431.2 L277.1,425.9 L278.6,420.7 L280.5,415.9 L283.0,411.5 L286.0,407.6 L289.2,404.4 L292.7,402.0 L296.3,400.5 L299.9,399.9 L303.5,400.2" fill="none" stroke="#d8e0ea" stroke-width="4.4" stroke-opacity="0.8"/>
<path d="M323.9,483.0 L320.2,481.3 L316.9,478.7 L314.2,475.2 L312.0,471.0 L310.6,466.2 L309.8,461.0 L309.8,455.4 L310.5,449.7 L311.9,444.0 L314.0,438.6 L316.7,433.5 L319.9,429.0 L323.5,425.1 L327.5,422.0 L331.6,419.8 L335.9,418.6 L340.0,418.3 L344.0,419.0" fill="none" stroke="#e6d2ca" stroke-width="3.2" stroke-opacity="0.8"/>
<path d="M308.8,472.8 L305.3,471.3 L302.1,469.0 L299.4,465.8 L297.3,461.8 L295.7,457.3 L294.8,452.3 L294.6,446.9 L295.0,441.4 L296.2,435.9 L298.0,430.6 L300.3,425.6 L303.2,421.1 L306.5,417.2 L310.2,414.1 L314.0,411.8 L318.0,410.4 L321.9,410.0 L325.7,410.5" fill="none" stroke="#e8cbc0" stroke-width="4.1" stroke-opacity="0.8"/>
<path d="M297.3,464.9 L293.9,463.6 L290.8,461.5 L288.1,458.4 L285.9,454.7 L284.3,450.4 L283.3,445.5 L283.0,440.4 L283.3,435.0 L284.2,429.7 L285.8,424.4 L287.9,419.5 L290.6,415.1 L293.6,411.2 L297.0,408.0 L300.6,405.7 L304.4,404.2 L308.1,403.6 L311.7,404.0" fill="none" stroke="#e8cbc0" stroke-width="5.0" stroke-opacity="0.8"/>
<path d="M317.3,478.5 L313.7,476.9 L310.4,474.4 L307.7,471.1 L305.5,467.0 L304.0,462.3 L303.2,457.2 L303.1,451.7 L303.7,446.1 L305.0,440.5 L306.9,435.1 L309.5,430.1 L312.6,425.5 L316.1,421.7 L319.9,418.6 L323.9,416.3 L328.0,415.0 L332.1,414.6 L336.0,415.3" fill="none" stroke="#d8e0ea" stroke-width="2.6" stroke-opacity="0.8"/>
<path d="M280.7,453.7 L277.4,452.6 L274.5,450.6 L271.9,447.9 L269.7,444.4 L268.0,440.4 L266.9,435.8 L266.4,430.9 L266.5,425.8 L267.2,420.6 L268.5,415.6 L270.3,410.8 L272.6,406.4 L275.3,402.6 L278.3,399.4 L281.6,397.0 L285.0,395.4 L288.5,394.7 L291.9,394.8" fill="none" stroke="#d8e0ea" stroke-width="2.4" stroke-opacity="0.8"/>
<path d="M323.0,482.4 L319.3,480.7 L316.1,478.1 L313.3,474.7 L311.2,470.5 L309.7,465.7 L308.9,460.5 L308.9,454.9 L309.6,449.2 L311.0,443.6 L313.0,438.1 L315.7,433.1 L318.9,428.5 L322.5,424.7 L326.5,421.6 L330.6,419.4 L334.8,418.1 L339.0,417.8 L342.9,418.5" fill="none" stroke="#e8cbc0" stroke-width="3.9" stroke-opacity="0.8"/>
<path d="M304.4,469.8 L300.9,468.4 L297.8,466.1 L295.1,463.0 L292.9,459.1 L291.3,454.6 L290.4,449.7 L290.1,444.4 L290.5,439.0 L291.6,433.5 L293.3,428.3 L295.6,423.3 L298.4,418.8 L301.6,414.9 L305.1,411.8 L308.9,409.5 L312.8,408.0 L316.6,407.5 L320.4,408.0" fill="none" stroke="#e2c4b8" stroke-width="3.1" stroke-opacity="0.8"/>
<path d="M289.1,459.4 L285.8,458.2 L282.8,456.2 L280.1,453.3 L278.0,449.7 L276.3,445.5 L275.3,440.8 L274.8,435.7 L275.0,430.5 L275.9,425.2 L277.3,420.1 L279.2,415.2 L281.7,410.8 L284.6,407.0 L287.8,403.8 L291.3,401.4 L294.9,399.9 L298.5,399.2 L302.0,399.5" fill="none" stroke="#d8e0ea" stroke-width="3.5" stroke-opacity="0.8"/>
<path d="M311.8,474.8 L308.2,473.3 L305.0,470.9 L302.3,467.6 L300.2,463.6 L298.6,459.1 L297.7,454.0 L297.6,448.6 L298.1,443.1 L299.3,437.5 L301.1,432.2 L303.5,427.2 L306.5,422.7 L309.9,418.8 L313.6,415.7 L317.5,413.4 L321.5,412.0 L325.5,411.6 L329.3,412.2" fill="none" stroke="#d8e0ea" stroke-width="2.8" stroke-opacity="0.8"/>
<path d="M310.6,474.0 L307.1,472.5 L303.9,470.1 L301.2,466.9 L299.0,462.9 L297.5,458.4 L296.6,453.3 L296.4,448.0 L296.9,442.4 L298.1,436.9 L299.9,431.6 L302.3,426.6 L305.2,422.1 L308.6,418.2 L312.3,415.1 L316.1,412.8 L320.1,411.4 L324.1,411.0 L327.9,411.5" fill="none" stroke="#e8cbc0" stroke-width="4.0" stroke-opacity="0.8"/>
<path d="M291.9,461.3 L288.6,460.1 L285.5,458.0 L282.9,455.1 L280.7,451.4 L279.1,447.2 L278.0,442.4 L277.6,437.3 L277.9,432.0 L278.7,426.7 L280.2,421.6 L282.2,416.7 L284.7,412.3 L287.7,408.4 L291.0,405.2 L294.5,402.9 L298.1,401.3 L301.8,400.7 L305.3,401.0" fill="none" stroke="#e2c4b8" stroke-width="3.4" stroke-opacity="0.8"/>
<ellipse class="k38" rx="4.1" ry="2.7" transform="translate(320.8,434.6)rotate(70)"/>
<ellipse class="k39" rx="6.5" ry="3.5" transform="translate(334.2,437.8)rotate(70)"/>
<ellipse class="k3a" rx="5.1" ry="3.8" transform="translate(271.7,433.7)rotate(70)"/>
<ellipse class="k3b" rx="5.0" ry="2.3" transform="translate(286.5,462.1)rotate(70)"/>
<ellipse class="k3b" rx="6.0" ry="3.9" transform="translate(267.4,462.1)rotate(70)"/>
<ellipse class="k39" rx="6.0" ry="2.2" transform="translate(290.3,407.7)rotate(70)"/>
<ellipse class="k3c" rx="6.8" ry="3.9" transform="translate(326.9,433.2)rotate(70)"/>
<ellipse class="k3a" rx="3.7" ry="3.4" transform="translate(275.2,465.4)rotate(70)"/>
<ellipse class="k38" rx="4.0" ry="2.2" transform="translate(268.9,433.1)rotate(70)"/>
<ellipse class="k3a" rx="6.6" ry="2.7" transform="translate(314.6,433.4)rotate(70)"/>
<ellipse class="k38" rx="3.9" ry="3.9" transform="translate(320.9,462.3)rotate(70)"/>
<ellipse class="k3b" rx="3.8" ry="2.4" transform="translate(312.1,462.8)rotate(70)"/>
<ellipse class="k3c" rx="6.6" ry="2.6" transform="translate(287.9,416.1)rotate(70)"/>
<ellipse class="k3a" rx="3.1" ry="4.0" transform="translate(329.0,396.8)rotate(70)"/>
</g>
<ellipse class="k36" rx="2.4" ry="1.4" transform="translate(311.0,418.1)rotate(30)"/>
<ellipse class="k37" rx="4.8" ry="2.9" transform="translate(311.0,418.1)rotate(30)"/>
<ellipse class="k36" rx="1.9" ry="1.4" transform="translate(319.2,399.5)rotate(30)"/>
<ellipse class="k37" rx="4.5" ry="2.1" transform="translate(319.2,399.5)rotate(30)"/>
<ellipse class="k36" rx="1.9" ry="1.3" transform="translate(270.1,465.3)rotate(30)"/>
<ellipse class="k37" rx="4.0" ry="2.6" transform="translate(270.1,465.3)rotate(30)"/>
<ellipse class="k36" rx="2.5" ry="1.3" transform="translate(273.1,430.9)rotate(30)"/>
<ellipse class="k37" rx="4.0" ry="2.6" transform="translate(273.1,430.9)rotate(30)"/>
<ellipse class="k36" rx="2.7" ry="1.1" transform="translate(300.4,427.9)rotate(30)"/>
<ellipse class="k37" rx="3.9" ry="2.6" transform="translate(300.4,427.9)rotate(30)"/>
<ellipse class="k36" rx="3.0" ry="1.7" transform="translate(284.6,411.2)rotate(30)"/>
<ellipse class="k37" rx="3.7" ry="2.0" transform="translate(284.6,411.2)rotate(30)"/>
<ellipse class="k36" rx="2.1" ry="1.0" transform="translate(265.7,437.0)rotate(30)"/>
<ellipse class="k37" rx="3.7" ry="2.8" transform="translate(265.7,437.0)rotate(30)"/>
<path d="M260.3,435.0 L262.9,422.0 L268.1,410.5 L275.0,402.0 L281.5,395.5 L289.7,392.0 L349.8,421.6 L351.7,422.6 L353.3,423.8 L354.9,425.3 L356.4,426.9 L357.7,428.8 L358.8,430.8 L359.8,433.0 L360.6,435.4 L361.3,437.9 L361.7,440.5 L362.0,443.2 L362.1,446.0 L362.0,448.8 L361.7,451.7 L361.2,454.5 L360.6,457.4 L359.8,460.2 L358.8,463.0 L357.6,465.7 L356.3,468.3 L354.8,470.8 L353.3,473.1 L351.6,475.3 L349.7,477.4 L347.8,479.2 L345.9,480.8 L343.8,482.3 L341.7,483.5 L339.6,484.5 L337.4,485.2 L335.3,485.7 L333.2,485.9 L331.1,485.9 L329.0,485.7 L327.1,485.1 L325.2,484.4 L323.3,483.4 L267.0,452.0 L262.4,448.0 L260.3,443.0 Z" fill="url(#sh7)"/>
</g>
<ellipse cx="337.5" cy="453" rx="23.4" ry="33.8" transform="rotate(18 337.5 453)" fill="#b9bdc3"/>
<ellipse cx="336.3" cy="453.5" rx="21.2" ry="31.999999999999996" transform="rotate(18 337.5 453)" fill="url(#fi7)"/>
<g clip-path="url(#cf7)">
<ellipse class="k2d" rx="6.1" ry="3.2" transform="translate(332.7,441.6)rotate(163)"/>
<ellipse class="k2f" rx="5.3" ry="3.0" transform="translate(333.1,436.0)rotate(64)"/>
<ellipse class="k2d" rx="5.8" ry="4.1" transform="translate(333.4,437.1)rotate(106)"/>
<ellipse class="k2f" rx="5.3" ry="3.6" transform="translate(335.1,442.4)rotate(127)"/>
<ellipse class="k2e" rx="6.0" ry="3.5" transform="translate(327.5,472.8)rotate(71)"/>
<ellipse class="k2e" rx="6.4" ry="4.0" transform="translate(322.4,457.4)rotate(32)"/>
<ellipse class="k2c" rx="5.6" ry="3.3" transform="translate(330.9,458.7)rotate(63)"/>
<ellipse class="k2f" rx="5.8" ry="4.0" transform="translate(319.7,452.1)rotate(102)"/>
<ellipse class="k2f" rx="5.4" ry="3.5" transform="translate(337.1,454.1)rotate(180)"/>
<ellipse class="k2f" rx="4.7" ry="4.4" transform="translate(333.6,471.4)rotate(94)"/>
<ellipse class="k2d" rx="6.7" ry="3.6" transform="translate(329.2,453.1)rotate(180)"/>
<ellipse class="k2d" rx="4.9" ry="4.1" transform="translate(332.5,433.5)rotate(176)"/>
<ellipse class="k2e" rx="6.0" ry="3.6" transform="translate(330.8,466.6)rotate(61)"/>
<ellipse class="k2e" rx="5.8" ry="4.2" transform="translate(321.6,449.2)rotate(28)"/>
<ellipse class="k2e" rx="5.5" ry="3.8" transform="translate(329.0,442.8)rotate(132)"/>
<ellipse class="k2f" rx="5.6" ry="3.7" transform="translate(325.5,439.7)rotate(108)"/>
<ellipse class="k2d" rx="5.0" ry="3.5" transform="translate(334.4,471.4)rotate(62)"/>
<ellipse class="k2d" rx="5.1" ry="3.0" transform="translate(335.5,434.9)rotate(22)"/>
<ellipse class="k2c" rx="6.6" ry="3.6" transform="translate(334.5,466.8)rotate(43)"/>
<ellipse class="k2d" rx="5.6" ry="3.4" transform="translate(336.5,443.9)rotate(24)"/>
<ellipse class="k2f" rx="6.7" ry="3.2" transform="translate(337.5,448.9)rotate(54)"/>
<ellipse class="k2f" rx="5.8" ry="4.2" transform="translate(332.2,480.6)rotate(180)"/>
<ellipse class="k2e" rx="6.6" ry="3.0" transform="translate(331.7,480.8)rotate(174)"/>
<ellipse class="k2d" rx="5.2" ry="4.2" transform="translate(332.4,472.8)rotate(72)"/>
<ellipse class="k2e" rx="5.6" ry="3.2" transform="translate(323.7,467.2)rotate(120)"/>
<ellipse class="k2c" rx="4.9" ry="3.8" transform="translate(339.6,461.2)rotate(43)"/>
</g>
<ellipse class="k30" rx="4.5" ry="3.0" transform="translate(277.5,402.0)rotate(-40)"/>
<defs><linearGradient id="cg8" gradientUnits="userSpaceOnUse" x1="423" y1="408" x2="448" y2="488"><stop offset="0" stop-color="#f0e6e2"/><stop offset="0.5" stop-color="#e2d2cc"/><stop offset="1" stop-color="#b8aca8"/></linearGradient><linearGradient id="sh8" gradientUnits="userSpaceOnUse" x1="433" y1="393" x2="408" y2="478"><stop offset="0" stop-color="#fff" stop-opacity="0.3"/><stop offset="0.5" stop-color="#888" stop-opacity="0"/><stop offset="1" stop-color="#44484e" stop-opacity="0.7"/></linearGradient><linearGradient id="fi8" gradientUnits="userSpaceOnUse" x1="473" y1="433" x2="433" y2="473"><stop offset="0" stop-color="#c6b6b2"/><stop offset="1" stop-color="#e8dad6"/></linearGradient><clipPath id="cc8"><path d="M379.9,435.0 L382.3,422.0 L387.2,410.5 L393.8,402.0 L400.0,395.5 L407.7,392.0 L465.3,421.6 L467.2,422.6 L468.8,423.8 L470.4,425.3 L471.9,426.9 L473.2,428.8 L474.3,430.8 L475.3,433.0 L476.1,435.4 L476.8,437.9 L477.2,440.5 L477.5,443.2 L477.6,446.0 L477.5,448.8 L477.2,451.7 L476.7,454.5 L476.1,457.4 L475.3,460.2 L474.3,463.0 L473.1,465.7 L471.8,468.3 L470.3,470.8 L468.8,473.1 L467.1,475.3 L465.2,477.4 L463.3,479.2 L461.4,480.8 L459.3,482.3 L457.2,483.5 L455.1,484.5 L452.9,485.2 L450.8,485.7 L448.7,485.9 L446.6,485.9 L444.5,485.7 L442.6,485.1 L440.7,484.4 L438.8,483.4 L386.2,452.0 L381.8,448.0 L379.9,443.0 Z"/></clipPath><clipPath id="cf8"><ellipse cx="453" cy="453" rx="21.9" ry="32.3" transform="rotate(18 453 453)"/></clipPath></defs>
<path d="M379.9,435.0 L382.3,422.0 L387.2,410.5 L393.8,402.0 L400.0,395.5 L407.7,392.0 L465.3,421.6 L467.2,422.6 L468.8,423.8 L470.4,425.3 L471.9,426.9 L473.2,428.8 L474.3,430.8 L475.3,433.0 L476.1,435.4 L476.8,437.9 L477.2,440.5 L477.5,443.2 L477.6,446.0 L477.5,448.8 L477.2,451.7 L476.7,454.5 L476.1,457.4 L475.3,460.2 L474.3,463.0 L473.1,465.7 L471.8,468.3 L470.3,470.8 L468.8,473.1 L467.1,475.3 L465.2,477.4 L463.3,479.2 L461.4,480.8 L459.3,482.3 L457.2,483.5 L455.1,484.5 L452.9,485.2 L450.8,485.7 L448.7,485.9 L446.6,485.9 L444.5,485.7 L442.6,485.1 L440.7,484.4 L438.8,483.4 L386.2,452.0 L381.8,448.0 L379.9,443.0 Z" fill="url(#cg8)"/>
<g clip-path="url(#cc8)"><g filter="url(#bl)">
<path d="M404.8,458.7 L401.5,457.6 L398.5,455.6 L395.9,452.7 L393.7,449.1 L392.1,445.0 L391.0,440.3 L390.6,435.3 L390.7,430.1 L391.5,424.8 L392.9,419.7 L394.8,414.9 L397.2,410.5 L400.1,406.6 L403.3,403.5 L406.7,401.1 L410.2,399.5 L413.8,398.9 L417.3,399.1" fill="none" stroke="#dcc6be" stroke-width="3.0" stroke-opacity="0.8"/>
<path d="M439.1,482.8 L435.5,481.1 L432.2,478.5 L429.5,475.0 L427.3,470.8 L425.8,466.0 L425.1,460.8 L425.0,455.2 L425.7,449.5 L427.1,443.9 L429.2,438.4 L431.9,433.4 L435.1,428.8 L438.8,425.0 L442.7,421.9 L446.9,419.7 L451.1,418.4 L455.2,418.1 L459.2,418.8" fill="none" stroke="#dec4ba" stroke-width="4.4" stroke-opacity="0.8"/>
<path d="M396.4,452.8 L393.2,451.8 L390.3,449.9 L387.7,447.2 L385.5,443.8 L383.8,439.7 L382.7,435.2 L382.2,430.3 L382.2,425.3 L382.9,420.1 L384.1,415.1 L385.9,410.3 L388.1,406.0 L390.8,402.1 L393.7,399.0 L397.0,396.5 L400.4,394.9 L403.8,394.2 L407.2,394.4" fill="none" stroke="#dec4ba" stroke-width="2.8" stroke-opacity="0.8"/>
<path d="M417.3,467.5 L413.8,466.1 L410.7,463.9 L408.0,460.8 L405.9,457.0 L404.3,452.6 L403.3,447.8 L403.0,442.6 L403.3,437.2 L404.3,431.8 L405.9,426.5 L408.1,421.6 L410.8,417.1 L414.0,413.3 L417.4,410.1 L421.1,407.8 L424.9,406.3 L428.7,405.8 L432.3,406.2" fill="none" stroke="#d0d4dc" stroke-width="3.6" stroke-opacity="0.8"/>
<path d="M420.7,469.8 L417.2,468.5 L414.1,466.2 L411.4,463.1 L409.2,459.2 L407.6,454.8 L406.7,449.8 L406.4,444.5 L406.8,439.1 L407.9,433.7 L409.5,428.4 L411.8,423.4 L414.6,419.0 L417.8,415.1 L421.3,411.9 L425.1,409.6 L428.9,408.2 L432.8,407.7 L436.5,408.1" fill="none" stroke="#e8d4cc" stroke-width="3.6" stroke-opacity="0.8"/>
<path d="M400.0,455.3 L396.7,454.2 L393.8,452.3 L391.1,449.5 L389.0,446.0 L387.3,441.9 L386.2,437.4 L385.7,432.4 L385.8,427.3 L386.5,422.1 L387.8,417.1 L389.6,412.3 L391.9,407.9 L394.7,404.0 L397.8,400.9 L401.1,398.4 L404.5,396.9 L408.0,396.2 L411.4,396.4" fill="none" stroke="#e2ccc4" stroke-width="2.6" stroke-opacity="0.8"/>
<path d="M401.0,456.1 L397.8,455.0 L394.8,453.0 L392.2,450.2 L390.0,446.7 L388.4,442.6 L387.3,438.0 L386.8,433.1 L386.9,427.9 L387.6,422.7 L388.9,417.6 L390.8,412.8 L393.1,408.5 L395.9,404.6 L399.0,401.4 L402.3,399.0 L405.8,397.4 L409.3,396.8 L412.7,397.0" fill="none" stroke="#e2ccc4" stroke-width="2.1" stroke-opacity="0.8"/>
<path d="M411.5,463.4 L408.1,462.1 L405.0,460.0 L402.4,457.0 L400.2,453.4 L398.6,449.1 L397.5,444.3 L397.2,439.2 L397.4,433.9 L398.3,428.5 L399.8,423.4 L401.9,418.5 L404.5,414.0 L407.5,410.2 L410.8,407.0 L414.3,404.6 L418.0,403.1 L421.7,402.5 L425.3,402.9" fill="none" stroke="#dcc6be" stroke-width="4.8" stroke-opacity="0.8"/>
<path d="M403.2,457.6 L399.9,456.4 L396.9,454.4 L394.3,451.6 L392.1,448.1 L390.5,443.9 L389.4,439.3 L388.9,434.3 L389.0,429.1 L389.8,423.9 L391.1,418.8 L393.0,414.0 L395.4,409.6 L398.2,405.7 L401.4,402.6 L404.8,400.2 L408.3,398.6 L411.8,397.9 L415.3,398.2" fill="none" stroke="#dec4ba" stroke-width="4.0" stroke-opacity="0.8"/>
<path d="M438.1,482.0 L434.4,480.3 L431.2,477.8 L428.4,474.3 L426.3,470.2 L424.8,465.4 L424.0,460.2 L424.0,454.6 L424.6,448.9 L426.0,443.3 L428.1,437.9 L430.7,432.8 L433.9,428.3 L437.5,424.4 L441.4,421.3 L445.6,419.1 L449.8,417.8 L453.9,417.5 L457.9,418.2" fill="none" stroke="#e8d4cc" stroke-width="2.7" stroke-opacity="0.8"/>
<path d="M403.4,457.7 L400.1,456.6 L397.1,454.6 L394.5,451.7 L392.3,448.2 L390.6,444.1 L389.6,439.4 L389.1,434.4 L389.2,429.2 L390.0,424.0 L391.3,418.9 L393.2,414.1 L395.6,409.7 L398.4,405.8 L401.6,402.7 L405.0,400.3 L408.5,398.7 L412.0,398.0 L415.5,398.3" fill="none" stroke="#e2ccc4" stroke-width="2.7" stroke-opacity="0.8"/>
<path d="M415.3,466.0 L411.8,464.7 L408.7,462.5 L406.1,459.5 L403.9,455.8 L402.3,451.4 L401.3,446.6 L401.0,441.4 L401.3,436.0 L402.2,430.7 L403.8,425.4 L406.0,420.5 L408.6,416.1 L411.7,412.2 L415.1,409.0 L418.7,406.7 L422.5,405.2 L426.3,404.6 L429.9,405.0" fill="none" stroke="#e2ccc4" stroke-width="2.8" stroke-opacity="0.8"/>
<path d="M420.1,469.4 L416.6,468.0 L413.5,465.8 L410.8,462.7 L408.6,458.8 L407.0,454.4 L406.1,449.4 L405.8,444.2 L406.2,438.8 L407.2,433.3 L408.9,428.1 L411.2,423.1 L413.9,418.6 L417.1,414.8 L420.6,411.6 L424.4,409.3 L428.2,407.8 L432.1,407.3 L435.8,407.8" fill="none" stroke="#dcc6be" stroke-width="4.7" stroke-opacity="0.8"/>
<path d="M432.4,478.1 L428.8,476.5 L425.6,474.0 L422.9,470.7 L420.7,466.6 L419.2,461.9 L418.4,456.8 L418.2,451.4 L418.8,445.8 L420.1,440.2 L422.0,434.8 L424.6,429.8 L427.6,425.2 L431.1,421.4 L434.9,418.2 L438.9,416.0 L443.0,414.7 L447.0,414.3 L450.9,414.9" fill="none" stroke="#e8d4cc" stroke-width="2.2" stroke-opacity="0.8"/>
<path d="M428.8,475.6 L425.3,474.0 L422.1,471.6 L419.4,468.4 L417.2,464.4 L415.7,459.8 L414.8,454.7 L414.6,449.3 L415.1,443.7 L416.3,438.2 L418.2,432.8 L420.6,427.8 L423.6,423.3 L427.0,419.4 L430.7,416.3 L434.7,414.0 L438.7,412.7 L442.7,412.3 L446.5,412.8" fill="none" stroke="#e2ccc4" stroke-width="3.5" stroke-opacity="0.8"/>
<path d="M418.6,468.4 L415.1,467.0 L412.0,464.7 L409.3,461.7 L407.1,457.9 L405.5,453.4 L404.6,448.5 L404.3,443.3 L404.6,437.9 L405.7,432.5 L407.3,427.2 L409.5,422.3 L412.2,417.8 L415.4,413.9 L418.9,410.8 L422.6,408.5 L426.4,407.0 L430.2,406.5 L433.9,406.9" fill="none" stroke="#e8d4cc" stroke-width="2.4" stroke-opacity="0.8"/>
<path d="M431.1,477.2 L427.5,475.6 L424.3,473.1 L421.6,469.8 L419.4,465.8 L417.9,461.2 L417.1,456.0 L416.9,450.6 L417.5,445.0 L418.7,439.5 L420.6,434.1 L423.1,429.1 L426.2,424.5 L429.6,420.7 L433.4,417.5 L437.4,415.3 L441.4,413.9 L445.4,413.6 L449.3,414.2" fill="none" stroke="#dcc6be" stroke-width="2.1" stroke-opacity="0.8"/>
<path d="M441.1,484.2 L437.5,482.4 L434.2,479.8 L431.4,476.3 L429.3,472.1 L427.8,467.3 L427.1,462.0 L427.1,456.4 L427.8,450.7 L429.3,445.0 L431.4,439.5 L434.1,434.5 L437.4,429.9 L441.0,426.0 L445.0,423.0 L449.2,420.8 L453.5,419.5 L457.7,419.3 L461.7,420.0" fill="none" stroke="#e8d4cc" stroke-width="3.7" stroke-opacity="0.8"/>
<path d="M409.9,462.3 L406.6,461.1 L403.5,459.0 L400.9,456.0 L398.7,452.4 L397.1,448.1 L396.0,443.4 L395.6,438.3 L395.9,433.0 L396.7,427.7 L398.2,422.5 L400.3,417.6 L402.8,413.2 L405.7,409.3 L409.0,406.2 L412.6,403.8 L416.2,402.3 L419.9,401.7 L423.4,402.0" fill="none" stroke="#dec4ba" stroke-width="3.2" stroke-opacity="0.8"/>
<path d="M412.7,464.2 L409.3,463.0 L406.2,460.8 L403.5,457.8 L401.4,454.1 L399.7,449.8 L398.7,445.0 L398.4,439.9 L398.6,434.5 L399.5,429.2 L401.1,424.0 L403.2,419.1 L405.8,414.7 L408.8,410.8 L412.1,407.6 L415.7,405.3 L419.4,403.8 L423.1,403.2 L426.7,403.5" fill="none" stroke="#dec4ba" stroke-width="2.8" stroke-opacity="0.8"/>
<path d="M406.8,460.1 L403.4,458.9 L400.4,456.8 L397.8,454.0 L395.6,450.4 L394.0,446.2 L392.9,441.5 L392.5,436.4 L392.7,431.2 L393.5,425.9 L394.9,420.8 L396.9,415.9 L399.3,411.5 L402.2,407.7 L405.4,404.5 L408.9,402.1 L412.5,400.6 L416.1,399.9 L419.6,400.2" fill="none" stroke="#dec4ba" stroke-width="2.6" stroke-opacity="0.8"/>
<path d="M432.2,477.9 L428.6,476.4 L425.4,473.9 L422.7,470.6 L420.5,466.5 L419.0,461.8 L418.2,456.7 L418.1,451.3 L418.6,445.7 L419.9,440.1 L421.8,434.7 L424.4,429.7 L427.4,425.1 L430.9,421.3 L434.7,418.2 L438.7,415.9 L442.8,414.6 L446.8,414.2 L450.7,414.8" fill="none" stroke="#e2ccc4" stroke-width="3.7" stroke-opacity="0.8"/>
<path d="M403.9,458.1 L400.6,456.9 L397.6,454.9 L395.0,452.1 L392.8,448.5 L391.1,444.4 L390.1,439.7 L389.6,434.7 L389.8,429.5 L390.5,424.3 L391.9,419.2 L393.8,414.4 L396.2,410.0 L399.0,406.1 L402.2,402.9 L405.6,400.5 L409.1,399.0 L412.7,398.3 L416.1,398.6" fill="none" stroke="#e2ccc4" stroke-width="2.2" stroke-opacity="0.8"/>
<path d="M439.7,483.2 L436.1,481.5 L432.8,478.9 L430.1,475.4 L427.9,471.2 L426.5,466.4 L425.7,461.2 L425.7,455.6 L426.4,449.9 L427.8,444.2 L429.9,438.8 L432.6,433.7 L435.8,429.2 L439.4,425.3 L443.4,422.2 L447.6,420.0 L451.8,418.7 L456.0,418.5 L460.0,419.2" fill="none" stroke="#dec4ba" stroke-width="4.8" stroke-opacity="0.8"/>
<path d="M421.8,470.6 L418.3,469.2 L415.2,466.9 L412.5,463.8 L410.3,459.9 L408.7,455.4 L407.8,450.5 L407.5,445.2 L407.9,439.7 L409.0,434.3 L410.7,429.0 L413.0,424.0 L415.8,419.6 L419.1,415.7 L422.6,412.5 L426.4,410.2 L430.3,408.8 L434.1,408.3 L437.9,408.8" fill="none" stroke="#d0d4dc" stroke-width="3.8" stroke-opacity="0.8"/>
<path d="M402.8,457.3 L399.5,456.2 L396.5,454.2 L393.9,451.4 L391.7,447.8 L390.1,443.7 L389.0,439.1 L388.5,434.1 L388.7,428.9 L389.4,423.7 L390.8,418.6 L392.6,413.8 L395.0,409.4 L397.8,405.6 L401.0,402.4 L404.3,400.0 L407.8,398.4 L411.4,397.7 L414.8,398.0" fill="none" stroke="#d0d4dc" stroke-width="4.9" stroke-opacity="0.8"/>
<ellipse class="k3d" rx="7.0" ry="2.5" transform="translate(388.9,467.3)rotate(70)"/>
<ellipse class="k31" rx="3.9" ry="2.6" transform="translate(422.9,439.9)rotate(70)"/>
<ellipse class="k31" rx="5.8" ry="3.7" transform="translate(379.7,451.0)rotate(70)"/>
<ellipse class="k3e" rx="4.2" ry="2.2" transform="translate(443.3,450.1)rotate(70)"/>
<ellipse class="k3d" rx="5.9" ry="3.2" transform="translate(437.7,447.5)rotate(70)"/>
<ellipse class="k3e" rx="4.4" ry="3.4" transform="translate(401.9,442.6)rotate(70)"/>
<ellipse class="k3d" rx="6.4" ry="2.3" transform="translate(456.1,462.4)rotate(70)"/>
<ellipse class="k3d" rx="6.6" ry="3.6" transform="translate(443.8,410.0)rotate(70)"/>
<ellipse class="k3f" rx="3.7" ry="3.6" transform="translate(449.8,400.9)rotate(70)"/>
<ellipse class="k31" rx="3.3" ry="4.0" transform="translate(436.1,433.8)rotate(70)"/>
<ellipse class="k31" rx="7.0" ry="3.3" transform="translate(411.0,452.2)rotate(70)"/>
<ellipse class="k3f" rx="4.0" ry="2.3" transform="translate(411.0,429.2)rotate(70)"/>
<ellipse class="k31" rx="7.0" ry="3.9" transform="translate(423.0,473.6)rotate(70)"/>
<ellipse class="k3e" rx="5.2" ry="3.3" transform="translate(410.9,394.3)rotate(70)"/>
</g>
<ellipse class="k36" rx="3.1" ry="1.1" transform="translate(404.0,421.0)rotate(42)"/>
<ellipse class="k37" rx="3.6" ry="2.7" transform="translate(404.0,421.0)rotate(30)"/>
<ellipse class="k36" rx="1.9" ry="1.2" transform="translate(402.9,411.4)rotate(69)"/>
<ellipse class="k37" rx="3.8" ry="2.1" transform="translate(402.9,411.4)rotate(30)"/>
<ellipse class="k36" rx="2.8" ry="1.0" transform="translate(410.2,418.9)rotate(46)"/>
<ellipse class="k37" rx="4.4" ry="2.5" transform="translate(410.2,418.9)rotate(30)"/>
<ellipse class="k36" rx="2.9" ry="1.1" transform="translate(406.5,397.9)rotate(59)"/>
<ellipse class="k37" rx="4.7" ry="3.0" transform="translate(406.5,397.9)rotate(30)"/>
<ellipse class="k36" rx="2.6" ry="1.4" transform="translate(402.6,412.6)rotate(64)"/>
<ellipse class="k37" rx="4.2" ry="2.4" transform="translate(402.6,412.6)rotate(30)"/>
<ellipse class="k36" rx="2.9" ry="1.1" transform="translate(410.7,420.1)rotate(60)"/>
<ellipse class="k37" rx="4.2" ry="2.8" transform="translate(410.7,420.1)rotate(30)"/>
<ellipse class="k36" rx="1.8" ry="1.7" transform="translate(435.6,410.7)rotate(79)"/>
<ellipse class="k37" rx="4.0" ry="2.6" transform="translate(435.6,410.7)rotate(30)"/>
<ellipse class="k36" rx="2.7" ry="1.6" transform="translate(404.1,425.7)rotate(76)"/>
<ellipse class="k37" rx="4.0" ry="2.5" transform="translate(404.1,425.7)rotate(30)"/>
<ellipse class="k36" rx="2.5" ry="1.7" transform="translate(408.0,473.9)rotate(79)"/>
<ellipse class="k37" rx="3.5" ry="2.8" transform="translate(408.0,473.9)rotate(30)"/>
<ellipse class="k36" rx="2.7" ry="1.1" transform="translate(387.7,434.8)rotate(63)"/>
<ellipse class="k37" rx="4.5" ry="2.3" transform="translate(387.7,434.8)rotate(30)"/>
<ellipse class="k36" rx="2.0" ry="1.2" transform="translate(413.3,426.7)rotate(78)"/>
<ellipse class="k37" rx="4.5" ry="2.5" transform="translate(413.3,426.7)rotate(30)"/>
<ellipse class="k36" rx="2.9" ry="1.3" transform="translate(429.3,461.9)rotate(62)"/>
<ellipse class="k37" rx="4.0" ry="2.1" transform="translate(429.3,461.9)rotate(30)"/>
<ellipse class="k36" rx="2.3" ry="1.7" transform="translate(436.5,401.4)rotate(52)"/>
<ellipse class="k37" rx="4.9" ry="2.0" transform="translate(436.5,401.4)rotate(30)"/>
<ellipse class="k36" rx="2.7" ry="1.6" transform="translate(390.0,430.8)rotate(76)"/>
<ellipse class="k37" rx="4.7" ry="2.2" transform="translate(390.0,430.8)rotate(30)"/>
<ellipse class="k36" rx="2.5" ry="1.3" transform="translate(440.5,398.7)rotate(41)"/>
<ellipse class="k37" rx="3.8" ry="3.0" transform="translate(440.5,398.7)rotate(30)"/>
<ellipse class="k36" rx="3.2" ry="1.6" transform="translate(439.2,422.6)rotate(41)"/>
<ellipse class="k37" rx="4.4" ry="2.2" transform="translate(439.2,422.6)rotate(30)"/>
<path d="M379.9,435.0 L382.3,422.0 L387.2,410.5 L393.8,402.0 L400.0,395.5 L407.7,392.0 L465.3,421.6 L467.2,422.6 L468.8,423.8 L470.4,425.3 L471.9,426.9 L473.2,428.8 L474.3,430.8 L475.3,433.0 L476.1,435.4 L476.8,437.9 L477.2,440.5 L477.5,443.2 L477.6,446.0 L477.5,448.8 L477.2,451.7 L476.7,454.5 L476.1,457.4 L475.3,460.2 L474.3,463.0 L473.1,465.7 L471.8,468.3 L470.3,470.8 L468.8,473.1 L467.1,475.3 L465.2,477.4 L463.3,479.2 L461.4,480.8 L459.3,482.3 L457.2,483.5 L455.1,484.5 L452.9,485.2 L450.8,485.7 L448.7,485.9 L446.6,485.9 L444.5,485.7 L442.6,485.1 L440.7,484.4 L438.8,483.4 L386.2,452.0 L381.8,448.0 L379.9,443.0 Z" fill="url(#sh8)"/>
</g>
<ellipse cx="453" cy="453" rx="23.4" ry="33.8" transform="rotate(18 453 453)" fill="#b8aaa6"/>
<ellipse cx="451.8" cy="453.5" rx="21.2" ry="31.999999999999996" transform="rotate(18 453 453)" fill="url(#fi8)"/>
<g clip-path="url(#cf8)">
<ellipse class="k40" rx="4.3" ry="1.7" transform="translate(445.2,476.7)rotate(-49)"/>
<ellipse class="k41" rx="4.4" ry="2.2" transform="translate(449.2,438.2)rotate(-26)"/>
<ellipse class="k42" rx="3.9" ry="2.0" transform="translate(446.6,470.7)rotate(-33)"/>
<ellipse class="k43" rx="4.5" ry="1.5" transform="translate(452.8,432.8)rotate(19)"/>
<ellipse class="k41" rx="5.5" ry="1.6" transform="translate(457.2,466.0)rotate(26)"/>
<ellipse class="k40" rx="5.6" ry="2.1" transform="translate(447.1,431.5)rotate(-38)"/>
<ellipse class="k41" rx="4.0" ry="1.7" transform="translate(441.4,456.7)rotate(-41)"/>
<ellipse class="k40" rx="4.2" ry="1.7" transform="translate(443.7,443.9)rotate(18)"/>
<ellipse class="k42" rx="4.4" ry="2.2" transform="translate(437.9,460.1)rotate(8)"/>
<ellipse class="k40" rx="5.4" ry="1.8" transform="translate(440.8,469.5)rotate(18)"/>
<ellipse class="k41" rx="5.5" ry="1.5" transform="translate(440.1,442.4)rotate(-12)"/>
<ellipse class="k44" rx="5.0" ry="1.9" transform="translate(452.1,457.1)rotate(12)"/>
<ellipse class="k44" rx="5.0" ry="1.6" transform="translate(443.2,448.9)rotate(-49)"/>
<ellipse class="k41" rx="4.3" ry="1.4" transform="translate(450.1,476.6)rotate(3)"/>
<ellipse class="k41" rx="5.2" ry="1.6" transform="translate(435.6,447.2)rotate(31)"/>
<ellipse class="k40" rx="5.1" ry="1.8" transform="translate(457.1,445.2)rotate(-2)"/>
<ellipse class="k44" rx="5.7" ry="2.0" transform="translate(449.7,443.8)rotate(-11)"/>
<ellipse class="k40" rx="4.3" ry="1.6" transform="translate(442.1,472.0)rotate(-24)"/>
<ellipse class="k42" rx="5.5" ry="1.5" transform="translate(453.7,437.1)rotate(1)"/>
<ellipse class="k42" rx="3.9" ry="1.9" transform="translate(458.0,455.0)rotate(-6)"/>
<ellipse class="k42" rx="5.9" ry="1.9" transform="translate(454.5,437.3)rotate(32)"/>
<ellipse class="k42" rx="3.9" ry="2.0" transform="translate(448.2,470.8)rotate(-12)"/>
<ellipse class="k43" rx="5.3" ry="1.8" transform="translate(438.4,450.1)rotate(-19)"/>
<ellipse class="k41" rx="5.2" ry="1.9" transform="translate(456.6,454.0)rotate(-45)"/>
<ellipse class="k41" rx="5.8" ry="1.9" transform="translate(437.9,465.0)rotate(17)"/>
<ellipse class="k44" rx="4.0" ry="2.1" transform="translate(442.9,450.4)rotate(-8)"/>
<ellipse class="k43" rx="4.6" ry="1.6" transform="translate(442.7,444.5)rotate(40)"/>
<ellipse class="k43" rx="5.1" ry="1.8" transform="translate(455.5,441.1)rotate(-46)"/>
<ellipse class="k40" rx="3.9" ry="1.7" transform="translate(447.4,467.6)rotate(36)"/>
<ellipse class="k40" rx="5.4" ry="1.5" transform="translate(453.2,437.2)rotate(-1)"/>
<ellipse class="k42" rx="5.5" ry="2.0" transform="translate(457.3,460.8)rotate(2)"/>
<ellipse class="k41" rx="5.8" ry="1.8" transform="translate(442.3,443.8)rotate(-18)"/>
<ellipse class="k40" rx="5.8" ry="2.2" transform="translate(440.2,469.5)rotate(30)"/>
<ellipse class="k41" rx="4.4" ry="2.0" transform="translate(447.4,471.6)rotate(-5)"/>
<ellipse class="k42" rx="5.7" ry="2.1" transform="translate(453.7,448.3)rotate(-4)"/>
<ellipse class="k40" rx="5.1" ry="2.2" transform="translate(448.2,454.6)rotate(-22)"/>
</g>
<g style="font-family:'Liberation Sans',sans-serif">
<rect x="123.2" y="312.40" width="4" height="3.53" fill="#2b5688"/>
<rect x="123.2" y="315.63" width="4" height="3.53" fill="#3a6898"/>
<rect x="123.2" y="318.85" width="4" height="3.53" fill="#4f7fa8"/>
<rect x="123.2" y="322.08" width="4" height="3.53" fill="#6894b8"/>
<rect x="123.2" y="325.31" width="4" height="3.53" fill="#86acc8"/>
<rect x="123.2" y="328.53" width="4" height="3.53" fill="#a8c8da"/>
<rect x="123.2" y="331.76" width="4" height="3.53" fill="#cfe4ec"/>
<rect x="123.2" y="334.99" width="4" height="3.53" fill="#f4f4f2"/>
<rect x="123.2" y="338.21" width="4" height="3.53" fill="#f6ece6"/>
<rect x="123.2" y="341.44" width="4" height="3.53" fill="#f0d4c8"/>
<rect x="123.2" y="344.67" width="4" height="3.53" fill="#e8b8a6"/>
<rect x="123.2" y="347.89" width="4" height="3.53" fill="#e29a86"/>
<rect x="123.2" y="351.12" width="4" height="3.53" fill="#d87868"/>
<rect x="123.2" y="354.35" width="4" height="3.53" fill="#c8504a"/>
<rect x="123.2" y="357.57" width="4" height="3.53" fill="#a82a2e"/>
<text x="129.7" y="315.11333333333334" font-size="3.1" text-anchor="start" fill="#888" font-weight="normal" >1.00</text>
<text x="129.7" y="318.34000000000003" font-size="3.1" text-anchor="start" fill="#888" font-weight="normal" >0.86</text>
<text x="129.7" y="321.56666666666666" font-size="3.1" text-anchor="start" fill="#888" font-weight="normal" >0.71</text>
<text x="129.7" y="324.79333333333335" font-size="3.1" text-anchor="start" fill="#888" font-weight="normal" >0.57</text>
<text x="129.7" y="328.02" font-size="3.1" text-anchor="start" fill="#888" font-weight="normal" >0.43</text>
<text x="129.7" y="331.24666666666667" font-size="3.1" text-anchor="start" fill="#888" font-weight="normal" >0.29</text>
<text x="129.7" y="334.47333333333336" font-size="3.1" text-anchor="start" fill="#888" font-weight="normal" >0.14</text>
<text x="129.7" y="337.70000000000005" font-size="3.1" text-anchor="start" fill="#888" font-weight="normal" >0.00</text>
<text x="129.7" y="340.9266666666667" font-size="3.1" text-anchor="start" fill="#888" font-weight="normal" >-0.14</text>
<text x="129.7" y="344.15333333333336" font-size="3.1" text-anchor="start" fill="#888" font-weight="normal" >-0.29</text>
<text x="129.7" y="347.38" font-size="3.1" text-anchor="start" fill="#888" font-weight="normal" >-0.43</text>
<text x="129.7" y="350.6066666666667" font-size="3.1" text-anchor="start" fill="#888" font-weight="normal" >-0.57</text>
<text x="129.7" y="353.83333333333337" font-size="3.1" text-anchor="start" fill="#888" font-weight="normal" >-0.71</text>
<text x="129.7" y="357.06000000000006" font-size="3.1" text-anchor="start" fill="#888" font-weight="normal" >-0.86</text>
<text x="129.7" y="360.2866666666667" font-size="3.1" text-anchor="start" fill="#888" font-weight="normal" >-1.00</text>
<rect x="242.5" y="312.00" width="4" height="3.58" fill="#2b5688"/>
<rect x="242.5" y="315.28" width="4" height="3.58" fill="#3a6898"/>
<rect x="242.5" y="318.56" width="4" height="3.58" fill="#4f7fa8"/>
<rect x="242.5" y="321.84" width="4" height="3.58" fill="#6894b8"/>
<rect x="242.5" y="325.12" width="4" height="3.58" fill="#86acc8"/>
<rect x="242.5" y="328.40" width="4" height="3.58" fill="#a8c8da"/>
<rect x="242.5" y="331.68" width="4" height="3.58" fill="#cfe4ec"/>
<rect x="242.5" y="334.96" width="4" height="3.58" fill="#f4f4f2"/>
<rect x="242.5" y="338.24" width="4" height="3.58" fill="#f6ece6"/>
<rect x="242.5" y="341.52" width="4" height="3.58" fill="#f0d4c8"/>
<rect x="242.5" y="344.80" width="4" height="3.58" fill="#e8b8a6"/>
<rect x="242.5" y="348.08" width="4" height="3.58" fill="#e29a86"/>
<rect x="242.5" y="351.36" width="4" height="3.58" fill="#d87868"/>
<rect x="242.5" y="354.64" width="4" height="3.58" fill="#c8504a"/>
<rect x="242.5" y="357.92" width="4" height="3.58" fill="#a82a2e"/>
<text x="249.0" y="314.74" font-size="3.1" text-anchor="start" fill="#888" font-weight="normal" >1.00</text>
<text x="249.0" y="318.02000000000004" font-size="3.1" text-anchor="start" fill="#888" font-weight="normal" >0.86</text>
<text x="249.0" y="321.3" font-size="3.1" text-anchor="start" fill="#888" font-weight="normal" >0.71</text>
<text x="249.0" y="324.58000000000004" font-size="3.1" text-anchor="start" fill="#888" font-weight="normal" >0.57</text>
<text x="249.0" y="327.86" font-size="3.1" text-anchor="start" fill="#888" font-weight="normal" >0.43</text>
<text x="249.0" y="331.14000000000004" font-size="3.1" text-anchor="start" fill="#888" font-weight="normal" >0.29</text>
<text x="249.0" y="334.42" font-size="3.1" text-anchor="start" fill="#888" font-weight="normal" >0.14</text>
<text x="249.0" y="337.70000000000005" font-size="3.1" text-anchor="start" fill="#888" font-weight="normal" >0.00</text>
<text x="249.0" y="340.98" font-size="3.1" text-anchor="start" fill="#888" font-weight="normal" >-0.14</text>
<text x="249.0" y="344.26" font-size="3.1" text-anchor="start" fill="#888" font-weight="normal" >-0.29</text>
<text x="249.0" y="347.54" font-size="3.1" text-anchor="start" fill="#888" font-weight="normal" >-0.43</text>
<text x="249.0" y="350.82" font-size="3.1" text-anchor="start" fill="#888" font-weight="normal" >-0.57</text>
<text x="249.0" y="354.1" font-size="3.1" text-anchor="start" fill="#888" font-weight="normal" >-0.71</text>
<text x="249.0" y="357.38" font-size="3.1" text-anchor="start" fill="#888" font-weight="normal" >-0.86</text>
<text x="249.0" y="360.66" font-size="3.1" text-anchor="start" fill="#888" font-weight="normal" >-1.00</text>
<rect x="363" y="311.50" width="4" height="3.60" fill="#2b5688"/>
<rect x="363" y="314.80" width="4" height="3.60" fill="#3a6898"/>
<rect x="363" y="318.10" width="4" height="3.60" fill="#4f7fa8"/>
<rect x="363" y="321.40" width="4" height="3.60" fill="#6894b8"/>
<rect x="363" y="324.70" width="4" height="3.60" fill="#86acc8"/>
<rect x="363" y="328.00" width="4" height="3.60" fill="#a8c8da"/>
<rect x="363" y="331.30" width="4" height="3.60" fill="#cfe4ec"/>
<rect x="363" y="334.60" width="4" height="3.60" fill="#f4f4f2"/>
<rect x="363" y="337.90" width="4" height="3.60" fill="#f6ece6"/>
<rect x="363" y="341.20" width="4" height="3.60" fill="#f0d4c8"/>
<rect x="363" y="344.50" width="4" height="3.60" fill="#e8b8a6"/>
<rect x="363" y="347.80" width="4" height="3.60" fill="#e29a86"/>
<rect x="363" y="351.10" width="4" height="3.60" fill="#d87868"/>
<rect x="363" y="354.40" width="4" height="3.60" fill="#c8504a"/>
<rect x="363" y="357.70" width="4" height="3.60" fill="#a82a2e"/>
<text x="369.5" y="314.25" font-size="3.1" text-anchor="start" fill="#888" font-weight="normal" >1.00</text>
<text x="369.5" y="317.55" font-size="3.1" text-anchor="start" fill="#888" font-weight="normal" >0.86</text>
<text x="369.5" y="320.85" font-size="3.1" text-anchor="start" fill="#888" font-weight="normal" >0.71</text>
<text x="369.5" y="324.15000000000003" font-size="3.1" text-anchor="start" fill="#888" font-weight="normal" >0.57</text>
<text x="369.5" y="327.45000000000005" font-size="3.1" text-anchor="start" fill="#888" font-weight="normal" >0.43</text>
<text x="369.5" y="330.75" font-size="3.1" text-anchor="start" fill="#888" font-weight="normal" >0.29</text>
<text x="369.5" y="334.05" font-size="3.1" text-anchor="start" fill="#888" font-weight="normal" >0.14</text>
<text x="369.5" y="337.35" font-size="3.1" text-anchor="start" fill="#888" font-weight="normal" >0.00</text>
<text x="369.5" y="340.65000000000003" font-size="3.1" text-anchor="start" fill="#888" font-weight="normal" >-0.14</text>
<text x="369.5" y="343.95000000000005" font-size="3.1" text-anchor="start" fill="#888" font-weight="normal" >-0.29</text>
<text x="369.5" y="347.25" font-size="3.1" text-anchor="start" fill="#888" font-weight="normal" >-0.43</text>
<text x="369.5" y="350.55" font-size="3.1" text-anchor="start" fill="#888" font-weight="normal" >-0.57</text>
<text x="369.5" y="353.85" font-size="3.1" text-anchor="start" fill="#888" font-weight="normal" >-0.71</text>
<text x="369.5" y="357.15000000000003" font-size="3.1" text-anchor="start" fill="#888" font-weight="normal" >-0.86</text>
<text x="369.5" y="360.45000000000005" font-size="3.1" text-anchor="start" fill="#888" font-weight="normal" >-1.00</text>
<rect x="483.8" y="311.00" width="4" height="3.70" fill="#2b5688"/>
<rect x="483.8" y="314.40" width="4" height="3.70" fill="#3a6898"/>
<rect x="483.8" y="317.80" width="4" height="3.70" fill="#4f7fa8"/>
<rect x="483.8" y="321.20" width="4" height="3.70" fill="#6894b8"/>
<rect x="483.8" y="324.60" width="4" height="3.70" fill="#86acc8"/>
<rect x="483.8" y="328.00" width="4" height="3.70" fill="#a8c8da"/>
<rect x="483.8" y="331.40" width="4" height="3.70" fill="#cfe4ec"/>
<rect x="483.8" y="334.80" width="4" height="3.70" fill="#f4f4f2"/>
<rect x="483.8" y="338.20" width="4" height="3.70" fill="#f6ece6"/>
<rect x="483.8" y="341.60" width="4" height="3.70" fill="#f0d4c8"/>
<rect x="483.8" y="345.00" width="4" height="3.70" fill="#e8b8a6"/>
<rect x="483.8" y="348.40" width="4" height="3.70" fill="#e29a86"/>
<rect x="483.8" y="351.80" width="4" height="3.70" fill="#d87868"/>
<rect x="483.8" y="355.20" width="4" height="3.70" fill="#c8504a"/>
<rect x="483.8" y="358.60" width="4" height="3.70" fill="#a82a2e"/>
<text x="490.3" y="313.8" font-size="3.1" text-anchor="start" fill="#888" font-weight="normal" >1.00</text>
<text x="490.3" y="317.20000000000005" font-size="3.1" text-anchor="start" fill="#888" font-weight="normal" >0.86</text>
<text x="490.3" y="320.6" font-size="3.1" text-anchor="start" fill="#888" font-weight="normal" >0.71</text>
<text x="490.3" y="324.0" font-size="3.1" text-anchor="start" fill="#888" font-weight="normal" >0.57</text>
<text x="490.3" y="327.40000000000003" font-size="3.1" text-anchor="start" fill="#888" font-weight="normal" >0.43</text>
<text x="490.3" y="330.8" font-size="3.1" text-anchor="start" fill="#888" font-weight="normal" >0.29</text>
<text x="490.3" y="334.20000000000005" font-size="3.1" text-anchor="start" fill="#888" font-weight="normal" >0.14</text>
<text x="490.3" y="337.6" font-size="3.1" text-anchor="start" fill="#888" font-weight="normal" >0.00</text>
<text x="490.3" y="341.0" font-size="3.1" text-anchor="start" fill="#888" font-weight="normal" >-0.14</text>
<text x="490.3" y="344.40000000000003" font-size="3.1" text-anchor="start" fill="#888" font-weight="normal" >-0.29</text>
<text x="490.3" y="347.8" font-size="3.1" text-anchor="start" fill="#888" font-weight="normal" >-0.43</text>
<text x="490.3" y="351.20000000000005" font-size="3.1" text-anchor="start" fill="#888" font-weight="normal" >-0.57</text>
<text x="490.3" y="354.6" font-size="3.1" text-anchor="start" fill="#888" font-weight="normal" >-0.71</text>
<text x="490.3" y="358.0" font-size="3.1" text-anchor="start" fill="#888" font-weight="normal" >-0.86</text>
<text x="490.3" y="361.40000000000003" font-size="3.1" text-anchor="start" fill="#888" font-weight="normal" >-1.00</text>
<rect x="122.5" y="410.00" width="4" height="3.57" fill="#2b5688"/>
<rect x="122.5" y="413.27" width="4" height="3.57" fill="#3a6898"/>
<rect x="122.5" y="416.53" width="4" height="3.57" fill="#4f7fa8"/>
<rect x="122.5" y="419.80" width="4" height="3.57" fill="#6894b8"/>
<rect x="122.5" y="423.07" width="4" height="3.57" fill="#86acc8"/>
<rect x="122.5" y="426.33" width="4" height="3.57" fill="#a8c8da"/>
<rect x="122.5" y="429.60" width="4" height="3.57" fill="#cfe4ec"/>
<rect x="122.5" y="432.87" width="4" height="3.57" fill="#f4f4f2"/>
<rect x="122.5" y="436.13" width="4" height="3.57" fill="#f6ece6"/>
<rect x="122.5" y="439.40" width="4" height="3.57" fill="#f0d4c8"/>
<rect x="122.5" y="442.67" width="4" height="3.57" fill="#e8b8a6"/>
<rect x="122.5" y="445.93" width="4" height="3.57" fill="#e29a86"/>
<rect x="122.5" y="449.20" width="4" height="3.57" fill="#d87868"/>
<rect x="122.5" y="452.47" width="4" height="3.57" fill="#c8504a"/>
<rect x="122.5" y="455.73" width="4" height="3.57" fill="#a82a2e"/>
<text x="129.0" y="412.73333333333335" font-size="3.1" text-anchor="start" fill="#888" font-weight="normal" >1.00</text>
<text x="129.0" y="416.0" font-size="3.1" text-anchor="start" fill="#888" font-weight="normal" >0.86</text>
<text x="129.0" y="419.2666666666667" font-size="3.1" text-anchor="start" fill="#888" font-weight="normal" >0.71</text>
<text x="129.0" y="422.53333333333336" font-size="3.1" text-anchor="start" fill="#888" font-weight="normal" >0.57</text>
<text x="129.0" y="425.8" font-size="3.1" text-anchor="start" fill="#888" font-weight="normal" >0.43</text>
<text x="129.0" y="429.06666666666666" font-size="3.1" text-anchor="start" fill="#888" font-weight="normal" >0.29</text>
<text x="129.0" y="432.33333333333337" font-size="3.1" text-anchor="start" fill="#888" font-weight="normal" >0.14</text>
<text x="129.0" y="435.6" font-size="3.1" text-anchor="start" fill="#888" font-weight="normal" >0.00</text>
<text x="129.0" y="438.8666666666667" font-size="3.1" text-anchor="start" fill="#888" font-weight="normal" >-0.14</text>
<text x="129.0" y="442.1333333333333" font-size="3.1" text-anchor="start" fill="#888" font-weight="normal" >-0.29</text>
<text x="129.0" y="445.40000000000003" font-size="3.1" text-anchor="start" fill="#888" font-weight="normal" >-0.43</text>
<text x="129.0" y="448.6666666666667" font-size="3.1" text-anchor="start" fill="#888" font-weight="normal" >-0.57</text>
<text x="129.0" y="451.93333333333334" font-size="3.1" text-anchor="start" fill="#888" font-weight="normal" >-0.71</text>
<text x="129.0" y="455.20000000000005" font-size="3.1" text-anchor="start" fill="#888" font-weight="normal" >-0.86</text>
<text x="129.0" y="458.4666666666667" font-size="3.1" text-anchor="start" fill="#888" font-weight="normal" >-1.00</text>
<rect x="243.7" y="408.70" width="4" height="3.55" fill="#2b5688"/>
<rect x="243.7" y="411.95" width="4" height="3.55" fill="#3a6898"/>
<rect x="243.7" y="415.21" width="4" height="3.55" fill="#4f7fa8"/>
<rect x="243.7" y="418.46" width="4" height="3.55" fill="#6894b8"/>
<rect x="243.7" y="421.71" width="4" height="3.55" fill="#86acc8"/>
<rect x="243.7" y="424.97" width="4" height="3.55" fill="#a8c8da"/>
<rect x="243.7" y="428.22" width="4" height="3.55" fill="#cfe4ec"/>
<rect x="243.7" y="431.47" width="4" height="3.55" fill="#f4f4f2"/>
<rect x="243.7" y="434.73" width="4" height="3.55" fill="#f6ece6"/>
<rect x="243.7" y="437.98" width="4" height="3.55" fill="#f0d4c8"/>
<rect x="243.7" y="441.23" width="4" height="3.55" fill="#e8b8a6"/>
<rect x="243.7" y="444.49" width="4" height="3.55" fill="#e29a86"/>
<rect x="243.7" y="447.74" width="4" height="3.55" fill="#d87868"/>
<rect x="243.7" y="450.99" width="4" height="3.55" fill="#c8504a"/>
<rect x="243.7" y="454.25" width="4" height="3.55" fill="#a82a2e"/>
<text x="250.2" y="411.4266666666667" font-size="3.1" text-anchor="start" fill="#888" font-weight="normal" >1.00</text>
<text x="250.2" y="414.68" font-size="3.1" text-anchor="start" fill="#888" font-weight="normal" >0.86</text>
<text x="250.2" y="417.93333333333334" font-size="3.1" text-anchor="start" fill="#888" font-weight="normal" >0.71</text>
<text x="250.2" y="421.18666666666667" font-size="3.1" text-anchor="start" fill="#888" font-weight="normal" >0.57</text>
<text x="250.2" y="424.44" font-size="3.1" text-anchor="start" fill="#888" font-weight="normal" >0.43</text>
<text x="250.2" y="427.6933333333333" font-size="3.1" text-anchor="start" fill="#888" font-weight="normal" >0.29</text>
<text x="250.2" y="430.94666666666666" font-size="3.1" text-anchor="start" fill="#888" font-weight="normal" >0.14</text>
<text x="250.2" y="434.20000000000005" font-size="3.1" text-anchor="start" fill="#888" font-weight="normal" >0.00</text>
<text x="250.2" y="437.4533333333334" font-size="3.1" text-anchor="start" fill="#888" font-weight="normal" >-0.14</text>
<text x="250.2" y="440.7066666666667" font-size="3.1" text-anchor="start" fill="#888" font-weight="normal" >-0.29</text>
<text x="250.2" y="443.96000000000004" font-size="3.1" text-anchor="start" fill="#888" font-weight="normal" >-0.43</text>
<text x="250.2" y="447.21333333333337" font-size="3.1" text-anchor="start" fill="#888" font-weight="normal" >-0.57</text>
<text x="250.2" y="450.4666666666667" font-size="3.1" text-anchor="start" fill="#888" font-weight="normal" >-0.71</text>
<text x="250.2" y="453.72" font-size="3.1" text-anchor="start" fill="#888" font-weight="normal" >-0.86</text>
<text x="250.2" y="456.97333333333336" font-size="3.1" text-anchor="start" fill="#888" font-weight="normal" >-1.00</text>
<rect x="363" y="410.00" width="4" height="3.55" fill="#2b5688"/>
<rect x="363" y="413.25" width="4" height="3.55" fill="#3a6898"/>
<rect x="363" y="416.49" width="4" height="3.55" fill="#4f7fa8"/>
<rect x="363" y="419.74" width="4" height="3.55" fill="#6894b8"/>
<rect x="363" y="422.99" width="4" height="3.55" fill="#86acc8"/>
<rect x="363" y="426.23" width="4" height="3.55" fill="#a8c8da"/>
<rect x="363" y="429.48" width="4" height="3.55" fill="#cfe4ec"/>
<rect x="363" y="432.73" width="4" height="3.55" fill="#f4f4f2"/>
<rect x="363" y="435.97" width="4" height="3.55" fill="#f6ece6"/>
<rect x="363" y="439.22" width="4" height="3.55" fill="#f0d4c8"/>
<rect x="363" y="442.47" width="4" height="3.55" fill="#e8b8a6"/>
<rect x="363" y="445.71" width="4" height="3.55" fill="#e29a86"/>
<rect x="363" y="448.96" width="4" height="3.55" fill="#d87868"/>
<rect x="363" y="452.21" width="4" height="3.55" fill="#c8504a"/>
<rect x="363" y="455.45" width="4" height="3.55" fill="#a82a2e"/>
<text x="369.5" y="412.72333333333336" font-size="3.1" text-anchor="start" fill="#888" font-weight="normal" >1.00</text>
<text x="369.5" y="415.97" font-size="3.1" text-anchor="start" fill="#888" font-weight="normal" >0.86</text>
<text x="369.5" y="419.2166666666667" font-size="3.1" text-anchor="start" fill="#888" font-weight="normal" >0.71</text>
<text x="369.5" y="422.46333333333337" font-size="3.1" text-anchor="start" fill="#888" font-weight="normal" >0.57</text>
<text x="369.5" y="425.71000000000004" font-size="3.1" text-anchor="start" fill="#888" font-weight="normal" >0.43</text>
<text x="369.5" y="428.9566666666667" font-size="3.1" text-anchor="start" fill="#888" font-weight="normal" >0.29</text>
<text x="369.5" y="432.2033333333334" font-size="3.1" text-anchor="start" fill="#888" font-weight="normal" >0.14</text>
<text x="369.5" y="435.45000000000005" font-size="3.1" text-anchor="start" fill="#888" font-weight="normal" >0.00</text>
<text x="369.5" y="438.69666666666666" font-size="3.1" text-anchor="start" fill="#888" font-weight="normal" >-0.14</text>
<text x="369.5" y="441.9433333333333" font-size="3.1" text-anchor="start" fill="#888" font-weight="normal" >-0.29</text>
<text x="369.5" y="445.19" font-size="3.1" text-anchor="start" fill="#888" font-weight="normal" >-0.43</text>
<text x="369.5" y="448.43666666666667" font-size="3.1" text-anchor="start" fill="#888" font-weight="normal" >-0.57</text>
<text x="369.5" y="451.68333333333334" font-size="3.1" text-anchor="start" fill="#888" font-weight="normal" >-0.71</text>
<text x="369.5" y="454.93" font-size="3.1" text-anchor="start" fill="#888" font-weight="normal" >-0.86</text>
<text x="369.5" y="458.1766666666667" font-size="3.1" text-anchor="start" fill="#888" font-weight="normal" >-1.00</text>
<rect x="483.8" y="408.40" width="4" height="3.80" fill="#2b5688"/>
<rect x="483.8" y="411.90" width="4" height="3.80" fill="#3a6898"/>
<rect x="483.8" y="415.40" width="4" height="3.80" fill="#4f7fa8"/>
<rect x="483.8" y="418.90" width="4" height="3.80" fill="#6894b8"/>
<rect x="483.8" y="422.40" width="4" height="3.80" fill="#86acc8"/>
<rect x="483.8" y="425.90" width="4" height="3.80" fill="#a8c8da"/>
<rect x="483.8" y="429.40" width="4" height="3.80" fill="#cfe4ec"/>
<rect x="483.8" y="432.90" width="4" height="3.80" fill="#f4f4f2"/>
<rect x="483.8" y="436.40" width="4" height="3.80" fill="#f6ece6"/>
<rect x="483.8" y="439.90" width="4" height="3.80" fill="#f0d4c8"/>
<rect x="483.8" y="443.40" width="4" height="3.80" fill="#e8b8a6"/>
<rect x="483.8" y="446.90" width="4" height="3.80" fill="#e29a86"/>
<rect x="483.8" y="450.40" width="4" height="3.80" fill="#d87868"/>
<rect x="483.8" y="453.90" width="4" height="3.80" fill="#c8504a"/>
<rect x="483.8" y="457.40" width="4" height="3.80" fill="#a82a2e"/>
<text x="490.3" y="411.25" font-size="3.1" text-anchor="start" fill="#888" font-weight="normal" >1.00</text>
<text x="490.3" y="414.75" font-size="3.1" text-anchor="start" fill="#888" font-weight="normal" >0.86</text>
<text x="490.3" y="418.25" font-size="3.1" text-anchor="start" fill="#888" font-weight="normal" >0.71</text>
<text x="490.3" y="421.75" font-size="3.1" text-anchor="start" fill="#888" font-weight="normal" >0.57</text>
<text x="490.3" y="425.25" font-size="3.1" text-anchor="start" fill="#888" font-weight="normal" >0.43</text>
<text x="490.3" y="428.75" font-size="3.1" text-anchor="start" fill="#888" font-weight="normal" >0.29</text>
<text x="490.3" y="432.25" font-size="3.1" text-anchor="start" fill="#888" font-weight="normal" >0.14</text>
<text x="490.3" y="435.75" font-size="3.1" text-anchor="start" fill="#888" font-weight="normal" >0.00</text>
<text x="490.3" y="439.25" font-size="3.1" text-anchor="start" fill="#888" font-weight="normal" >-0.14</text>
<text x="490.3" y="442.75" font-size="3.1" text-anchor="start" fill="#888" font-weight="normal" >-0.29</text>
<text x="490.3" y="446.25" font-size="3.1" text-anchor="start" fill="#888" font-weight="normal" >-0.43</text>
<text x="490.3" y="449.75" font-size="3.1" text-anchor="start" fill="#888" font-weight="normal" >-0.57</text>
<text x="490.3" y="453.25" font-size="3.1" text-anchor="start" fill="#888" font-weight="normal" >-0.71</text>
<text x="490.3" y="456.75" font-size="3.1" text-anchor="start" fill="#888" font-weight="normal" >-0.86</text>
<text x="490.3" y="460.25" font-size="3.1" text-anchor="start" fill="#888" font-weight="normal" >-1.00</text>
</g>
<g style="font-family:'Liberation Sans',sans-serif">
<line x1="40.4" y1="519.3" x2="40.4" y2="632.2" stroke="#222" stroke-width="0.9"/>
<line x1="40.4" y1="632.2" x2="184" y2="632.2" stroke="#222" stroke-width="0.9"/>
<line x1="37.9" y1="537.7" x2="40.4" y2="537.7" stroke="#222" stroke-width="0.8"/>
<text x="34.8" y="540.0" font-size="5.8" text-anchor="end" fill="#444">10<tspan dy="-2.3" font-size="4.2">0</tspan></text>
<line x1="39.1" y1="554.2" x2="40.4" y2="554.2" stroke="#222" stroke-width="0.5"/>
<line x1="39.1" y1="550.0" x2="40.4" y2="550.0" stroke="#222" stroke-width="0.5"/>
<line x1="39.1" y1="547.1" x2="40.4" y2="547.1" stroke="#222" stroke-width="0.5"/>
<line x1="39.1" y1="544.8" x2="40.4" y2="544.8" stroke="#222" stroke-width="0.5"/>
<line x1="39.1" y1="542.9" x2="40.4" y2="542.9" stroke="#222" stroke-width="0.5"/>
<line x1="39.1" y1="541.4" x2="40.4" y2="541.4" stroke="#222" stroke-width="0.5"/>
<line x1="39.1" y1="540.0" x2="40.4" y2="540.0" stroke="#222" stroke-width="0.5"/>
<line x1="39.1" y1="538.8" x2="40.4" y2="538.8" stroke="#222" stroke-width="0.5"/>
<line x1="37.9" y1="561.3" x2="40.4" y2="561.3" stroke="#222" stroke-width="0.8"/>
<text x="34.8" y="563.6" font-size="5.8" text-anchor="end" fill="#444">10<tspan dy="-2.3" font-size="4.2">-1</tspan></text>
<line x1="39.1" y1="577.8" x2="40.4" y2="577.8" stroke="#222" stroke-width="0.5"/>
<line x1="39.1" y1="573.6" x2="40.4" y2="573.6" stroke="#222" stroke-width="0.5"/>
<line x1="39.1" y1="570.7" x2="40.4" y2="570.7" stroke="#222" stroke-width="0.5"/>
<line x1="39.1" y1="568.4" x2="40.4" y2="568.4" stroke="#222" stroke-width="0.5"/>
<line x1="39.1" y1="566.5" x2="40.4" y2="566.5" stroke="#222" stroke-width="0.5"/>
<line x1="39.1" y1="565.0" x2="40.4" y2="565.0" stroke="#222" stroke-width="0.5"/>
<line x1="39.1" y1="563.6" x2="40.4" y2="563.6" stroke="#222" stroke-width="0.5"/>
<line x1="39.1" y1="562.4" x2="40.4" y2="562.4" stroke="#222" stroke-width="0.5"/>
<line x1="37.9" y1="584.9" x2="40.4" y2="584.9" stroke="#222" stroke-width="0.8"/>
<text x="34.8" y="587.2" font-size="5.8" text-anchor="end" fill="#444">10<tspan dy="-2.3" font-size="4.2">-2</tspan></text>
<line x1="39.1" y1="601.4" x2="40.4" y2="601.4" stroke="#222" stroke-width="0.5"/>
<line x1="39.1" y1="597.2" x2="40.4" y2="597.2" stroke="#222" stroke-width="0.5"/>
<line x1="39.1" y1="594.3" x2="40.4" y2="594.3" stroke="#222" stroke-width="0.5"/>
<line x1="39.1" y1="592.0" x2="40.4" y2="592.0" stroke="#222" stroke-width="0.5"/>
<line x1="39.1" y1="590.1" x2="40.4" y2="590.1" stroke="#222" stroke-width="0.5"/>
<line x1="39.1" y1="588.6" x2="40.4" y2="588.6" stroke="#222" stroke-width="0.5"/>
<line x1="39.1" y1="587.2" x2="40.4" y2="587.2" stroke="#222" stroke-width="0.5"/>
<line x1="39.1" y1="586.0" x2="40.4" y2="586.0" stroke="#222" stroke-width="0.5"/>
<line x1="37.9" y1="608.5" x2="40.4" y2="608.5" stroke="#222" stroke-width="0.8"/>
<text x="34.8" y="610.8" font-size="5.8" text-anchor="end" fill="#444">10<tspan dy="-2.3" font-size="4.2">-3</tspan></text>
<line x1="39.1" y1="625.0" x2="40.4" y2="625.0" stroke="#222" stroke-width="0.5"/>
<line x1="39.1" y1="620.8" x2="40.4" y2="620.8" stroke="#222" stroke-width="0.5"/>
<line x1="39.1" y1="617.9" x2="40.4" y2="617.9" stroke="#222" stroke-width="0.5"/>
<line x1="39.1" y1="615.6" x2="40.4" y2="615.6" stroke="#222" stroke-width="0.5"/>
<line x1="39.1" y1="613.7" x2="40.4" y2="613.7" stroke="#222" stroke-width="0.5"/>
<line x1="39.1" y1="612.2" x2="40.4" y2="612.2" stroke="#222" stroke-width="0.5"/>
<line x1="39.1" y1="610.8" x2="40.4" y2="610.8" stroke="#222" stroke-width="0.5"/>
<line x1="39.1" y1="609.6" x2="40.4" y2="609.6" stroke="#222" stroke-width="0.5"/>
<line x1="37.9" y1="632.1" x2="40.4" y2="632.1" stroke="#222" stroke-width="0.8"/>
<text x="34.8" y="634.4" font-size="5.8" text-anchor="end" fill="#444">10<tspan dy="-2.3" font-size="4.2">-4</tspan></text>
<line x1="39.1" y1="530.6" x2="40.4" y2="530.6" stroke="#222" stroke-width="0.5"/>
<line x1="39.1" y1="526.4" x2="40.4" y2="526.4" stroke="#222" stroke-width="0.5"/>
<line x1="39.1" y1="523.5" x2="40.4" y2="523.5" stroke="#222" stroke-width="0.5"/>
<line x1="39.1" y1="521.2" x2="40.4" y2="521.2" stroke="#222" stroke-width="0.5"/>
<line x1="39.1" y1="519.3" x2="40.4" y2="519.3" stroke="#222" stroke-width="0.5"/>
<line x1="48.4" y1="632.2" x2="48.4" y2="634.5" stroke="#222" stroke-width="0.8"/>
<text x="48.4" y="643.9" font-size="6.2" text-anchor="middle" fill="#444" font-weight="normal" >−1</text>
<line x1="69.7" y1="632.2" x2="69.7" y2="634.5" stroke="#222" stroke-width="0.8"/>
<text x="69.7" y="643.9" font-size="6.2" text-anchor="middle" fill="#444" font-weight="normal" >−0.5</text>
<line x1="91.0" y1="632.2" x2="91.0" y2="634.5" stroke="#222" stroke-width="0.8"/>
<text x="91.0" y="643.9" font-size="6.2" text-anchor="middle" fill="#444" font-weight="normal" >0</text>
<line x1="112.3" y1="632.2" x2="112.3" y2="634.5" stroke="#222" stroke-width="0.8"/>
<text x="112.3" y="643.9" font-size="6.2" text-anchor="middle" fill="#444" font-weight="normal" >0.5</text>
<line x1="133.6" y1="632.2" x2="133.6" y2="634.5" stroke="#222" stroke-width="0.8"/>
<text x="133.6" y="643.9" font-size="6.2" text-anchor="middle" fill="#444" font-weight="normal" >1</text>
<line x1="154.9" y1="632.2" x2="154.9" y2="634.5" stroke="#222" stroke-width="0.8"/>
<text x="154.9" y="643.9" font-size="6.2" text-anchor="middle" fill="#444" font-weight="normal" >1.5</text>
<line x1="176.2" y1="632.2" x2="176.2" y2="634.5" stroke="#222" stroke-width="0.8"/>
<text x="176.2" y="643.9" font-size="6.2" text-anchor="middle" fill="#444" font-weight="normal" >2</text>
<text x="109" y="655.6" font-size="7" fill="#333" font-style="italic">τ<tspan dy="1.8" font-size="4.4">ω</tspan></text>
<text x="110.5" y="652.2" font-size="4.5" text-anchor="middle" fill="#333">~</text>
<text x="16.6" y="575.2" font-size="7" text-anchor="middle" fill="#444" font-weight="normal" textLength="55.5" lengthAdjust="spacingAndGlyphs" transform="rotate(-90 16.6 575.2)">Probability density</text>
<polyline points="63.9,604.8 76.6,546.0 88.1,528.2 99.6,542.3 111.3,553.0 122.8,568.7 134.8,577.6 146.6,588.0 158.2,596.4 170.2,603.6" fill="none" stroke="#9c9ad0" stroke-width="0.8"/><circle cx="63.9" cy="604.8" r="0.9" fill="#9c9ad0"/><circle cx="76.6" cy="546.0" r="0.9" fill="#9c9ad0"/><circle cx="88.1" cy="528.2" r="0.9" fill="#9c9ad0"/><circle cx="99.6" cy="542.3" r="0.9" fill="#9c9ad0"/><circle cx="111.3" cy="553.0" r="0.9" fill="#9c9ad0"/><circle cx="122.8" cy="568.7" r="0.9" fill="#9c9ad0"/><circle cx="134.8" cy="577.6" r="0.9" fill="#9c9ad0"/><circle cx="146.6" cy="588.0" r="0.9" fill="#9c9ad0"/><circle cx="158.2" cy="596.4" r="0.9" fill="#9c9ad0"/><circle cx="170.2" cy="603.6" r="0.9" fill="#9c9ad0"/>
<polyline points="52.4,615.0 63.9,584.0 76.6,552.5 88.1,530.8 99.6,535.0 111.3,558.0 122.8,580.8 134.8,600.0 146.6,615.6 158.2,630.0" fill="none" stroke="#d0203c" stroke-width="0.9"/><circle cx="52.4" cy="615.0" r="0.9" fill="#d0203c"/><circle cx="63.9" cy="584.0" r="0.9" fill="#d0203c"/><circle cx="76.6" cy="552.5" r="0.9" fill="#d0203c"/><circle cx="88.1" cy="530.8" r="0.9" fill="#d0203c"/><circle cx="99.6" cy="535.0" r="0.9" fill="#d0203c"/><circle cx="111.3" cy="558.0" r="0.9" fill="#d0203c"/><circle cx="122.8" cy="580.8" r="0.9" fill="#d0203c"/><circle cx="134.8" cy="600.0" r="0.9" fill="#d0203c"/><circle cx="146.6" cy="615.6" r="0.9" fill="#d0203c"/><circle cx="158.2" cy="630.0" r="0.9" fill="#d0203c"/><line x1="52.4" y1="613.0" x2="52.4" y2="617.0" stroke="#d0203c" stroke-width="0.8"/><line x1="146.6" y1="613.1" x2="146.6" y2="618.1" stroke="#d0203c" stroke-width="0.8"/><line x1="158.2" y1="628.0" x2="158.2" y2="632.0" stroke="#d0203c" stroke-width="0.8"/>
<polyline points="40.4,624.0 52.4,611.2 63.9,581.8 76.6,550.0 88.1,530.8 99.6,535.0 111.3,553.0 122.8,573.5 134.8,589.0 146.6,601.2 158.2,612.0 170.2,621.6" fill="none" stroke="#4caa3c" stroke-width="0.9"/><circle cx="40.4" cy="624.0" r="0.9" fill="#4caa3c"/><circle cx="52.4" cy="611.2" r="0.9" fill="#4caa3c"/><circle cx="63.9" cy="581.8" r="0.9" fill="#4caa3c"/><circle cx="76.6" cy="550.0" r="0.9" fill="#4caa3c"/><circle cx="88.1" cy="530.8" r="0.9" fill="#4caa3c"/><circle cx="99.6" cy="535.0" r="0.9" fill="#4caa3c"/><circle cx="111.3" cy="553.0" r="0.9" fill="#4caa3c"/><circle cx="122.8" cy="573.5" r="0.9" fill="#4caa3c"/><circle cx="134.8" cy="589.0" r="0.9" fill="#4caa3c"/><circle cx="146.6" cy="601.2" r="0.9" fill="#4caa3c"/><circle cx="158.2" cy="612.0" r="0.9" fill="#4caa3c"/><circle cx="170.2" cy="621.6" r="0.9" fill="#4caa3c"/><line x1="122.8" y1="571.0" x2="122.8" y2="576.0" stroke="#4caa3c" stroke-width="0.8"/><line x1="134.8" y1="585.5" x2="134.8" y2="592.5" stroke="#4caa3c" stroke-width="0.8"/><line x1="146.6" y1="598.2" x2="146.6" y2="604.2" stroke="#4caa3c" stroke-width="0.8"/><line x1="158.2" y1="608.5" x2="158.2" y2="615.5" stroke="#4caa3c" stroke-width="0.8"/><line x1="170.2" y1="617.6" x2="170.2" y2="625.6" stroke="#4caa3c" stroke-width="0.8"/>
<polyline points="52.4,633.0 52.4,621.4 63.9,585.7 76.6,551.0 88.1,530.8 99.6,535.0 111.3,555.0 122.8,573.5 134.8,583.0 146.6,592.8 158.2,602.0 170.2,610.0" fill="none" stroke="#1e4f8a" stroke-width="0.9"/><circle cx="52.4" cy="633.0" r="0.9" fill="#1e4f8a"/><circle cx="52.4" cy="621.4" r="0.9" fill="#1e4f8a"/><circle cx="63.9" cy="585.7" r="0.9" fill="#1e4f8a"/><circle cx="76.6" cy="551.0" r="0.9" fill="#1e4f8a"/><circle cx="88.1" cy="530.8" r="0.9" fill="#1e4f8a"/><circle cx="99.6" cy="535.0" r="0.9" fill="#1e4f8a"/><circle cx="111.3" cy="555.0" r="0.9" fill="#1e4f8a"/><circle cx="122.8" cy="573.5" r="0.9" fill="#1e4f8a"/><circle cx="134.8" cy="583.0" r="0.9" fill="#1e4f8a"/><circle cx="146.6" cy="592.8" r="0.9" fill="#1e4f8a"/><circle cx="158.2" cy="602.0" r="0.9" fill="#1e4f8a"/><circle cx="170.2" cy="610.0" r="0.9" fill="#1e4f8a"/>
<line x1="123.3" y1="526.1" x2="130.5" y2="526.1" stroke="#d0203c" stroke-width="0.9"/><line x1="126.9" y1="524.5" x2="126.9" y2="527.7" stroke="#d0203c" stroke-width="0.9"/>
<text x="132.4" y="527.9" font-size="5.3" text-anchor="start" fill="#333" font-weight="normal" >100% normal RBCs</text>
<line x1="123.3" y1="532.2" x2="130.5" y2="532.2" stroke="#4caa3c" stroke-width="0.9"/><line x1="126.9" y1="530.6" x2="126.9" y2="533.8" stroke="#4caa3c" stroke-width="0.9"/>
<text x="132.4" y="534.0" font-size="5.3" text-anchor="start" fill="#333" font-weight="normal" >5% sickle RBCs</text>
<line x1="123.3" y1="538.3" x2="130.5" y2="538.3" stroke="#1e4f8a" stroke-width="0.9"/><line x1="126.9" y1="536.7" x2="126.9" y2="539.9" stroke="#1e4f8a" stroke-width="0.9"/>
<text x="132.4" y="540.1" font-size="5.3" text-anchor="start" fill="#333" font-weight="normal" >10% sickle RBCs</text>
<line x1="123.3" y1="544.4" x2="130.5" y2="544.4" stroke="#9c9ad0" stroke-width="0.9"/><line x1="126.9" y1="542.8" x2="126.9" y2="546.0" stroke="#9c9ad0" stroke-width="0.9"/>
<text x="132.4" y="546.1999999999999" font-size="5.3" text-anchor="start" fill="#333" font-weight="normal" >100% sickle RBCs</text>
<line x1="230" y1="520.5" x2="230" y2="632.2" stroke="#222" stroke-width="0.9"/>
<line x1="230" y1="632.2" x2="370" y2="632.2" stroke="#222" stroke-width="0.9"/>
<line x1="227.5" y1="632.2" x2="230" y2="632.2" stroke="#222" stroke-width="0.8"/>
<text x="226" y="634.3000000000001" font-size="5.8" text-anchor="end" fill="#444" font-weight="normal" >0</text>
<line x1="227.5" y1="604.7" x2="230" y2="604.7" stroke="#222" stroke-width="0.8"/>
<text x="226" y="606.8000000000001" font-size="5.8" text-anchor="end" fill="#444" font-weight="normal" >10</text>
<line x1="227.5" y1="577.2" x2="230" y2="577.2" stroke="#222" stroke-width="0.8"/>
<text x="226" y="579.3000000000001" font-size="5.8" text-anchor="end" fill="#444" font-weight="normal" >20</text>
<line x1="227.5" y1="549.7" x2="230" y2="549.7" stroke="#222" stroke-width="0.8"/>
<text x="226" y="551.8000000000001" font-size="5.8" text-anchor="end" fill="#444" font-weight="normal" >30</text>
<line x1="227.5" y1="522.2" x2="230" y2="522.2" stroke="#222" stroke-width="0.8"/>
<text x="226" y="524.3000000000001" font-size="5.8" text-anchor="end" fill="#444" font-weight="normal" >40</text>
<line x1="238.3" y1="632.2" x2="238.3" y2="634.5" stroke="#222" stroke-width="0.8"/>
<text x="238.3" y="644.2" font-size="6.2" text-anchor="middle" fill="#444" font-weight="normal" >−1</text>
<line x1="280.5" y1="632.2" x2="280.5" y2="634.5" stroke="#222" stroke-width="0.8"/>
<text x="280.5" y="644.2" font-size="6.2" text-anchor="middle" fill="#444" font-weight="normal" >0</text>
<line x1="322.7" y1="632.2" x2="322.7" y2="634.5" stroke="#222" stroke-width="0.8"/>
<text x="322.7" y="644.2" font-size="6.2" text-anchor="middle" fill="#444" font-weight="normal" >1</text>
<line x1="364.9" y1="632.2" x2="364.9" y2="634.5" stroke="#222" stroke-width="0.8"/>
<text x="364.9" y="644.2" font-size="6.2" text-anchor="middle" fill="#444" font-weight="normal" >2</text>
<text x="298.6" y="656" font-size="7" fill="#333" font-style="italic">τ<tspan dy="1.8" font-size="4.4">ω</tspan></text>
<text x="300.1" y="652.6" font-size="4.5" text-anchor="middle" fill="#333">~</text>
<text x="211.3" y="575.6" font-size="7" text-anchor="middle" fill="#444" font-weight="normal" textLength="100" lengthAdjust="spacingAndGlyphs" transform="rotate(-90 211.3 575.6)">Ratio between probability density</text>
<polyline points="242.5,629.5 253.9,629.5 265.3,629.5 277.1,629.5 288.9,629.5 300.3,629.5 312.1,629.5 324.0,629.5 335.4,629.5 347.2,629.5 359.0,629.5" fill="none" stroke="#d0203c" stroke-width="0.8"/><circle cx="242.5" cy="629.5" r="0.9" fill="#d0203c"/><circle cx="253.9" cy="629.5" r="0.9" fill="#d0203c"/><circle cx="265.3" cy="629.5" r="0.9" fill="#d0203c"/><circle cx="277.1" cy="629.5" r="0.9" fill="#d0203c"/><circle cx="288.9" cy="629.5" r="0.9" fill="#d0203c"/><circle cx="300.3" cy="629.5" r="0.9" fill="#d0203c"/><circle cx="312.1" cy="629.5" r="0.9" fill="#d0203c"/><circle cx="324.0" cy="629.5" r="0.9" fill="#d0203c"/><circle cx="335.4" cy="629.5" r="0.9" fill="#d0203c"/><circle cx="347.2" cy="629.5" r="0.9" fill="#d0203c"/><circle cx="359.0" cy="629.5" r="0.9" fill="#d0203c"/>
<polyline points="242.5,628.6 253.9,628.1 265.3,629.5 277.1,629.7 288.9,629.5 300.3,628.1 312.1,626.7 324.0,624.0 335.4,621.2 347.2,613.5 359.0,614.9" fill="none" stroke="#4caa3c" stroke-width="0.8"/><circle cx="242.5" cy="628.6" r="0.9" fill="#4caa3c"/><circle cx="253.9" cy="628.1" r="0.9" fill="#4caa3c"/><circle cx="265.3" cy="629.5" r="0.9" fill="#4caa3c"/><circle cx="277.1" cy="629.7" r="0.9" fill="#4caa3c"/><circle cx="288.9" cy="629.5" r="0.9" fill="#4caa3c"/><circle cx="300.3" cy="628.1" r="0.9" fill="#4caa3c"/><circle cx="312.1" cy="626.7" r="0.9" fill="#4caa3c"/><circle cx="324.0" cy="624.0" r="0.9" fill="#4caa3c"/><circle cx="335.4" cy="621.2" r="0.9" fill="#4caa3c"/><circle cx="347.2" cy="613.5" r="0.9" fill="#4caa3c"/><circle cx="359.0" cy="614.9" r="0.9" fill="#4caa3c"/>
<polyline points="242.5,631.4 253.9,630.3 265.3,628.9 277.1,629.7 288.9,630.0 300.3,628.6 312.1,627.2 324.0,621.2 335.4,611.6 347.2,593.2 359.0,589.6" fill="none" stroke="#1e4f8a" stroke-width="0.9"/><circle cx="242.5" cy="631.4" r="0.9" fill="#1e4f8a"/><circle cx="253.9" cy="630.3" r="0.9" fill="#1e4f8a"/><circle cx="265.3" cy="628.9" r="0.9" fill="#1e4f8a"/><circle cx="277.1" cy="629.7" r="0.9" fill="#1e4f8a"/><circle cx="288.9" cy="630.0" r="0.9" fill="#1e4f8a"/><circle cx="300.3" cy="628.6" r="0.9" fill="#1e4f8a"/><circle cx="312.1" cy="627.2" r="0.9" fill="#1e4f8a"/><circle cx="324.0" cy="621.2" r="0.9" fill="#1e4f8a"/><circle cx="335.4" cy="611.6" r="0.9" fill="#1e4f8a"/><circle cx="347.2" cy="593.2" r="0.9" fill="#1e4f8a"/><circle cx="359.0" cy="589.6" r="0.9" fill="#1e4f8a"/>
<polyline points="242.5,631.4 253.9,630.0 265.3,628.1 277.1,629.5 288.9,630.0 300.3,627.8 312.1,624.0 324.0,610.2 335.4,593.7 347.2,549.7 359.0,538.7" fill="none" stroke="#9c9ad0" stroke-width="0.8"/><circle cx="242.5" cy="631.4" r="0.9" fill="#9c9ad0"/><circle cx="253.9" cy="630.0" r="0.9" fill="#9c9ad0"/><circle cx="265.3" cy="628.1" r="0.9" fill="#9c9ad0"/><circle cx="277.1" cy="629.5" r="0.9" fill="#9c9ad0"/><circle cx="288.9" cy="630.0" r="0.9" fill="#9c9ad0"/><circle cx="300.3" cy="627.8" r="0.9" fill="#9c9ad0"/><circle cx="312.1" cy="624.0" r="0.9" fill="#9c9ad0"/><circle cx="324.0" cy="610.2" r="0.9" fill="#9c9ad0"/><circle cx="335.4" cy="593.7" r="0.9" fill="#9c9ad0"/><circle cx="347.2" cy="549.7" r="0.9" fill="#9c9ad0"/><circle cx="359.0" cy="538.7" r="0.9" fill="#9c9ad0"/>
<line x1="233.3" y1="531.5" x2="241" y2="531.5" stroke="#d0203c" stroke-width="0.9"/>
<text x="243.5" y="533.3" font-size="5.3" text-anchor="start" fill="#333" font-weight="normal" >100% normal RBCs</text>
<line x1="233.3" y1="537.6" x2="241" y2="537.6" stroke="#4caa3c" stroke-width="0.9"/>
<text x="243.5" y="539.4" font-size="5.3" text-anchor="start" fill="#333" font-weight="normal" >5% sickle RBCs</text>
<line x1="233.3" y1="543.7" x2="241" y2="543.7" stroke="#1e4f8a" stroke-width="0.9"/>
<text x="243.5" y="545.5" font-size="5.3" text-anchor="start" fill="#333" font-weight="normal" >10% sickle RBCs</text>
<line x1="233.3" y1="549.8" x2="241" y2="549.8" stroke="#9c9ad0" stroke-width="0.9"/>
<text x="243.5" y="551.5999999999999" font-size="5.3" text-anchor="start" fill="#333" font-weight="normal" >100% sickle RBCs</text>
</g>
<rect x="0.5" y="0.5" width="519" height="664" fill="none" stroke="#4a4a4a" stroke-width="1.2"/>
</svg>
</body></html>
